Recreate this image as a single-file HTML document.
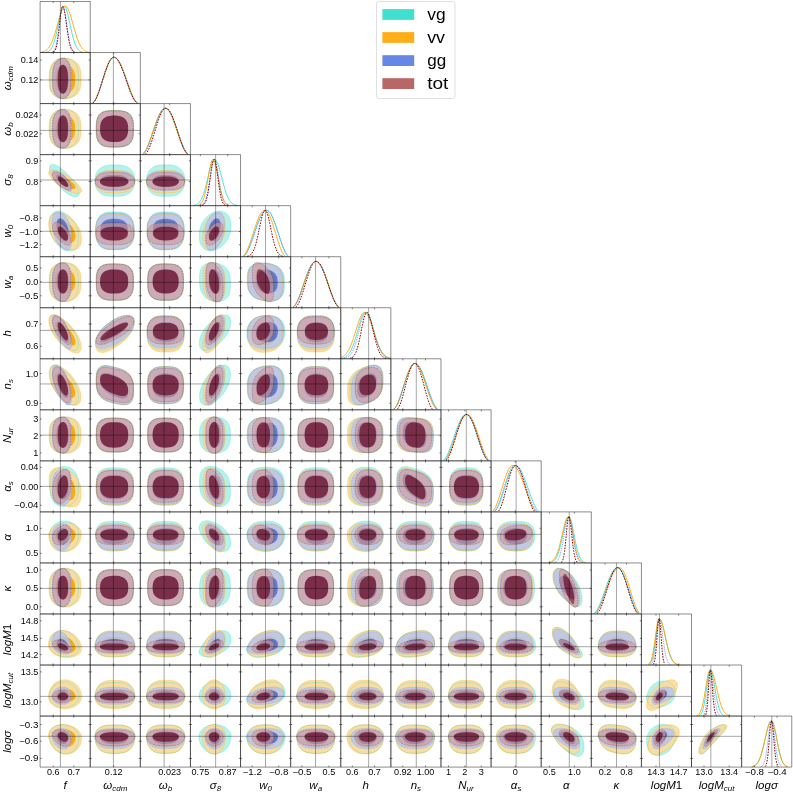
<!DOCTYPE html><html><head><meta charset="utf-8"><title>corner</title><style>html,body{margin:0;padding:0;background:#fff}svg{display:block}text{font-family:"Liberation Sans",sans-serif;fill:#000}</style></head><body>
<svg width="793" height="792" viewBox="0 0 793 792">
<rect width="793" height="792" fill="#fff"/>
<defs>
<path id="ovg" d="M785 792l0-32l-2-33l-5-33l-9-32l-15-27l-19-21l-21-15l-22-10l-22-7l-22-3l-22 0l-20 3l-21 7l-20 10l-19 15l-18 21l-14 27l-8 32l-5 33l-1 33l0 32l0 30l1 30l5 31l8 29l14 24l18 20l19 14l20 9l21 6l20 3l22 0l22-3l22-6l22-9l21-14l19-20l15-24l9-29l5-31l2-30zM785 1288l0-30l-2-31l-5-32l-10-29l-16-25l-20-19l-22-14l-22-9l-23-5l-23-3l-21 1l-21 4l-21 7l-21 11l-19 17l-17 22l-12 27l-7 31l-3 31l0 31l0 30l0 31l3 32l7 30l12 28l17 22l19 16l21 11l21 8l21 3l21 1l23-2l23-6l22-9l22-13l20-19l16-25l10-30l5-31l2-31zM1337 1288l0-26l-1-28l-4-28l-8-28l-15-27l-22-21l-28-14l-30-7l-31-4l-29-1l-28 0l-26 0l-26 1l-28 4l-28 7l-26 14l-20 21l-14 27l-7 28l-4 28l-1 28l0 26l0 27l1 27l4 28l7 29l14 26l20 21l26 14l28 8l28 3l26 1l26 0l28 0l29-1l31-3l30-8l28-14l22-21l15-26l8-29l4-28l1-27zM791 1934l-2-19l-7-23l-11-24l-14-27l-19-27l-21-28l-23-27l-25-25l-26-24l-25-21l-23-17l-23-14l-20-9l-18-5l-15 0l-12 5l-8 9l-4 13l0 18l4 20l8 24l12 25l15 27l18 28l20 27l23 27l23 25l25 22l26 19l25 16l23 11l21 7l19 2l14-2l11-7l7-11zM1351 1807l-2-23l-4-23l-8-23l-12-23l-16-21l-23-18l-27-13l-31-9l-32-3l-32-1l-30 0l-28 0l-29 2l-30 6l-27 11l-23 16l-18 20l-13 21l-9 23l-5 23l-3 23l0 23l3 23l5 23l9 23l13 21l18 20l23 16l27 11l30 6l29 2l28 0l30 0l32-1l32-3l31-9l27-13l23-18l16-21l12-23l8-23l4-23zM1850 1807l-2-24l-4-23l-7-24l-12-23l-16-21l-22-18l-27-13l-29-8l-31-3l-29 0l-29 0l-29 0l-31 3l-29 8l-27 13l-22 18l-16 21l-12 23l-7 24l-4 23l-2 24l2 23l4 23l7 24l12 23l16 21l22 18l27 13l29 8l31 3l29 0l29 0l29 0l31-3l29-8l27-13l22-18l16-21l12-23l7-24l4-23zM788 2378l-1-29l-4-30l-7-30l-12-31l-15-29l-18-27l-21-24l-22-20l-23-17l-23-13l-22-10l-21-6l-20-2l-20 3l-18 7l-16 13l-12 18l-9 22l-5 26l-2 27l0 29l2 29l5 30l9 31l12 31l16 28l18 25l20 22l20 19l21 15l22 11l23 8l23 4l22 0l21-5l18-11l15-15l12-20l7-24l4-27zM1344 2309l-1-27l-2-27l-6-28l-10-28l-16-26l-21-22l-27-16l-30-9l-31-5l-30-1l-29 0l-26 0l-28 1l-28 5l-28 9l-24 16l-20 22l-14 26l-10 28l-5 28l-3 27l0 27l0 27l3 28l5 28l10 27l14 26l20 22l24 16l28 10l28 4l28 1l26 1l29-1l30-1l31-4l30-10l27-16l21-22l16-26l10-27l6-28l2-28zM1843 2309l0-27l-3-27l-5-28l-9-28l-15-26l-19-22l-25-16l-28-9l-28-5l-28-1l-26 0l-27 0l-28 1l-28 5l-28 9l-25 16l-19 22l-15 26l-9 28l-5 28l-3 27l0 27l0 27l3 28l5 28l9 27l15 26l19 22l25 16l28 10l28 4l28 1l27 1l26-1l28-1l28-4l28-10l25-16l19-22l15-26l9-27l5-28l3-28zM2307 2260l-1-28l-3-27l-7-25l-11-22l-15-18l-17-14l-20-9l-21-5l-22-1l-23 3l-23 6l-23 10l-22 13l-22 17l-21 20l-18 23l-16 26l-13 28l-9 30l-5 29l-2 28l0 28l2 28l5 26l9 24l13 20l16 16l18 11l21 7l22 3l22-1l23-4l23-8l23-12l22-15l21-18l20-21l17-25l15-28l11-28l7-30l3-29zM785 2815l0-29l-2-30l-5-30l-10-28l-16-24l-20-19l-22-13l-22-9l-23-5l-23-2l-21 1l-21 3l-21 7l-21 11l-19 16l-17 21l-12 26l-7 30l-3 30l0 30l0 30l0 31l3 32l7 32l12 28l17 22l19 17l21 12l21 7l21 4l21 0l23-2l23-5l22-10l22-14l20-19l16-26l10-30l5-32l2-32zM1337 2815l0-25l-1-26l-4-28l-8-27l-15-25l-22-20l-28-14l-30-7l-31-3l-29-1l-28-1l-26 1l-26 1l-28 3l-28 7l-26 14l-20 20l-14 25l-7 27l-4 28l-1 26l0 25l0 27l1 28l4 29l7 29l14 27l20 22l26 14l28 8l28 3l26 1l26 0l28 0l29-1l31-3l30-8l28-14l22-22l15-27l8-29l4-29l1-28zM1837 2815l0-26l-1-27l-4-28l-8-27l-15-26l-22-20l-27-13l-28-6l-28-3l-28 0l-26-1l-27 1l-28 1l-28 5l-28 9l-25 16l-19 23l-11 27l-6 28l-2 28l0 26l0 27l0 28l2 29l6 30l11 29l19 24l25 18l28 10l28 5l28 1l27 0l26 0l28 0l28-3l28-7l27-14l22-21l15-27l8-30l4-30l1-28zM2304 2835l-1-29l-1-30l-5-30l-10-28l-15-26l-20-21l-22-16l-23-12l-23-9l-23-5l-23-3l-23 0l-23 3l-23 6l-21 11l-20 16l-15 22l-10 26l-5 29l-2 29l0 28l0 29l2 31l5 32l10 31l15 27l20 23l21 17l23 13l23 9l23 6l23 3l23 0l23-3l23-7l22-11l20-18l15-23l10-28l5-31l1-31zM2844 2835l0-28l-1-27l-4-28l-10-27l-16-26l-21-22l-25-16l-27-12l-28-8l-27-5l-27-3l-26-2l-27 0l-28 2l-27 7l-25 11l-22 17l-15 23l-10 26l-4 27l-1 27l0 26l0 26l1 29l4 30l10 30l15 27l22 23l25 17l27 13l28 8l27 6l26 3l27 2l27 1l28-3l27-7l25-12l21-19l16-24l10-27l4-29l1-29zM788 3450l-2-22l-5-24l-9-27l-14-29l-17-30l-21-29l-22-27l-24-26l-25-23l-24-20l-23-17l-22-13l-21-9l-18-4l-17 1l-12 6l-9 12l-5 16l-1 20l1 22l5 24l9 27l12 29l17 30l18 29l21 27l22 26l23 23l24 20l25 17l24 13l22 9l21 4l17-1l14-6l9-12l5-16zM1344 3223l-1-19l-5-16l-9-14l-14-11l-18-7l-22-2l-25 2l-28 6l-29 10l-29 12l-29 15l-28 17l-27 19l-26 21l-24 23l-22 25l-19 25l-14 26l-11 24l-6 22l-3 21l0 19l3 18l6 16l11 12l14 9l19 4l22 1l24-4l26-8l27-12l28-14l29-15l29-18l29-20l28-23l25-24l22-25l18-25l14-25l9-23l5-22zM1843 3327l0-24l-3-25l-5-26l-10-25l-16-23l-21-19l-26-14l-28-8l-29-3l-28-1l-27 0l-28 0l-28 2l-29 6l-28 10l-24 17l-18 21l-12 25l-8 25l-4 25l-1 25l0 25l1 25l4 25l8 25l12 25l18 21l24 17l28 10l29 6l28 2l28 0l27 0l28-1l29-3l28-8l26-14l21-19l16-23l10-25l5-26l3-25zM2307 3222l-2-21l-4-18l-9-15l-13-11l-16-6l-20-1l-21 3l-23 8l-25 11l-24 15l-25 18l-24 21l-23 24l-22 25l-19 27l-16 28l-13 28l-9 27l-5 25l-1 23l1 21l5 18l9 15l13 11l16 6l19 1l22-3l23-8l24-11l25-15l24-18l25-21l23-24l21-25l20-27l16-28l13-28l9-27l4-25zM2848 3319l-1-25l-3-25l-7-25l-12-24l-17-21l-21-17l-25-13l-27-8l-28-5l-28-1l-27 1l-28 3l-28 5l-28 9l-26 13l-23 17l-19 21l-14 24l-10 25l-5 25l-2 26l0 25l2 25l5 25l10 24l14 22l19 20l23 15l26 10l28 7l28 2l28 0l27-1l28-4l28-7l27-11l25-15l21-19l17-23l12-24l7-25l3-26zM3344 3327l-1-25l-3-26l-6-26l-10-25l-15-23l-22-20l-26-13l-28-7l-28-2l-27-1l-28 0l-29 1l-31 2l-30 7l-27 13l-23 20l-17 23l-11 25l-6 26l-3 26l0 25l0 26l3 26l6 26l11 25l17 23l23 20l27 13l30 7l31 2l29 1l28 0l27-1l28-2l28-7l26-13l22-20l15-23l10-25l6-26l3-26zM785 3972l-1-25l-5-27l-8-28l-11-30l-15-31l-17-31l-20-29l-21-27l-22-24l-23-22l-21-17l-21-14l-20-10l-19-6l-17 0l-15 4l-12 10l-9 15l-6 19l-2 23l0 25l2 27l6 29l9 31l12 31l15 30l17 28l19 27l20 25l21 22l21 18l23 15l22 12l21 7l20 3l17-2l15-7l11-12l8-16l5-20zM1337 3901l0-25l-1-27l-4-29l-9-30l-15-29l-22-27l-28-21l-30-15l-30-11l-29-8l-28-7l-26-6l-26-6l-28-4l-27 1l-26 7l-20 16l-14 22l-8 26l-3 27l-2 27l0 26l0 27l2 27l3 28l8 28l14 29l20 25l26 20l27 15l28 10l26 8l26 6l28 7l29 5l30 4l30-1l28-7l22-15l15-22l9-24l4-26l1-26zM1837 3856l0-27l-1-28l-4-29l-8-29l-14-27l-20-22l-25-15l-28-8l-28-3l-27-1l-25-1l-26 1l-27 1l-28 3l-28 8l-25 15l-20 22l-14 27l-8 29l-4 29l-1 28l0 27l0 26l1 27l4 27l8 28l14 25l20 21l25 14l28 8l28 4l27 1l26 0l25 0l27-1l28-4l28-8l25-14l20-21l14-25l8-28l4-27l1-27zM2304 3744l-2-24l-4-22l-8-19l-11-14l-14-9l-18-5l-19 0l-22 5l-22 10l-23 13l-23 16l-22 20l-23 23l-21 26l-19 28l-18 30l-14 30l-12 30l-8 28l-4 27l-1 25l1 24l4 21l8 18l12 13l14 9l18 5l19-1l21-4l23-9l22-13l23-16l23-19l22-22l22-24l19-27l18-29l14-29l11-31l8-29l4-29zM2844 3836l0-28l-2-28l-4-29l-10-27l-16-24l-21-19l-25-12l-27-8l-27-3l-27 1l-27 2l-26 3l-27 6l-27 9l-27 12l-25 18l-21 23l-16 27l-10 30l-5 29l-1 29l0 28l0 26l1 28l5 27l10 26l16 23l21 18l25 12l27 7l27 3l27-1l26-2l27-3l27-5l27-9l27-12l25-17l21-22l16-26l10-28l4-29l2-27zM3337 3856l0-27l-1-28l-3-29l-8-29l-13-27l-20-22l-24-15l-27-8l-26-3l-26-1l-25-1l-27 1l-27 1l-28 3l-29 8l-26 15l-20 22l-15 27l-8 29l-3 29l-2 28l0 27l0 26l2 27l3 27l8 28l15 25l20 21l26 14l29 8l28 4l27 1l27 0l25 0l26-1l26-4l27-8l24-14l20-21l13-25l8-28l3-27l1-27zM3829 3797l-1-27l-1-28l-5-27l-9-24l-15-20l-20-12l-23-6l-24-1l-25 4l-25 7l-24 8l-24 10l-25 12l-25 16l-24 20l-21 24l-18 29l-12 31l-7 30l-2 29l-1 27l0 26l1 26l2 27l7 25l12 21l18 15l21 9l24 3l25-2l25-5l24-7l24-9l25-10l25-14l24-17l23-21l20-26l15-28l9-30l5-29l1-28zM785 4349l0-29l-2-30l-6-30l-12-28l-18-23l-21-17l-24-12l-24-7l-24-4l-23 0l-22 2l-22 5l-22 10l-21 14l-18 20l-14 25l-8 30l-4 30l0 30l0 29l0 30l4 31l8 30l14 26l18 20l21 15l22 9l22 6l22 2l23 0l24-4l24-8l24-12l21-17l18-23l12-28l6-31l2-31zM1337 4349l0-25l-1-25l-4-27l-9-26l-16-25l-24-19l-29-12l-31-6l-31-3l-29-1l-28 0l-27 1l-27 1l-29 4l-28 9l-25 16l-18 22l-12 26l-5 27l-2 26l-1 25l0 25l1 26l2 26l5 28l12 26l18 22l25 16l28 9l29 5l27 1l27 0l28 0l29 0l31-3l31-6l29-13l24-19l16-25l9-27l4-27l1-26zM1837 4349l0-25l-1-26l-4-28l-9-27l-16-24l-23-19l-28-11l-30-6l-28-2l-28-1l-27 0l-28 1l-28 2l-30 6l-28 11l-23 19l-16 24l-9 27l-4 28l-1 26l0 25l0 26l1 27l4 28l9 28l16 24l23 19l28 12l30 6l28 2l28 0l27 0l28 0l28-2l30-6l28-12l23-19l16-24l9-28l4-28l1-27zM2304 4349l-1-28l-1-30l-6-29l-12-28l-17-22l-21-18l-24-12l-24-8l-24-4l-24-1l-24 1l-25 4l-24 8l-23 12l-21 18l-18 22l-11 28l-6 29l-2 30l0 28l0 29l2 30l6 30l11 28l18 24l21 17l23 12l24 8l25 5l24 1l24-1l24-5l24-8l24-12l21-17l17-24l12-28l6-30l1-30zM2844 4349l0-25l-1-27l-5-27l-10-26l-17-23l-22-19l-27-13l-28-8l-28-4l-27-2l-27-1l-28 1l-28 3l-28 7l-27 10l-25 16l-20 21l-13 25l-7 27l-3 26l0 27l0 25l0 27l3 27l7 28l13 25l20 21l25 16l27 11l28 6l28 3l28 1l27 0l27-2l28-4l28-9l27-13l22-19l17-23l10-27l5-28l1-27zM3337 4349l0-25l-1-26l-3-28l-9-27l-15-24l-23-19l-27-11l-28-6l-27-2l-27-1l-27 0l-28 1l-29 2l-31 6l-28 11l-24 19l-17 24l-9 27l-4 28l-1 26l0 25l0 26l1 27l4 28l9 28l17 24l24 19l28 12l31 6l29 2l28 0l27 0l27 0l27-2l28-6l27-12l23-19l15-24l9-28l3-28l1-27zM3829 4349l-1-27l-1-27l-5-29l-10-27l-17-23l-23-18l-25-12l-26-7l-26-3l-26-2l-25 1l-26 2l-26 5l-26 9l-24 15l-20 21l-13 25l-8 28l-3 29l0 27l0 27l0 28l3 29l8 28l13 26l20 21l24 15l26 10l26 5l26 2l25 0l26-1l26-3l26-7l25-13l23-18l17-23l10-28l5-29l1-28zM4333 4358l-1-26l-1-26l-4-27l-9-28l-17-24l-24-20l-29-13l-30-7l-29-4l-28-2l-28-1l-27-1l-28 1l-28 5l-28 10l-23 18l-16 23l-9 26l-4 27l-1 26l0 26l0 26l1 26l4 28l9 28l16 25l23 20l28 13l28 8l28 4l27 1l28 2l28 0l29-1l30-4l29-11l24-17l17-24l9-27l4-28l1-26zM785 4864l0-30l-2-32l-6-31l-11-29l-15-25l-20-20l-21-14l-22-10l-23-6l-23-2l-21 1l-21 4l-21 7l-20 12l-19 17l-17 22l-12 28l-7 30l-3 32l-1 31l0 31l1 31l3 31l7 31l12 27l17 23l19 16l20 12l21 8l21 4l21 1l23-3l23-6l22-9l21-14l20-20l15-25l11-29l6-32l2-31zM1337 4864l0-26l-1-28l-4-28l-9-29l-15-26l-22-22l-28-14l-30-8l-30-4l-29-1l-28 0l-26 0l-26 1l-28 4l-27 8l-26 14l-20 22l-14 26l-8 29l-3 28l-2 28l0 26l0 27l2 28l3 28l8 28l14 27l20 21l26 15l27 8l28 3l26 1l26 1l28-1l29-1l30-3l30-8l28-15l22-21l15-27l9-28l4-28l1-28zM1837 4864l0-26l-1-28l-4-28l-8-29l-14-26l-20-22l-25-14l-28-8l-28-4l-27-1l-25 0l-26 0l-27 1l-28 4l-28 8l-25 14l-20 22l-14 26l-8 29l-4 28l-1 28l0 26l0 27l1 28l4 28l8 28l14 27l20 21l25 15l28 8l28 3l27 1l26 1l25-1l27-1l28-3l28-8l25-15l20-21l14-27l8-28l4-28l1-28zM2304 4904l-1-29l-1-29l-5-31l-10-30l-15-28l-18-25l-21-20l-21-16l-23-12l-22-10l-23-6l-22-4l-23-1l-22 3l-21 7l-20 12l-17 18l-12 23l-7 27l-3 28l-1 29l0 29l1 29l3 30l7 31l12 29l17 27l20 22l21 18l22 14l23 11l22 8l23 5l22 2l23 0l21-5l21-10l18-14l15-21l10-25l5-28l1-29zM2844 4864l0-27l-2-29l-4-29l-10-28l-16-25l-21-20l-25-15l-27-10l-27-6l-27-3l-27-1l-26 1l-27 3l-27 6l-27 10l-25 15l-21 20l-16 25l-10 28l-5 29l-1 29l0 27l0 28l1 28l5 29l10 28l16 25l21 21l25 15l27 10l27 6l27 3l26 0l27 0l27-3l27-6l27-10l25-15l21-21l16-25l10-28l4-29l2-28zM3337 4864l0-26l-1-28l-3-28l-8-29l-13-26l-20-22l-24-14l-27-8l-26-4l-26-1l-25 0l-27 0l-27 1l-28 4l-29 8l-26 14l-20 22l-15 26l-8 29l-3 28l-2 28l0 26l0 27l2 28l3 28l8 28l15 27l20 21l26 15l29 8l28 3l27 1l27 1l25-1l26-1l26-3l27-8l24-15l20-21l13-27l8-28l3-28l1-28zM3829 4864l-1-28l-1-29l-5-30l-9-28l-15-25l-20-21l-23-14l-24-10l-25-5l-25-2l-24 0l-24 1l-25 3l-25 7l-24 12l-21 18l-18 23l-12 27l-7 29l-2 30l-1 28l0 28l1 29l2 29l7 30l12 27l18 23l21 17l24 12l25 7l25 4l24 1l24 0l25-2l25-6l24-9l23-15l20-20l15-25l9-29l5-29l1-29zM4333 4920l-1-25l-1-27l-4-28l-8-30l-15-29l-21-26l-26-22l-28-16l-28-13l-28-9l-26-8l-26-8l-26-7l-27-5l-27 0l-25 6l-20 14l-14 20l-8 24l-4 26l-1 26l0 25l0 26l1 27l4 28l8 29l14 29l20 27l25 21l27 17l27 12l26 10l26 8l26 8l28 7l28 4l28 1l26-6l21-14l15-20l8-25l4-26l1-25zM4830 4864l0-28l-1-29l-4-29l-9-30l-14-27l-21-20l-26-13l-27-7l-26-2l-25-1l-25 0l-26 1l-27 2l-27 7l-26 13l-21 20l-15 27l-9 30l-4 29l-1 29l-1 28l1 28l1 29l4 30l9 30l15 26l21 21l26 13l27 7l27 2l26 1l25 0l25-1l26-2l27-7l26-13l21-21l14-26l9-30l4-30l1-29zM788 5339l-2-24l-6-24l-11-22l-17-20l-20-16l-23-12l-26-8l-26-4l-27 0l-25 4l-24 9l-22 12l-20 16l-17 20l-13 22l-8 24l-4 25l0 28l4 30l8 28l13 26l17 22l20 17l22 12l24 7l25 2l27-2l26-8l26-12l23-18l20-22l17-25l11-28l6-30zM1344 5346l-1-20l-4-21l-8-20l-12-20l-19-19l-25-15l-30-10l-32-5l-32-2l-32 0l-29 0l-29 1l-31 3l-29 8l-25 12l-20 17l-14 20l-10 20l-5 21l-2 20l0 22l2 25l5 25l10 25l14 24l20 20l25 16l29 9l31 4l29 1l29 0l32 0l32-3l32-6l30-12l25-18l19-23l12-24l8-25l4-25zM1843 5346l-1-21l-3-21l-8-21l-12-20l-18-19l-25-14l-29-10l-30-4l-31-2l-29 0l-30 0l-31 2l-30 4l-29 10l-25 14l-18 19l-12 20l-8 21l-3 21l-1 21l1 25l3 26l8 26l12 25l18 22l25 18l29 11l30 6l31 2l30 0l29 0l31-2l30-6l29-11l25-18l18-22l12-25l8-26l3-26zM2307 5430l-2-26l-6-27l-10-28l-15-25l-19-23l-22-21l-24-19l-26-17l-27-14l-26-11l-26-7l-25-4l-24 0l-20 4l-17 8l-13 13l-8 16l-4 18l0 21l4 21l8 23l13 26l17 29l20 27l24 25l25 22l26 18l26 15l27 12l26 7l24 2l22-2l19-8l15-13l10-17l6-22zM2848 5346l-1-21l-5-20l-9-20l-13-20l-19-17l-22-14l-27-11l-28-7l-29-4l-29-1l-29 1l-30 2l-29 5l-27 9l-25 13l-20 16l-16 18l-11 20l-7 20l-3 21l0 23l3 25l7 25l11 24l16 22l20 19l25 16l27 10l29 7l30 3l29 0l29-1l29-5l28-8l27-14l22-17l19-21l13-23l9-25l5-25zM3344 5346l-1-21l-4-21l-7-21l-12-20l-18-19l-23-14l-28-10l-29-4l-30-2l-28 0l-30 0l-31 2l-32 4l-30 10l-25 14l-18 19l-13 20l-7 21l-4 21l-1 21l1 25l4 26l7 26l13 25l18 22l25 18l30 11l32 6l31 2l30 0l28 0l30-2l29-6l28-11l23-18l18-22l12-25l7-26l4-26zM3832 5346l-2-22l-4-22l-10-22l-14-20l-19-18l-24-14l-26-9l-28-6l-28-2l-28 0l-28 2l-28 6l-26 9l-23 14l-20 18l-14 20l-9 22l-5 22l-2 22l2 27l5 27l9 27l14 24l20 21l23 17l26 12l28 6l28 3l28 0l28-3l28-6l26-12l24-17l19-21l14-24l10-27l4-27zM4339 5346l-1-21l-4-21l-8-21l-13-20l-19-18l-25-14l-29-10l-32-5l-31-2l-30 0l-29 0l-30 2l-30 5l-28 10l-24 14l-18 18l-13 20l-7 21l-4 21l-1 21l1 25l4 26l7 25l13 25l18 22l24 18l28 11l30 6l30 3l29 0l30 0l31-3l32-6l29-11l25-18l19-22l13-25l8-25l4-26zM4836 5346l-1-22l-4-22l-8-22l-13-21l-19-19l-25-14l-29-8l-29-3l-29-1l-29 0l-30 1l-30 3l-29 8l-26 14l-19 19l-13 21l-8 22l-4 22l-1 22l1 27l4 27l8 27l13 26l19 22l26 17l29 10l30 4l30 1l29 0l29-1l29-4l29-10l25-17l19-22l13-26l8-27l4-27zM5350 5346l-1-21l-4-21l-8-21l-13-20l-18-18l-25-14l-29-10l-30-5l-31-2l-30 0l-30 0l-31 2l-30 5l-29 10l-25 14l-18 18l-13 20l-8 21l-4 21l-1 21l1 25l4 26l8 25l13 25l18 22l25 18l29 11l30 6l31 3l30 0l30 0l31-3l30-6l29-11l25-18l18-22l13-25l8-25l4-26zM785 5876l0-30l-2-30l-6-30l-11-29l-15-24l-20-19l-21-14l-22-9l-23-5l-23-3l-21 1l-21 4l-21 7l-20 12l-19 16l-17 22l-12 26l-7 30l-3 30l-1 30l0 30l1 30l3 31l7 29l12 27l17 22l19 16l20 11l21 8l21 4l21 0l23-2l23-5l22-10l21-14l20-19l15-24l11-28l6-31l2-30zM1337 5876l0-26l-1-26l-4-28l-9-27l-15-26l-22-21l-28-14l-30-8l-30-3l-29-1l-28 0l-26 0l-26 1l-28 3l-27 8l-26 14l-20 21l-14 26l-8 27l-3 28l-2 26l0 26l0 26l2 27l3 27l8 28l14 26l20 20l26 14l27 8l28 4l26 1l26 0l28 0l29-1l30-4l30-8l28-14l22-20l15-26l9-28l4-27l1-27zM1837 5876l0-26l-1-28l-4-28l-9-28l-15-26l-21-20l-27-13l-28-8l-28-2l-28-1l-26 0l-27 0l-27 2l-29 4l-28 10l-24 17l-19 24l-11 27l-6 28l-3 28l0 27l0 26l0 27l3 28l6 29l11 27l19 23l24 17l28 10l29 5l27 2l27 0l26 0l28-1l28-3l28-7l27-13l21-21l15-26l9-28l4-28l1-27zM2304 5867l-1-29l-2-30l-5-29l-10-28l-16-23l-19-18l-21-12l-23-9l-23-5l-23-1l-23 1l-23 5l-23 7l-22 12l-22 15l-19 20l-15 26l-10 28l-6 30l-2 30l0 29l0 29l2 29l6 30l10 27l15 23l19 18l22 13l22 8l23 5l23 2l23-2l23-4l23-8l23-11l21-16l19-20l16-25l10-29l5-30l2-29zM2844 5876l0-27l-2-27l-4-28l-10-27l-16-25l-21-19l-25-15l-27-10l-27-5l-27-3l-27-1l-26 1l-27 3l-27 5l-27 10l-25 15l-21 19l-16 25l-10 27l-5 28l-1 27l0 27l0 27l1 28l5 27l10 28l16 24l21 20l25 15l27 9l27 6l27 3l26 0l27 0l27-3l27-6l27-9l25-15l21-20l16-24l10-28l4-27l2-28zM3337 5876l0-26l-1-28l-4-28l-8-28l-14-26l-21-20l-25-13l-28-8l-27-2l-26-1l-26 0l-27 0l-28 2l-30 4l-28 10l-25 17l-19 24l-12 27l-6 28l-2 28l-1 27l0 26l1 27l2 28l6 29l12 27l19 23l25 17l28 10l30 5l28 2l27 0l26 0l26-1l27-3l28-7l25-13l21-21l14-26l8-28l4-28l1-27zM3829 5876l-1-28l-1-29l-5-29l-10-28l-16-25l-21-19l-24-14l-25-8l-25-5l-25-1l-25 0l-25 1l-26 5l-25 8l-24 14l-20 19l-16 25l-10 28l-5 29l-2 29l0 28l0 28l2 29l5 29l10 29l16 24l20 20l24 13l25 9l26 4l25 2l25 0l25-2l25-4l25-9l24-13l21-20l16-24l10-29l5-29l1-29zM4333 5876l-1-26l-1-28l-4-28l-9-27l-16-26l-22-20l-27-13l-29-8l-29-3l-28-1l-27 0l-26 0l-27 2l-28 5l-27 11l-24 16l-18 23l-12 27l-6 28l-3 28l0 27l0 26l0 27l3 28l6 28l12 27l18 23l24 17l27 10l28 6l27 1l26 1l27 0l28-1l29-4l29-7l27-14l22-20l16-25l9-28l4-28l1-27zM4830 5876l0-27l-1-28l-4-29l-9-29l-14-25l-21-20l-26-13l-27-6l-26-3l-25 0l-25 0l-26 0l-27 3l-27 6l-26 13l-21 20l-15 25l-9 29l-4 29l-1 28l-1 27l1 27l1 28l4 29l9 29l15 26l21 20l26 13l27 6l27 2l26 1l25 0l25-1l26-2l27-6l26-13l21-20l14-26l9-29l4-29l1-28zM5344 5876l0-26l-2-28l-4-28l-9-27l-15-26l-22-20l-27-13l-28-8l-29-3l-27-1l-27 0l-27 0l-28 2l-28 5l-28 11l-25 16l-18 23l-12 27l-7 28l-2 28l-1 27l0 26l1 27l2 28l7 28l12 27l18 23l25 17l28 10l28 6l28 1l27 1l27 0l27-1l29-4l28-7l27-14l22-20l15-25l9-28l4-28l2-27zM5820 5988l-1-24l-4-27l-7-28l-10-30l-13-30l-16-29l-19-28l-19-25l-20-21l-21-19l-25-17l-24-13l-24-9l-22-4l-20 1l-16 7l-13 13l-8 16l-5 21l-1 22l1 24l5 27l8 28l13 30l16 30l20 30l22 27l24 25l24 22l25 19l21 16l20 14l19 9l19 4l16-2l13-7l10-12l7-17l4-20zM791 6484l-3-21l-8-31l-14-29l-18-27l-22-23l-25-20l-28-14l-29-9l-28-3l-26 3l-25 8l-22 14l-18 19l-15 23l-10 27l-5 29l0 30l5 22l10 18l15 17l18 16l22 13l25 10l26 7l28 4l29 0l28-4l25-6l22-10l18-13l14-15l8-17zM1351 6469l-2-24l-5-25l-9-24l-14-24l-20-22l-27-17l-31-12l-34-6l-35-1l-33-1l-30 1l-31 1l-32 6l-29 12l-25 17l-18 22l-13 24l-8 24l-5 25l-1 24l1 15l5 15l8 14l13 15l18 13l25 11l29 7l32 3l31 1l30 0l33 0l35-1l34-3l31-7l27-11l20-13l14-15l9-14l5-15zM1850 6469l-2-25l-5-25l-9-25l-13-24l-20-22l-26-17l-31-11l-32-5l-32-2l-31 0l-32 1l-32 3l-32 7l-29 15l-23 19l-16 24l-11 24l-7 25l-3 25l0 21l3 15l7 15l11 15l16 14l23 12l29 9l32 4l32 2l32 0l31 0l32 0l32-3l31-7l26-10l20-14l13-14l9-16l5-15zM2310 6388l-3-24l-7-20l-13-16l-17-12l-20-7l-24-2l-27 4l-28 8l-28 14l-29 17l-27 22l-25 25l-23 27l-19 28l-14 24l-10 18l-6 16l0 16l6 13l10 11l14 9l19 5l23 3l25 0l27-4l29-7l28-9l28-12l27-14l24-16l20-17l17-18l13-28l7-28zM2852 6421l-2-23l-7-23l-11-20l-15-18l-20-15l-25-10l-28-4l-31 0l-31 4l-31 7l-32 10l-31 13l-29 16l-27 21l-22 23l-18 25l-14 26l-8 22l-4 15l0 15l4 14l8 13l14 12l18 10l22 7l27 5l29 1l31-1l32-4l31-5l31-7l31-8l28-12l25-13l20-15l15-16l11-15l7-25zM3350 6469l-2-25l-5-25l-8-25l-13-24l-19-22l-25-17l-30-11l-31-5l-30-2l-31 0l-32 1l-33 3l-33 7l-29 15l-24 19l-17 24l-11 24l-7 25l-3 25l0 21l3 15l7 15l11 15l17 14l24 12l29 9l33 4l33 2l32 0l31 0l30 0l31-3l30-7l25-10l19-14l13-14l8-16l5-15zM3835 6421l-2-25l-7-24l-11-22l-16-19l-22-13l-25-9l-29-2l-30 3l-30 8l-30 9l-30 13l-28 18l-26 23l-21 25l-17 28l-11 28l-7 20l-2 16l2 16l7 14l11 13l17 11l21 9l26 5l28 1l30-2l30-4l30-6l30-8l29-11l25-13l22-16l16-17l11-17l7-25zM4346 6438l-2-24l-5-24l-10-23l-15-21l-20-18l-26-12l-31-6l-33-1l-33 4l-32 5l-31 5l-32 9l-31 13l-27 19l-23 22l-16 25l-12 26l-7 26l-3 17l0 15l3 15l7 14l12 13l16 12l23 10l27 5l31 2l32-1l31-3l32-3l33-4l33-6l31-10l26-13l20-14l15-16l10-15l5-18zM4842 6469l-2-26l-5-27l-9-26l-14-25l-21-22l-27-17l-30-9l-32-3l-30-1l-31 0l-31 2l-32 6l-30 13l-24 19l-18 24l-11 26l-8 26l-3 27l0 21l3 16l8 16l11 16l18 14l24 12l30 8l32 3l31 1l31 0l30 0l32-2l30-5l27-10l21-14l14-15l9-16l5-16zM5357 6469l-2-25l-5-25l-10-25l-14-24l-20-21l-26-17l-31-11l-32-6l-32-2l-32 0l-32 1l-32 3l-32 9l-29 14l-23 19l-17 23l-12 24l-7 25l-3 25l0 21l3 15l7 15l12 15l17 14l23 11l29 9l32 5l32 2l32 0l32 0l32-1l32-3l31-7l26-10l20-13l14-15l10-15l5-15zM5825 6550l-2-14l-5-16l-10-18l-13-19l-17-21l-19-34l-22-32l-23-29l-24-26l-29-24l-28-20l-26-14l-24-8l-20-2l-16 5l-12 10l-7 16l-2 20l2 24l7 27l12 30l16 33l20 31l24 20l26 18l28 17l29 16l24 13l23 12l22 8l19 5l17 1l13-3l10-6l5-9zM6361 6469l-1-26l-6-25l-9-26l-15-24l-21-22l-26-16l-31-11l-32-4l-32-2l-32 0l-32 2l-32 4l-31 11l-27 16l-20 22l-15 24l-10 26l-5 25l-2 26l2 16l5 15l10 16l15 14l20 13l27 10l31 7l32 3l32 0l32 0l32 0l32-3l31-7l26-10l21-13l15-14l9-16l6-15zM791 6967l-3-28l-8-27l-14-25l-18-22l-22-19l-25-14l-28-9l-29-4l-28 2l-26 6l-25 12l-22 16l-18 20l-15 24l-10 26l-5 28l0 24l5 20l10 19l15 17l18 15l22 12l25 8l26 5l28 1l29-3l28-6l25-11l22-13l18-16l14-18l8-20zM1351 6967l-2-23l-5-22l-9-22l-14-22l-20-19l-27-16l-31-11l-34-5l-35-2l-33 0l-30 0l-31 2l-32 5l-29 11l-25 16l-18 19l-13 22l-8 22l-5 22l-1 23l1 16l5 16l8 16l13 16l18 15l25 11l29 8l32 4l31 1l30 0l33 0l35-1l34-4l31-8l27-11l20-15l14-16l9-16l5-16zM1850 6967l-2-23l-5-23l-9-23l-13-22l-20-20l-26-15l-31-10l-32-5l-32-1l-31 0l-32 0l-32 3l-32 7l-29 13l-23 18l-16 21l-11 22l-7 23l-3 23l0 20l3 17l7 16l11 17l16 15l23 14l29 9l32 5l32 2l32 0l31 0l32-1l32-3l31-7l26-12l20-14l13-16l9-17l5-17zM2310 6967l-3-27l-8-27l-13-24l-18-22l-22-18l-25-14l-27-10l-29-5l-30 0l-29 5l-27 10l-26 14l-21 18l-18 22l-13 24l-8 27l-3 27l3 19l8 20l13 17l18 16l21 14l26 10l27 7l29 4l30 0l29-4l27-7l25-10l22-14l18-16l13-17l8-20zM2852 6923l-2-21l-7-21l-11-19l-15-16l-20-13l-25-9l-28-5l-31 1l-31 4l-31 6l-32 9l-31 11l-29 16l-27 19l-22 21l-18 23l-14 23l-8 21l-4 17l0 16l4 16l8 14l14 13l18 11l22 8l27 5l29 1l31-1l32-4l31-6l31-7l31-10l28-12l25-15l20-16l15-17l11-17l7-23zM3350 6967l-2-24l-5-23l-9-24l-14-22l-20-20l-26-15l-31-10l-32-3l-32-1l-31 0l-34 1l-34 3l-33 10l-28 15l-21 20l-15 22l-10 24l-5 23l-2 24l2 17l5 17l10 17l15 16l21 15l28 11l33 7l34 3l34 0l31 0l32 0l32-3l31-7l26-11l20-15l14-16l9-17l5-17zM3835 6967l-2-26l-7-24l-11-24l-16-22l-22-19l-25-15l-29-9l-30-5l-30-1l-30 1l-30 5l-28 9l-26 15l-21 19l-17 22l-11 24l-7 24l-2 26l2 18l7 18l11 17l17 16l21 14l26 11l28 7l30 4l30 0l30 0l30-4l29-7l25-11l22-14l16-16l11-17l7-18zM4346 6967l-2-23l-5-23l-10-23l-15-21l-20-20l-26-15l-31-11l-33-5l-33-1l-32 0l-31 0l-32 3l-31 8l-27 13l-23 18l-16 20l-12 23l-7 22l-3 23l0 20l3 17l7 16l12 16l16 16l23 13l27 9l31 6l32 2l31 0l32 0l33-1l33-4l31-7l26-11l20-15l15-16l10-16l5-17zM4842 6967l-2-24l-5-25l-9-24l-14-22l-21-21l-27-14l-30-9l-32-3l-30 0l-31 0l-31 1l-32 6l-30 11l-24 18l-18 22l-11 23l-8 24l-3 25l0 20l3 18l8 18l11 17l18 16l24 13l30 8l32 4l31 1l31 0l30 0l32-2l30-6l27-11l21-15l14-17l9-17l5-18zM5357 6967l-2-23l-5-23l-10-23l-14-21l-20-20l-26-15l-31-11l-32-5l-32-1l-32 0l-32 0l-32 3l-32 8l-29 13l-23 18l-17 20l-12 23l-7 22l-3 23l0 20l3 17l7 16l12 16l17 16l23 13l29 9l32 6l32 2l32 0l32 0l32-1l32-4l31-7l26-11l20-15l14-16l10-16l5-17zM5841 7037l-2-20l-7-22l-11-23l-15-26l-19-26l-23-25l-25-22l-26-18l-28-16l-28-12l-28-8l-25-3l-23 3l-19 7l-14 13l-9 16l-5 19l0 23l5 24l9 26l14 26l19 23l23 22l25 20l28 17l28 15l28 12l26 9l25 5l23 0l19-5l15-8l11-13l7-15zM6361 6982l-1-17l-6-24l-9-24l-15-24l-21-21l-26-18l-31-13l-32-8l-32-5l-32-3l-32-3l-32 1l-31 6l-27 12l-20 17l-15 20l-10 22l-5 22l-2 23l2 23l5 18l10 17l15 17l20 16l27 13l31 10l32 5l32 4l32 2l32 2l32 0l31-5l26-8l21-13l15-15l9-16l6-16zM6755 6927l-3-27l-8-25l-13-22l-18-18l-22-14l-25-9l-28-3l-29 1l-26 7l-26 12l-24 17l-21 20l-18 24l-14 26l-10 28l-5 25l0 22l5 20l10 19l14 16l18 13l21 9l24 5l26 1l26-4l29-7l28-12l25-14l22-18l18-20l13-22l8-22zM791 7382l-3-27l-7-21l-12-20l-16-18l-20-17l-23-13l-26-11l-27-6l-27-3l-25 0l-24 5l-23 8l-20 12l-17 14l-13 17l-9 20l-4 20l0 22l4 30l9 31l13 28l17 26l20 22l23 17l24 13l25 7l27 2l27-4l26-9l23-15l20-19l16-24l12-27l7-29zM1351 7365l-2-17l-4-18l-8-17l-13-17l-18-15l-23-13l-29-10l-32-5l-33-3l-32 0l-30 0l-29 0l-30 3l-30 5l-27 10l-21 13l-17 15l-11 17l-8 17l-4 18l-1 17l1 25l4 25l8 25l11 25l17 23l21 19l27 14l30 8l30 3l29 1l30 0l32-1l33-3l32-8l29-14l23-19l18-23l13-25l8-25l4-25zM1850 7365l-2-18l-4-18l-9-18l-13-18l-18-16l-25-13l-29-8l-32-5l-31-1l-30 0l-31 0l-31 1l-32 5l-29 8l-25 13l-18 16l-13 18l-9 18l-4 18l-2 18l2 26l4 27l9 26l13 26l18 23l25 19l29 13l32 6l31 2l31 0l30 0l31-2l32-6l29-13l25-19l18-23l13-26l9-26l4-27zM2310 7365l-2-20l-7-20l-11-18l-16-17l-18-15l-22-12l-25-9l-25-6l-27-3l-27 1l-27 5l-25 7l-23 11l-21 13l-17 16l-13 18l-9 19l-5 20l0 25l5 29l9 28l13 26l17 23l21 20l23 15l25 11l27 7l27 1l27-4l25-9l25-13l22-18l18-21l16-25l11-27l7-29zM2852 7365l-2-18l-6-18l-10-17l-14-16l-18-15l-22-12l-26-10l-29-7l-29-3l-30-1l-30 0l-30 2l-29 5l-27 8l-24 11l-21 14l-16 16l-12 16l-8 18l-3 18l0 22l3 26l8 26l12 24l16 23l21 20l24 17l27 12l29 7l30 3l30 1l30-2l29-5l29-10l26-14l22-18l18-22l14-24l10-25l6-26zM3350 7365l-2-18l-4-18l-8-18l-13-18l-18-16l-23-13l-28-8l-30-5l-31-1l-29 0l-31 0l-32 1l-33 5l-30 8l-25 13l-19 16l-13 18l-8 18l-5 18l-2 18l2 26l5 27l8 26l13 26l19 23l25 19l30 13l33 6l32 2l31 0l29 0l31-2l30-6l28-13l23-19l18-23l13-26l8-26l4-27zM3835 7365l-2-20l-6-19l-10-18l-15-17l-19-15l-23-12l-26-9l-28-5l-29-2l-28 0l-29 2l-28 5l-26 9l-23 12l-19 15l-15 17l-10 18l-6 19l-2 20l2 28l6 28l10 27l15 25l19 22l23 18l26 13l28 7l29 3l28 0l29-3l28-7l26-13l23-18l19-22l15-25l10-27l6-28zM4346 7365l-2-18l-5-17l-8-18l-13-17l-18-15l-24-13l-28-9l-31-6l-32-2l-31 0l-29 0l-30 1l-30 4l-29 7l-25 11l-20 14l-15 17l-10 17l-6 17l-3 18l0 22l3 25l6 26l10 25l15 24l20 21l25 17l29 10l30 5l30 2l29 0l31 0l32-3l31-8l28-14l24-19l18-22l13-25l8-26l5-25zM4842 7365l-2-19l-4-18l-8-19l-13-18l-18-16l-24-12l-28-8l-30-4l-29-1l-29 0l-29 0l-31 2l-30 6l-26 10l-22 15l-15 17l-11 18l-6 19l-3 19l0 22l3 27l6 28l11 26l15 26l22 21l26 15l30 9l31 3l29 0l29 0l29-1l30-6l28-11l24-19l18-24l13-26l8-27l4-27zM5357 7365l-2-18l-5-17l-8-18l-13-17l-18-15l-23-13l-28-9l-30-6l-31-2l-31 0l-30 0l-30 1l-31 4l-30 7l-25 11l-21 14l-15 17l-11 17l-6 17l-3 18l0 22l3 25l6 26l11 25l15 24l21 21l25 17l30 10l31 5l30 2l30 0l31 0l31-3l30-8l28-14l23-19l18-22l13-25l8-26l5-25zM5841 7473l-2-29l-5-30l-10-32l-13-27l-16-20l-20-20l-22-18l-24-15l-24-14l-27-11l-30-9l-28-6l-27-2l-23 2l-20 5l-16 9l-11 11l-7 14l-2 16l2 18l7 19l11 20l16 26l20 33l23 31l27 29l28 25l30 21l27 18l24 14l24 10l22 3l20-3l16-8l13-14l10-18l5-23zM6361 7398l-1-26l-5-20l-9-19l-13-18l-18-18l-24-15l-28-12l-31-9l-30-5l-30-4l-30-3l-31-2l-30 1l-29 5l-23 9l-19 14l-13 15l-8 16l-5 17l-2 18l2 18l5 24l8 27l13 27l19 26l23 23l29 17l30 12l31 8l30 6l30 5l30 3l31-1l28-8l24-14l18-19l13-23l9-24l5-25zM6755 7364l-2-24l-7-23l-12-21l-15-18l-19-15l-21-11l-25-7l-25-3l-27 2l-24 6l-23 10l-22 14l-19 17l-17 20l-14 22l-10 24l-7 25l-2 29l2 29l7 27l10 25l14 22l17 18l19 13l22 8l23 4l24-2l27-7l25-12l25-17l21-20l19-25l15-26l12-29l7-30zM7251 7263l-3-10l-8-6l-12-2l-17 3l-21 7l-24 10l-26 15l-27 17l-22 20l-20 22l-18 22l-17 32l-13 32l-11 30l-8 27l-4 22l0 18l4 12l8 5l11 0l13-7l17-13l18-18l20-24l22-27l27-31l26-32l24-30l21-22l17-22l12-19l8-17z"/>
<path id="ovv" d="M809 792l0-31l-1-31l-5-32l-10-31l-15-26l-20-21l-22-16l-24-11l-24-7l-24-3l-23-1l-23 2l-23 5l-22 9l-22 13l-21 18l-17 24l-12 29l-6 32l-3 31l-1 32l0 29l1 29l3 30l6 29l12 26l17 23l21 16l22 12l22 8l23 5l23 2l23 0l24-4l24-6l24-10l22-14l20-20l15-24l10-29l5-29l1-29zM809 1288l0-29l-1-30l-6-30l-10-29l-16-24l-21-20l-23-14l-24-9l-25-6l-24-3l-24 0l-23 3l-24 6l-23 9l-22 14l-19 20l-16 24l-10 29l-5 30l-2 30l0 29l0 30l2 30l5 30l10 29l16 25l19 19l22 14l23 9l24 6l23 3l24 0l24-3l25-6l24-9l23-14l21-19l16-25l10-29l6-30l1-30zM1334 1288l0-26l-1-27l-4-28l-8-28l-14-26l-22-20l-28-14l-30-8l-29-3l-29-1l-28 0l-25 0l-27 1l-27 3l-28 8l-25 14l-20 20l-14 26l-7 28l-4 28l-1 27l0 26l0 26l1 27l4 29l7 28l14 26l20 21l25 14l28 7l27 4l27 1l25 0l28 0l29-1l29-4l30-7l28-14l22-21l14-26l8-28l4-29l1-27zM816 1908l-3-15l-9-18l-13-19l-19-21l-23-22l-27-21l-29-21l-31-19l-30-16l-30-15l-27-10l-26-7l-22-4l-18 1l-13 4l-8 9l-3 12l3 15l8 17l13 20l18 21l22 21l26 22l27 20l30 19l30 17l31 14l29 11l27 7l23 3l19 0l13-5l9-8zM1348 1817l-2-19l-6-18l-10-19l-15-18l-23-16l-29-12l-34-7l-36-3l-35-1l-32 0l-33 1l-32 3l-32 7l-27 12l-21 16l-14 18l-9 19l-6 18l-1 19l1 18l6 19l9 18l14 18l21 16l27 12l32 7l32 3l33 1l32 0l35-1l36-3l34-7l29-12l23-16l15-18l10-18l6-19zM1847 1817l-2-19l-5-19l-10-19l-15-19l-22-15l-29-12l-33-7l-34-2l-32-1l-33 1l-34 1l-33 4l-32 9l-25 14l-19 17l-13 19l-7 19l-4 19l0 19l4 19l7 19l13 19l19 17l25 14l32 10l33 4l34 1l33 0l32 0l34-3l33-6l29-12l22-16l15-18l10-19l5-19zM813 2388l-1-26l-4-27l-8-29l-13-28l-17-28l-20-25l-23-23l-24-20l-25-17l-25-14l-25-10l-24-7l-23-3l-22 1l-21 5l-18 11l-14 15l-10 19l-6 23l-2 25l0 25l2 27l6 28l10 29l14 28l18 27l21 24l22 21l23 19l24 15l25 12l25 9l25 5l24 1l23-3l20-8l17-13l13-17l8-22l4-24zM1341 2315l-1-25l-2-25l-6-26l-10-25l-15-24l-22-21l-26-14l-29-9l-31-4l-29-2l-29 0l-26 0l-27 2l-28 4l-27 9l-25 14l-19 21l-15 24l-9 25l-5 26l-2 25l-1 25l1 25l2 26l5 26l9 25l15 24l19 20l25 15l27 9l28 4l27 1l26 0l29 0l29-1l31-4l29-9l26-15l22-20l15-24l10-25l6-26l2-26zM1841 2315l-1-25l-2-26l-6-27l-10-26l-15-24l-20-20l-26-14l-28-8l-29-4l-27-1l-27 0l-28 1l-28 2l-29 5l-27 11l-23 17l-18 23l-13 25l-7 26l-4 27l-2 26l0 25l2 26l4 26l7 27l13 25l18 22l23 18l27 11l29 5l28 2l28 0l27 0l27-1l29-3l28-8l26-14l20-20l15-24l10-26l6-27l2-26zM2252 2261l-1-30l-3-29l-8-25l-11-20l-15-14l-17-9l-18-2l-20 2l-19 8l-20 11l-19 16l-18 21l-17 25l-15 28l-12 32l-7 32l-4 32l-1 31l1 30l4 28l7 26l12 20l15 14l17 8l18 3l19-3l20-7l19-12l20-16l18-20l17-25l15-29l11-31l8-32l3-32zM809 2815l0-28l-1-28l-5-29l-10-27l-15-24l-20-19l-22-14l-24-10l-24-6l-24-3l-23-1l-23 2l-23 5l-22 8l-22 11l-21 17l-17 21l-12 26l-6 28l-3 29l-1 28l0 29l1 30l3 30l6 31l12 27l17 23l21 18l22 12l22 8l23 5l23 2l23 0l24-4l24-6l24-11l22-14l20-21l15-25l10-29l5-31l1-30zM1334 2815l0-25l-1-26l-4-28l-8-27l-14-25l-22-20l-28-14l-30-7l-29-3l-29-1l-28-1l-25 1l-27 1l-27 3l-28 7l-25 14l-20 20l-14 25l-7 27l-4 28l-1 26l0 25l0 27l1 28l4 29l7 29l14 27l20 22l25 14l28 8l27 3l27 1l25 0l28 0l29-1l29-3l30-8l28-14l22-22l14-27l8-29l4-29l1-28zM1835 2815l0-26l-2-27l-3-28l-8-27l-15-26l-21-20l-27-13l-28-6l-28-3l-27 0l-26-1l-27 1l-27 1l-28 5l-28 9l-25 16l-18 23l-12 27l-5 28l-2 28l-1 26l0 27l1 28l2 29l5 30l12 29l18 24l25 18l28 10l28 5l27 1l27 0l26 0l27 0l28-3l28-7l27-14l21-21l15-27l8-30l3-30l2-28zM2250 2835l0-32l-2-33l-4-33l-10-31l-14-26l-17-20l-18-14l-18-11l-18-6l-18-3l-19 0l-18 4l-18 8l-16 15l-14 21l-10 28l-5 31l-1 32l0 31l0 32l1 35l5 35l10 33l14 28l16 21l18 16l18 11l19 6l18 4l18 0l18-5l18-9l17-15l14-22l10-30l4-33l2-34zM2824 2835l0-28l-1-28l-4-29l-10-28l-15-26l-21-21l-25-16l-25-11l-26-8l-26-5l-25-2l-25-2l-26 0l-26 4l-25 8l-23 14l-18 20l-13 25l-6 27l-3 27l0 27l0 27l0 29l3 30l6 30l13 30l18 25l23 20l25 14l26 10l26 6l25 4l25 3l26 1l26-2l25-7l25-11l21-18l15-24l10-28l4-30l1-29zM813 3470l-2-21l-4-24l-9-26l-12-27l-16-29l-18-28l-22-28l-22-27l-24-24l-25-23l-24-19l-24-17l-23-14l-21-10l-21-5l-18-2l-15 4l-11 8l-8 12l-5 17l-1 19l1 21l5 24l8 26l11 27l15 29l18 28l21 28l21 27l23 24l24 23l24 19l25 17l24 14l22 10l22 5l18 2l16-4l12-8l9-13l4-16zM1341 3225l-1-19l-5-18l-9-15l-12-11l-17-8l-21-3l-24 1l-26 6l-28 10l-28 12l-29 16l-26 17l-26 19l-26 22l-24 23l-22 26l-19 26l-16 27l-12 26l-8 25l-4 22l-1 21l1 20l4 18l8 15l12 11l16 8l19 3l22-1l24-6l26-10l26-13l26-15l29-17l28-19l28-22l26-23l24-26l21-27l17-26l12-26l9-25l5-22zM1841 3338l-1-26l-2-26l-5-27l-10-27l-14-24l-19-21l-25-16l-27-9l-28-4l-27-1l-26 0l-27 0l-27 1l-29 4l-27 9l-24 16l-20 21l-14 24l-10 27l-5 27l-2 26l-1 26l1 26l2 26l5 27l10 27l14 24l20 21l24 16l27 9l29 4l27 1l27 0l26 0l27-1l28-4l27-9l25-16l19-21l14-24l10-27l5-27l2-26zM2252 3225l-1-25l-4-21l-7-16l-11-11l-14-5l-16 1l-17 7l-18 11l-19 16l-19 21l-19 23l-18 27l-17 30l-15 32l-12 32l-9 33l-6 30l-2 28l0 26l2 23l6 19l9 13l12 8l15 2l17-4l18-9l19-14l19-18l19-22l18-26l17-28l16-31l14-32l11-33l7-31l4-29zM2828 3329l-1-27l-3-27l-7-27l-11-25l-15-23l-20-19l-23-13l-25-10l-25-4l-26-2l-26 1l-26 3l-26 6l-25 9l-24 14l-21 19l-18 22l-13 26l-9 27l-5 27l-2 28l0 27l2 27l5 27l9 26l13 24l18 21l21 16l24 12l25 6l26 3l26 0l26-2l26-4l25-7l25-12l23-16l20-21l15-24l11-26l7-28l3-27zM3344 3338l-1-26l-2-26l-6-27l-8-27l-14-24l-19-21l-24-16l-27-9l-27-4l-26-1l-26 0l-27 0l-29 1l-29 4l-28 9l-25 16l-21 21l-14 24l-10 27l-5 27l-3 26l0 26l0 26l3 26l5 27l10 27l14 24l21 21l25 16l28 9l29 4l29 1l27 0l26 0l26-1l27-4l27-9l24-16l19-21l14-24l8-27l6-27l2-26zM809 3972l-1-23l-4-26l-8-27l-11-29l-15-29l-18-30l-20-28l-21-27l-23-24l-24-21l-23-19l-23-15l-22-12l-21-8l-20-3l-18 0l-16 6l-12 10l-9 15l-6 19l-3 22l0 23l3 26l6 27l9 30l12 30l16 28l18 28l20 26l21 24l22 22l23 20l23 16l24 13l23 9l21 6l20 1l18-3l15-8l11-12l8-16l4-19zM1334 3901l0-25l-1-27l-4-29l-9-30l-15-29l-21-27l-27-21l-30-15l-29-11l-29-8l-28-7l-25-6l-27-6l-27-4l-27 1l-25 7l-20 16l-14 22l-8 26l-3 27l-2 27l0 26l0 27l2 27l3 28l8 28l14 29l20 25l25 20l27 15l27 10l27 8l25 6l28 7l29 5l29 4l30-1l27-7l21-15l15-22l9-24l4-26l1-26zM1835 3856l-1-28l-1-29l-4-29l-8-30l-15-27l-21-21l-26-14l-28-8l-28-3l-27-1l-26 0l-27 1l-27 1l-28 5l-28 11l-24 18l-18 24l-12 29l-6 30l-2 29l-1 28l0 27l1 27l2 28l6 28l12 28l18 23l24 17l28 10l28 5l27 2l27 0l26 0l27-1l28-3l28-7l26-13l21-21l15-26l8-28l4-28l1-28zM2250 3744l-1-27l-4-23l-7-20l-10-13l-12-8l-15-2l-17 4l-17 9l-18 14l-18 18l-18 23l-18 26l-16 29l-15 32l-13 33l-10 34l-7 32l-3 30l-1 27l1 26l3 23l7 18l10 14l13 7l15 2l16-4l18-9l18-13l18-18l18-21l17-25l17-28l15-31l12-32l10-33l7-33l4-32zM2824 3836l0-28l-1-28l-5-29l-9-27l-15-24l-19-19l-23-12l-25-8l-25-3l-25 1l-25 2l-24 3l-25 6l-25 9l-25 12l-23 18l-20 23l-14 27l-9 30l-5 29l-1 29l0 28l0 26l1 28l5 27l9 26l14 23l20 18l23 12l25 7l25 3l25-1l24-2l25-3l25-5l25-9l25-12l23-17l19-22l15-26l9-28l5-29l1-27zM3337 3856l0-27l-1-28l-3-29l-8-29l-13-27l-20-22l-24-15l-27-8l-26-3l-26-1l-25-1l-27 1l-27 1l-28 3l-29 8l-26 15l-20 22l-15 27l-8 29l-3 29l-2 28l0 27l0 26l2 27l3 27l8 28l15 25l20 21l26 14l29 8l28 4l27 1l27 0l25 0l26-1l26-4l27-8l24-14l20-21l13-25l8-28l3-27l1-27zM3831 3797l0-27l-2-27l-4-26l-10-24l-15-20l-20-13l-24-7l-26-1l-26 3l-26 6l-25 8l-26 9l-26 11l-26 14l-25 18l-24 23l-20 26l-15 30l-10 30l-4 29l-2 27l0 26l0 26l2 25l4 26l10 23l15 18l20 13l24 6l25 2l26-3l26-6l26-7l25-9l26-11l26-13l26-18l24-21l20-26l15-28l10-29l4-28l2-28zM809 4349l0-28l-2-28l-5-29l-11-27l-18-23l-21-18l-24-12l-25-8l-25-5l-25-2l-24 0l-24 4l-24 6l-23 11l-22 15l-19 20l-14 25l-8 28l-3 29l-1 28l0 28l1 29l3 30l8 28l14 26l19 21l22 15l23 10l24 7l24 4l24 0l25-2l25-5l25-8l24-13l21-18l18-23l11-28l5-29l2-29zM1334 4349l0-25l-1-25l-4-27l-9-26l-16-25l-23-19l-29-12l-30-6l-30-3l-29-1l-28 0l-26 1l-28 1l-28 4l-28 9l-24 16l-19 22l-11 26l-5 27l-2 26l-1 25l0 25l1 26l2 26l5 28l11 26l19 22l24 16l28 9l28 5l28 1l26 0l28 0l29 0l30-3l30-6l29-13l23-19l16-25l9-27l4-27l1-26zM1835 4349l0-25l-2-26l-3-28l-9-27l-16-24l-23-19l-28-11l-29-6l-28-2l-27-1l-27 0l-27 1l-29 2l-29 6l-28 11l-23 19l-16 24l-9 27l-3 28l-2 26l0 25l0 26l2 27l3 28l9 28l16 24l23 19l28 12l29 6l29 2l27 0l27 0l27 0l28-2l29-6l28-12l23-19l16-24l9-28l3-28l2-27zM2250 4349l0-31l-2-33l-6-33l-11-28l-15-23l-19-15l-19-10l-19-6l-19-1l-19 1l-20 6l-19 10l-18 15l-16 23l-11 28l-5 33l-2 33l0 31l0 33l2 33l5 33l11 29l16 23l18 16l19 10l20 6l19 1l19-1l19-6l19-10l19-16l15-23l11-29l6-33l2-33zM2824 4349l0-26l-1-27l-5-28l-10-27l-17-23l-22-18l-25-12l-26-8l-27-4l-26-1l-25 0l-26 1l-27 4l-26 8l-26 12l-22 18l-16 23l-10 27l-5 28l-1 27l0 26l0 27l1 28l5 28l10 27l16 24l22 18l26 13l26 8l27 4l26 1l25 0l26-1l27-4l26-8l25-13l22-18l17-24l10-27l5-28l1-28zM3337 4349l0-25l-1-26l-3-28l-9-27l-15-24l-23-19l-27-11l-28-6l-27-2l-27-1l-27 0l-28 1l-29 2l-31 6l-28 11l-24 19l-17 24l-9 27l-4 28l-1 26l0 25l0 26l1 27l4 28l9 28l17 24l24 19l28 12l31 6l29 2l28 0l27 0l27 0l27-2l28-6l27-12l23-19l15-24l9-28l3-28l1-27zM3831 4349l0-26l-2-27l-4-28l-11-27l-17-23l-23-18l-26-12l-27-8l-28-4l-27-1l-26 0l-27 1l-28 4l-27 8l-26 12l-23 18l-17 23l-11 27l-5 28l-1 27l0 26l0 27l1 28l5 28l11 27l17 24l23 18l26 13l27 8l28 4l27 1l26 0l27-1l28-4l27-8l26-13l23-18l17-24l11-27l4-28l2-28zM4333 4358l-1-26l-1-26l-4-27l-9-28l-17-24l-24-20l-29-13l-30-7l-29-4l-28-2l-28-1l-27-1l-28 1l-28 5l-28 10l-23 18l-16 23l-9 26l-4 27l-1 26l0 26l0 26l1 26l4 28l9 28l16 25l23 20l28 13l28 8l28 4l27 1l28 2l28 0l29-1l30-4l29-11l24-17l17-24l9-27l4-28l1-26zM809 4931l0-27l-2-29l-6-30l-11-30l-16-29l-20-25l-23-21l-24-18l-24-14l-24-12l-24-8l-23-6l-23-3l-23 1l-22 5l-19 11l-16 17l-10 23l-6 26l-2 27l0 28l0 27l2 29l6 30l10 30l16 29l19 25l22 21l23 18l23 14l23 12l24 8l24 6l24 3l24-1l23-5l20-11l16-17l11-23l6-26l2-27zM1334 4874l0-26l-2-27l-4-28l-9-28l-16-25l-23-21l-28-13l-30-7l-30-3l-29-1l-28 0l-26 1l-28 1l-28 5l-27 10l-24 17l-19 23l-11 27l-6 28l-2 27l-1 27l0 26l1 27l2 27l6 28l11 27l19 23l24 17l27 10l28 5l28 1l26 1l28 0l29-1l30-3l30-7l28-13l23-20l16-26l9-28l4-28l2-27zM1835 4874l-1-26l-1-27l-4-28l-8-28l-15-25l-21-21l-26-13l-28-7l-28-3l-27-1l-26 0l-27 1l-27 1l-28 5l-28 10l-24 17l-18 23l-12 27l-6 28l-2 27l-1 27l0 26l1 27l2 27l6 28l12 27l18 23l24 17l28 10l28 5l27 1l27 1l26 0l27-1l28-3l28-7l26-13l21-20l15-26l8-28l4-28l1-27zM2250 4912l0-32l-2-33l-6-35l-10-32l-15-29l-17-22l-18-18l-19-13l-19-10l-18-5l-19-2l-18 3l-18 7l-16 15l-13 22l-8 28l-3 32l-1 32l0 32l1 32l3 35l8 33l13 31l16 26l18 20l18 15l19 11l18 8l19 4l19-1l18-5l17-11l15-18l10-25l6-31l2-32zM2824 4874l0-27l-2-28l-4-28l-10-28l-16-24l-20-19l-24-14l-25-9l-26-5l-26-3l-25 0l-25 1l-26 4l-25 7l-25 11l-23 17l-18 22l-13 26l-7 28l-3 28l0 27l0 28l0 27l3 28l7 28l13 26l18 22l23 17l25 11l25 7l26 4l25 1l25 0l26-3l26-5l25-9l24-14l20-19l16-24l10-28l4-28l2-28zM3337 4874l0-26l-1-27l-4-28l-8-28l-14-25l-21-21l-25-13l-28-7l-27-3l-26-1l-26 0l-27 1l-28 1l-30 5l-28 10l-25 17l-19 23l-12 27l-6 28l-2 27l-1 27l0 26l1 27l2 27l6 28l12 27l19 23l25 17l28 10l30 5l28 1l27 1l26 0l26-1l27-3l28-7l25-13l21-20l14-26l8-28l4-28l1-27zM3831 4874l0-27l-2-28l-5-28l-10-28l-16-24l-21-19l-25-14l-26-9l-27-5l-27-3l-26 0l-26 1l-26 4l-27 7l-26 11l-23 17l-19 22l-13 26l-7 28l-3 28l-1 27l0 28l1 27l3 28l7 28l13 26l19 22l23 17l26 11l27 7l26 4l26 1l26 0l27-3l27-5l26-9l25-14l21-19l16-24l10-28l5-28l2-28zM4333 4928l-1-26l-1-26l-4-27l-9-29l-16-29l-22-25l-27-21l-29-15l-29-11l-28-9l-27-8l-26-8l-27-6l-28-4l-27 2l-24 9l-18 16l-12 22l-6 24l-3 26l0 25l0 25l0 25l3 27l6 29l12 29l18 27l24 23l27 18l28 13l27 10l26 8l27 8l28 7l29 5l29 2l27-5l22-13l16-19l9-24l4-25l1-25zM4830 4874l0-28l-1-28l-5-29l-9-29l-16-26l-22-19l-26-12l-28-5l-27-2l-25-1l-26 0l-27 1l-28 4l-27 8l-26 15l-19 23l-13 28l-6 29l-3 29l0 28l0 28l0 28l3 29l6 29l13 28l19 23l26 15l27 8l28 4l27 1l26 0l25-1l27-2l28-5l26-12l22-19l16-26l9-29l5-29l1-28zM813 5340l-2-19l-6-20l-11-18l-16-16l-20-14l-23-10l-26-8l-27-4l-28-2l-28 2l-26 5l-25 8l-24 11l-21 13l-17 17l-13 18l-8 19l-4 20l0 27l4 29l8 28l13 25l17 22l21 18l24 13l25 9l26 4l28 0l28-5l27-9l26-14l23-18l20-22l16-26l11-27l6-29zM1341 5346l-1-18l-4-17l-8-18l-13-18l-20-15l-26-13l-31-8l-33-4l-32-1l-32 0l-29 0l-30 1l-30 4l-29 8l-24 13l-18 15l-12 18l-7 18l-4 17l-1 18l1 26l4 26l7 27l12 25l18 23l24 19l29 11l30 6l30 2l29 0l32 0l32-2l33-6l31-11l26-19l20-23l13-25l8-27l4-26zM1841 5346l-1-18l-4-18l-8-19l-13-17l-19-16l-25-12l-30-8l-32-3l-30-1l-30 0l-30 0l-31 2l-32 5l-28 10l-22 14l-16 17l-10 18l-6 19l-3 18l0 22l3 27l6 27l10 27l16 25l22 21l28 14l32 8l31 3l30 0l30 0l30-1l32-5l30-11l25-18l19-23l13-26l8-27l4-27zM2252 5432l-1-31l-6-34l-11-31l-15-23l-19-22l-21-20l-22-16l-23-13l-22-9l-22-4l-20 0l-17 5l-13 10l-9 15l-3 19l0 20l3 22l9 24l13 34l17 34l20 30l22 27l22 21l23 16l22 10l21 3l19-4l15-11l11-19l6-24zM2828 5346l-2-19l-5-19l-10-18l-14-17l-20-15l-25-12l-27-8l-29-5l-29-1l-29 0l-29 1l-29 5l-27 8l-25 12l-20 15l-15 17l-9 18l-5 19l-2 19l2 28l5 28l9 27l15 25l20 22l25 17l27 12l29 7l29 2l29 0l29-2l29-7l27-12l25-17l20-22l14-25l10-27l5-28zM3344 5346l-2-18l-3-18l-8-19l-13-17l-18-16l-25-12l-29-8l-30-3l-30-1l-30 0l-31 0l-32 2l-32 5l-29 10l-23 14l-17 17l-11 18l-6 19l-2 18l0 22l2 27l6 27l11 27l17 25l23 21l29 14l32 8l32 3l31 0l30 0l30-1l30-5l29-11l25-18l18-23l13-26l8-27l3-27zM3835 5346l-2-18l-5-19l-9-18l-15-17l-19-14l-24-12l-28-9l-29-5l-29-2l-29 0l-30 1l-29 3l-28 7l-26 10l-22 14l-17 16l-12 17l-7 18l-4 19l0 23l4 27l7 27l12 25l17 24l22 19l26 15l28 10l29 6l30 1l29 0l29-3l29-8l28-12l24-18l19-22l15-24l9-27l5-27zM4339 5346l-1-18l-4-18l-9-18l-14-18l-20-15l-26-13l-31-7l-32-4l-32-1l-31 0l-30 0l-30 2l-31 6l-27 10l-23 14l-16 17l-11 18l-6 18l-2 18l0 22l2 27l6 27l11 26l16 25l23 20l27 15l31 8l30 3l30 1l31 0l32-2l32-5l31-11l26-18l20-23l14-26l9-26l4-27zM4836 5346l-1-19l-4-19l-9-20l-13-18l-21-16l-26-11l-30-7l-31-2l-29 0l-30 0l-31 1l-31 4l-29 9l-24 14l-17 17l-11 19l-7 19l-2 20l0 23l2 28l7 29l11 28l17 25l24 21l29 13l31 5l31 2l30 0l29-1l31-3l30-9l26-17l21-23l13-27l9-28l4-29zM5333 5346l-1-18l-4-18l-8-18l-14-18l-19-15l-24-13l-29-7l-31-4l-30-1l-29 0l-29 0l-31 2l-30 6l-27 10l-22 14l-16 17l-10 18l-6 18l-3 18l0 22l3 27l6 27l10 26l16 25l22 20l27 15l30 8l31 3l29 1l29 0l30-2l31-5l29-11l24-18l19-23l14-26l8-26l4-27zM809 5876l0-29l-2-30l-6-29l-11-28l-16-24l-20-19l-23-15l-24-9l-24-7l-24-3l-24 0l-23 3l-23 7l-23 9l-22 15l-19 19l-16 24l-10 28l-6 29l-2 30l0 29l0 29l2 30l6 30l10 28l16 24l19 19l22 14l23 10l23 6l23 3l24 0l24-3l24-6l24-10l23-14l20-19l16-24l11-28l6-30l2-30zM1334 5876l0-26l-1-26l-4-28l-9-27l-15-26l-21-21l-27-14l-30-8l-29-3l-29-1l-28 0l-25 0l-27 1l-27 3l-27 8l-25 14l-20 21l-14 26l-8 27l-3 28l-2 26l0 26l0 26l2 27l3 27l8 28l14 26l20 20l25 14l27 8l27 4l27 1l25 0l28 0l29-1l29-4l30-8l27-14l21-20l15-26l9-28l4-27l1-27zM1835 5876l-1-26l-1-28l-4-28l-8-28l-15-26l-21-20l-26-13l-28-8l-28-2l-27-1l-26 0l-27 0l-27 2l-28 4l-28 10l-24 17l-18 24l-12 27l-6 28l-2 28l-1 27l0 26l1 27l2 28l6 29l12 27l18 23l24 17l28 10l28 5l27 2l27 0l26 0l27-1l28-3l28-7l26-13l21-21l15-26l8-28l4-28l1-27zM2250 5867l0-33l-2-32l-5-32l-10-29l-14-23l-16-16l-18-11l-18-6l-18-2l-18 2l-19 5l-18 9l-17 14l-17 19l-13 25l-10 31l-5 33l-2 33l0 32l0 32l2 33l5 32l10 28l13 23l17 17l17 11l18 6l19 2l18-2l18-5l18-9l18-14l16-20l14-25l10-30l5-33l2-33zM2824 5876l0-27l-2-28l-4-29l-10-28l-16-24l-20-20l-24-14l-25-9l-26-5l-26-2l-25-1l-25 2l-26 3l-25 7l-25 11l-23 17l-18 23l-13 26l-7 28l-3 29l0 28l0 27l0 28l3 28l7 28l13 27l18 22l23 17l25 12l25 7l26 3l25 1l25 0l26-2l26-5l25-9l24-15l20-19l16-25l10-28l4-28l2-28zM3337 5876l0-26l-1-28l-4-28l-8-28l-14-26l-21-20l-25-13l-28-8l-27-2l-26-1l-26 0l-27 0l-28 2l-30 4l-28 10l-25 17l-19 24l-12 27l-6 28l-2 28l-1 27l0 26l1 27l2 28l6 29l12 27l19 23l25 17l28 10l30 5l28 2l27 0l26 0l26-1l27-3l28-7l25-13l21-21l14-26l8-28l4-28l1-27zM3831 5876l0-27l-2-27l-4-28l-10-27l-15-25l-20-19l-24-15l-26-10l-26-5l-26-3l-25-1l-26 1l-26 3l-26 5l-25 10l-24 15l-20 19l-15 25l-10 27l-4 28l-2 27l0 27l0 27l2 28l4 27l10 28l15 24l20 20l24 15l25 9l26 6l26 3l26 0l25 0l26-3l26-6l26-9l24-15l20-20l15-24l10-28l4-27l2-28zM4333 5876l-1-26l-1-28l-4-28l-9-27l-16-26l-22-20l-27-13l-29-8l-29-3l-28-1l-27 0l-26 0l-27 2l-28 5l-27 11l-24 16l-18 23l-12 27l-6 28l-3 28l0 27l0 26l0 27l3 28l6 28l12 27l18 23l24 17l27 10l28 6l27 1l26 1l27 0l28-1l29-4l29-7l27-14l22-20l16-25l9-28l4-28l1-27zM4830 5876l0-27l-1-28l-4-29l-9-29l-14-25l-21-20l-26-13l-27-6l-26-3l-25 0l-25 0l-26 0l-27 3l-27 6l-26 13l-21 20l-15 25l-9 29l-4 29l-1 28l-1 27l1 27l1 28l4 29l9 29l15 26l21 20l26 13l27 6l27 2l26 1l25 0l25-1l26-2l27-6l26-13l21-20l14-26l9-29l4-29l1-28zM5327 5876l0-26l-2-28l-4-28l-8-27l-15-26l-21-20l-26-13l-27-8l-27-3l-26-1l-26 0l-26 0l-27 2l-27 5l-27 11l-23 16l-18 23l-12 27l-6 28l-2 28l-1 27l0 26l1 27l2 28l6 28l12 27l18 23l23 17l27 10l27 6l27 1l26 1l26 0l26-1l27-4l27-7l26-14l21-20l15-25l8-28l4-28l2-27zM5800 5988l-1-25l-3-27l-6-29l-9-31l-12-31l-14-30l-17-28l-17-24l-18-22l-19-19l-26-16l-26-12l-25-8l-22-2l-20 3l-15 10l-12 14l-6 19l-3 22l0 24l3 26l6 29l12 30l15 31l20 30l22 30l25 26l26 23l26 20l19 18l18 14l17 10l17 5l14 0l12-7l9-12l6-17l3-20zM816 6485l-3-20l-7-29l-13-28l-17-26l-21-23l-24-20l-27-16l-28-12l-29-7l-29-2l-27 4l-25 8l-23 13l-20 17l-16 21l-12 24l-8 27l-2 28l2 28l8 18l12 18l16 16l20 15l23 13l25 10l27 7l29 4l29 2l28-2l27-6l24-8l21-11l17-13l13-15l7-17zM1348 6469l-2-25l-5-25l-9-25l-14-25l-20-22l-26-18l-31-12l-34-6l-33-2l-33 0l-30 0l-31 2l-31 6l-29 12l-24 18l-18 22l-13 25l-8 25l-5 25l-1 25l1 16l5 16l8 16l13 15l18 14l24 12l29 7l31 4l31 1l30 1l33-1l33-1l34-4l31-7l26-12l20-14l14-15l9-16l5-16zM1847 6469l-1-26l-5-26l-9-25l-14-25l-19-23l-26-17l-30-12l-32-5l-31-1l-31 0l-32 0l-32 3l-31 8l-29 15l-22 20l-17 24l-11 25l-7 26l-3 26l0 21l3 17l7 16l11 16l17 15l22 13l29 9l31 5l32 2l32 1l31 0l31-1l32-4l30-7l26-11l19-14l14-16l9-16l5-17zM2254 6402l-2-30l-7-26l-12-21l-16-14l-20-8l-22 0l-23 7l-24 14l-24 20l-22 26l-19 30l-16 33l-12 35l-7 22l-3 21l3 19l7 17l12 13l16 9l19 5l22 0l24-4l24-9l23-13l22-16l20-19l16-21l12-22l7-34zM2831 6420l-2-25l-6-24l-11-21l-15-19l-20-15l-24-9l-27-5l-29 2l-30 5l-29 8l-30 11l-29 15l-27 19l-25 23l-19 25l-15 27l-11 28l-6 18l-2 17l2 16l6 15l11 14l15 11l19 10l25 6l27 3l29-1l30-4l29-5l30-7l29-9l27-12l24-15l20-16l15-17l11-17l6-26zM3350 6469l-2-26l-5-26l-8-25l-13-25l-19-23l-25-17l-30-12l-31-5l-30-1l-31 0l-32 0l-33 3l-33 8l-29 15l-24 20l-17 24l-11 25l-7 26l-3 26l0 21l3 17l7 16l11 16l17 15l24 13l29 9l33 5l33 2l32 1l31 0l30-1l31-4l30-7l25-11l19-14l13-16l8-16l5-17zM3838 6420l-2-25l-6-23l-10-21l-15-18l-20-15l-23-10l-28-5l-29 0l-30 5l-30 7l-30 10l-29 13l-29 17l-25 21l-22 24l-17 26l-13 27l-8 23l-4 16l0 16l4 15l8 14l13 13l17 10l22 8l25 5l29 2l29-2l30-4l30-5l30-7l29-10l28-12l23-15l20-16l15-16l10-17l6-25zM4346 6437l-2-24l-5-24l-9-23l-14-21l-19-19l-25-13l-30-7l-32-2l-32 3l-31 5l-30 5l-31 8l-31 11l-28 17l-24 22l-18 24l-13 26l-9 26l-5 23l-2 15l2 16l5 15l9 14l13 14l18 11l24 9l28 5l31 0l31-1l30-3l31-4l32-5l32-7l30-11l25-13l19-16l14-16l9-16l5-19zM4842 6469l-2-27l-5-27l-9-28l-14-25l-21-23l-27-17l-30-9l-32-4l-30 0l-31 0l-31 2l-32 6l-30 13l-24 20l-18 24l-11 27l-8 27l-3 27l0 23l3 17l8 17l11 17l18 16l24 12l30 9l32 3l31 2l31 0l30-1l32-2l30-6l27-11l21-14l14-16l9-17l5-18zM5339 6469l-2-26l-5-26l-9-25l-13-25l-20-22l-25-17l-29-12l-31-5l-31-2l-30 0l-31 0l-31 4l-30 8l-28 15l-22 20l-16 24l-12 25l-7 25l-3 26l0 21l3 17l7 16l12 16l16 15l22 12l28 10l30 5l31 2l31 1l30-1l31-1l31-3l29-8l25-11l20-14l13-15l9-16l5-17zM5805 6550l-2-15l-5-16l-8-18l-12-20l-15-24l-18-34l-19-33l-20-29l-23-27l-31-23l-29-19l-27-12l-24-6l-20 0l-15 8l-10 13l-5 18l0 22l5 27l10 30l15 32l20 35l24 23l27 20l29 18l31 16l23 14l20 13l19 9l18 5l15 2l12-3l8-5l5-10zM6361 6469l-1-26l-5-26l-9-25l-14-25l-20-22l-25-17l-29-12l-32-5l-31-2l-31 0l-31 0l-31 4l-31 8l-28 15l-22 20l-17 24l-11 25l-7 25l-3 26l0 21l3 17l7 16l11 16l17 15l22 12l28 10l31 5l31 2l31 1l31-1l31-1l32-3l29-8l25-11l20-14l14-15l9-16l5-17zM816 6967l-3-29l-7-28l-12-26l-16-23l-20-21l-23-17l-25-13l-28-8l-28-4l-28 1l-27 6l-25 11l-24 15l-20 19l-17 22l-14 25l-9 27l-4 28l0 25l4 20l9 20l14 18l17 16l20 14l24 11l25 7l27 5l28 1l28-3l28-6l25-9l23-13l20-15l16-17l12-19l7-20zM1348 6967l-2-25l-5-25l-8-25l-13-24l-19-22l-24-19l-30-13l-33-7l-33-2l-32-1l-30 0l-30 2l-30 4l-29 10l-26 16l-20 20l-14 24l-10 24l-6 25l-3 25l0 22l3 18l6 18l10 17l14 17l20 15l26 12l29 7l30 3l30 1l30 0l32 0l33-2l33-5l30-9l24-14l19-16l13-17l8-18l5-18zM1847 6967l-1-26l-5-25l-8-26l-13-24l-18-23l-24-18l-29-13l-31-6l-31-1l-30-1l-31 1l-31 1l-31 6l-29 13l-25 18l-18 23l-13 24l-8 26l-5 25l-1 26l1 18l5 19l8 18l13 18l18 16l25 13l29 9l31 4l31 2l31 0l30 0l31-2l31-4l29-9l24-13l18-16l13-18l8-18l5-19zM2254 6967l-2-34l-7-33l-11-30l-15-26l-19-21l-20-15l-23-8l-23-2l-23 5l-22 12l-19 18l-17 24l-13 28l-10 31l-4 34l0 29l4 24l10 23l13 20l17 17l19 13l22 9l23 4l23-2l23-6l20-11l19-15l15-19l11-21l7-24zM2831 6917l-2-25l-6-23l-10-22l-14-18l-19-15l-23-11l-26-5l-28 1l-29 4l-29 8l-29 9l-28 14l-28 17l-24 22l-21 24l-17 26l-12 27l-8 24l-4 19l0 19l4 17l8 16l12 15l17 12l21 10l24 5l28 2l28-2l29-5l29-6l29-8l28-11l26-14l23-17l19-18l14-20l10-19l6-26zM3350 6967l-2-26l-4-25l-8-26l-13-24l-18-23l-23-18l-28-13l-30-6l-31-1l-29-1l-31 1l-32 1l-33 6l-30 13l-25 18l-19 23l-13 24l-8 26l-5 25l-2 26l2 18l5 19l8 18l13 18l19 16l25 13l30 9l33 4l32 2l31 0l29 0l31-2l30-4l28-9l23-13l18-16l13-18l8-18l4-19zM3838 6967l-2-27l-6-26l-10-26l-15-23l-20-22l-23-17l-28-13l-29-8l-30-3l-30-1l-30 2l-29 5l-29 11l-25 15l-22 20l-17 22l-13 25l-8 26l-4 26l0 23l4 19l8 19l13 18l17 16l22 14l25 12l29 7l29 4l30 1l30 0l30-3l29-5l28-10l23-12l20-16l15-17l10-18l6-19zM4346 6967l-2-26l-5-25l-9-25l-14-25l-19-22l-25-18l-30-12l-32-7l-32-2l-31-1l-30 1l-31 2l-31 7l-28 12l-24 18l-18 22l-13 25l-9 25l-5 25l-2 26l2 18l5 18l9 19l13 17l18 16l24 13l28 9l31 5l31 2l30 0l31 0l32-2l32-5l30-9l25-13l19-16l14-17l9-19l5-18zM4842 6967l-2-27l-4-27l-9-27l-14-25l-19-23l-25-18l-29-10l-31-5l-30-1l-30 0l-30 1l-31 5l-30 10l-26 18l-19 23l-14 25l-9 27l-5 27l-1 27l1 19l5 20l9 19l14 18l19 17l26 13l30 7l31 3l30 1l30 0l30-1l31-3l29-7l25-13l19-17l14-18l9-19l4-20zM5339 6967l-2-26l-5-27l-9-25l-13-25l-20-22l-25-18l-29-12l-31-6l-31-2l-30 0l-31 1l-31 3l-30 9l-28 15l-22 20l-16 24l-12 25l-7 26l-3 27l0 22l3 19l7 19l12 18l16 17l22 15l28 11l30 6l31 3l31 0l30 0l31-1l31-5l29-8l25-13l20-16l13-18l9-19l5-18zM5805 7018l-2-22l-5-23l-8-28l-12-31l-15-29l-18-26l-19-22l-20-18l-23-13l-31-9l-29-5l-27 2l-24 8l-20 14l-15 19l-10 23l-5 26l0 28l5 30l10 29l15 23l20 23l24 20l27 18l29 15l31 11l23 9l20 5l19 1l18-4l15-8l12-12l8-16l5-18zM6361 6984l-1-18l-5-26l-9-26l-13-26l-18-24l-24-21l-28-16l-31-10l-30-7l-30-4l-30-3l-31-2l-30 3l-29 8l-23 15l-19 20l-13 22l-8 24l-5 24l-2 25l2 25l5 19l8 19l13 18l19 18l23 15l29 12l30 7l31 5l30 3l30 2l30 1l31-1l28-7l24-10l18-15l13-16l9-17l5-18zM6775 6853l-2-19l-8-15l-11-11l-16-7l-20-3l-23 2l-25 6l-28 11l-28 15l-25 18l-24 21l-22 24l-21 25l-18 26l-15 26l-12 25l-8 23l-4 22l0 19l4 17l8 12l12 9l15 5l18 0l21-4l22-8l24-12l25-16l28-18l28-22l25-23l23-25l20-25l16-27l11-25l8-24zM816 7382l-3-26l-7-20l-12-19l-16-18l-20-16l-23-13l-25-11l-28-8l-28-4l-28-2l-27 3l-25 5l-24 9l-20 12l-17 14l-14 17l-9 18l-4 20l0 20l4 29l9 29l14 27l17 25l20 22l24 18l25 14l27 9l28 4l28-1l28-5l25-11l23-15l20-20l16-23l12-25l7-28zM1348 7365l-2-18l-5-17l-8-18l-13-17l-19-16l-24-13l-30-9l-33-5l-33-2l-32 0l-30 0l-30 1l-30 3l-29 7l-26 11l-20 15l-14 16l-10 18l-6 17l-3 18l0 22l3 26l6 26l10 25l14 25l20 21l26 17l29 10l30 4l30 2l30 0l32-1l33-2l33-7l30-14l24-19l19-23l13-26l8-25l5-26zM1847 7365l-1-18l-5-18l-8-18l-13-18l-18-16l-24-13l-29-8l-31-5l-31-1l-30 0l-31 0l-31 1l-31 5l-29 8l-25 13l-18 16l-13 18l-8 18l-5 18l-1 18l1 26l5 27l8 26l13 26l18 24l25 19l29 12l31 6l31 2l31 1l30-1l31-2l31-6l29-12l24-19l18-24l13-26l8-26l5-27zM2254 7365l-2-24l-7-23l-11-21l-15-19l-19-15l-20-10l-23-6l-23-2l-23 4l-22 9l-19 12l-17 17l-13 20l-10 22l-4 24l0 30l4 34l10 33l13 29l17 25l19 19l22 12l23 5l23-2l23-8l20-16l19-22l15-27l11-31l7-34zM2831 7365l-2-19l-6-19l-10-18l-14-16l-19-15l-23-13l-26-9l-28-6l-29-2l-29 0l-29 1l-28 4l-28 7l-24 11l-21 14l-17 16l-12 17l-8 19l-4 18l0 24l4 27l8 27l12 26l17 23l21 21l24 16l28 10l28 6l29 2l29 0l29-4l28-8l26-14l23-18l19-22l14-25l10-26l6-28zM3350 7365l-2-18l-4-18l-8-18l-13-18l-18-16l-23-13l-28-8l-30-5l-31-1l-29 0l-31 0l-32 1l-33 5l-30 8l-25 13l-19 16l-13 18l-8 18l-5 18l-2 18l2 26l5 27l8 26l13 26l19 24l25 19l30 12l33 6l32 2l31 1l29-1l31-2l30-6l28-12l23-19l18-24l13-26l8-26l4-27zM3838 7365l-2-19l-6-18l-9-17l-15-17l-18-15l-23-12l-26-10l-28-6l-29-3l-29 0l-29 0l-29 3l-29 6l-26 10l-22 12l-19 15l-14 17l-10 17l-5 18l-2 19l2 27l5 26l10 26l14 25l19 21l22 19l26 14l29 9l29 4l29 1l29-1l29-4l28-9l26-14l23-19l18-21l15-25l9-26l6-26zM4346 7365l-2-18l-5-17l-8-18l-13-17l-18-15l-24-13l-28-9l-31-6l-32-2l-31 0l-29 0l-30 1l-30 4l-29 7l-25 11l-20 14l-15 17l-10 17l-6 17l-3 18l0 22l3 26l6 25l10 26l15 24l20 21l25 16l29 11l30 5l30 2l29 0l31-1l32-3l31-8l28-13l24-19l18-23l13-25l8-26l5-25zM4842 7365l-2-19l-4-18l-8-19l-13-18l-18-16l-24-12l-28-8l-30-4l-29-1l-29 0l-29 0l-31 2l-30 6l-26 10l-22 15l-15 17l-11 18l-6 19l-3 19l0 22l3 28l6 27l11 27l15 25l22 21l26 16l30 8l31 3l29 1l29 0l29-2l30-5l28-12l24-19l18-23l13-27l8-27l4-27zM5339 7365l-1-18l-5-18l-9-18l-13-17l-18-16l-23-13l-28-9l-31-4l-30-2l-30 0l-29 0l-31 2l-30 4l-28 9l-23 13l-18 16l-13 17l-9 18l-5 18l-1 18l1 26l5 27l9 26l13 25l18 23l23 19l28 13l30 7l31 2l29 1l30-1l30-2l31-7l28-13l23-19l18-23l13-25l9-26l5-27zM5796 7451l-2-29l-5-31l-8-30l-12-22l-14-21l-17-19l-19-17l-19-13l-26-11l-32-8l-31-4l-29 0l-24 5l-19 9l-14 13l-8 15l-3 18l3 20l8 21l14 23l19 32l24 31l29 28l31 25l32 20l26 16l19 12l19 6l17-1l14-7l12-14l8-18l5-23zM6361 7399l-1-27l-5-20l-9-19l-13-18l-18-18l-24-15l-28-12l-31-9l-30-5l-30-4l-30-3l-31-2l-30 1l-29 5l-23 9l-19 14l-13 15l-8 16l-5 17l-2 18l2 18l5 24l8 27l13 27l19 26l23 23l29 18l30 12l31 8l30 5l30 5l30 3l31-1l28-8l24-14l18-19l13-22l9-25l5-25zM6793 7323l-3-20l-8-17l-13-15l-17-11l-22-8l-25-4l-29 0l-30 4l-31 8l-24 11l-22 15l-20 17l-18 20l-17 22l-14 23l-10 24l-8 27l-3 26l0 25l3 22l8 19l10 15l14 12l17 7l18 2l20-2l22-7l24-12l31-15l30-19l29-22l25-24l22-27l17-27l13-24l8-23zM7271 7263l-2-9l-8-6l-13-3l-17 2l-22 5l-25 9l-27 13l-29 15l-28 17l-21 20l-20 21l-19 23l-17 31l-14 30l-11 28l-8 25l-4 21l0 17l4 11l8 6l11 1l14-5l17-11l19-15l20-21l21-24l28-28l29-29l27-32l25-24l22-21l17-20l13-18l8-16z"/>
<path id="ogg" d="M717 792l0-35l-2-36l-4-36l-7-32l-12-27l-14-19l-14-13l-15-8l-15-3l-16 0l-18 3l-17 8l-17 13l-16 19l-13 27l-9 32l-5 36l-2 36l0 35l0 32l2 34l5 33l9 30l13 25l16 17l17 12l17 7l18 4l16 0l15-4l15-7l14-12l14-17l12-25l7-30l4-33l2-34zM717 1288l0-33l-2-34l-4-34l-9-31l-12-24l-14-17l-15-12l-15-6l-16-3l-17 1l-18 5l-18 8l-17 15l-15 20l-13 28l-7 33l-3 34l-1 34l0 33l1 34l3 34l7 33l13 28l15 21l17 14l18 9l18 4l17 1l16-2l15-7l15-11l14-18l12-24l9-31l4-34l2-34zM1334 1288l0-26l-1-27l-4-28l-8-28l-14-26l-22-20l-28-14l-30-8l-29-3l-29-1l-28 0l-25 0l-27 1l-27 3l-28 8l-25 14l-20 20l-14 26l-7 28l-4 28l-1 27l0 26l0 26l1 27l4 29l7 28l14 26l20 21l25 14l28 7l27 4l27 1l25 0l28 0l29-1l29-4l30-7l28-14l22-21l14-26l8-28l4-29l1-27zM720 1890l-3-19l-9-24l-15-26l-20-27l-22-26l-25-22l-28-19l-26-13l-23-6l-17 0l-11 8l-4 14l4 19l11 24l17 26l23 26l26 26l28 23l25 19l22 13l20 6l15-1l9-7zM1348 1810l-2-17l-6-17l-11-16l-17-16l-23-14l-31-11l-36-5l-36-3l-36 0l-33 0l-33 1l-34 4l-31 8l-26 12l-18 15l-13 17l-7 17l-4 16l0 17l4 17l7 17l13 16l18 15l26 13l31 8l34 3l33 2l33 0l36-1l36-2l36-6l31-10l23-14l17-16l11-17l6-16zM1847 1810l-2-17l-5-18l-11-17l-16-16l-24-14l-30-10l-34-5l-35-2l-33 0l-34 0l-35 2l-34 5l-31 10l-23 14l-17 16l-11 17l-5 18l-2 17l2 17l5 17l11 17l17 17l23 14l31 10l34 5l35 1l34 1l33-1l35-1l34-5l30-10l24-14l16-17l11-17l5-17zM718 2380l0-34l-3-36l-6-33l-10-31l-12-29l-14-26l-15-22l-15-19l-17-14l-18-10l-19-6l-17-1l-16 5l-14 11l-11 16l-7 22l-4 26l-1 28l1 29l4 30l7 35l11 36l14 35l16 30l17 26l19 21l18 17l17 12l15 7l15 1l14-5l12-13l10-20l6-26l3-30zM1341 2297l-1-24l-2-25l-6-25l-10-24l-15-23l-22-20l-26-14l-29-9l-31-4l-29-1l-29 0l-26 0l-27 1l-28 4l-27 9l-25 14l-19 20l-15 23l-9 24l-5 25l-2 25l-1 24l1 29l2 29l5 29l9 29l15 27l19 23l25 16l27 10l28 5l27 1l26 1l29-1l29-1l31-5l29-10l26-16l22-23l15-27l10-29l6-29l2-29zM1841 2297l-1-24l-2-25l-5-25l-10-24l-14-23l-19-20l-25-14l-27-9l-28-4l-27-1l-26 0l-27 0l-27 1l-29 4l-27 9l-24 14l-20 20l-14 23l-10 24l-5 25l-2 25l-1 24l1 29l2 29l5 29l10 29l14 27l20 23l24 16l27 10l29 5l27 1l27 1l26-1l27-1l28-5l27-10l25-16l19-23l14-27l10-29l5-29l2-29zM2245 2244l0-29l-4-27l-6-24l-10-20l-13-14l-15-8l-16-2l-17 2l-17 7l-18 12l-17 15l-16 20l-15 24l-13 28l-10 30l-6 31l-4 35l0 35l0 34l4 32l6 29l10 23l13 16l15 9l16 3l17-3l18-8l17-13l17-19l16-23l15-28l13-32l10-36l6-36l4-33zM717 2815l0-32l-2-34l-4-33l-9-29l-12-24l-14-17l-15-11l-15-6l-16-3l-17 1l-18 4l-18 9l-17 14l-15 20l-13 27l-7 32l-3 33l-1 33l0 33l1 35l3 36l7 34l13 29l15 21l17 15l18 9l18 5l17 0l16-2l15-7l15-12l14-18l12-25l9-32l4-35l2-35zM1334 2815l0-25l-1-26l-4-28l-8-27l-14-25l-22-20l-28-14l-30-7l-29-3l-29-1l-28-1l-25 1l-27 1l-27 3l-28 7l-25 14l-20 20l-14 25l-7 27l-4 28l-1 26l0 25l0 27l1 28l4 29l7 29l14 27l20 22l25 14l28 8l27 3l27 1l25 0l28 0l29-1l29-3l30-8l28-14l22-22l14-27l8-29l4-29l1-28zM1835 2815l0-26l-2-27l-3-28l-8-27l-15-26l-21-20l-27-13l-28-6l-28-3l-27 0l-26-1l-27 1l-27 1l-28 5l-28 9l-25 16l-18 23l-12 27l-5 28l-2 28l-1 26l0 27l1 28l2 29l5 30l12 29l18 24l25 18l28 10l28 5l27 1l27 0l26 0l27 0l28-3l28-7l27-14l21-21l15-27l8-30l3-30l2-28zM2244 2835l-1-33l-1-34l-5-34l-9-31l-13-26l-15-20l-16-14l-17-9l-16-6l-17-2l-16 1l-17 5l-16 11l-14 17l-11 24l-7 31l-3 33l0 32l0 32l0 35l3 36l7 35l11 31l14 24l16 18l17 13l16 8l17 4l16 1l17-3l16-9l15-14l13-23l9-29l5-35l1-35zM2836 2835l0-28l-1-27l-4-28l-8-27l-14-26l-19-22l-23-16l-24-12l-25-8l-24-5l-24-3l-28-2l-28 0l-29 2l-28 7l-27 11l-22 17l-17 23l-9 26l-5 27l-1 27l0 26l0 26l1 29l5 30l9 30l17 27l22 23l27 17l28 13l29 8l28 6l28 3l24 2l24 1l25-3l24-7l23-12l19-19l14-24l8-27l4-29l1-29zM718 3437l-1-24l-4-28l-8-30l-11-32l-13-32l-16-31l-17-28l-17-25l-20-21l-20-16l-19-12l-17-6l-14 1l-11 7l-7 14l-4 19l0 23l4 26l7 29l11 31l14 32l17 32l19 29l20 27l20 23l17 19l17 14l16 9l13 3l11-4l8-11l4-17zM1341 3221l-2-18l-5-16l-9-13l-14-10l-19-7l-22-1l-26 2l-29 7l-29 10l-30 13l-28 15l-28 16l-27 20l-26 21l-24 23l-21 25l-17 24l-13 24l-9 23l-5 21l-1 20l1 18l5 16l9 14l13 10l17 6l21 2l24-3l26-7l27-10l28-13l28-14l30-17l29-19l29-22l26-23l22-24l19-25l14-24l9-23l5-21zM1841 3321l-1-25l-3-25l-6-25l-11-25l-17-23l-23-17l-28-12l-30-6l-30-2l-28 0l-29 0l-29 1l-30 3l-30 9l-26 15l-20 20l-14 24l-9 25l-4 26l-2 24l0 25l2 25l4 25l9 25l14 24l20 20l26 15l30 9l30 4l29 1l29 0l28-1l30-2l30-6l28-11l23-18l17-23l11-24l6-26l3-25zM2245 3221l-1-24l-4-20l-9-15l-12-8l-14-2l-17 5l-18 10l-19 16l-19 20l-18 24l-17 28l-16 30l-14 32l-10 32l-6 30l-3 28l0 26l3 22l6 18l10 11l14 5l16-2l17-7l18-13l19-18l19-22l18-26l17-29l14-31l12-33l9-31l4-30zM2840 3312l-1-24l-3-24l-7-24l-11-23l-16-20l-20-16l-23-12l-25-8l-26-3l-25-1l-28 1l-30 3l-29 6l-30 10l-27 14l-23 19l-18 21l-14 24l-8 24l-3 25l-1 25l1 24l3 25l8 24l14 22l18 20l23 17l27 12l30 7l29 4l30 0l28-1l25-3l26-6l25-10l23-14l20-18l16-22l11-24l7-24l3-25zM3344 3321l-1-25l-3-25l-6-25l-11-25l-17-23l-22-17l-27-12l-29-6l-29-2l-28 0l-29 0l-30 1l-31 3l-31 9l-26 15l-21 20l-15 24l-9 25l-5 26l-1 24l0 25l1 25l5 25l9 25l15 24l21 20l26 15l31 9l31 4l30 1l29 0l28-1l29-2l29-6l27-11l22-18l17-23l11-24l6-26l3-25zM717 3972l-1-27l-4-31l-6-32l-8-34l-11-34l-13-33l-14-31l-14-27l-16-24l-17-20l-17-15l-17-9l-16-5l-14 3l-11 8l-9 15l-5 20l-3 25l0 27l3 30l5 33l9 35l11 33l14 33l16 31l17 27l17 25l17 21l16 16l14 12l14 7l13 1l11-5l8-11l6-17l4-22zM1334 3901l0-25l-1-27l-4-29l-9-30l-15-29l-21-27l-27-21l-30-15l-29-11l-29-8l-28-7l-25-6l-27-6l-27-4l-27 1l-25 7l-20 16l-14 22l-8 26l-3 27l-2 27l0 26l0 27l2 27l3 28l8 28l14 29l20 25l25 20l27 15l27 10l27 8l25 6l28 7l29 5l29 4l30-1l27-7l21-15l15-22l9-24l4-26l1-26zM1835 3856l-1-28l-1-29l-4-29l-8-30l-15-27l-21-21l-26-14l-28-8l-28-3l-27-1l-26 0l-27 1l-27 1l-28 5l-28 11l-24 18l-18 24l-12 29l-6 30l-2 29l-1 28l0 27l1 27l2 28l6 28l12 28l18 23l24 17l28 10l28 5l27 2l27 0l26 0l27-1l28-3l28-7l26-13l21-21l15-26l8-28l4-28l1-28zM2244 3744l-1-27l-4-24l-6-20l-10-14l-11-7l-14-1l-15 5l-16 10l-16 16l-17 20l-16 24l-15 28l-15 31l-13 34l-10 34l-8 34l-5 32l-2 29l0 28l2 25l5 21l8 16l10 10l13 4l15-2l15-7l16-13l17-17l16-21l16-25l15-28l14-31l11-33l10-34l6-34l4-33zM2836 3836l0-28l-1-28l-5-29l-8-27l-14-24l-19-19l-23-12l-24-8l-24-3l-24 1l-24 2l-28 3l-28 6l-28 9l-28 12l-27 18l-22 23l-16 27l-10 30l-5 29l-2 29l0 28l0 26l2 28l5 27l10 26l16 23l22 18l27 12l28 7l28 3l28-1l28-2l24-3l24-5l24-9l24-12l23-17l19-22l14-26l8-28l5-29l1-27zM3337 3856l0-27l-1-28l-3-29l-8-29l-13-27l-20-22l-24-15l-27-8l-26-3l-26-1l-25-1l-27 1l-27 1l-28 3l-29 8l-26 15l-20 22l-15 27l-8 29l-3 29l-2 28l0 27l0 26l2 27l3 27l8 28l15 25l20 21l26 14l29 8l28 4l27 1l27 0l25 0l26-1l26-4l27-8l24-14l20-21l13-25l8-28l3-27l1-27zM3827 3797l0-28l-2-28l-5-28l-9-24l-15-19l-20-12l-23-6l-23 1l-25 4l-23 8l-24 8l-24 11l-24 13l-24 18l-22 22l-20 27l-15 30l-10 32l-4 31l-2 28l0 27l0 27l2 27l4 26l10 24l15 18l20 11l22 5l24 0l24-4l24-7l24-9l23-10l25-13l23-16l23-22l20-25l15-29l9-31l5-29l2-30zM717 4349l0-32l-2-34l-5-33l-10-29l-14-22l-15-15l-16-10l-16-4l-17-1l-19 2l-19 7l-19 12l-17 19l-14 25l-8 32l-4 34l-1 33l0 33l1 34l4 34l8 32l14 26l17 19l19 12l19 7l19 3l17-1l16-5l16-9l15-15l14-23l10-29l5-34l2-34zM1334 4349l0-25l-1-25l-4-27l-9-26l-16-25l-23-19l-29-12l-30-6l-30-3l-29-1l-28 0l-26 1l-28 1l-28 4l-28 9l-24 16l-19 22l-11 26l-5 27l-2 26l-1 25l0 25l1 26l2 26l5 28l11 26l19 22l24 16l28 9l28 5l28 1l26 0l28 0l29 0l30-3l30-6l29-13l23-19l16-25l9-27l4-27l1-26zM1835 4349l0-25l-2-26l-3-28l-9-27l-16-24l-23-19l-28-11l-29-6l-28-2l-27-1l-27 0l-27 1l-29 2l-29 6l-28 11l-23 19l-16 24l-9 27l-3 28l-2 26l0 25l0 26l2 27l3 28l9 28l16 24l23 19l28 12l29 6l29 2l27 0l27 0l27 0l28-2l29-6l28-12l23-19l16-24l9-28l3-28l2-27zM2244 4349l-1-32l-1-34l-6-33l-10-29l-15-22l-17-15l-17-10l-17-4l-18-1l-17 2l-18 7l-17 12l-16 19l-12 25l-8 32l-4 34l0 33l0 33l0 34l4 34l8 32l12 26l16 19l17 12l18 7l17 3l18-1l17-5l17-9l17-15l15-23l10-29l6-34l1-34zM2836 4349l0-25l-1-27l-4-27l-9-26l-15-23l-20-19l-24-13l-25-8l-25-4l-25-2l-25-1l-29 1l-29 3l-29 7l-29 10l-26 16l-20 21l-14 25l-8 27l-3 26l0 27l0 25l0 27l3 27l8 28l14 25l20 21l26 16l29 11l29 6l29 3l29 1l25 0l25-2l25-4l25-9l24-13l20-19l15-23l9-27l4-28l1-27zM3337 4349l0-25l-1-26l-3-28l-9-27l-15-24l-23-19l-27-11l-28-6l-27-2l-27-1l-27 0l-28 1l-29 2l-31 6l-28 11l-24 19l-17 24l-9 27l-4 28l-1 26l0 25l0 26l1 27l4 28l9 28l17 24l24 19l28 12l31 6l29 2l28 0l27 0l27 0l27-2l28-6l27-12l23-19l15-24l9-28l3-28l1-27zM3827 4349l0-27l-2-29l-5-29l-10-28l-18-23l-22-17l-25-12l-25-6l-25-3l-25-1l-25 1l-25 3l-26 6l-24 12l-23 17l-17 23l-10 28l-5 29l-2 29l0 27l0 28l2 30l5 29l10 28l17 24l23 18l24 11l26 7l25 3l25 0l25 0l25-3l25-7l25-11l22-18l18-24l10-28l5-29l2-30zM4333 4384l-1-26l-1-26l-4-27l-9-28l-17-27l-24-22l-29-17l-30-11l-29-8l-28-6l-28-5l-27-4l-28-3l-28 0l-28 6l-23 14l-16 21l-9 24l-4 26l-1 26l0 25l0 24l1 27l4 28l9 28l16 27l23 23l28 17l28 12l28 7l27 6l28 5l28 5l29 3l30 0l29-7l24-14l17-20l9-26l4-26l1-26zM717 4871l-1-33l-2-34l-5-33l-10-28l-13-23l-15-15l-16-10l-16-5l-17-1l-19 3l-19 7l-18 13l-17 18l-14 26l-9 32l-4 33l-1 34l0 33l1 33l4 34l9 32l14 25l17 19l18 13l19 7l19 3l17-1l16-5l16-10l15-15l13-23l10-29l5-33l2-33zM1334 4871l0-25l-2-26l-4-26l-9-27l-16-24l-23-20l-28-12l-30-7l-30-3l-29 0l-28-1l-26 1l-28 1l-28 5l-27 9l-24 16l-19 22l-11 26l-6 27l-2 26l-1 26l0 25l1 25l2 27l6 27l11 25l19 23l24 16l27 9l28 5l28 1l26 0l28 0l29 0l30-3l30-7l28-12l23-20l16-24l9-27l4-27l2-25zM1835 4871l-1-25l-1-27l-4-27l-9-27l-16-25l-23-19l-27-12l-29-6l-28-2l-27-1l-27 0l-27 1l-29 2l-29 6l-27 12l-23 19l-16 25l-9 27l-4 27l-1 27l-1 25l1 26l1 27l4 27l9 27l16 25l23 19l27 12l29 6l29 2l27 0l27 0l27 0l28-2l29-6l27-12l23-19l16-25l9-27l4-27l1-27zM2244 4908l-1-32l-2-34l-6-35l-10-32l-14-28l-17-21l-17-16l-17-12l-18-7l-17-4l-17 1l-17 6l-16 12l-12 21l-9 28l-3 31l-1 33l0 32l1 33l3 35l9 34l12 30l16 24l17 19l17 13l17 10l18 6l17 1l17-3l17-9l14-17l10-24l6-30l2-33zM2836 4871l0-26l-1-26l-5-27l-10-26l-14-24l-20-18l-23-14l-25-8l-25-5l-25-2l-25 0l-29 1l-29 3l-29 6l-28 11l-25 16l-21 21l-14 25l-8 27l-4 27l0 27l0 25l0 27l4 27l8 26l14 25l21 22l25 16l28 11l29 6l29 3l29 1l25 0l25-2l25-5l25-8l23-14l20-18l14-24l10-26l5-27l1-27zM3337 4871l0-25l-1-27l-4-27l-9-27l-15-25l-22-19l-27-12l-28-6l-27-2l-27-1l-27 0l-28 1l-29 2l-30 6l-29 12l-23 19l-16 25l-10 27l-4 27l-2 27l0 25l0 26l2 27l4 27l10 27l16 25l23 19l29 12l30 6l29 2l28 0l27 0l27 0l27-2l28-6l27-12l22-19l15-25l9-27l4-27l1-27zM3827 4871l0-28l-2-28l-6-29l-11-28l-17-23l-21-18l-25-12l-25-7l-25-3l-25-1l-25 1l-25 3l-25 7l-25 12l-21 18l-17 23l-11 28l-6 29l-2 28l0 28l0 28l2 29l6 29l11 28l17 23l21 18l25 12l25 7l25 3l25 0l25 0l25-3l25-7l25-12l21-18l17-23l11-28l6-29l2-29zM4333 4923l-1-25l-1-26l-5-27l-10-28l-16-28l-24-24l-28-19l-30-15l-29-10l-28-9l-28-7l-27-8l-28-5l-28-2l-27 4l-23 11l-16 18l-9 23l-4 25l-2 25l0 24l0 25l2 25l4 28l9 28l16 28l23 24l27 19l28 15l28 10l27 9l28 7l28 8l29 5l30 2l28-4l24-11l16-18l10-23l5-25l1-25zM4830 4871l0-27l-2-28l-4-28l-10-29l-17-24l-24-18l-27-10l-28-5l-27-1l-27-1l-26 1l-28 1l-29 5l-28 10l-24 18l-17 24l-10 29l-5 28l-1 28l-1 27l1 28l1 27l5 29l10 28l17 25l24 18l28 10l29 5l28 1l26 0l27 0l27-1l28-5l27-10l24-18l17-25l10-28l4-29l2-27zM718 5341l-1-25l-6-23l-11-20l-15-16l-18-12l-20-6l-21-2l-23 4l-23 9l-21 13l-18 19l-13 21l-7 24l-2 27l2 36l7 34l13 30l18 24l21 17l23 9l23 2l21-5l20-13l18-20l15-27l11-32l6-35zM1341 5346l-1-17l-5-17l-8-17l-14-16l-21-15l-27-12l-33-7l-33-3l-33 0l-32-1l-30 1l-31 2l-31 4l-28 10l-22 13l-16 16l-11 17l-5 17l-3 17l0 21l3 25l5 25l11 25l16 23l22 20l28 13l31 7l31 3l30 0l32 0l33-1l33-5l33-10l27-17l21-21l14-25l8-25l5-25zM1841 5346l-1-17l-4-18l-9-17l-14-17l-20-15l-27-11l-31-6l-32-3l-31 0l-31 0l-31 0l-32 3l-32 6l-27 11l-20 15l-14 17l-9 17l-4 18l-1 17l1 26l4 26l9 25l14 25l20 22l27 16l32 10l32 3l31 1l31 0l31-1l32-3l31-10l27-16l20-22l14-25l9-25l4-26zM2245 5426l-1-32l-7-36l-12-28l-16-24l-19-22l-21-18l-22-14l-22-10l-22-5l-19 0l-16 6l-12 12l-6 17l-2 20l2 22l6 24l12 32l16 36l19 31l22 27l22 21l22 15l21 7l19 0l16-9l12-17l7-25zM2840 5346l-2-18l-5-17l-9-17l-14-16l-20-14l-23-11l-27-8l-28-4l-28-1l-30 0l-33 1l-33 4l-31 8l-27 11l-23 14l-17 16l-11 17l-6 17l-1 18l1 26l6 26l11 25l17 24l23 20l27 16l31 11l33 7l33 2l30 0l28-2l28-7l27-11l23-16l20-20l14-24l9-25l5-26zM3344 5346l-2-17l-4-18l-8-17l-13-17l-20-15l-26-11l-31-6l-31-3l-30 0l-31 0l-32 0l-33 3l-33 6l-28 11l-21 15l-14 17l-9 17l-4 18l-1 17l1 26l4 26l9 25l14 25l21 22l28 16l33 10l33 3l32 1l31 0l30-1l31-3l31-10l26-16l20-22l13-25l8-25l4-26zM3830 5346l-1-19l-6-19l-11-18l-16-17l-22-14l-25-10l-29-6l-28-3l-29-1l-29 2l-29 4l-27 8l-24 12l-19 16l-13 18l-9 18l-3 20l0 23l3 28l9 28l13 26l19 23l24 18l27 12l29 6l29 2l29 0l28-4l29-9l25-15l22-21l16-24l11-28l6-28zM4339 5346l-1-17l-4-17l-9-17l-14-16l-20-15l-26-11l-31-7l-32-3l-32-1l-31-1l-30 1l-30 2l-31 5l-27 9l-23 13l-16 16l-11 17l-6 17l-2 17l0 21l2 25l6 25l11 24l16 23l23 19l27 14l31 8l30 3l30 0l31 0l32-1l32-5l31-11l26-17l20-21l14-24l9-25l4-25zM4836 5346l-1-18l-5-19l-8-18l-15-18l-22-14l-28-11l-31-5l-31-1l-31-1l-30 1l-32 1l-32 5l-28 11l-23 14l-15 18l-9 18l-4 19l-1 18l1 27l4 27l9 28l15 25l23 22l28 15l32 8l32 2l30 0l31 0l31-2l31-8l28-15l22-22l15-25l8-28l5-27zM5328 5346l-2-18l-4-18l-9-17l-14-17l-21-15l-26-11l-30-6l-31-2l-30-1l-29 1l-31 1l-30 4l-29 8l-23 13l-18 16l-11 17l-7 18l-3 18l0 22l3 27l7 26l11 26l18 23l23 19l29 12l30 6l31 2l29 0l30 0l31-4l30-9l26-16l21-21l14-25l9-26l4-27zM717 5876l-1-34l-1-34l-5-35l-9-30l-13-24l-15-17l-15-11l-16-6l-16-2l-18 2l-18 6l-18 11l-17 17l-15 24l-10 30l-6 35l-2 34l-1 34l1 34l2 35l6 34l10 30l15 24l17 17l18 11l18 7l18 2l16-2l16-7l15-11l15-17l13-24l9-30l5-34l1-35zM1334 5876l0-26l-1-26l-4-28l-9-27l-15-26l-21-21l-27-14l-30-8l-29-3l-29-1l-28 0l-25 0l-27 1l-27 3l-27 8l-25 14l-20 21l-14 26l-8 27l-3 28l-2 26l0 26l0 26l2 27l3 27l8 28l14 26l20 20l25 14l27 8l27 4l27 1l25 0l28 0l29-1l29-4l30-8l27-14l21-20l15-26l9-28l4-27l1-27zM1835 5876l-1-26l-1-28l-4-28l-8-28l-15-26l-21-20l-26-13l-28-8l-28-2l-27-1l-26 0l-27 0l-27 2l-28 4l-28 10l-24 17l-18 24l-12 27l-6 28l-2 28l-1 27l0 26l1 27l2 28l6 29l12 27l18 23l24 17l28 10l28 5l27 2l27 0l26 0l27-1l28-3l28-7l26-13l21-21l15-26l8-28l4-28l1-27zM2244 5867l-1-34l-2-35l-5-33l-10-30l-13-22l-16-15l-17-10l-16-4l-17-1l-17 4l-17 8l-17 13l-15 18l-14 25l-10 31l-5 35l-2 35l0 34l0 34l2 34l5 34l10 29l14 23l15 15l17 9l17 5l17 0l17-3l16-8l17-13l16-19l13-25l10-31l5-35l2-35zM2836 5876l0-27l-1-27l-5-28l-8-27l-14-25l-19-19l-23-15l-24-10l-24-5l-24-3l-24-1l-28 1l-28 3l-28 5l-28 10l-27 15l-22 19l-16 25l-10 27l-5 28l-2 27l0 27l0 27l2 28l5 27l10 28l16 24l22 20l27 15l28 9l28 6l28 3l28 0l24 0l24-3l24-6l24-9l23-15l19-20l14-24l8-28l5-27l1-28zM3337 5876l0-26l-1-28l-4-28l-8-28l-14-26l-21-20l-25-13l-28-8l-27-2l-26-1l-26 0l-27 0l-28 2l-30 4l-28 10l-25 17l-19 24l-12 27l-6 28l-2 28l-1 27l0 26l1 27l2 28l6 29l12 27l19 23l25 17l28 10l30 5l28 2l27 0l26 0l26-1l27-3l28-7l25-13l21-21l14-26l8-28l4-28l1-27zM3827 5876l0-29l-2-29l-5-30l-10-29l-16-24l-21-19l-24-14l-24-7l-25-4l-24-2l-24 1l-25 2l-24 6l-25 10l-22 16l-19 22l-13 27l-7 30l-3 30l-1 29l0 29l1 29l3 30l7 29l13 27l19 22l22 16l25 11l24 5l25 3l24 0l24-1l25-4l24-8l24-13l21-19l16-25l10-28l5-30l2-30zM4333 5876l-1-26l-1-28l-4-28l-9-27l-16-26l-22-20l-27-13l-29-8l-29-3l-28-1l-27 0l-26 0l-27 2l-28 5l-27 11l-24 16l-18 23l-12 27l-6 28l-3 28l0 27l0 26l0 27l3 28l6 28l12 27l18 23l24 17l27 10l28 6l27 1l26 1l27 0l28-1l29-4l29-7l27-14l22-20l16-25l9-28l4-28l1-27zM4830 5876l0-27l-1-28l-4-29l-9-29l-14-25l-21-20l-26-13l-27-6l-26-3l-25 0l-25 0l-26 0l-27 3l-27 6l-26 13l-21 20l-15 25l-9 29l-4 29l-1 28l-1 27l1 27l1 28l4 29l9 29l15 26l21 20l26 13l27 6l27 2l26 1l25 0l25-1l26-2l27-6l26-13l21-20l14-26l9-29l4-29l1-28zM5322 5876l0-27l-2-28l-4-29l-9-28l-15-25l-21-20l-26-13l-26-7l-27-3l-25 0l-26 0l-25 0l-27 3l-26 7l-26 13l-21 20l-15 25l-9 28l-4 29l-2 28l0 27l0 27l2 28l4 29l9 29l15 25l21 20l26 13l26 6l27 3l25 1l26 0l25-1l27-3l26-6l26-13l21-20l15-25l9-29l4-29l2-28zM5793 5988l-1-25l-3-28l-6-31l-9-31l-12-32l-14-30l-16-28l-16-25l-17-22l-21-18l-25-16l-25-11l-23-6l-21-1l-17 7l-13 11l-9 17l-5 21l-1 24l1 26l5 28l9 30l13 32l17 31l21 31l23 28l25 25l25 21l21 19l17 15l16 12l16 6l14 0l12-6l9-12l6-17l3-21zM720 6491l-2-17l-8-32l-13-35l-17-32l-20-26l-22-19l-25-11l-25-2l-24 6l-19 15l-15 23l-10 29l-3 33l3 36l10 23l15 17l19 16l24 12l25 10l25 5l22 1l20-3l17-7l13-11l8-14zM1348 6469l-2-24l-6-24l-10-25l-15-23l-23-20l-29-16l-34-10l-36-4l-35 0l-32 0l-33 0l-32 4l-32 10l-27 16l-21 20l-14 23l-9 25l-6 24l-1 24l1 12l6 12l9 11l14 12l21 10l27 8l32 4l32 2l33 0l32 0l35 0l36-2l34-4l29-8l23-10l15-12l10-11l6-12zM1847 6469l-2-25l-5-25l-10-25l-15-23l-22-21l-29-15l-33-9l-34-3l-32 0l-33 0l-34 1l-33 6l-32 12l-25 18l-19 22l-13 25l-7 25l-4 25l0 18l4 12l7 12l13 12l19 11l25 9l32 6l33 3l34 0l33 0l32 0l34-1l33-5l29-7l22-10l15-12l10-12l5-12zM2247 6393l-3-31l-9-23l-15-16l-19-6l-23 3l-25 13l-25 21l-24 28l-22 34l-17 37l-12 27l-6 18l0 16l6 13l12 10l17 5l22 1l24-4l25-8l25-12l23-16l19-17l15-20l9-38zM2843 6424l-2-23l-6-23l-11-20l-16-17l-20-13l-24-8l-28-3l-29 2l-29 6l-34 8l-34 11l-33 15l-31 19l-26 23l-21 24l-16 26l-10 22l-5 12l0 12l5 11l10 10l16 9l21 8l26 5l31 3l33 0l34-2l34-3l29-5l29-6l28-9l24-10l20-12l16-12l11-12l6-23zM3350 6469l-2-25l-5-25l-10-25l-15-23l-21-21l-28-15l-32-9l-33-3l-32 0l-33 0l-35 1l-35 6l-32 12l-27 18l-19 22l-13 25l-8 25l-3 25l0 18l3 12l8 12l13 12l19 11l27 9l32 6l35 3l35 0l33 0l32 0l33-1l32-5l28-7l21-10l15-12l10-12l5-12zM3833 6424l-2-26l-8-25l-13-21l-18-18l-24-12l-28-5l-31 1l-31 6l-31 10l-32 13l-29 18l-27 23l-21 27l-16 28l-10 27l-5 14l0 13l5 13l10 11l16 10l21 7l27 4l29 1l32-2l31-4l31-5l31-7l28-11l24-12l18-13l13-14l8-23zM4346 6440l-2-24l-6-23l-10-21l-15-21l-22-16l-28-12l-32-4l-34 0l-34 4l-32 5l-32 6l-33 9l-31 15l-26 19l-21 23l-15 25l-9 25l-6 22l-2 11l2 12l6 11l9 11l15 9l21 8l26 6l31 2l33 0l32-2l32-2l34-3l34-5l32-7l28-9l22-11l15-12l10-13l6-14zM4842 6469l-2-26l-6-27l-10-26l-16-24l-24-21l-30-14l-33-7l-33-1l-32 0l-33 0l-34 4l-32 10l-27 18l-21 23l-13 25l-8 27l-4 26l0 19l4 13l8 13l13 13l21 11l27 8l32 5l34 2l33 0l32 0l33 0l33-4l30-7l24-10l16-12l10-12l6-13zM5334 6469l-2-26l-6-27l-11-25l-17-24l-24-21l-30-14l-33-7l-33-2l-32 0l-33 0l-33 5l-32 10l-27 18l-20 22l-14 26l-8 26l-4 26l0 19l4 13l8 13l14 12l20 11l27 9l32 5l33 2l33 0l32 0l33-1l33-3l30-7l24-10l17-12l11-12l6-13zM5797 6528l-2-12l-6-14l-10-16l-14-16l-17-33l-20-34l-22-31l-24-27l-32-23l-30-18l-28-11l-23-3l-18 5l-12 12l-6 18l0 24l6 27l12 32l18 34l23 30l28 16l30 16l32 13l24 12l22 10l20 7l17 3l14 0l10-4l6-8zM6361 6469l-1-25l-6-25l-10-24l-16-23l-22-21l-28-15l-32-9l-33-4l-33 0l-32 0l-33 2l-33 6l-31 12l-25 18l-19 22l-13 24l-8 25l-3 25l0 18l3 12l8 12l13 12l19 11l25 9l31 5l33 3l33 1l32 0l33 0l33-2l32-4l28-8l22-9l16-12l10-12l6-12zM720 6967l-3-27l-10-24l-16-21l-21-16l-24-8l-27-2l-29 5l-27 12l-21 19l-16 23l-8 25l0 24l8 21l16 19l21 15l27 10l29 4l27-1l24-8l21-12l16-17l10-20zM1348 6967l-2-17l-7-16l-11-17l-18-15l-25-14l-33-9l-37-5l-37-2l-37 0l-33 0l-35 2l-34 5l-30 9l-24 14l-16 15l-11 17l-5 16l-2 17l2 13l5 13l11 14l16 12l24 11l30 8l34 4l35 1l33 0l37 0l37-1l37-4l33-8l25-11l18-12l11-14l7-13zM1847 6967l-2-17l-6-17l-11-17l-18-16l-25-13l-32-9l-35-5l-36-1l-34 0l-35 1l-36 2l-34 7l-29 11l-22 15l-14 16l-9 17l-4 17l0 16l4 13l9 14l14 13l22 12l29 10l34 5l36 2l35 0l34 0l36-1l35-3l32-8l25-10l18-13l11-14l6-14zM2247 6967l-4-28l-12-25l-18-22l-25-15l-27-8l-29 0l-27 8l-24 15l-19 22l-12 25l-4 28l4 22l12 21l19 17l24 12l27 6l29 0l27-6l25-12l18-17l12-21zM2843 6938l-2-16l-7-15l-13-14l-17-11l-23-8l-27-5l-29 0l-31 2l-33 5l-36 7l-36 9l-34 12l-29 15l-24 16l-17 18l-11 16l-6 14l0 14l6 12l11 12l17 10l24 8l29 5l34 2l36-1l36-3l33-4l31-7l29-8l27-11l23-13l17-14l13-14l7-16zM3350 6967l-2-17l-6-17l-11-17l-17-16l-25-13l-31-9l-34-5l-35-1l-34 0l-36 1l-37 2l-36 7l-30 11l-22 15l-14 16l-9 17l-4 17l0 16l4 13l9 14l14 13l22 12l30 10l36 5l37 2l36 0l34 0l35-1l34-3l31-8l25-10l17-13l11-14l6-14zM3833 6967l-3-20l-8-19l-15-18l-21-15l-27-13l-31-8l-33-3l-33-1l-34 2l-32 6l-29 10l-25 14l-17 17l-12 19l-6 19l0 18l6 15l12 15l17 14l25 11l29 9l32 4l34 2l33-1l33-3l31-6l27-10l21-13l15-14l8-16zM4346 6967l-2-17l-7-16l-11-16l-18-16l-24-13l-31-9l-36-6l-35-2l-35 0l-34 0l-34 2l-34 6l-29 9l-24 13l-17 16l-11 16l-6 16l-2 17l2 13l6 13l11 13l17 13l24 10l29 8l34 4l34 2l34 0l35 0l35-2l36-4l31-8l24-10l18-13l11-13l7-13zM4842 6967l-2-18l-7-18l-12-18l-18-16l-27-13l-34-8l-35-3l-34-1l-35 0l-35 2l-36 5l-31 10l-23 15l-15 18l-10 18l-4 18l0 16l4 15l10 14l15 14l23 12l31 9l36 4l35 1l35 0l34 0l35-3l34-6l27-11l18-13l12-14l7-15zM5334 6967l-3-18l-7-18l-12-18l-20-16l-27-13l-33-8l-35-3l-35-1l-34 0l-35 2l-35 6l-30 10l-23 15l-16 17l-10 18l-4 18l0 16l4 15l10 14l16 14l23 12l30 8l35 5l35 1l34 0l35 0l35-3l33-7l27-10l20-13l12-14l7-15zM5797 6998l-3-17l-8-20l-13-22l-18-21l-22-18l-24-14l-28-10l-36-6l-35-1l-30 5l-23 11l-16 15l-7 18l0 21l7 22l16 19l23 18l30 16l35 13l36 9l28 7l24 3l22-2l18-6l13-11l8-13zM6361 6978l-2-14l-6-17l-12-18l-17-16l-25-15l-32-11l-35-8l-34-4l-35-2l-34-2l-35 0l-34 4l-28 9l-22 13l-14 15l-9 16l-4 16l0 17l4 15l9 14l14 14l22 13l28 10l34 8l35 4l34 3l35 2l34 1l35-2l32-5l25-9l17-12l12-12l6-13zM6742 6918l-5-21l-15-15l-24-10l-31-4l-36 4l-39 10l-19 15l-17 21l-16 23l-11 26l-7 20l-3 19l3 17l7 13l11 8l16 2l17-2l19-8l39-13l36-17l31-19l24-20l15-26zM720 7377l-3-25l-9-21l-15-18l-20-15l-22-10l-25-5l-28 1l-26 6l-23 11l-17 16l-11 19l-4 21l4 28l11 31l17 28l23 23l26 15l28 8l25-1l22-10l20-17l15-24l9-29zM1348 7365l-2-14l-6-13l-11-13l-17-13l-23-11l-31-9l-36-4l-36-2l-36 0l-33 0l-33 1l-34 3l-31 6l-26 10l-18 12l-13 13l-7 14l-4 13l0 17l4 21l7 20l13 20l18 19l26 15l31 10l34 4l33 2l33 0l36-1l36-2l36-7l31-13l23-17l17-20l11-20l6-21zM1847 7365l-2-14l-5-14l-11-14l-16-13l-24-11l-30-8l-34-4l-35-1l-33 0l-34 0l-35 1l-34 4l-31 8l-23 11l-17 13l-11 14l-5 14l-2 14l2 21l5 21l11 21l17 20l23 17l31 12l34 6l35 2l34 1l33-1l35-2l34-6l30-12l24-17l16-20l11-21l5-21zM2247 7365l-3-22l-10-19l-16-17l-21-13l-24-9l-26-3l-27 3l-24 9l-21 13l-16 17l-10 19l-3 22l3 32l10 31l16 26l21 20l24 12l27 5l26-5l24-12l21-20l16-26l10-31zM2843 7365l-2-14l-7-14l-11-13l-17-13l-21-10l-26-8l-28-6l-31-2l-30-1l-35 1l-35 2l-34 6l-30 8l-25 10l-19 13l-14 13l-8 14l-2 14l2 21l8 21l14 21l19 18l25 16l30 13l34 8l35 4l35 1l30-1l31-4l28-8l26-13l21-16l17-18l11-21l7-21zM3350 7365l-2-14l-6-14l-10-14l-16-13l-23-11l-29-8l-34-4l-33-1l-33 0l-35 0l-36 1l-35 4l-32 8l-24 11l-17 13l-11 14l-6 14l-2 14l2 21l6 21l11 21l17 20l24 17l32 12l35 6l36 2l35 1l33-1l33-2l34-6l29-12l23-17l16-20l10-21l6-21zM3833 7365l-2-16l-8-15l-14-15l-20-13l-25-11l-30-7l-32-3l-32-1l-32 1l-32 3l-30 7l-25 11l-20 13l-14 15l-8 15l-2 16l2 24l8 24l14 22l20 20l25 16l30 10l32 6l32 1l32-1l32-6l30-10l25-16l20-20l14-22l8-24zM4346 7365l-2-14l-6-13l-11-13l-17-13l-23-11l-29-8l-34-5l-35-2l-34 0l-33 0l-33 1l-33 3l-31 7l-25 9l-19 12l-12 13l-8 14l-4 13l0 17l4 21l8 20l12 20l19 18l25 15l31 10l33 5l33 2l33 0l34-1l35-3l34-7l29-13l23-17l17-19l11-20l6-21zM4842 7365l-2-14l-6-15l-10-14l-16-13l-24-11l-30-8l-33-3l-33-1l-32 0l-33 0l-34 2l-32 6l-27 9l-21 12l-13 14l-8 14l-4 15l0 18l4 21l8 22l13 21l21 19l27 15l32 8l34 3l33 1l32 0l33-2l33-5l30-12l24-17l16-20l10-22l6-22zM5334 7365l-2-14l-6-15l-11-13l-17-14l-24-11l-30-7l-33-4l-33-1l-32 0l-33 0l-33 2l-32 6l-27 10l-20 12l-14 13l-8 14l-4 15l0 18l4 21l8 22l14 21l20 18l27 15l32 8l33 4l33 1l32 0l33-2l33-6l30-12l24-17l17-20l11-21l6-22zM5797 7426l-3-25l-7-27l-12-21l-17-18l-21-16l-23-14l-24-10l-35-8l-34-4l-31 1l-25 5l-18 9l-11 12l-3 14l3 17l11 18l18 24l25 28l31 24l34 21l35 16l24 11l23 7l21-1l17-8l12-13l7-19zM6361 7389l-1-21l-7-15l-10-14l-17-14l-24-13l-29-10l-34-7l-34-5l-33-3l-33-2l-35-2l-33 2l-30 5l-23 9l-17 11l-11 13l-6 13l-2 13l2 14l6 20l11 22l17 21l23 19l30 16l33 11l35 7l33 4l33 4l34 2l34-2l29-8l24-14l17-17l10-19l7-20zM6742 7332l-5-17l-12-14l-21-11l-27-6l-32-1l-35 3l-27 8l-17 12l-15 15l-14 18l-10 20l-6 27l-2 29l2 26l6 22l10 16l14 9l15 2l17-5l27-12l35-18l32-24l27-27l21-30l12-23zM7202 7295l-3-9l-11-4l-16 3l-22 9l-25 14l-25 18l-20 21l-19 25l-16 34l-11 30l-6 26l0 18l6 9l11 1l16-9l19-18l20-25l25-30l25-34l22-25l16-21l11-19z"/>
<path id="otot" d="M707 792l0-36l-1-36l-4-37l-7-33l-11-26l-12-19l-13-12l-13-7l-14-3l-16 1l-17 5l-17 10l-17 15l-15 22l-12 30l-7 35l-3 37l-1 36l0 34l1 34l3 34l7 32l12 28l15 20l17 14l17 9l17 5l16 0l14-2l13-7l13-11l12-17l11-24l7-30l4-34l1-34zM707 1288l0-34l-1-35l-4-34l-8-31l-11-23l-13-17l-14-11l-13-5l-14-2l-18 2l-18 5l-17 11l-17 17l-14 23l-11 31l-5 34l-2 35l0 34l0 34l2 35l5 35l11 30l14 24l17 17l17 11l18 5l18 2l14-2l13-5l14-11l13-17l11-24l8-30l4-35l1-35zM1333 1288l0-26l-1-26l-4-28l-8-28l-14-26l-22-20l-28-14l-29-7l-30-4l-28-1l-28 0l-25 0l-26 1l-27 4l-28 7l-25 14l-20 20l-14 26l-7 28l-3 28l-1 26l0 26l0 26l1 27l3 28l7 28l14 25l20 21l25 14l28 7l27 4l26 1l25 0l28 0l28-1l30-4l29-7l28-14l22-21l14-25l8-28l4-28l1-27zM710 1878l-3-19l-10-23l-15-24l-19-27l-22-24l-27-20l-29-13l-25-6l-20 1l-13 9l-4 16l4 21l13 26l20 26l25 24l29 21l27 18l22 12l19 5l15-1l10-8zM1346 1817l-2-16l-6-16l-11-16l-18-15l-25-13l-33-10l-36-4l-38-2l-36 0l-33 0l-34 2l-34 4l-30 10l-23 13l-17 15l-10 16l-6 16l-2 16l2 14l6 14l10 14l17 14l23 11l30 9l34 4l34 1l33 0l36 0l38-1l36-4l33-9l25-11l18-14l11-14l6-14zM1846 1817l-2-17l-6-16l-12-17l-17-15l-25-13l-32-9l-35-4l-35-1l-34 0l-35 0l-35 3l-34 6l-29 11l-21 14l-14 16l-9 17l-4 16l0 16l4 15l9 14l14 15l21 12l29 10l34 6l35 2l35 0l34 0l35-1l35-3l32-8l25-12l17-13l12-15l6-15zM709 2405l-2-26l-8-29l-13-30l-17-28l-19-25l-21-20l-27-14l-25-8l-23-1l-16 8l-10 16l-3 21l3 25l10 28l16 30l23 29l25 26l27 21l21 15l19 9l17 0l13-8l8-17zM1340 2335l-1-18l-4-18l-9-19l-16-18l-24-15l-31-10l-36-6l-35-2l-34 0l-32 0l-32 1l-33 4l-31 7l-26 13l-18 17l-11 18l-6 19l-2 18l0 19l2 19l6 20l11 19l18 17l26 14l31 8l33 4l32 1l32 0l34 0l35-2l36-6l31-11l24-16l16-19l9-19l4-20zM1839 2335l-1-18l-4-19l-8-19l-16-18l-24-15l-30-10l-34-5l-33-2l-32 0l-33 0l-33 2l-34 5l-30 10l-24 15l-16 18l-9 19l-4 19l-1 18l1 20l4 20l9 20l16 19l24 16l30 10l34 5l33 2l33 0l32 0l33-2l34-5l30-10l24-16l16-19l8-20l4-20zM2232 2280l-3-23l-8-19l-15-11l-20-3l-22 4l-24 12l-21 17l-20 23l-18 26l-13 29l-8 31l-2 27l2 25l8 20l13 11l18 4l20-5l21-12l24-18l22-24l20-28l15-31l8-28zM707 2815l0-33l-1-33l-4-34l-8-29l-11-23l-13-17l-14-10l-13-5l-14-2l-18 2l-18 5l-17 10l-17 17l-14 23l-11 29l-5 34l-2 33l0 33l0 35l2 36l5 36l11 31l14 25l17 17l17 11l18 6l18 2l14-2l13-6l14-11l13-17l11-25l8-31l4-36l1-36zM1333 2815l0-26l-1-26l-4-27l-9-28l-15-25l-24-20l-28-12l-31-7l-30-2l-29-1l-27 0l-26 0l-27 2l-28 4l-28 9l-24 16l-18 23l-11 27l-6 27l-2 27l0 26l0 27l0 27l2 29l6 30l11 28l18 24l24 18l28 9l28 5l27 2l26 0l27 0l29-1l30-3l31-7l28-13l24-21l15-27l9-29l4-29l1-29zM1833 2815l0-26l-1-26l-3-27l-8-28l-15-25l-21-20l-27-12l-28-7l-28-2l-26-1l-26 0l-26 0l-27 2l-28 4l-28 9l-24 16l-19 23l-11 27l-5 27l-2 27l-1 26l0 27l1 27l2 29l5 30l11 28l19 24l24 18l28 9l28 5l27 2l26 0l26 0l26-1l28-3l28-7l27-13l21-21l15-27l8-29l3-29l1-29zM2230 2875l0-35l-2-36l-5-35l-10-35l-13-30l-16-24l-16-19l-16-15l-16-11l-14-7l-15-4l-14 2l-13 9l-10 18l-7 27l-3 31l0 32l0 32l0 33l3 37l7 38l10 35l13 29l14 23l15 18l14 14l16 10l16 5l16 1l16-5l13-14l10-24l5-32l2-34zM2737 2892l0-31l-2-33l-4-35l-10-34l-15-32l-18-26l-18-21l-19-17l-18-13l-19-12l-20-9l-20-5l-18 2l-16 11l-10 21l-5 27l-2 29l0 29l0 29l2 31l5 35l10 37l16 34l18 28l20 22l20 18l19 14l18 13l19 10l18 5l18-2l15-12l10-22l4-29l2-31zM709 3405l-2-22l-5-27l-10-29l-13-32l-15-33l-17-31l-18-26l-23-21l-22-16l-21-8l-17 0l-12 8l-7 17l-2 22l2 26l7 31l12 34l17 32l21 29l22 26l23 22l18 19l17 13l15 7l13 0l10-7l5-14zM1340 3204l-2-15l-5-12l-11-8l-15-5l-21-1l-25 4l-28 7l-29 12l-31 14l-32 17l-28 18l-29 20l-28 21l-25 23l-23 23l-19 20l-14 19l-10 18l-5 15l-1 14l1 13l5 10l10 8l14 4l19 1l23-4l25-6l28-10l29-13l28-14l32-15l31-18l29-18l28-20l25-22l21-23l15-22l11-21l5-18zM1839 3314l0-24l-4-24l-7-24l-12-24l-20-21l-26-15l-30-10l-31-4l-30-1l-30 0l-30 1l-31 2l-31 6l-28 13l-23 18l-16 23l-10 24l-5 24l-2 24l0 22l2 20l5 21l10 21l16 19l23 16l28 11l31 6l31 1l30 1l30 0l30-1l31-4l30-8l26-13l20-18l12-20l7-21l4-21zM2232 3222l-2-25l-6-20l-11-13l-15-5l-18 4l-20 11l-20 18l-18 23l-18 28l-16 32l-13 34l-10 30l-5 28l-2 25l2 22l5 18l10 11l13 4l16-4l18-9l18-15l20-20l20-24l18-28l15-29l11-34l6-33zM2739 3269l-1-30l-5-28l-9-24l-16-17l-20-9l-22 0l-22 6l-23 9l-24 13l-23 19l-20 25l-17 31l-10 32l-5 30l-1 26l1 26l5 24l10 21l17 15l20 7l23 0l24-5l23-8l22-11l22-16l20-22l16-26l9-28l5-30zM3341 3314l-1-25l-3-24l-8-25l-13-24l-20-21l-26-15l-31-9l-30-3l-30-1l-31 0l-31 1l-33 3l-33 9l-28 15l-21 21l-14 24l-8 25l-4 24l-1 25l1 21l4 21l8 21l14 21l21 18l28 13l33 7l33 3l31 1l31 0l30-1l30-3l31-7l26-13l20-18l13-21l8-21l3-21zM707 3957l-1-28l-3-30l-6-33l-9-33l-11-33l-13-31l-14-28l-14-24l-16-20l-19-15l-18-9l-16-4l-14 2l-12 10l-8 15l-4 21l-2 26l2 27l4 31l8 33l12 33l14 33l16 31l18 27l19 24l16 20l14 15l14 10l13 4l11-3l9-9l6-16l3-21zM1333 3892l0-25l-2-25l-4-27l-10-28l-17-27l-24-23l-30-18l-31-12l-30-9l-29-7l-28-6l-27-6l-28-4l-28-2l-27 5l-23 13l-15 19l-9 24l-5 25l-1 25l0 24l0 25l1 25l5 27l9 28l15 26l23 24l27 17l28 13l28 8l27 7l28 6l29 6l30 5l31 1l30-5l24-13l17-19l10-24l4-25l2-24zM1833 3850l0-26l-2-26l-4-28l-10-27l-17-24l-23-18l-29-11l-29-5l-28-2l-28 0l-27 0l-28 1l-29 3l-29 8l-27 14l-20 21l-13 26l-7 28l-3 27l-1 26l0 26l1 26l3 27l7 27l13 26l20 21l27 15l29 7l29 4l28 0l27 1l28-1l28-2l29-5l29-10l23-18l17-25l10-27l4-27l2-26zM2230 3752l-1-28l-4-23l-8-17l-11-11l-13-4l-15 3l-17 9l-17 15l-16 20l-15 24l-14 29l-12 32l-11 34l-9 34l-5 33l-2 32l0 28l2 25l5 21l9 14l11 7l12 1l14-7l15-12l16-17l17-22l17-27l15-30l13-33l11-34l8-34l4-33zM2737 3781l0-30l-2-29l-6-26l-12-19l-16-9l-19 0l-20 6l-20 11l-19 13l-21 15l-21 20l-20 25l-17 31l-12 34l-6 34l-3 32l0 30l0 29l3 29l6 26l12 19l17 9l20 0l21-6l21-11l19-13l20-15l20-19l19-26l16-30l12-35l6-34l2-32zM3335 3850l0-26l-2-26l-4-28l-10-27l-16-24l-23-18l-27-11l-28-5l-28-2l-26 0l-28 0l-29 1l-30 3l-30 8l-27 14l-21 21l-14 26l-7 28l-3 27l0 26l0 26l0 26l3 27l7 27l14 26l21 21l27 15l30 7l30 4l29 0l28 1l26-1l28-2l28-5l27-10l23-18l16-25l10-27l4-27l2-26zM3821 3824l-1-29l-2-30l-6-29l-13-26l-19-19l-23-11l-25-5l-25 0l-24 3l-22 5l-21 7l-22 11l-21 17l-18 23l-14 28l-8 31l-3 31l-1 30l0 29l1 30l3 29l8 28l14 22l18 16l21 8l22 2l21-2l22-4l24-6l25-9l25-14l23-19l19-26l13-30l6-31l2-31zM707 4349l0-33l-2-34l-4-34l-10-29l-12-21l-14-14l-14-9l-15-4l-16 0l-19 4l-19 9l-18 14l-16 21l-12 29l-6 34l-2 34l-1 33l1 34l2 35l6 34l12 30l16 22l18 14l19 9l19 4l16 0l15-4l14-9l14-14l12-22l10-30l4-34l2-35zM1333 4349l0-25l-1-26l-4-27l-10-27l-17-24l-25-18l-29-11l-32-6l-30-2l-29-1l-28 0l-27 1l-28 2l-29 6l-27 11l-23 18l-16 24l-8 27l-4 27l-1 26l0 25l0 26l1 26l4 28l8 27l16 25l23 19l27 11l29 6l28 2l27 0l28 0l29 0l30-2l32-6l29-11l25-19l17-25l10-27l4-28l1-26zM1833 4349l0-25l-1-27l-4-28l-10-27l-17-24l-24-18l-28-11l-30-5l-28-1l-28-1l-27 0l-28 1l-29 3l-30 8l-26 14l-21 21l-13 26l-7 28l-2 27l-1 27l0 25l1 27l2 28l7 28l13 27l21 22l26 14l30 7l29 3l28 1l27 0l28 0l28-2l30-5l28-10l24-18l17-25l10-28l4-28l1-27zM2230 4349l0-33l-2-34l-6-34l-10-29l-14-21l-17-14l-16-9l-17-4l-16 0l-14 4l-15 9l-15 14l-12 21l-10 29l-5 34l-1 34l0 33l0 34l1 35l5 34l10 30l12 22l15 14l15 9l14 4l16 0l17-4l16-9l17-14l14-22l10-30l6-34l2-35zM2737 4349l0-32l-2-33l-6-34l-11-29l-17-22l-19-13l-20-7l-20-2l-19 0l-21 2l-21 7l-20 13l-18 22l-12 29l-6 34l-2 33l0 32l0 33l2 34l6 34l12 30l18 22l20 14l21 7l21 2l19 0l20-2l20-7l19-14l17-22l11-30l6-34l2-34zM3335 4349l0-25l-1-27l-4-28l-9-27l-17-24l-23-18l-28-11l-28-5l-28-1l-26-1l-28 0l-29 1l-30 3l-30 8l-28 14l-21 21l-14 26l-6 28l-3 27l0 27l0 25l0 27l3 28l6 28l14 27l21 22l28 14l30 7l30 3l29 1l28 0l26 0l28-2l28-5l28-10l23-18l17-25l9-28l4-28l1-27zM3821 4349l-1-29l-2-31l-6-31l-12-28l-19-23l-23-15l-25-10l-26-4l-24-1l-22 0l-22 3l-21 6l-21 12l-19 19l-14 26l-7 31l-3 31l-1 30l0 29l1 31l3 31l7 31l14 27l19 19l21 12l21 7l22 3l22 0l24-1l26-5l25-9l23-16l19-23l12-29l6-31l2-32zM4317 4358l-1-27l-1-27l-4-29l-10-28l-17-24l-24-19l-27-11l-28-6l-27-3l-26-1l-25-1l-27 0l-28 3l-27 9l-23 15l-17 23l-10 27l-5 28l-1 28l0 26l0 27l1 28l5 29l10 28l17 25l23 19l27 11l28 7l27 3l25 1l26 1l27 0l28-3l27-9l24-16l17-23l10-28l4-29l1-27zM707 4826l0-33l-2-34l-7-29l-10-22l-13-12l-15-4l-16 1l-15 7l-20 11l-20 15l-19 21l-18 28l-13 33l-8 36l-3 35l-1 32l1 31l3 31l8 27l13 20l18 11l19 4l20-2l20-6l15-10l16-14l15-19l13-26l10-30l7-34l2-34zM1333 4870l0-25l-2-26l-5-27l-10-27l-19-24l-25-18l-31-10l-32-5l-31-2l-29 0l-28 0l-28 0l-29 4l-29 7l-26 14l-21 21l-13 26l-7 27l-3 27l0 26l0 24l0 24l3 24l7 25l13 24l21 19l26 13l29 7l29 3l28 1l28 0l29 0l31-2l32-5l31-9l25-17l19-22l10-24l5-25l2-24zM1833 4870l0-26l-2-27l-5-27l-10-28l-18-23l-25-18l-30-10l-30-4l-29-1l-27 0l-29 0l-29 1l-30 4l-29 10l-25 18l-18 23l-11 28l-5 27l-1 27l-1 26l1 24l1 25l5 26l11 25l18 22l25 15l29 10l30 4l29 1l29 0l27 0l29-1l30-4l30-10l25-15l18-22l10-25l5-26l2-25zM2230 4935l0-30l-3-32l-7-36l-12-35l-16-31l-17-26l-17-20l-18-16l-16-12l-16-7l-15-1l-14 6l-10 17l-7 25l-2 31l0 32l0 32l2 35l7 34l10 33l14 28l15 24l16 18l16 15l18 11l17 7l17 1l16-6l12-16l7-23l3-29zM2737 4870l0-33l-3-33l-6-34l-13-28l-17-21l-20-13l-20-6l-20-2l-21 0l-21 4l-21 9l-20 17l-16 25l-10 32l-5 34l-1 33l0 31l1 31l5 31l10 29l16 23l20 16l21 8l21 4l21 0l20-1l20-6l20-12l17-19l13-27l6-30l3-32zM3335 4870l0-26l-2-27l-5-27l-10-28l-17-23l-25-18l-28-10l-29-4l-28-1l-27 0l-29 0l-30 1l-31 4l-30 10l-26 18l-18 23l-11 28l-5 27l-2 27l0 26l0 24l2 25l5 26l11 25l18 22l26 15l30 10l31 4l30 1l29 0l27 0l28-1l29-4l28-10l25-15l17-22l10-25l5-26l2-25zM3821 4870l-1-30l-2-31l-7-30l-14-29l-20-22l-24-15l-25-8l-26-4l-25-1l-22 1l-22 4l-22 8l-21 15l-17 22l-12 29l-6 30l-2 31l0 30l0 28l2 28l6 29l12 26l17 20l21 14l22 8l22 4l22 0l25 0l26-4l25-8l24-14l20-20l14-26l7-29l2-28zM4317 4916l-1-24l-2-26l-5-30l-12-30l-20-28l-26-23l-28-17l-29-12l-28-9l-27-8l-28-7l-28-6l-29 0l-26 7l-19 16l-12 23l-6 26l-2 27l0 26l0 26l2 27l6 27l12 28l19 26l26 21l29 16l28 11l28 8l27 8l28 7l29 5l28 0l26-7l20-15l12-21l5-24l2-24zM4828 4870l0-27l-2-27l-5-29l-10-27l-18-24l-25-17l-28-9l-28-3l-28-1l-26 0l-28 0l-28 2l-29 6l-27 13l-23 20l-14 26l-8 29l-3 28l0 27l0 25l0 25l3 26l8 27l14 24l23 19l27 11l29 6l28 2l28 0l26 0l28-1l28-3l28-9l25-15l18-22l10-25l5-27l2-25zM709 5318l-3-24l-8-21l-14-14l-18-7l-21-1l-23 7l-28 12l-26 18l-21 22l-14 26l-7 27l0 27l7 25l14 19l21 12l26 4l28-3l23-10l21-17l18-22l14-27l8-28zM1340 5346l-2-16l-5-16l-10-16l-17-15l-25-13l-33-9l-36-5l-36-1l-35 0l-32 0l-33 1l-33 5l-30 9l-23 13l-16 15l-9 16l-5 16l-1 16l1 18l5 17l9 18l16 16l23 14l30 10l33 5l33 1l32 1l35-1l36-1l36-5l33-10l25-14l17-16l10-18l5-17zM1839 5346l-1-16l-5-17l-10-17l-17-15l-25-13l-31-8l-35-4l-34-1l-33 0l-33 0l-35 2l-33 6l-29 11l-21 14l-13 17l-8 16l-3 17l0 17l3 18l8 18l13 18l21 16l29 11l33 7l35 2l33 1l33 0l34-2l35-4l31-9l25-14l17-17l10-18l5-18zM2232 5398l-3-27l-10-29l-18-27l-23-24l-25-20l-25-13l-22-7l-21 0l-15 9l-9 17l-3 22l3 25l9 27l15 29l21 27l22 21l25 14l25 8l23-1l18-9l10-18zM2739 5366l-2-26l-9-24l-16-24l-24-18l-27-13l-28-6l-30-3l-28 2l-25 11l-17 17l-10 22l-2 23l2 25l10 27l17 26l25 20l28 13l30 8l28 3l27-3l24-11l16-19l9-24zM3341 5346l-1-16l-5-17l-10-17l-16-15l-24-13l-31-8l-33-4l-33-1l-32 0l-35 0l-35 2l-35 6l-29 11l-22 14l-14 17l-7 16l-3 17l0 17l3 18l7 18l14 18l22 16l29 11l35 7l35 2l35 1l32 0l33-2l33-4l31-9l24-14l16-17l10-18l5-18zM3823 5346l-2-21l-9-20l-16-19l-24-16l-30-11l-32-5l-33-1l-29 1l-28 5l-26 11l-20 16l-14 19l-8 20l-2 21l2 23l8 22l14 21l20 17l26 12l28 5l29 2l33-2l32-5l30-12l24-17l16-21l9-22zM4322 5346l-1-17l-6-18l-11-17l-19-16l-26-12l-32-8l-34-3l-32 0l-33 0l-33 1l-33 5l-30 10l-22 15l-15 16l-8 18l-4 17l0 19l4 19l8 19l15 18l22 16l30 10l33 6l33 2l33 0l32-1l34-3l32-8l26-14l19-17l11-19l6-19zM4834 5346l-1-17l-6-18l-11-17l-18-17l-26-12l-33-7l-34-3l-33 0l-32 0l-35 1l-34 5l-30 10l-23 14l-15 17l-8 18l-3 17l0 19l3 19l8 19l15 18l23 16l30 11l34 5l35 2l32 0l33-1l34-3l33-8l26-13l18-18l11-19l6-19zM5322 5328l-1-18l-7-18l-13-16l-21-14l-30-8l-34-2l-35 2l-34 4l-31 4l-33 7l-30 13l-24 16l-15 19l-9 20l-4 19l0 20l4 19l9 19l15 17l24 12l30 5l33 0l31-3l34-5l35-6l34-10l30-16l21-20l13-21l7-21zM707 5876l0-34l-2-35l-4-35l-9-30l-11-23l-14-16l-13-11l-14-5l-16-1l-18 3l-18 8l-18 13l-16 20l-13 26l-9 33l-4 35l-1 35l0 34l1 35l4 35l9 33l13 27l16 20l18 13l18 8l18 3l16-1l14-6l13-10l14-16l11-24l9-30l4-34l2-35zM1333 5876l0-26l-2-27l-4-28l-9-27l-16-26l-22-20l-29-13l-30-7l-30-3l-29-1l-27 0l-26 1l-27 1l-28 5l-27 10l-24 16l-18 23l-11 27l-6 28l-3 28l0 26l0 26l0 27l3 27l6 28l11 27l18 23l24 17l27 10l28 4l27 2l26 0l27 0l29 0l30-3l30-7l29-14l22-20l16-25l9-28l4-28l2-27zM1833 5876l0-27l-1-27l-5-29l-9-28l-15-25l-23-20l-27-13l-28-6l-28-2l-27-1l-27 0l-27 1l-28 2l-29 6l-27 13l-22 20l-16 25l-9 28l-4 29l-1 27l-1 27l1 27l1 28l4 28l9 28l16 26l22 20l27 12l29 6l28 3l27 0l27 0l27 0l28-3l28-6l27-12l23-20l15-26l9-28l5-28l1-28zM2230 5829l0-34l-2-33l-6-30l-9-24l-14-16l-15-7l-16-2l-16 4l-16 7l-14 12l-14 16l-14 21l-13 26l-11 32l-6 36l-4 36l0 34l0 33l0 34l4 32l6 28l11 19l13 12l14 4l14-1l14-5l16-10l16-14l16-18l15-24l14-29l9-35l6-36l2-35zM2737 5876l0-32l-2-34l-5-33l-10-30l-14-24l-18-16l-18-10l-19-4l-18-1l-19 1l-20 4l-19 10l-19 16l-15 24l-10 30l-6 33l-2 34l0 32l0 33l2 33l6 33l10 31l15 24l19 16l19 9l20 5l19 1l18-1l19-5l18-9l18-16l14-24l10-31l5-33l2-33zM3335 5876l0-27l-2-27l-4-29l-8-28l-15-25l-22-20l-26-13l-28-6l-27-2l-26-1l-27 0l-27 1l-29 2l-30 6l-28 13l-23 20l-16 25l-9 28l-5 29l-1 27l0 27l0 27l1 28l5 28l9 28l16 26l23 20l28 12l30 6l29 3l27 0l27 0l26 0l27-3l28-6l26-12l22-20l15-26l8-28l4-28l2-28zM3821 5839l-1-30l-2-30l-6-30l-11-25l-18-20l-22-11l-24-5l-24 1l-24 4l-23 6l-20 8l-21 12l-21 17l-19 23l-15 28l-10 32l-5 32l-2 32l0 30l0 30l2 30l5 30l10 26l15 19l19 12l21 4l21 0l20-4l23-6l24-9l24-11l24-17l22-23l18-28l11-32l6-33l2-32zM4317 5876l-1-27l-1-29l-5-29l-9-28l-16-25l-22-19l-26-12l-26-6l-27-2l-25-1l-25 0l-26 2l-27 3l-26 9l-24 15l-20 23l-12 27l-7 29l-2 29l-1 28l0 27l1 28l2 28l7 30l12 27l20 22l24 16l26 8l27 4l26 1l25 0l25 0l27-2l26-6l26-12l22-19l16-25l9-29l5-29l1-28zM4828 5876l0-27l-1-29l-5-29l-9-29l-15-25l-22-19l-26-12l-28-6l-26-1l-25-1l-26 0l-26 1l-28 4l-27 8l-25 15l-19 23l-13 28l-6 29l-3 29l0 28l0 27l0 28l3 29l6 29l13 28l19 22l25 16l27 8l28 3l26 1l26 0l25 0l26-2l28-5l26-12l22-19l15-26l9-29l5-29l1-28zM5317 5876l0-28l-2-29l-5-30l-10-29l-17-25l-22-18l-27-11l-27-6l-26-1l-26-1l-23 1l-25 1l-25 6l-24 11l-21 18l-16 25l-9 29l-4 30l-2 29l0 28l0 28l2 29l4 30l9 29l16 26l21 18l24 11l25 5l25 2l23 0l26 0l26-2l27-5l27-11l22-18l17-26l10-29l5-30l2-29zM5780 6006l-1-26l-4-28l-6-31l-9-33l-12-36l-14-34l-16-31l-16-27l-16-23l-18-20l-17-16l-16-9l-15-2l-11 6l-9 12l-5 19l-2 24l0 26l2 30l5 32l9 35l11 34l15 32l16 30l17 27l18 23l16 20l16 17l16 11l14 6l12-2l9-9l6-14l4-20zM710 6498l-4-18l-13-20l-20-21l-24-18l-29-13l-33-6l-30 1l-21 9l-11 14l0 19l11 22l21 19l30 17l33 13l29 8l24 2l20-4l13-10zM1346 6469l-2-12l-6-11l-12-12l-19-11l-27-9l-35-6l-38-3l-38-1l-36 0l-35 0l-35 2l-34 5l-29 7l-21 11l-14 11l-8 12l-4 11l0 11l4 10l8 10l14 9l21 9l29 7l34 3l35 2l35 0l36 0l38-1l38-2l35-5l27-8l19-9l12-10l6-10zM1846 6469l-3-12l-7-13l-12-12l-20-11l-29-9l-35-5l-38-2l-36-1l-37 0l-37 1l-37 4l-33 7l-24 10l-16 12l-10 12l-4 13l0 11l4 11l10 10l16 10l24 9l33 6l37 3l37 1l37 0l36 0l38-2l35-4l29-8l20-10l12-10l7-10zM2234 6432l-6-17l-16-11l-25-2l-31 5l-31 13l-27 19l-22 22l-15 21l-5 19l5 14l15 9l22 2l27-4l31-11l31-16l25-19l16-23zM2741 6449l-4-18l-12-15l-22-11l-30-3l-32 3l-34 6l-33 12l-27 17l-18 19l-9 19l0 16l9 14l18 11l27 7l33 0l34-5l32-7l30-13l22-15l12-17zM3347 6469l-2-12l-7-13l-12-12l-20-11l-27-9l-35-5l-36-2l-35-1l-37 0l-38 1l-39 4l-33 7l-25 10l-17 12l-10 12l-5 13l0 11l5 11l10 10l17 10l25 9l33 6l39 3l38 1l37 0l35 0l36-2l35-4l27-8l20-10l12-10l7-10zM3826 6456l-4-16l-12-15l-21-12l-30-8l-35-3l-38 1l-34 4l-32 8l-28 11l-22 15l-14 16l-7 16l0 14l7 13l14 12l22 8l28 5l32 1l34-3l38-4l35-8l30-12l21-13l12-14zM4328 6456l-2-13l-8-12l-14-11l-22-10l-30-6l-36-2l-37 2l-35 2l-36 3l-37 6l-33 9l-26 12l-18 13l-11 13l-5 13l0 10l5 11l11 10l18 9l26 7l33 3l37 0l36-1l35-3l37-3l36-6l30-9l22-11l14-12l8-11zM4840 6469l-3-13l-7-13l-13-13l-22-12l-31-8l-36-5l-37-1l-36 0l-37 1l-37 2l-35 7l-27 10l-17 12l-11 13l-5 13l0 13l5 11l11 11l17 10l27 9l35 6l37 2l37 0l36 0l37-1l36-4l31-7l22-10l13-11l7-11zM5328 6469l-2-14l-9-13l-15-13l-23-12l-32-8l-37-4l-37-1l-35 0l-34 1l-34 4l-29 8l-22 12l-13 13l-8 13l-2 14l2 12l8 11l13 11l22 10l29 7l34 3l34 1l35 0l37-1l37-3l32-7l23-10l15-11l9-11zM5783 6512l-4-14l-12-18l-21-20l-27-22l-29-19l-32-15l-29-8l-22-2l-14 7l-5 12l5 17l14 21l22 21l29 19l32 16l29 13l27 7l21 1l12-5zM6359 6469l-3-12l-7-13l-13-12l-20-11l-28-9l-34-5l-37-2l-36-1l-36 0l-37 1l-36 4l-31 8l-25 10l-16 11l-10 13l-5 12l0 11l5 11l10 10l16 10l25 9l31 6l36 3l37 1l36 0l36 0l37-2l34-5l28-7l20-10l13-10l7-10zM710 6967l-4-23l-13-20l-20-16l-24-9l-29-2l-33 6l-30 12l-21 19l-11 21l0 22l11 19l21 16l30 12l33 5l29-2l24-8l20-14l13-18zM1346 6967l-2-12l-6-12l-12-12l-19-11l-27-10l-35-6l-38-3l-38-1l-36 0l-35 0l-35 2l-34 4l-29 8l-21 11l-14 12l-8 12l-4 12l0 11l4 11l8 10l14 11l21 9l29 7l34 5l35 1l35 0l36 0l38 0l38-3l35-6l27-8l19-10l12-11l6-11zM1846 6967l-3-13l-6-12l-12-12l-19-12l-26-9l-34-6l-36-3l-36 0l-35 0l-36 0l-36 3l-34 6l-27 9l-19 12l-12 12l-6 12l-2 13l2 11l6 11l12 11l19 10l27 8l34 6l36 2l36 0l35 0l36 0l36-2l34-6l26-8l19-10l12-11l6-11zM2234 6967l-6-24l-16-21l-25-16l-31-8l-31 0l-27 8l-22 16l-15 21l-5 24l5 21l15 19l22 13l27 8l31 0l31-8l25-13l16-19zM2741 6946l-4-18l-12-16l-22-11l-30-4l-32 3l-34 7l-33 12l-27 18l-18 20l-9 19l0 17l9 16l18 12l27 7l33 0l34-5l32-8l30-13l22-17l12-19zM3347 6967l-2-13l-6-12l-12-12l-18-12l-26-9l-32-6l-35-3l-35 0l-35 0l-37 0l-38 3l-34 6l-28 9l-19 12l-12 12l-7 12l-2 13l2 11l7 11l12 11l19 10l28 8l34 6l38 2l37 0l35 0l35 0l35-2l32-6l26-8l18-10l12-11l6-11zM3826 6967l-3-17l-12-16l-19-14l-28-11l-33-8l-36-2l-34 0l-31 2l-29 8l-23 11l-17 14l-10 16l-3 17l3 14l10 14l17 13l23 10l29 7l31 2l34 0l36-2l33-7l28-10l19-13l12-14zM4328 6967l-2-14l-8-13l-14-13l-22-12l-30-9l-36-5l-37-1l-35 0l-36 0l-37 3l-33 7l-26 10l-18 13l-11 13l-5 14l0 13l5 12l11 12l18 11l26 9l33 6l37 3l36 0l35 0l37-1l36-4l30-8l22-11l14-11l8-12zM4840 6967l-2-13l-7-14l-13-13l-20-11l-29-9l-34-5l-36-2l-35 0l-35 0l-37 2l-35 5l-29 9l-20 11l-13 13l-7 14l-2 13l2 11l7 12l13 12l20 10l29 8l35 5l37 1l35 0l35 0l36-1l34-5l29-8l20-10l13-12l7-12zM5328 6967l-2-14l-9-14l-15-14l-23-12l-32-8l-37-4l-37-1l-35 0l-34 1l-34 4l-29 8l-22 12l-13 14l-8 14l-2 14l2 12l8 13l13 12l22 10l29 8l34 3l34 1l35 0l37-1l37-3l32-8l23-10l15-12l9-13zM5783 6991l-4-19l-14-22l-23-21l-29-17l-31-10l-33-4l-29 3l-20 11l-10 17l0 21l10 22l20 20l29 17l33 11l31 7l29 1l23-7l14-13zM6359 6976l-3-12l-7-13l-13-13l-20-12l-28-11l-34-7l-37-5l-36-2l-36-2l-37-1l-36 2l-31 6l-25 9l-16 11l-10 12l-5 12l0 13l5 12l10 11l16 12l25 10l31 8l36 5l37 3l36 2l36 1l37 0l34-3l28-7l20-9l13-10l7-11zM6658 6932l-5-22l-17-11l-23 0l-27 11l-22 22l-17 27l-10 27l0 22l10 15l17 6l22-6l27-15l23-22l17-27zM710 7394l-3-29l-11-20l-16-19l-21-15l-24-10l-30-4l-29 1l-25 7l-17 13l-10 17l0 19l10 25l17 28l25 24l29 18l30 11l24 2l21-6l16-15l11-21zM1346 7365l-2-12l-6-11l-11-12l-18-10l-25-10l-33-6l-36-4l-38-1l-36 0l-33 0l-34 1l-34 4l-30 6l-23 10l-17 10l-10 12l-6 11l-2 12l2 16l6 17l10 16l17 15l23 14l30 9l34 5l34 1l33 1l36-1l38-1l36-5l33-9l25-14l18-15l11-16l6-17zM1846 7365l-2-12l-6-12l-12-12l-17-11l-25-9l-32-6l-35-3l-35-1l-34 0l-35 0l-35 2l-34 4l-29 8l-21 11l-14 11l-9 12l-4 12l0 14l4 17l9 17l14 16l21 15l29 11l34 7l35 2l35 1l34 0l35-2l35-4l32-9l25-13l17-16l12-16l6-17zM2234 7365l-5-21l-13-19l-21-16l-26-9l-29-4l-26 4l-23 9l-19 16l-11 19l-5 21l5 30l11 27l19 22l23 14l26 4l29-4l26-14l21-22l13-27zM2741 7365l-3-18l-11-18l-18-15l-25-11l-29-5l-30 0l-31 2l-29 8l-23 13l-15 17l-7 18l0 22l7 25l15 24l23 19l29 11l31 3l30-1l29-7l25-15l18-21l11-25zM3347 7365l-2-12l-6-12l-11-12l-16-11l-25-9l-30-6l-34-3l-34-1l-34 0l-35 0l-37 2l-35 4l-30 8l-21 11l-15 11l-9 12l-4 12l0 14l4 17l9 17l15 16l21 15l30 11l35 7l37 2l35 1l34 0l34-2l34-4l30-9l25-13l16-16l11-16l6-17zM3826 7365l-3-16l-11-15l-18-14l-25-11l-32-7l-34-4l-34 0l-30 1l-29 6l-24 9l-19 13l-12 15l-6 15l0 19l6 22l12 21l19 18l24 13l29 8l30 2l34 0l34-5l32-11l25-16l18-20l11-21zM4328 7365l-2-13l-7-13l-14-13l-20-11l-28-9l-34-5l-36-2l-35 0l-34 0l-36 2l-34 5l-28 9l-20 11l-13 13l-7 13l-3 13l3 18l7 19l13 17l20 17l28 12l34 8l36 2l34 1l35-1l36-2l34-8l28-12l20-17l14-17l7-19zM4840 7365l-2-13l-7-12l-11-13l-19-11l-27-9l-33-6l-34-2l-34 0l-34 0l-35 1l-35 4l-31 7l-23 10l-15 12l-9 13l-5 12l0 16l5 18l9 17l15 18l23 15l31 10l35 5l35 2l34 0l34-1l34-3l33-8l27-13l19-16l11-17l7-18zM5328 7365l-2-14l-8-13l-14-13l-21-11l-30-9l-35-5l-36-1l-35 0l-33 0l-33 3l-30 7l-24 10l-17 13l-9 13l-5 13l0 16l5 19l9 19l17 18l24 14l30 10l33 4l33 1l35 0l36-3l35-6l30-12l21-17l14-18l8-19zM5783 7413l-3-27l-12-26l-19-20l-24-18l-28-13l-30-9l-29-3l-24 3l-16 9l-8 14l0 17l8 20l16 26l24 27l29 22l30 16l28 10l24 0l19-9l12-17zM6359 7384l-2-18l-7-13l-12-12l-19-12l-26-11l-33-8l-36-5l-35-4l-34-2l-36-2l-35 1l-33 3l-26 7l-19 10l-12 10l-7 12l-2 12l2 12l7 17l12 18l19 17l26 15l33 12l35 7l36 5l34 3l35 3l36 0l33-5l26-11l19-13l12-15l7-17zM6658 7337l-4-20l-13-15l-19-6l-24 4l-21 12l-19 19l-14 24l-7 32l0 33l7 25l14 15l19 2l21-12l24-23l19-31l13-34zM7174 7307l-5-10l-13 0l-20 10l-24 16l-23 23l-20 28l-15 34l-8 29l0 19l8 6l15-6l20-19l23-29l24-34l20-28l13-22z"/>
</defs>
<g transform="scale(.1)" opacity="1">
<use href="#ovg" fill="#b3f3ec"/>
<path fill="#40e0d0" d="M727 792l-1-32l-5-31l-9-29l-15-24l-17-16l-19-10l-20-4l-19 1l-19 7l-19 13l-16 20l-12 26l-7 31l-3 32l0 32l3 32l7 31l12 26l16 20l19 13l19 7l19 1l20-4l19-10l17-16l15-23l9-29l5-32zM727 1288l-1-31l-6-32l-11-28l-17-21l-19-14l-21-7l-21-2l-21 4l-20 11l-18 18l-14 25l-9 30l-3 31l0 32l3 32l9 30l14 25l18 17l20 11l21 4l21-1l21-8l19-14l17-21l11-28l6-31zM1282 1288l-1-25l-4-26l-9-25l-16-23l-23-17l-26-10l-28-5l-27-1l-27 0l-27 3l-27 7l-25 14l-20 20l-13 24l-6 26l-2 26l0 25l2 26l6 25l13 25l20 20l25 13l27 8l27 3l27 0l27-1l28-5l26-11l23-17l16-22l9-25l4-26zM730 1885l-3-20l-10-24l-16-27l-21-27l-24-26l-26-23l-25-17l-23-12l-18-4l-14 4l-6 11l0 17l6 22l14 26l18 28l23 27l25 24l26 20l24 15l21 8l16 0l10-8zM1285 1807l-3-21l-8-21l-14-19l-21-17l-28-12l-30-6l-32-2l-31 1l-31 3l-30 9l-24 15l-18 18l-11 20l-5 21l0 21l5 21l11 20l18 18l24 15l30 9l31 3l31 1l32-2l30-6l28-12l21-17l14-19l8-21zM1789 1807l-2-22l-8-22l-15-19l-21-17l-27-11l-30-6l-29-1l-30 1l-30 6l-27 11l-21 17l-15 19l-8 22l-2 22l2 21l8 22l15 19l21 17l27 11l30 6l30 1l29-1l30-6l27-11l21-17l15-19l8-22zM729 2352l-2-28l-7-31l-12-29l-18-26l-21-21l-21-16l-23-11l-21-4l-21 2l-18 10l-12 18l-7 24l-1 27l1 28l7 30l12 30l18 26l21 21l21 16l23 10l21 5l21-3l18-9l12-18l7-24zM1280 2309l-1-24l-5-24l-12-23l-18-20l-25-14l-28-9l-28-3l-29 0l-28 1l-29 6l-26 11l-22 17l-15 22l-8 24l-3 24l0 24l3 24l8 24l15 22l22 17l26 12l29 5l28 2l29-1l28-3l28-8l25-15l18-20l12-23l5-24zM1785 2309l-1-25l-6-26l-13-24l-20-21l-25-13l-28-6l-29-2l-27 0l-29 4l-27 10l-23 17l-16 22l-9 26l-4 26l0 25l4 26l9 25l16 23l23 17l27 9l29 4l27 1l29-2l28-7l25-13l20-20l13-24l6-26zM2247 2279l-2-28l-7-26l-13-20l-19-13l-21-5l-23 1l-24 7l-23 14l-22 18l-18 25l-14 29l-7 30l-1 29l1 28l7 26l14 20l18 13l22 5l23-2l24-7l23-13l21-19l19-24l13-29l7-30zM727 2815l-2-31l-6-30l-14-27l-19-18l-21-12l-23-4l-22 1l-23 8l-20 15l-17 23l-10 29l-3 31l0 30l3 31l10 29l17 23l20 15l23 8l22 1l23-4l21-12l19-18l14-27l6-30zM1282 2815l-1-24l-4-25l-12-25l-19-20l-25-15l-29-8l-29-3l-29 0l-29 1l-29 6l-28 11l-22 17l-15 23l-8 25l-2 25l0 24l2 25l8 25l15 23l22 17l28 12l29 5l29 1l29 0l29-3l29-8l25-15l19-20l12-24l4-25zM1787 2815l-1-25l-5-26l-11-25l-19-21l-25-13l-28-8l-28-2l-27 0l-28 2l-28 8l-25 13l-19 21l-11 25l-5 26l-1 25l1 25l5 26l11 25l19 21l25 14l28 7l28 2l27 0l28-2l28-7l25-14l19-21l11-25l5-26zM2245 2827l-1-29l-6-31l-13-27l-19-21l-22-15l-23-9l-23-2l-22 2l-22 9l-19 17l-13 24l-6 28l-2 30l2 30l6 30l13 27l19 21l22 15l22 9l23 3l23-3l22-9l19-17l13-24l6-28zM2774 2827l-1-27l-6-27l-12-27l-20-21l-24-15l-27-9l-26-4l-26-1l-26 3l-24 10l-20 18l-12 23l-6 27l-1 26l1 27l6 27l12 27l20 21l24 15l26 9l26 4l26 1l27-3l24-10l20-18l12-23l6-27zM729 3404l-3-23l-9-26l-14-29l-20-28l-23-26l-23-22l-24-17l-23-12l-20-4l-14 4l-9 12l-2 18l2 23l9 26l14 29l20 28l23 26l24 22l23 17l23 12l20 4l14-4l9-12zM1280 3239l-2-11l-8-6l-15-2l-21 5l-26 10l-29 15l-30 18l-30 19l-30 22l-28 23l-24 23l-18 21l-11 19l-5 15l0 12l5 9l11 4l18-2l24-7l28-13l30-17l30-18l30-21l29-22l26-24l21-22l15-20l8-17zM1785 3327l-2-23l-6-24l-13-22l-22-18l-27-11l-29-5l-29-1l-30 1l-29 5l-27 11l-22 18l-13 22l-6 24l-2 23l2 24l6 24l13 22l22 18l27 11l29 5l30 1l29-1l29-5l27-11l22-18l13-22l6-24zM2247 3262l-2-21l-10-15l-15-8l-21 1l-24 7l-25 15l-25 19l-24 24l-21 28l-16 29l-9 27l-2 25l2 21l9 15l16 8l21-1l24-7l25-15l25-19l24-24l21-28l15-29l10-27zM2776 3322l-1-25l-7-24l-14-22l-21-17l-26-10l-28-3l-27 0l-28 4l-27 9l-24 15l-18 22l-10 24l-4 25l0 25l4 25l10 24l18 19l24 14l27 6l28 1l27-2l28-6l26-12l21-18l14-24l7-25zM3280 3327l-1-25l-7-25l-15-24l-23-17l-27-10l-29-3l-28 0l-29 3l-27 10l-23 17l-15 24l-7 25l-1 25l1 26l7 25l15 24l23 17l27 10l29 3l28 0l29-3l27-10l23-17l15-24l7-25zM727 3929l-2-25l-7-28l-13-30l-17-30l-19-26l-22-23l-21-18l-22-12l-19-6l-17 2l-13 10l-7 17l-2 22l2 25l7 29l13 30l17 29l19 27l22 23l21 17l22 12l19 6l17-2l13-10l7-16zM1282 3916l-1-22l-4-23l-12-26l-19-26l-25-24l-29-19l-29-15l-29-13l-29-11l-29-8l-28-2l-22 6l-15 13l-8 18l-2 21l0 21l2 23l8 25l15 26l22 25l28 22l29 17l29 13l29 12l29 10l29 5l25-1l19-10l12-16l4-20zM1787 3856l-1-26l-5-26l-11-24l-19-21l-25-14l-28-7l-28-3l-27 0l-28 3l-28 7l-25 14l-19 21l-11 24l-5 26l-1 26l1 25l5 26l11 25l19 21l25 14l28 7l28 2l27 0l28-2l28-7l25-14l19-21l11-25l5-26zM2245 3788l-2-23l-7-18l-14-12l-17-4l-21 4l-23 11l-23 16l-22 21l-21 26l-18 29l-13 30l-7 29l-3 26l3 24l7 18l13 11l18 4l21-4l22-10l23-16l23-22l21-26l17-28l14-31l7-29zM2774 3844l-1-27l-6-26l-12-24l-20-18l-24-10l-27-3l-26 1l-26 4l-26 9l-24 15l-20 22l-12 26l-6 28l-1 27l1 26l6 27l12 24l20 17l24 10l26 3l26-1l26-4l27-8l24-15l20-22l12-27l6-27zM3282 3856l-1-28l-5-27l-12-26l-21-21l-25-13l-27-5l-27-1l-27 1l-27 5l-25 13l-20 21l-13 26l-5 27l-1 28l1 27l5 28l13 26l20 21l25 12l27 5l27 1l27-1l27-5l25-12l21-21l12-26l5-28zM3766 3820l-1-27l-6-26l-14-20l-20-12l-24-2l-25 5l-25 9l-25 12l-25 19l-20 26l-13 30l-6 29l-1 28l1 28l6 25l13 21l20 11l25 2l25-5l25-8l25-13l24-19l20-25l14-30l6-30zM727 4349l-1-30l-6-30l-11-27l-17-21l-19-13l-21-7l-21-1l-21 4l-20 10l-18 17l-14 24l-9 29l-3 30l0 30l3 31l9 29l14 24l18 17l20 10l21 4l21-1l21-7l19-14l17-20l11-27l6-30zM1282 4349l-1-25l-4-26l-10-25l-18-21l-24-16l-27-10l-29-4l-28 0l-27 0l-29 4l-27 10l-24 16l-18 21l-10 25l-5 26l0 25l0 26l5 25l10 25l18 22l24 16l27 9l29 4l27 1l28-1l29-4l27-9l24-16l18-22l10-25l4-25zM1787 4349l-1-26l-4-26l-11-26l-17-22l-24-15l-27-9l-27-3l-26 0l-27 1l-27 6l-25 12l-21 18l-14 25l-7 26l-3 26l0 26l3 27l7 26l14 24l21 19l25 12l27 5l27 2l26-1l27-3l27-8l24-16l17-21l11-26l4-27zM2245 4349l-1-30l-6-30l-12-27l-17-21l-21-13l-22-7l-22-1l-22 4l-21 10l-19 17l-15 24l-9 29l-3 30l0 30l3 31l9 29l15 24l19 17l21 10l22 4l22-1l22-7l21-14l17-20l12-27l6-30zM2774 4349l-1-27l-5-28l-12-26l-18-21l-23-14l-25-7l-25-2l-25 0l-26 5l-24 10l-21 18l-15 24l-8 27l-3 28l0 27l3 28l8 27l15 24l21 18l24 10l26 4l25 1l25-2l25-7l23-14l18-21l12-26l5-28zM3282 4349l-1-28l-5-28l-11-27l-18-22l-25-14l-26-7l-26-1l-25 0l-26 4l-26 10l-22 18l-15 25l-7 28l-3 28l0 28l3 28l7 28l15 25l22 19l26 10l26 3l25 1l26-2l26-6l25-15l18-22l11-26l5-29zM3766 4349l-1-29l-6-30l-12-27l-19-21l-23-12l-24-6l-24 0l-24 2l-24 9l-21 16l-16 25l-8 29l-3 30l0 29l3 30l8 29l16 24l21 17l24 8l24 3l24-1l24-5l23-12l19-21l12-27l6-30zM4265 4356l-1-28l-5-29l-11-27l-18-23l-25-16l-26-8l-26-3l-26-1l-26 3l-26 8l-21 17l-15 25l-8 27l-3 28l0 28l3 28l8 28l15 26l21 20l26 11l26 5l26 2l26 0l26-5l25-13l18-21l11-26l5-29zM727 4864l-1-31l-6-32l-11-28l-17-21l-19-14l-21-8l-21-1l-21 4l-20 11l-18 17l-14 25l-9 31l-3 31l0 32l3 32l9 30l14 25l18 18l20 10l21 5l21-2l21-7l19-14l17-21l11-28l6-32zM1282 4864l-1-25l-4-26l-9-26l-16-22l-23-17l-26-11l-28-4l-27-2l-27 1l-27 2l-27 8l-25 14l-20 20l-13 24l-6 26l-2 26l0 25l2 26l6 26l13 24l20 20l25 14l27 7l27 3l27 0l27-1l28-5l26-10l23-17l16-23l9-25l4-26zM1787 4864l-1-27l-4-28l-11-26l-17-23l-24-16l-27-9l-27-3l-26-1l-27 2l-27 6l-25 12l-21 20l-14 25l-7 27l-3 28l0 27l3 27l7 28l14 25l21 20l25 12l27 6l27 1l26 0l27-3l27-9l24-16l17-23l11-27l4-28zM2245 4891l-1-30l-5-31l-11-30l-16-26l-20-20l-21-14l-21-8l-22-4l-20 2l-20 9l-16 16l-11 24l-6 28l-1 30l1 30l6 32l11 30l16 26l20 19l20 14l22 9l21 4l21-3l20-8l16-17l11-24l5-28zM2774 4864l-1-28l-5-29l-12-27l-18-22l-23-15l-25-8l-25-2l-25 1l-26 4l-24 11l-21 19l-15 25l-8 28l-3 29l0 29l3 28l8 29l15 25l21 18l24 11l26 5l25 0l25-2l25-7l23-15l18-22l12-27l5-29zM3282 4864l-1-28l-4-28l-10-28l-18-23l-22-15l-25-8l-26-3l-24 0l-25 3l-26 8l-22 15l-17 23l-11 28l-4 28l-1 28l1 28l4 29l11 27l17 23l22 16l26 8l25 2l24 0l26-2l25-8l22-16l18-23l10-27l4-29zM3766 4864l-1-29l-5-30l-11-28l-18-22l-21-14l-24-6l-23-2l-23 2l-23 6l-22 14l-18 22l-11 28l-4 30l-1 29l1 30l4 30l11 28l18 22l22 14l23 6l23 1l23-1l24-6l21-14l18-22l11-28l5-30zM4265 4944l-1-23l-4-26l-10-29l-18-29l-22-28l-26-24l-25-19l-25-16l-25-15l-25-11l-23-3l-17 7l-11 15l-4 20l-1 22l1 23l4 25l11 29l17 30l23 28l25 23l25 19l25 17l25 15l26 11l22 3l18-7l10-15l4-20zM4790 4864l-1-27l-4-28l-10-26l-17-23l-23-16l-26-9l-26-3l-25-1l-26 2l-26 6l-24 12l-20 20l-14 25l-7 27l-2 28l0 27l2 27l7 28l14 25l20 20l24 12l26 6l26 1l25 0l26-3l26-9l23-16l17-23l10-27l4-28zM729 5342l-3-24l-11-22l-17-18l-23-12l-25-5l-27 1l-25 8l-23 14l-17 19l-11 23l-2 25l2 30l11 26l17 22l23 14l25 6l27-1l25-9l23-17l17-23l11-28zM1280 5346l-2-18l-8-19l-14-17l-23-14l-29-9l-31-4l-32-1l-31 1l-31 4l-29 9l-23 14l-15 17l-7 19l-2 18l2 23l7 22l15 21l23 17l29 11l31 5l31 1l32-1l31-5l29-11l23-17l14-21l8-22zM1785 5346l-2-20l-9-19l-16-18l-24-14l-30-8l-32-3l-31 0l-32 3l-30 8l-24 14l-16 18l-9 19l-2 20l2 24l9 24l16 22l24 17l30 9l32 4l31 0l32-4l30-9l24-17l16-22l9-24zM2247 5398l-3-26l-10-28l-17-23l-22-21l-25-18l-27-12l-26-8l-24-2l-20 5l-14 12l-6 17l0 20l6 22l14 27l20 27l24 24l26 18l27 13l25 6l22-2l17-10l10-18zM2776 5346l-2-21l-9-20l-17-19l-24-13l-28-8l-30-2l-30 0l-29 5l-27 11l-20 16l-13 20l-6 21l0 23l6 25l13 24l20 20l27 13l29 6l30 1l30-3l28-9l24-17l17-22l9-25zM3280 5346l-2-21l-8-20l-16-18l-24-14l-29-7l-30-2l-29 1l-29 4l-27 10l-21 17l-12 19l-5 21l0 23l5 25l12 24l21 19l27 13l29 5l29 1l30-3l29-8l24-17l16-22l8-25zM3768 5346l-3-23l-9-22l-18-19l-25-13l-28-6l-29 0l-29 3l-27 9l-21 16l-14 21l-6 23l0 25l6 28l14 25l21 20l27 11l29 4l29-1l28-7l25-16l18-23l9-27zM4263 5346l-2-21l-8-20l-16-18l-24-14l-29-7l-30-2l-29 1l-30 4l-27 10l-20 17l-13 19l-5 21l0 23l5 25l13 24l20 19l27 13l30 5l29 1l30-3l29-8l24-17l16-22l8-25zM4788 5346l-2-20l-8-19l-16-18l-24-14l-28-8l-31-3l-30 0l-30 3l-29 8l-23 14l-16 18l-8 19l-2 20l2 24l8 24l16 22l23 17l29 9l30 4l30 0l31-4l28-9l24-17l16-22l8-24zM5290 5346l-3-20l-8-19l-16-18l-25-14l-30-8l-31-3l-32 0l-31 3l-30 8l-25 14l-16 18l-9 19l-2 20l2 24l9 24l16 22l25 17l30 9l31 4l32 0l31-4l30-9l25-17l16-22l8-24zM727 5876l-2-30l-6-30l-14-26l-19-19l-21-11l-23-4l-22 1l-23 8l-20 15l-17 22l-10 28l-3 31l0 30l3 31l10 28l17 23l20 14l23 8l22 1l23-4l21-11l19-19l14-25l6-30zM1282 5876l-1-24l-4-25l-12-23l-19-21l-25-14l-29-8l-29-3l-29 0l-29 1l-29 5l-28 11l-22 18l-15 22l-8 25l-2 24l0 24l2 25l8 24l15 22l22 18l28 11l29 5l29 1l29 0l29-3l29-8l25-14l19-20l12-24l4-25zM1787 5876l-1-25l-5-25l-11-25l-19-20l-25-14l-28-7l-28-2l-27 0l-28 2l-28 7l-25 14l-19 20l-11 25l-5 25l-1 25l1 25l5 26l11 24l19 20l25 14l28 7l28 2l27 0l28-2l28-7l25-14l19-20l11-24l5-26zM2245 5870l-1-29l-6-29l-13-24l-19-18l-22-10l-23-4l-23 1l-22 7l-22 13l-19 20l-13 27l-6 29l-2 29l2 29l6 29l13 24l19 18l22 10l22 4l23-1l23-7l22-13l19-20l13-26l6-30zM2774 5876l-1-26l-6-27l-12-25l-20-19l-24-12l-27-6l-26-1l-26 1l-26 6l-24 12l-20 19l-12 25l-6 27l-1 26l1 27l6 26l12 25l20 19l24 13l26 5l26 2l26-2l27-5l24-13l20-19l12-25l6-26zM3282 5876l-1-27l-5-27l-12-25l-21-21l-25-12l-27-5l-27-1l-27 1l-27 5l-25 12l-20 21l-13 25l-5 27l-1 27l1 27l5 27l13 26l20 20l25 12l27 5l27 1l27-1l27-5l25-12l21-20l12-26l5-27zM3766 5876l-1-28l-6-29l-14-26l-20-19l-24-10l-25-4l-25 0l-25 4l-25 10l-20 19l-13 26l-6 29l-1 28l1 29l6 28l13 26l20 19l25 11l25 3l25 0l25-3l24-11l20-19l14-26l6-28zM4265 5876l-1-27l-5-27l-12-25l-21-21l-25-12l-27-5l-27-1l-27 1l-27 5l-26 12l-20 21l-12 25l-6 27l-1 27l1 27l6 27l12 26l20 20l26 12l27 5l27 1l27-1l27-5l25-12l21-20l12-26l5-27zM4790 5876l-1-26l-5-26l-12-25l-20-20l-26-13l-27-6l-28-2l-27 0l-28 4l-27 9l-23 17l-16 23l-8 26l-3 26l0 26l3 26l8 26l16 23l23 17l27 9l28 4l27 0l28-1l27-6l26-13l20-21l12-25l5-26zM5292 5876l-1-25l-5-25l-11-25l-19-20l-26-14l-27-7l-28-2l-28 0l-28 2l-27 7l-26 14l-19 20l-11 25l-5 25l-1 25l1 25l5 26l11 24l19 20l26 14l27 7l28 2l28 0l28-2l27-7l26-14l19-20l11-24l5-26zM5771 5946l-2-25l-7-28l-11-30l-17-29l-19-26l-20-21l-23-16l-24-11l-22-4l-17 6l-11 13l-5 20l0 23l5 27l11 29l17 30l22 28l24 23l23 19l20 14l19 7l17 0l11-10l7-17zM730 6478l-4-24l-12-28l-19-25l-24-19l-27-11l-28-2l-26 7l-22 14l-16 22l-8 27l0 30l8 18l16 16l22 14l26 9l28 4l27-2l24-6l19-12l12-15zM1285 6469l-3-22l-10-22l-16-20l-25-17l-31-11l-33-4l-34 0l-34 1l-32 8l-29 14l-20 18l-13 22l-6 22l0 18l6 13l13 13l20 12l29 8l32 4l34 2l34-1l33-2l31-7l25-10l16-12l10-13zM1789 6469l-3-23l-9-23l-17-21l-25-16l-30-10l-32-3l-33 0l-32 3l-30 10l-25 16l-17 21l-9 23l-3 23l3 14l9 14l17 12l25 10l30 6l32 2l33 0l32-2l30-6l25-10l17-12l9-14zM2249 6419l-4-24l-13-16l-20-9l-26 0l-29 9l-29 16l-28 24l-23 28l-17 27l-8 17l0 16l8 12l17 8l23 3l28-3l29-8l29-12l26-16l20-17l13-27zM2778 6439l-3-23l-11-21l-18-16l-26-9l-30-1l-32 6l-31 10l-30 15l-26 22l-18 25l-11 25l-3 15l3 14l11 13l18 10l26 5l30 1l31-4l32-6l30-9l26-14l18-15l11-17zM3284 6469l-3-25l-10-25l-18-21l-26-16l-31-8l-32-2l-32 2l-31 8l-26 16l-18 21l-10 25l-3 25l3 15l10 15l18 13l26 10l31 5l32 1l32-1l31-5l26-10l18-13l10-15zM3770 6439l-4-25l-11-22l-20-16l-26-7l-31 2l-30 9l-30 14l-27 22l-19 27l-12 27l-3 17l3 15l12 14l19 10l27 4l30-2l30-5l31-8l26-14l20-16l11-18zM4267 6450l-3-24l-10-23l-18-18l-26-11l-31-3l-32 3l-32 7l-31 13l-26 19l-19 25l-10 25l-3 18l3 14l10 14l19 11l26 7l31 2l32-3l32-4l31-7l26-12l18-15l10-15zM4792 6469l-3-24l-10-24l-18-21l-25-16l-31-9l-33-2l-32 0l-32 5l-29 13l-21 19l-14 23l-6 24l0 19l6 15l14 14l21 11l29 8l32 3l32 1l33-2l31-5l25-10l18-13l10-14zM5294 6469l-3-23l-9-23l-17-21l-25-16l-30-10l-33-3l-32 0l-33 3l-30 10l-25 16l-17 21l-9 23l-3 23l3 14l9 14l17 12l25 10l30 6l33 2l32 0l33-2l30-6l25-10l17-12l9-14zM5774 6509l-4-15l-13-17l-20-22l-26-26l-29-22l-33-16l-29-7l-20 2l-10 11l0 18l10 23l20 27l29 19l33 16l29 13l26 8l20 2l13-4zM6290 6469l-3-25l-10-25l-18-21l-25-16l-31-8l-31-2l-31 2l-31 8l-25 16l-18 21l-10 25l-3 25l3 15l10 15l18 13l25 10l31 5l31 1l31-1l31-5l25-10l18-13l10-15zM730 6967l-5-24l-14-22l-23-17l-28-9l-31-2l-30 6l-26 13l-19 19l-10 23l0 21l10 17l19 14l26 9l30 5l31-2l28-7l23-12l14-15zM1285 6967l-3-18l-11-16l-18-16l-26-12l-33-7l-35-3l-35 0l-35 3l-33 7l-26 12l-19 16l-10 16l-3 18l3 12l10 12l19 11l26 9l33 5l35 2l35 0l35-2l33-5l26-9l18-11l11-12zM1789 6967l-3-19l-12-18l-19-16l-29-12l-34-6l-35-1l-35 1l-35 6l-28 12l-20 16l-12 18l-3 19l3 13l12 13l20 11l28 9l35 4l35 1l35-1l34-4l29-9l19-11l12-13zM2249 6967l-5-23l-14-21l-22-16l-28-11l-30-4l-31 4l-27 11l-22 16l-15 21l-4 23l4 16l15 15l22 12l27 7l31 3l30-3l28-7l22-12l14-15zM2778 6945l-3-18l-12-16l-20-12l-28-6l-32 0l-33 6l-32 8l-31 14l-24 18l-16 20l-7 16l0 14l7 12l16 10l24 7l31 2l32-3l33-4l32-8l28-12l20-14l12-15zM3284 6967l-3-20l-11-19l-20-16l-28-11l-33-5l-33-1l-33 2l-31 9l-25 14l-15 18l-7 19l0 17l7 13l15 13l25 10l31 6l33 2l33-1l33-3l28-8l20-12l11-13zM3770 6967l-4-22l-13-20l-21-17l-29-11l-32-3l-32 1l-31 7l-25 14l-17 19l-8 21l0 18l8 16l17 13l25 10l31 5l32 1l32-3l29-7l21-12l13-15zM4267 6967l-3-20l-11-19l-20-16l-29-11l-32-5l-34-1l-33 2l-31 9l-24 14l-16 18l-7 19l0 17l7 13l16 13l24 10l31 6l33 2l34-1l32-3l29-8l20-12l11-13zM4792 6967l-3-19l-11-18l-19-16l-28-12l-33-6l-34-1l-33 1l-33 6l-28 12l-19 16l-11 18l-3 19l3 13l11 13l19 11l28 9l33 4l33 1l34-1l33-4l28-9l19-11l11-13zM5294 6967l-3-18l-11-18l-18-15l-27-12l-32-7l-34-2l-33 1l-34 4l-30 9l-22 14l-15 17l-6 18l0 15l6 13l15 12l22 10l30 7l34 2l33 1l34-2l32-4l27-9l18-11l11-13zM5763 6995l-6-20l-17-27l-25-26l-30-19l-28-9l-22 5l-11 17l0 25l11 28l22 21l28 16l30 10l25 2l17-8zM6290 6974l-4-17l-12-20l-21-19l-30-13l-34-7l-34-3l-34 0l-30 8l-22 15l-12 18l-3 20l3 18l12 14l22 13l30 10l34 5l34 2l34 0l30-6l21-11l12-13zM6665 6944l-6-25l-18-17l-25-7l-28 6l-25 16l-17 24l-7 28l7 25l17 17l25 7l28-6l25-16l18-25zM730 7376l-3-25l-12-20l-17-17l-23-13l-25-8l-27-2l-25 4l-23 9l-17 15l-11 18l-4 20l4 28l11 29l17 25l23 20l25 11l27 3l25-5l23-14l17-22l12-26zM1285 7365l-3-16l-9-16l-15-14l-23-13l-29-8l-32-4l-33 0l-32 0l-32 4l-29 8l-23 13l-16 14l-8 16l-3 16l3 23l8 23l16 21l23 18l29 12l32 6l32 1l33-1l32-6l29-12l23-18l15-21l9-23zM1789 7365l-3-17l-8-16l-16-15l-23-12l-28-8l-31-3l-31 0l-31 1l-31 5l-26 11l-19 13l-12 16l-6 16l0 21l6 24l12 23l19 20l26 15l31 8l31 2l31 0l31-5l28-12l23-17l16-22l8-24zM2249 7365l-4-20l-10-19l-17-15l-23-12l-25-7l-27-1l-26 4l-24 9l-20 14l-14 17l-7 20l0 25l7 28l14 25l20 20l24 14l26 6l27-2l25-10l23-17l17-23l10-27zM2778 7365l-3-18l-10-18l-17-15l-23-13l-29-7l-30-2l-30 1l-30 4l-26 10l-21 14l-13 17l-7 18l0 22l7 26l13 25l21 21l26 14l30 6l30 1l30-3l29-10l23-18l17-23l10-26zM3284 7365l-3-18l-9-17l-17-16l-24-12l-29-7l-30-1l-31 0l-30 4l-27 9l-20 14l-13 17l-6 18l0 22l6 26l13 24l20 21l27 14l30 5l31 1l30-2l29-10l24-18l17-23l9-25zM3770 7365l-4-20l-10-19l-18-16l-24-12l-29-5l-29-1l-29 3l-27 8l-22 15l-14 17l-7 20l0 24l7 29l14 26l22 21l27 12l29 4l29-1l29-8l24-17l18-24l10-27zM4267 7365l-3-18l-9-17l-17-16l-24-12l-29-7l-31-1l-30 0l-31 4l-27 9l-20 14l-13 17l-6 18l0 22l6 26l13 24l20 21l27 14l31 5l30 1l31-2l29-10l24-18l17-23l9-25zM4792 7365l-3-17l-9-17l-16-15l-24-13l-29-7l-31-2l-31 0l-31 2l-29 7l-24 13l-16 15l-9 17l-3 17l3 25l9 24l16 23l24 18l29 10l31 4l31 0l31-4l29-10l24-18l16-23l9-24zM5294 7365l-3-17l-9-16l-15-15l-23-12l-29-8l-31-3l-31 0l-31 1l-30 5l-27 11l-19 13l-12 16l-5 16l0 21l5 24l12 23l19 20l27 15l30 8l31 2l31 0l31-5l29-12l23-17l15-22l9-24zM5763 7407l-5-26l-13-27l-21-23l-25-18l-29-12l-27-4l-19 7l-10 15l0 20l10 24l19 28l27 24l29 17l25 10l21-2l13-13zM6290 7386l-3-25l-9-18l-16-17l-24-15l-29-10l-30-5l-29-3l-30 0l-27 6l-20 11l-13 15l-6 17l0 17l6 24l13 27l20 23l27 19l30 10l29 6l30 3l29-4l24-13l16-20l9-23zM6665 7373l-4-28l-13-23l-18-15l-22-3l-23 7l-21 17l-15 25l-8 29l0 30l8 26l15 19l21 9l23-2l22-12l18-21l13-28zM7179 7302l-5-10l-12-1l-20 9l-24 15l-21 22l-17 25l-14 37l-9 33l-3 25l3 14l9 1l14-12l17-23l21-32l24-37l20-26l12-23z"/>
</g>
<g transform="scale(.1)" opacity="0.9">
<use href="#ovv" fill="#ffdb99"/>
<path fill="#ffa500" d="M752 792l-1-31l-5-30l-10-29l-16-23l-19-17l-22-10l-21-5l-22 0l-22 5l-21 10l-20 17l-16 23l-10 29l-5 30l-1 31l1 31l5 31l10 28l16 23l20 17l21 11l22 5l22 0l21-5l22-11l19-17l16-23l10-28l5-31zM752 1288l-1-29l-5-30l-12-26l-17-22l-20-15l-22-9l-23-4l-23 1l-22 7l-21 12l-19 18l-15 24l-8 29l-3 30l0 29l3 29l8 29l15 24l19 19l21 12l22 6l23 1l23-4l22-9l20-15l17-21l12-27l5-29zM1282 1288l-1-25l-4-26l-9-25l-16-23l-23-17l-26-10l-28-5l-27-1l-27 0l-27 3l-27 7l-25 14l-20 20l-13 24l-6 26l-2 26l0 25l2 26l6 25l13 25l20 20l25 13l27 8l27 3l27 0l27-1l28-5l26-11l23-17l16-22l9-25l4-26zM756 1873l-4-15l-13-18l-21-21l-26-20l-30-19l-31-16l-30-12l-26-7l-21 0l-12 5l-5 10l5 15l12 19l21 20l26 20l30 20l31 16l30 11l26 7l21 1l13-5zM1285 1817l-3-16l-10-16l-16-15l-25-12l-31-7l-33-4l-34 0l-34 2l-32 5l-29 10l-20 13l-13 16l-6 16l0 16l6 16l13 15l20 14l29 10l32 5l34 1l34 0l33-3l31-8l25-12l16-14l10-16zM1789 1817l-3-18l-10-17l-19-15l-26-12l-32-6l-34-2l-34 1l-33 3l-30 10l-23 13l-14 17l-6 17l0 17l6 18l14 16l23 14l30 9l33 4l34 0l34-1l32-7l26-12l19-15l10-17zM754 2361l-2-26l-8-28l-15-28l-20-25l-24-20l-26-16l-25-11l-26-6l-24 1l-20 8l-15 15l-8 21l-2 24l2 26l8 28l15 27l20 25l24 21l26 16l25 11l26 5l24 0l20-8l15-15l8-21zM1280 2315l-1-22l-6-24l-12-21l-20-19l-26-13l-30-7l-29-2l-29 0l-30 2l-29 7l-26 13l-20 19l-12 21l-6 24l-1 22l1 23l6 23l12 22l20 19l26 13l29 7l30 2l29 0l29-2l30-7l26-13l20-19l12-22l6-23zM1785 2315l-2-24l-6-25l-13-23l-22-18l-27-12l-29-5l-29-1l-30 1l-29 5l-27 12l-22 18l-13 23l-6 25l-2 24l2 25l6 24l13 24l22 18l27 12l29 5l30 1l29-1l29-5l27-12l22-18l13-24l6-24zM2210 2282l-2-30l-8-26l-13-17l-18-7l-19 2l-20 9l-20 17l-17 24l-14 31l-7 33l-2 31l2 30l7 26l14 17l17 7l20-2l20-10l19-17l18-24l13-30l8-33zM752 2815l-1-29l-7-28l-13-25l-19-20l-23-12l-24-7l-25-1l-24 4l-23 9l-22 16l-16 23l-10 27l-3 29l0 28l3 29l10 27l16 23l22 16l23 9l24 4l25-1l24-7l23-12l19-20l13-25l7-28zM1282 2815l-1-24l-4-25l-12-25l-19-20l-25-15l-29-8l-29-3l-29 0l-29 1l-29 6l-28 11l-22 17l-15 23l-8 25l-2 25l0 24l2 25l8 25l15 23l22 17l28 12l29 5l29 1l29 0l29-3l29-8l25-15l19-20l12-24l4-25zM1787 2815l-1-25l-5-26l-11-25l-19-21l-25-13l-28-8l-28-2l-27 0l-28 2l-28 8l-25 13l-19 21l-11 25l-5 26l-1 25l1 25l5 26l11 25l19 21l25 14l28 7l28 2l27 0l28-2l28-7l25-14l19-21l11-25l5-26zM2208 2827l-1-33l-6-34l-13-29l-16-21l-18-12l-19-5l-18 2l-18 10l-15 20l-9 28l-3 33l0 34l3 34l9 32l15 25l18 16l18 9l19 1l18-6l16-14l13-25l6-31zM2759 2827l-1-28l-6-28l-12-27l-20-22l-24-14l-25-8l-25-3l-25-1l-25 6l-22 13l-16 21l-9 26l-3 27l0 28l3 28l9 28l16 25l22 18l25 11l25 5l25 2l25-2l24-9l20-17l12-24l6-28zM754 3420l-2-21l-8-25l-14-27l-19-27l-22-27l-24-23l-25-20l-24-16l-24-10l-20-5l-17 3l-10 9l-5 16l0 19l5 23l10 26l17 28l20 27l24 25l24 22l25 18l24 13l22 7l19 1l14-6l8-12zM1280 3242l-2-11l-7-7l-14-2l-20 5l-24 9l-28 15l-29 18l-29 20l-29 22l-28 23l-24 25l-20 23l-14 20l-7 18l-2 14l2 11l7 7l14 1l20-4l24-9l28-15l29-18l29-20l29-22l28-23l24-25l20-23l14-21l7-17zM1785 3338l-1-25l-6-24l-13-24l-20-19l-25-13l-28-6l-29-2l-27 1l-29 3l-27 10l-23 16l-16 22l-9 24l-4 25l0 24l4 25l9 24l16 22l23 16l27 9l29 4l27 0l29-1l28-6l25-13l20-20l13-23l6-25zM2210 3268l-2-24l-8-16l-12-8l-16 2l-18 10l-19 17l-19 24l-17 29l-14 31l-10 32l-4 30l0 26l4 20l10 12l14 3l17-6l19-14l19-21l18-26l16-30l12-33l8-31zM2761 3332l-1-27l-7-26l-12-24l-20-18l-24-10l-26-4l-25 1l-25 4l-25 9l-23 17l-16 23l-9 26l-4 27l0 27l4 27l9 25l16 21l23 15l25 7l25 1l25-2l26-7l24-13l20-20l12-25l7-27zM3280 3338l-1-26l-6-27l-14-24l-21-19l-26-12l-28-4l-27-1l-27 2l-27 8l-24 15l-18 22l-9 26l-4 27l0 26l4 27l9 25l18 23l24 15l27 7l27 2l27 0l28-4l26-12l21-19l14-24l6-27zM752 3929l-2-24l-8-27l-13-29l-19-29l-22-26l-23-22l-25-19l-24-13l-23-7l-20-1l-16 6l-10 14l-5 19l0 23l5 26l10 28l16 29l20 28l23 24l24 21l25 16l23 10l22 4l19-3l13-10l8-16zM1282 3916l-1-22l-4-23l-12-26l-19-26l-25-24l-29-19l-29-15l-29-13l-29-11l-29-8l-28-2l-22 6l-15 13l-8 18l-2 21l0 21l2 23l8 25l15 26l22 25l28 22l29 17l29 13l29 12l29 10l29 5l25-1l19-10l12-16l4-20zM1787 3856l-1-26l-5-26l-11-24l-19-21l-25-14l-28-7l-28-3l-27 0l-28 3l-28 7l-25 14l-19 21l-11 24l-5 26l-1 26l1 25l5 26l11 25l19 21l25 14l28 7l28 2l27 0l28-2l28-7l25-14l19-21l11-25l5-26zM2208 3788l-2-25l-6-19l-11-11l-15-1l-16 7l-18 14l-18 21l-17 26l-14 31l-11 32l-7 32l-2 28l2 25l7 19l11 11l14 2l17-7l18-15l18-20l16-27l15-30l11-33l6-31zM2759 3844l-1-28l-6-27l-12-24l-20-18l-24-9l-25-2l-25 2l-25 5l-25 11l-22 18l-16 25l-9 28l-3 29l0 27l3 28l9 26l16 22l22 13l25 5l25 0l25-4l25-7l24-15l20-22l12-27l6-28zM3282 3856l-1-28l-5-27l-12-26l-21-21l-25-13l-27-5l-27-1l-27 1l-27 5l-25 13l-20 21l-13 26l-5 27l-1 28l1 27l5 28l13 26l20 21l25 12l27 5l27 1l27-1l27-5l25-12l21-21l12-26l5-28zM3763 3820l-1-26l-5-25l-14-21l-20-12l-25-3l-26 4l-26 7l-25 11l-26 16l-23 23l-17 27l-9 29l-3 28l0 27l3 25l9 24l17 16l23 8l26-1l25-6l26-9l26-13l25-19l20-25l14-29l5-29zM752 4349l-1-29l-6-29l-12-27l-18-20l-22-14l-23-8l-23-3l-24 3l-23 8l-22 14l-18 20l-12 27l-6 29l-1 29l1 30l6 29l12 26l18 21l22 14l23 8l24 2l23-2l23-8l22-14l18-21l12-26l6-29zM1282 4349l-1-25l-4-26l-10-25l-18-21l-24-16l-27-10l-29-4l-28 0l-27 0l-29 4l-27 10l-24 16l-18 21l-10 25l-5 26l0 25l0 26l5 25l10 25l18 22l24 16l27 9l29 4l27 1l28-1l29-4l27-9l24-16l18-22l10-25l4-25zM1787 4349l-1-26l-4-26l-11-26l-17-22l-24-15l-27-9l-27-3l-26 0l-27 1l-27 6l-25 12l-21 18l-14 25l-7 26l-3 26l0 26l3 27l7 26l14 24l21 19l25 12l27 5l27 2l26-1l27-3l27-8l24-16l17-21l11-26l4-27zM2208 4349l-1-33l-5-32l-10-28l-14-20l-17-12l-17-4l-17 1l-17 8l-15 16l-13 24l-8 31l-2 33l0 33l2 33l8 30l13 24l15 16l17 9l17 1l17-5l17-12l14-20l10-27l5-33zM2759 4349l-1-28l-5-29l-11-27l-19-21l-22-13l-25-6l-24-1l-24 1l-24 6l-22 13l-19 21l-11 27l-5 29l-1 28l1 29l5 28l11 27l19 21l22 13l24 7l24 1l24-1l25-7l22-13l19-21l11-27l5-28zM3282 4349l-1-28l-5-28l-11-27l-18-22l-25-14l-26-7l-26-1l-25 0l-26 4l-26 10l-22 18l-15 25l-7 28l-3 28l0 28l3 28l7 28l15 25l22 19l26 10l26 3l25 1l26-2l26-6l25-15l18-22l11-26l5-29zM3763 4349l-1-28l-5-29l-12-27l-19-21l-23-13l-25-6l-25-1l-25 1l-25 6l-24 13l-18 21l-12 27l-6 29l-1 28l1 29l6 28l12 27l18 21l24 13l25 7l25 1l25-1l25-7l23-13l19-21l12-27l5-28zM4265 4356l-1-28l-5-29l-11-27l-18-23l-25-16l-26-8l-26-3l-26-1l-26 3l-26 8l-21 17l-15 25l-8 27l-3 28l0 28l3 28l8 28l15 26l21 20l26 11l26 5l26 2l26 0l26-5l25-13l18-21l11-26l5-29zM752 4913l-1-28l-6-30l-12-30l-18-26l-22-22l-23-16l-23-11l-24-6l-23-1l-22 5l-18 13l-12 21l-6 25l-1 28l1 28l6 30l12 30l18 26l22 22l23 16l24 11l23 6l23 1l22-5l18-13l12-21l6-25zM1282 4874l-1-25l-4-26l-10-25l-18-22l-24-16l-27-9l-29-4l-28-1l-27 1l-29 4l-27 9l-24 16l-18 22l-10 25l-5 26l0 25l0 25l5 26l10 25l18 22l24 16l27 9l29 4l27 1l28-1l29-4l27-9l24-16l18-22l10-25l4-26zM1787 4874l-1-26l-4-27l-11-25l-17-22l-24-16l-27-8l-27-3l-26-1l-27 2l-27 5l-25 12l-21 19l-14 24l-7 27l-3 26l0 26l3 26l7 27l14 24l21 19l25 12l27 5l27 2l26-1l27-3l27-8l24-16l17-22l11-25l4-27zM2208 4900l-1-33l-5-33l-10-31l-14-25l-17-18l-17-12l-17-4l-17 1l-15 10l-13 19l-8 27l-2 31l0 32l2 33l8 33l13 29l15 21l17 15l17 8l17 2l17-6l14-14l10-23l5-30zM2759 4874l-1-28l-5-29l-11-27l-19-21l-22-13l-25-6l-24-2l-24 2l-24 6l-22 13l-19 21l-11 27l-5 29l-1 28l1 28l5 29l11 27l19 21l22 13l24 6l24 2l24-2l25-6l22-13l19-21l11-27l5-29zM3282 4874l-1-28l-5-28l-11-27l-18-22l-25-14l-26-7l-26-2l-25 1l-26 4l-26 10l-22 18l-15 25l-7 28l-3 28l0 28l3 28l7 28l15 25l22 18l26 10l26 4l25 1l26-2l26-7l25-14l18-22l11-27l5-28zM3763 4874l-1-28l-5-29l-12-27l-19-21l-23-13l-25-6l-25-2l-25 2l-25 6l-24 13l-18 21l-12 27l-6 29l-1 28l1 28l6 29l12 27l18 21l24 13l25 6l25 2l25-2l25-6l23-13l19-21l12-27l5-29zM4265 4951l-1-23l-5-26l-11-29l-18-30l-25-26l-26-23l-26-18l-26-16l-26-14l-26-9l-21 1l-15 10l-8 18l-3 20l0 23l3 24l8 27l15 30l21 29l26 24l26 20l26 17l26 16l26 11l25 5l18-6l11-14l5-20zM4790 4874l-1-27l-5-27l-11-27l-18-22l-24-14l-27-8l-26-2l-27 0l-27 2l-26 8l-24 14l-19 22l-10 27l-5 27l-1 27l1 27l5 27l10 27l19 22l24 14l26 8l27 2l27 0l26-2l27-8l24-14l18-22l11-27l5-27zM754 5343l-3-20l-11-18l-19-15l-25-10l-28-6l-29 0l-29 5l-26 9l-22 15l-15 17l-7 20l0 26l7 28l15 24l22 19l26 11l29 4l29-3l28-10l25-18l19-23l11-28zM1280 5346l-2-16l-8-16l-17-15l-24-12l-31-7l-32-3l-33 0l-32 1l-33 5l-27 9l-21 14l-12 16l-5 16l0 20l5 24l12 23l21 20l27 14l33 7l32 2l33 0l32-4l31-11l24-18l17-21l8-24zM1785 5346l-2-17l-9-16l-16-16l-24-11l-30-7l-32-2l-31 0l-32 2l-30 7l-24 11l-16 16l-9 16l-2 17l2 25l9 24l16 23l24 17l30 10l32 3l31 0l32-3l30-10l24-17l16-23l9-24zM2210 5399l-4-32l-10-31l-18-23l-21-19l-23-13l-22-7l-20 0l-14 9l-7 17l0 21l7 23l14 34l20 32l22 24l23 15l21 5l18-8l10-19zM2761 5346l-3-19l-9-19l-19-16l-26-11l-29-5l-30-1l-30 3l-28 8l-23 13l-14 18l-6 19l0 24l6 29l14 26l23 20l28 12l30 3l30-1l29-7l26-16l19-24l9-27zM3280 5346l-2-18l-9-18l-18-16l-26-11l-30-5l-31-1l-31 1l-30 5l-26 11l-18 16l-9 18l-2 18l2 27l9 26l18 24l26 16l30 8l31 1l31-1l30-8l26-16l18-24l9-26zM3766 5346l-3-18l-9-19l-18-15l-25-12l-28-6l-30-1l-30 1l-29 6l-24 12l-18 15l-9 19l-3 18l3 27l9 27l18 23l24 17l29 8l30 2l30-2l28-8l25-17l18-23l9-27zM4263 5346l-2-18l-9-18l-18-16l-26-11l-30-5l-31-1l-31 1l-31 5l-26 11l-17 16l-10 18l-2 18l2 27l10 26l17 24l26 16l31 8l31 1l31-1l30-8l26-16l18-24l9-26zM4788 5346l-3-17l-8-18l-17-15l-26-12l-30-6l-32-1l-31 0l-31 3l-29 9l-21 14l-13 17l-6 17l0 22l6 26l13 24l21 21l29 13l31 5l31 0l32-2l30-9l26-17l17-23l8-25zM5275 5346l-2-17l-9-18l-17-15l-26-12l-30-6l-32-1l-31 0l-31 3l-29 9l-21 14l-13 17l-6 17l0 22l6 26l13 24l21 21l29 13l31 5l31 0l32-2l30-9l26-17l17-23l9-25zM752 5876l-1-28l-7-28l-13-25l-19-19l-23-12l-24-7l-25-1l-24 4l-23 9l-22 16l-16 22l-10 27l-3 28l0 28l3 29l10 26l16 23l22 15l23 10l24 3l25-1l24-6l23-13l19-19l13-25l7-28zM1282 5876l-1-24l-4-25l-12-23l-19-21l-25-14l-29-8l-29-3l-29 0l-29 1l-29 5l-28 11l-22 18l-15 22l-8 25l-2 24l0 24l2 25l8 24l15 22l22 18l28 11l29 5l29 1l29 0l29-3l29-8l25-14l19-20l12-24l4-25zM1787 5876l-1-25l-5-25l-11-25l-19-20l-25-14l-28-7l-28-2l-27 0l-28 2l-28 7l-25 14l-19 20l-11 25l-5 25l-1 25l1 25l5 26l11 24l19 20l25 14l28 7l28 2l27 0l28-2l28-7l25-14l19-20l11-24l5-26zM2208 5870l-1-33l-6-31l-13-26l-16-16l-18-7l-19 0l-18 6l-18 15l-15 24l-9 30l-3 34l0 33l3 32l9 30l15 20l18 12l18 4l19-4l18-10l16-19l13-28l6-33zM2759 5876l-1-28l-6-29l-14-26l-21-19l-26-10l-26-4l-25 0l-27 4l-25 10l-21 19l-14 26l-6 29l-1 28l1 29l6 28l14 26l21 19l25 11l27 3l25 0l26-3l26-11l21-19l14-26l6-28zM3282 5876l-1-27l-5-27l-12-25l-21-21l-25-12l-27-5l-27-1l-27 1l-27 5l-25 12l-20 21l-13 25l-5 27l-1 27l1 27l5 27l13 26l20 20l25 12l27 5l27 1l27-1l27-5l25-12l21-20l12-26l5-27zM3763 5876l-1-27l-5-28l-14-25l-20-19l-25-12l-26-5l-26 0l-25 2l-26 8l-23 15l-17 23l-9 27l-3 28l0 27l3 27l9 27l17 23l23 15l26 8l25 3l26-1l26-5l25-11l20-20l14-25l5-27zM4265 5876l-1-27l-5-27l-12-25l-21-21l-25-12l-27-5l-27-1l-27 1l-27 5l-26 12l-20 21l-12 25l-6 27l-1 27l1 27l6 27l12 26l20 20l26 12l27 5l27 1l27-1l27-5l25-12l21-20l12-26l5-27zM4790 5876l-1-26l-5-26l-12-25l-20-20l-26-13l-27-6l-28-2l-27 0l-28 4l-27 9l-23 17l-16 23l-8 26l-3 26l0 26l3 26l8 26l16 23l23 17l27 9l28 4l27 0l28-1l27-6l26-13l20-21l12-25l5-26zM5277 5876l-1-26l-5-26l-12-25l-20-20l-26-13l-27-6l-28-2l-27 0l-28 4l-27 9l-23 17l-16 23l-8 26l-3 26l0 26l3 26l8 26l16 23l23 17l27 9l28 4l27 0l28-1l27-6l26-13l20-21l12-25l5-26zM5758 5946l-1-26l-6-30l-11-31l-15-30l-17-25l-18-21l-26-16l-25-9l-22-1l-16 9l-9 18l-2 22l2 26l9 30l16 31l22 30l25 26l26 20l18 16l17 10l15 0l11-9l6-17zM756 6479l-4-23l-12-27l-19-24l-24-20l-28-13l-30-6l-29 2l-27 9l-21 16l-16 21l-8 26l0 28l8 18l16 16l21 14l27 11l29 6l30 1l28-3l24-8l19-12l12-15zM1285 6469l-3-22l-9-22l-15-20l-23-17l-29-12l-32-5l-33-1l-32 1l-32 5l-29 12l-23 17l-16 20l-8 22l-3 22l3 14l8 14l16 13l23 11l29 7l32 3l32 1l33-1l32-3l29-7l23-11l15-13l9-14zM1789 6469l-3-24l-9-23l-17-22l-25-17l-30-10l-32-3l-33 0l-32 3l-30 10l-25 17l-17 22l-9 23l-3 24l3 15l9 15l17 13l25 11l30 7l32 2l33 0l32-2l30-7l25-11l17-13l9-15zM2211 6428l-4-30l-13-22l-19-10l-23 3l-25 14l-23 25l-19 32l-12 33l-4 22l4 19l12 14l19 6l23-1l25-9l23-16l19-20l13-25zM2763 6439l-3-26l-11-22l-18-16l-26-9l-30 1l-30 7l-30 12l-29 20l-22 25l-14 27l-8 22l0 16l8 16l14 12l22 8l29 2l30-2l30-6l30-10l26-14l18-17l11-19zM3284 6469l-3-26l-10-25l-18-22l-26-17l-31-8l-32-1l-32 1l-31 8l-26 17l-18 22l-10 25l-3 26l3 16l10 16l18 15l26 10l31 5l32 1l32-1l31-5l26-10l18-15l10-16zM3768 6439l-4-25l-10-21l-17-17l-25-9l-29-1l-30 6l-30 10l-29 16l-25 23l-17 26l-11 25l-3 16l3 16l11 13l17 11l25 6l29 0l30-4l30-6l29-10l25-14l17-17l10-18zM4267 6449l-3-25l-10-23l-18-19l-26-11l-31-3l-32 4l-32 6l-31 13l-26 21l-19 25l-10 26l-3 19l3 15l10 15l19 12l26 7l31 2l32-2l32-5l31-8l26-13l18-16l10-16zM4792 6469l-3-25l-10-24l-18-22l-25-17l-31-9l-33-2l-32 0l-32 6l-29 13l-21 20l-14 23l-6 25l0 20l6 16l14 14l21 13l29 8l32 4l32 0l33-2l31-5l25-11l18-14l10-15zM5279 6469l-3-25l-10-24l-18-22l-25-17l-31-9l-33-2l-32 0l-32 6l-29 13l-21 20l-14 23l-6 25l0 20l6 16l14 14l21 13l29 8l32 4l32 0l33-2l31-5l25-11l18-14l10-15zM5761 6509l-3-15l-11-17l-17-22l-22-26l-27-22l-33-16l-30-7l-21 2l-10 11l0 18l10 23l21 27l30 19l33 16l27 13l22 8l17 2l11-4zM6290 6469l-3-26l-10-25l-18-22l-25-17l-31-8l-31-1l-31 1l-31 8l-25 17l-18 22l-10 25l-3 26l3 16l10 16l18 15l25 10l31 5l31 1l31-1l31-5l25-10l18-15l10-16zM756 6967l-4-24l-13-21l-21-18l-26-12l-30-7l-31 0l-30 7l-26 12l-21 18l-12 21l-5 24l5 16l12 15l21 13l26 9l30 4l31 0l30-4l26-9l21-13l13-15zM1285 6967l-3-19l-10-18l-16-16l-25-14l-31-8l-33-4l-34 0l-34 1l-32 6l-29 11l-20 16l-13 17l-6 18l0 16l6 13l13 12l20 11l29 8l32 5l34 1l34-1l33-2l31-6l25-10l16-12l10-12zM1789 6967l-3-20l-10-19l-19-18l-26-13l-32-7l-34-2l-34 0l-33 4l-30 11l-23 16l-14 18l-6 20l0 17l6 14l14 13l23 11l30 7l33 3l34 1l34-2l32-5l26-9l19-13l10-13zM2211 6967l-5-30l-14-26l-20-18l-26-8l-26 3l-23 13l-18 22l-9 29l0 25l9 20l18 16l23 10l26 2l26-6l20-13l14-18zM2763 6942l-4-21l-11-18l-21-13l-27-6l-32 3l-31 6l-32 12l-27 18l-21 22l-12 23l-3 16l3 15l12 13l21 9l27 4l32-2l31-4l32-9l27-12l21-16l11-17zM3284 6967l-3-22l-11-21l-20-18l-28-12l-33-6l-33 0l-33 2l-31 9l-25 16l-15 20l-7 21l0 18l7 15l15 14l25 12l31 6l33 2l33-1l33-4l28-8l20-13l11-15zM3768 6967l-4-23l-12-22l-21-18l-29-13l-33-5l-33 0l-32 5l-29 13l-21 18l-12 22l-4 23l4 16l12 15l21 13l29 9l32 4l33 0l33-4l29-9l21-13l12-15zM4267 6967l-3-22l-11-21l-20-18l-29-12l-32-6l-34 0l-33 2l-31 9l-24 16l-16 20l-7 21l0 18l7 15l16 14l24 12l31 6l33 2l34-1l32-4l29-8l20-13l11-15zM4792 6967l-3-21l-11-20l-19-18l-28-13l-33-6l-34-1l-33 1l-33 6l-28 13l-19 18l-11 20l-3 21l3 14l11 14l19 13l28 9l33 5l33 1l34-1l33-5l28-9l19-13l11-14zM5279 6967l-3-21l-11-20l-19-18l-28-13l-33-6l-34-1l-33 1l-33 6l-28 13l-19 18l-11 20l-3 21l3 14l11 14l19 13l28 9l33 5l33 1l34-1l33-5l28-9l19-13l11-14zM5761 6989l-4-19l-12-26l-19-25l-23-19l-31-11l-35-2l-28 8l-17 17l-6 23l6 27l17 21l28 18l35 13l31 7l23 2l19-5l12-12zM6290 6975l-3-18l-11-22l-20-20l-28-15l-32-8l-32-4l-33-1l-30 6l-24 13l-15 18l-7 20l0 22l7 15l15 15l24 13l30 8l33 5l32 1l32-1l28-7l20-11l11-14zM6675 6911l-5-16l-15-7l-22 3l-26 13l-26 21l-22 25l-14 26l-6 23l6 16l14 8l22-4l26-12l26-21l22-26l15-26zM756 7376l-4-23l-11-19l-17-16l-23-13l-26-9l-28-5l-29 1l-26 5l-23 10l-17 15l-11 17l-4 18l4 25l11 28l17 24l23 19l26 14l29 6l28-1l26-8l23-15l17-21l11-25zM1285 7365l-3-16l-9-16l-15-14l-23-13l-29-8l-32-4l-33 0l-32 0l-32 4l-29 8l-23 13l-16 14l-8 16l-3 16l3 23l8 23l16 22l23 18l29 12l32 5l32 2l33-2l32-5l29-12l23-18l15-22l9-23zM1789 7365l-3-17l-8-16l-16-15l-23-12l-28-8l-31-3l-31 0l-31 1l-31 5l-26 11l-19 13l-12 16l-6 16l0 21l6 24l12 23l19 20l26 15l31 8l31 2l31 0l31-5l28-11l23-18l16-22l8-24zM2211 7365l-4-24l-11-22l-17-16l-22-10l-23-2l-23 6l-19 13l-15 20l-7 23l0 30l7 34l15 28l19 20l23 8l23-3l22-14l17-24l11-32zM2763 7365l-3-19l-10-18l-17-16l-23-12l-28-6l-30-2l-29 2l-28 6l-23 12l-17 16l-10 18l-3 19l3 28l10 26l17 24l23 17l28 9l29 3l30-3l28-9l23-17l17-24l10-26zM3284 7365l-3-18l-9-17l-17-16l-24-12l-29-7l-30-1l-31 0l-30 4l-27 9l-20 14l-13 17l-6 18l0 22l6 26l13 24l20 21l27 14l30 6l31 0l30-2l29-10l24-17l17-24l9-25zM3768 7365l-4-19l-10-18l-17-16l-25-12l-29-6l-30-2l-30 2l-29 6l-25 12l-17 16l-11 18l-3 19l3 28l11 26l17 24l25 17l29 9l30 3l30-3l29-9l25-17l17-24l10-26zM4267 7365l-3-18l-9-17l-17-16l-24-12l-29-7l-31-1l-30 0l-31 4l-27 9l-20 14l-13 17l-6 18l0 22l6 26l13 24l20 21l27 14l31 6l30 0l31-2l29-10l24-17l17-24l9-25zM4792 7365l-3-17l-9-17l-16-15l-24-13l-29-7l-31-2l-31 0l-31 2l-29 7l-24 13l-16 15l-9 17l-3 17l3 25l9 25l16 22l24 18l29 11l31 3l31 0l31-3l29-11l24-18l16-22l9-25zM5279 7365l-3-17l-9-17l-16-15l-24-13l-29-7l-31-2l-31 0l-31 2l-29 7l-24 13l-16 15l-9 17l-3 17l3 25l9 25l16 22l24 18l29 11l31 3l31 0l31-3l29-11l24-18l16-22l9-25zM5753 7403l-4-26l-12-27l-19-22l-22-17l-27-11l-27-2l-19 8l-9 16l0 21l9 24l19 28l27 24l27 15l22 8l19-3l12-14zM6290 7386l-3-25l-9-18l-16-17l-24-15l-29-10l-30-5l-29-3l-30 0l-27 6l-20 11l-13 15l-6 17l0 17l6 24l13 27l20 24l27 18l30 11l29 6l30 2l29-4l24-13l16-20l9-23zM6675 7348l-4-22l-12-16l-18-6l-22 3l-24 13l-22 20l-18 26l-11 29l-5 27l5 23l11 15l18 7l22-4l24-12l22-21l18-26l12-28zM7186 7302l-4-9l-13-2l-19 7l-24 13l-25 20l-18 23l-16 31l-12 34l-6 28l0 19l6 8l12-4l16-15l18-25l25-32l24-35l19-24l13-21z"/>
</g>
<g transform="scale(.1)" opacity="0.8">
<use href="#ogg" fill="#b3c3f3"/>
<path fill="#4169e1" d="M687 792l-1-35l-4-36l-8-30l-12-23l-14-14l-14-7l-15 0l-14 7l-14 14l-12 23l-8 30l-4 36l-1 35l1 36l4 35l8 30l12 23l14 15l14 6l15 0l14-6l14-15l12-23l8-30l4-35zM687 1288l-1-34l-5-34l-9-29l-12-20l-15-13l-15-5l-15 2l-15 8l-13 17l-11 25l-7 32l-2 34l0 34l2 35l7 31l11 25l13 17l15 8l15 2l15-5l15-12l12-21l9-29l5-34zM1282 1288l-1-25l-4-26l-9-25l-16-23l-23-17l-26-10l-28-5l-27-1l-27 0l-27 3l-27 7l-25 14l-20 20l-13 24l-6 26l-2 26l0 25l2 26l6 25l13 25l20 20l25 13l27 8l27 3l27 0l27-1l28-5l26-11l23-17l16-22l9-25l4-26zM689 1859l-5-20l-16-26l-22-26l-26-22l-25-15l-19-4l-11 7l0 17l11 23l19 26l25 25l26 19l22 10l16-2zM1285 1810l-3-15l-11-14l-18-13l-26-11l-33-6l-35-2l-35 0l-35 2l-33 6l-26 11l-19 13l-10 14l-3 15l3 15l10 14l19 13l26 11l33 6l35 2l35 0l35-2l33-6l26-11l18-13l11-14zM1789 1810l-3-16l-12-16l-19-13l-29-10l-34-5l-35-1l-35 1l-35 5l-28 10l-20 13l-12 16l-3 16l3 16l12 15l20 14l28 10l35 5l35 1l35-1l34-5l29-10l19-14l12-15zM688 2343l-2-31l-6-33l-12-32l-16-26l-17-20l-17-13l-17-6l-16 4l-12 14l-6 23l-2 29l2 31l6 33l12 31l16 27l17 20l17 13l17 5l16-3l12-14l6-24zM1280 2297l-1-23l-6-23l-12-22l-20-19l-26-13l-30-6l-29-3l-29 0l-30 3l-29 6l-26 13l-20 19l-12 22l-6 23l-1 23l1 23l6 23l12 22l20 19l26 13l29 7l30 2l29 0l29-2l30-7l26-13l20-19l12-22l6-23zM1785 2297l-2-24l-6-25l-13-23l-22-19l-27-12l-29-5l-29-1l-30 1l-29 5l-27 12l-22 19l-13 23l-6 25l-2 24l2 25l6 25l13 23l22 18l27 12l29 5l30 1l29-1l29-5l27-12l22-18l13-23l6-25zM2208 2263l-2-30l-6-26l-12-17l-16-7l-17 2l-17 10l-17 17l-16 24l-12 30l-6 33l-2 32l2 30l6 26l12 17l16 7l17-2l17-9l17-17l16-25l12-30l6-33zM687 2815l-1-34l-6-32l-11-27l-14-18l-16-9l-17-2l-16 5l-15 14l-13 22l-9 31l-2 33l0 34l2 33l9 31l13 22l15 14l16 5l17-2l16-9l14-18l11-27l6-32zM1282 2815l-1-24l-4-25l-12-25l-19-20l-25-15l-29-8l-29-3l-29 0l-29 1l-29 6l-28 11l-22 17l-15 23l-8 25l-2 25l0 24l2 25l8 25l15 23l22 17l28 12l29 5l29 1l29 0l29-3l29-8l25-15l19-20l12-24l4-25zM1787 2815l-1-25l-5-26l-11-25l-19-21l-25-13l-28-8l-28-2l-27 0l-28 2l-28 8l-25 13l-19 21l-11 25l-5 26l-1 25l1 25l5 26l11 25l19 21l25 14l28 7l28 2l27 0l28-2l28-7l25-14l19-21l11-25l5-26zM2207 2827l-1-33l-6-34l-11-29l-14-21l-16-12l-17-5l-16 2l-15 10l-13 20l-8 28l-3 33l0 34l3 34l8 32l13 25l15 16l16 9l17 1l16-6l14-14l11-25l6-31zM2777 2827l-1-28l-5-28l-13-27l-20-22l-24-14l-25-8l-25-3l-25-1l-25 6l-22 13l-17 21l-9 26l-3 27l0 28l3 28l9 28l17 25l22 18l25 11l25 5l25 2l25-2l24-9l20-17l13-24l5-28zM688 3393l-3-26l-8-31l-14-33l-17-30l-20-26l-19-19l-17-11l-14 0l-8 11l-3 20l3 26l8 31l14 33l17 31l19 25l20 19l17 11l14 0l8-11zM1280 3236l-2-10l-8-6l-15-1l-21 4l-26 10l-29 14l-30 17l-30 18l-30 21l-28 22l-24 22l-18 20l-11 18l-5 14l0 11l5 9l11 3l18-1l24-7l28-12l30-16l30-18l30-19l29-22l26-22l21-21l15-19l8-16zM1785 3321l-2-24l-7-23l-14-22l-24-16l-29-10l-30-4l-30-1l-30 2l-30 7l-27 13l-19 20l-11 23l-4 23l0 23l4 24l11 22l19 20l27 13l30 7l30 2l30-1l30-3l29-10l24-17l14-22l7-23zM2208 3259l-3-24l-8-15l-14-4l-17 7l-19 15l-19 23l-18 29l-14 32l-8 32l-3 29l3 23l8 15l14 4l18-6l19-16l19-23l17-29l14-32l8-32zM2779 3316l-1-26l-8-25l-16-22l-22-15l-27-7l-28-2l-27 2l-28 7l-25 14l-20 20l-11 25l-5 26l0 25l5 26l11 24l20 18l25 12l28 4l27-1l28-4l27-10l22-17l16-23l8-26zM3280 3321l-1-25l-7-24l-15-22l-23-16l-27-9l-29-3l-28 0l-29 3l-27 9l-23 16l-15 22l-7 24l-1 25l1 24l7 24l15 22l23 17l27 9l29 3l28 0l29-3l27-9l23-17l15-22l7-24zM687 3929l-2-28l-6-33l-11-34l-14-32l-15-28l-17-21l-16-15l-15-7l-12 3l-8 14l-4 21l0 27l4 31l8 34l12 33l15 30l16 25l17 18l15 11l14 2l11-8l6-18zM1282 3916l-1-22l-4-23l-12-26l-19-26l-25-24l-29-19l-29-15l-29-13l-29-11l-29-8l-28-2l-22 6l-15 13l-8 18l-2 21l0 21l2 23l8 25l15 26l22 25l28 22l29 17l29 13l29 12l29 10l29 5l25-1l19-10l12-16l4-20zM1787 3856l-1-26l-5-26l-11-24l-19-21l-25-14l-28-7l-28-3l-27 0l-28 3l-28 7l-25 14l-19 21l-11 24l-5 26l-1 26l1 25l5 26l11 25l19 21l25 14l28 7l28 2l27 0l28-2l28-7l25-14l19-21l11-25l5-26zM2207 3788l-2-26l-6-19l-11-10l-14-1l-15 9l-17 17l-16 23l-15 29l-12 33l-8 34l-4 32l0 28l4 23l8 15l12 5l15-4l16-13l17-20l15-27l14-31l11-34l6-33zM2777 3844l-1-28l-5-27l-13-24l-20-18l-24-9l-25-2l-25 2l-25 5l-25 11l-22 18l-17 25l-9 28l-3 29l0 27l3 28l9 26l17 22l22 13l25 5l25 0l25-4l25-7l24-15l20-22l13-27l5-28zM3282 3856l-1-28l-5-27l-12-26l-21-21l-25-13l-27-5l-27-1l-27 1l-27 5l-25 13l-20 21l-13 26l-5 27l-1 28l1 27l5 28l13 26l20 21l25 12l27 5l27 1l27-1l27-5l25-12l21-21l12-26l5-28zM3767 3820l-1-27l-5-26l-13-20l-19-12l-23-2l-24 5l-24 9l-24 12l-23 19l-19 26l-13 30l-5 29l-1 28l1 28l5 25l13 21l19 11l23 2l24-5l24-8l24-13l23-19l19-25l13-30l5-30zM687 4349l-1-34l-5-33l-10-29l-14-19l-15-11l-16-4l-15 4l-15 11l-14 19l-10 29l-5 33l-1 34l1 35l5 33l10 28l14 20l15 11l15 3l16-3l15-11l14-20l10-28l5-33zM1282 4349l-1-25l-4-26l-10-25l-18-21l-24-16l-27-10l-29-4l-28 0l-27 0l-29 4l-27 10l-24 16l-18 21l-10 25l-5 26l0 25l0 26l5 25l10 25l18 22l24 16l27 9l29 4l27 1l28-1l29-4l27-9l24-16l18-22l10-25l4-25zM1787 4349l-1-26l-4-26l-11-26l-17-22l-24-15l-27-9l-27-3l-26 0l-27 1l-27 6l-25 12l-21 18l-14 25l-7 26l-3 26l0 26l3 27l7 26l14 24l21 19l25 12l27 5l27 2l26-1l27-3l27-8l24-16l17-21l11-26l4-27zM2207 4349l-1-34l-5-33l-10-29l-14-19l-15-11l-15-4l-16 4l-15 11l-14 19l-10 29l-5 33l-1 34l1 35l5 33l10 28l14 20l15 11l16 3l15-3l15-11l14-20l10-28l5-33zM2777 4349l-1-28l-5-29l-11-27l-19-21l-22-13l-25-6l-24-1l-24 1l-24 6l-23 13l-18 21l-12 27l-5 29l-1 28l1 29l5 28l12 27l18 21l23 13l24 7l24 1l24-1l25-7l22-13l19-21l11-27l5-28zM3282 4349l-1-28l-5-28l-11-27l-18-22l-25-14l-26-7l-26-1l-25 0l-26 4l-26 10l-22 18l-15 25l-7 28l-3 28l0 28l3 28l7 28l15 25l22 19l26 10l26 3l25 1l26-2l26-6l25-15l18-22l11-26l5-29zM3767 4349l-1-29l-5-30l-11-27l-18-21l-22-12l-23-6l-23 0l-23 2l-22 9l-21 16l-15 25l-8 29l-2 30l0 29l2 30l8 29l15 24l21 17l22 8l23 3l23-1l23-5l22-12l18-21l11-27l5-30zM4265 4375l-1-28l-5-28l-11-29l-18-26l-25-19l-26-12l-26-7l-26-5l-26-2l-26 4l-21 13l-15 21l-8 26l-3 27l0 27l3 29l8 29l15 27l21 23l26 15l26 10l26 6l26 4l26-1l25-9l18-17l11-24l5-27zM687 4871l-1-34l-6-33l-11-27l-14-19l-16-9l-17-2l-16 6l-15 13l-13 23l-9 31l-2 34l0 35l2 34l9 31l13 23l15 13l16 6l17-2l16-10l14-18l11-27l6-33zM1282 4871l-1-24l-4-26l-12-24l-19-21l-25-15l-29-8l-29-3l-29-1l-29 2l-29 5l-28 11l-22 18l-15 24l-8 25l-2 25l0 25l2 25l8 25l15 23l22 19l28 11l29 5l29 2l29-1l29-3l29-8l25-15l19-21l12-24l4-26zM1787 4871l-1-25l-5-27l-11-25l-19-21l-25-14l-28-7l-28-2l-27 0l-28 2l-28 7l-25 14l-19 21l-11 25l-5 27l-1 25l1 26l5 26l11 26l19 21l25 14l28 7l28 2l27 0l28-2l28-7l25-14l19-21l11-26l5-26zM2207 4896l-1-34l-6-34l-11-32l-14-24l-16-15l-17-9l-16-1l-15 7l-13 17l-8 27l-3 32l0 33l3 35l8 34l13 28l15 19l16 12l17 5l16-2l14-12l11-22l6-31zM2777 4871l-1-28l-5-28l-13-26l-20-20l-24-12l-25-5l-25-1l-25 3l-25 8l-22 16l-17 23l-9 28l-3 28l0 28l3 29l9 28l17 23l22 16l25 8l25 3l25-1l25-5l24-12l20-20l13-26l5-28zM3282 4871l-1-27l-5-28l-12-27l-21-21l-25-12l-27-6l-27-1l-27 1l-27 6l-25 12l-20 21l-13 27l-5 28l-1 27l1 28l5 28l13 27l20 20l25 13l27 6l27 1l27-1l27-6l25-13l21-20l12-27l5-28zM3767 4871l-1-29l-5-29l-13-27l-19-20l-23-11l-24-4l-24 0l-24 4l-23 11l-19 20l-13 27l-5 29l-1 29l1 30l5 29l13 27l19 20l23 11l24 4l24 0l24-4l23-11l19-20l13-27l5-29zM4265 4945l-1-22l-5-25l-11-27l-18-29l-25-26l-26-21l-26-17l-26-16l-26-13l-26-8l-21 0l-15 10l-8 17l-3 20l0 21l3 23l8 26l15 29l21 27l26 24l26 19l26 16l26 15l26 11l25 4l18-5l11-14l5-18zM4790 4871l-1-26l-5-27l-12-26l-20-21l-26-14l-27-6l-28-2l-27 1l-28 3l-27 10l-23 18l-16 23l-8 27l-3 27l0 27l3 27l8 27l16 23l23 18l27 10l28 3l27 1l28-2l27-6l26-14l20-21l12-26l5-27zM688 5343l-4-25l-11-21l-19-13l-22-5l-22 3l-21 12l-16 19l-7 24l0 32l7 35l16 25l21 14l22 2l22-12l19-23l11-32zM1280 5346l-2-15l-8-15l-17-14l-24-11l-31-7l-32-2l-33-1l-32 1l-33 5l-27 9l-21 13l-12 14l-5 16l0 18l5 23l12 21l21 19l27 13l33 7l32 2l33-1l32-4l31-10l24-16l17-21l8-22zM1785 5346l-3-16l-9-16l-18-15l-26-11l-32-5l-32-2l-33 1l-32 3l-30 8l-23 13l-13 16l-5 16l0 20l5 24l13 23l23 19l30 12l32 5l33 1l32-3l32-8l26-16l18-21l9-24zM2208 5396l-4-34l-11-31l-19-22l-22-18l-22-11l-21-2l-15 8l-8 16l0 22l8 25l15 36l21 31l22 20l22 10l19-4l11-18zM2779 5346l-2-18l-10-17l-19-15l-26-11l-29-4l-30-1l-30 2l-28 8l-23 13l-14 16l-6 18l0 22l6 27l14 24l23 19l28 11l30 4l30-1l29-7l26-15l19-22l10-26zM3280 5346l-2-17l-9-17l-18-14l-26-11l-30-5l-31-1l-31 1l-30 5l-26 11l-18 14l-9 17l-2 17l2 25l9 25l18 22l26 15l30 7l31 2l31-2l30-7l26-15l18-22l9-25zM3769 5346l-3-20l-11-19l-20-15l-28-9l-30-3l-29 1l-30 6l-24 12l-16 18l-7 19l0 25l7 29l16 25l24 19l30 8l29 2l30-5l28-13l20-23l11-28zM4263 5346l-2-17l-9-17l-18-14l-26-11l-30-5l-31-1l-31 1l-31 5l-26 11l-17 14l-10 17l-2 17l2 25l10 25l17 22l26 15l31 7l31 2l31-2l30-7l26-15l18-22l9-25zM4788 5346l-3-16l-8-16l-17-15l-26-11l-30-5l-32-2l-31 1l-31 3l-29 8l-21 13l-13 16l-6 16l0 20l6 24l13 23l21 19l29 12l31 5l31 1l32-3l30-8l26-16l17-21l8-24zM5272 5346l-2-17l-10-17l-18-14l-26-11l-31-5l-31-1l-31 1l-31 5l-27 11l-18 14l-9 17l-2 17l2 25l9 25l18 22l27 15l31 7l31 2l31-2l31-7l26-15l18-22l10-25zM687 5876l-1-33l-6-32l-11-27l-14-17l-16-9l-17-2l-16 5l-15 13l-13 23l-9 30l-2 33l0 33l2 33l9 30l13 22l15 13l16 5l17-1l16-9l14-18l11-26l6-33zM1282 5876l-1-24l-4-25l-12-23l-19-21l-25-14l-29-8l-29-3l-29 0l-29 1l-29 5l-28 11l-22 18l-15 22l-8 25l-2 24l0 24l2 25l8 24l15 22l22 18l28 11l29 5l29 1l29 0l29-3l29-8l25-14l19-20l12-24l4-25zM1787 5876l-1-25l-5-25l-11-25l-19-20l-25-14l-28-7l-28-2l-27 0l-28 2l-28 7l-25 14l-19 20l-11 25l-5 25l-1 25l1 25l5 26l11 24l19 20l25 14l28 7l28 2l27 0l28-2l28-7l25-14l19-20l11-24l5-26zM2207 5870l-1-34l-7-33l-11-26l-16-15l-17-6l-17 2l-17 9l-15 19l-12 28l-6 33l-2 35l2 35l6 32l12 26l15 15l17 6l17-1l17-10l16-18l11-28l7-34zM2777 5876l-1-27l-5-28l-13-25l-20-19l-24-12l-25-5l-25 0l-25 2l-25 8l-22 15l-17 23l-9 27l-3 28l0 27l3 27l9 27l17 23l22 15l25 8l25 3l25-1l25-5l24-11l20-20l13-25l5-27zM3282 5876l-1-27l-5-27l-12-25l-21-21l-25-12l-27-5l-27-1l-27 1l-27 5l-25 12l-20 21l-13 25l-5 27l-1 27l1 27l5 27l13 26l20 20l25 12l27 5l27 1l27-1l27-5l25-12l21-20l12-26l5-27zM3767 5876l-1-29l-6-30l-14-26l-21-19l-24-9l-25-3l-25 1l-24 5l-23 14l-18 23l-10 29l-3 29l0 30l3 30l10 28l18 23l23 14l24 6l25 1l25-3l24-10l21-18l14-27l6-29zM4265 5876l-1-27l-5-27l-12-25l-21-21l-25-12l-27-5l-27-1l-27 1l-27 5l-26 12l-20 21l-12 25l-6 27l-1 27l1 27l6 27l12 26l20 20l26 12l27 5l27 1l27-1l27-5l25-12l21-20l12-26l5-27zM4790 5876l-1-26l-5-26l-12-25l-20-20l-26-13l-27-6l-28-2l-27 0l-28 4l-27 9l-23 17l-16 23l-8 26l-3 26l0 26l3 26l8 26l16 23l23 17l27 9l28 4l27 0l28-1l27-6l26-13l20-21l12-25l5-26zM5274 5876l-1-27l-5-27l-13-25l-20-21l-26-12l-28-5l-27-1l-27 1l-28 5l-26 12l-20 21l-13 25l-5 27l-1 27l1 27l5 27l13 26l20 20l26 12l28 5l27 1l27-1l28-5l26-12l20-20l13-26l5-27zM5754 5946l-2-26l-5-30l-10-31l-14-30l-16-25l-17-21l-24-16l-24-9l-20-1l-15 9l-8 18l-3 22l3 26l8 30l15 31l20 30l24 26l24 20l17 16l16 10l14 0l10-9l5-17zM689 6483l-5-23l-16-32l-22-25l-26-14l-25 1l-19 14l-11 25l0 32l11 23l19 16l25 11l26 4l22-4l16-11zM1285 6469l-3-19l-11-18l-18-17l-26-13l-33-8l-35-3l-35 0l-35 3l-33 8l-26 13l-19 17l-10 18l-3 19l3 11l10 10l19 10l26 7l33 5l35 1l35 0l35-1l33-5l26-7l18-10l11-10zM1789 6469l-3-20l-12-20l-19-18l-29-13l-34-6l-35-1l-35 1l-35 6l-28 13l-20 18l-12 20l-3 20l3 12l12 11l20 10l28 7l35 4l35 0l35 0l34-4l29-7l19-10l12-11zM2209 6428l-5-25l-16-13l-22 0l-26 13l-25 25l-19 33l-11 22l0 17l11 11l19 4l25-4l26-11l22-17l16-22zM2781 6445l-4-22l-13-18l-22-13l-30-4l-33 3l-34 8l-32 15l-27 20l-17 23l-9 19l0 13l9 11l17 10l27 5l32 0l34-4l33-6l30-10l22-13l13-13zM3284 6469l-3-21l-11-21l-20-18l-28-12l-33-5l-33-1l-33 2l-31 9l-25 16l-15 19l-7 21l0 17l7 12l15 11l25 9l31 5l33 1l33 0l33-3l28-7l20-10l11-12zM3771 6445l-4-23l-13-19l-23-12l-29-3l-32 5l-32 10l-30 17l-22 23l-13 25l-4 15l4 12l13 11l22 7l30 2l32-3l32-5l29-10l23-13l13-15zM4267 6453l-3-20l-11-19l-20-15l-29-8l-32-1l-34 4l-33 6l-31 13l-24 18l-16 22l-7 19l0 12l7 11l16 10l24 7l31 2l33-1l34-3l32-5l29-9l20-12l11-12zM4792 6469l-3-20l-11-20l-19-18l-28-13l-33-6l-34-1l-33 1l-33 6l-28 13l-19 18l-11 20l-3 20l3 12l11 11l19 10l28 7l33 4l33 0l34 0l33-4l28-7l19-10l11-11zM5276 6469l-3-21l-12-21l-20-18l-29-12l-33-5l-33-1l-34 2l-32 9l-24 16l-16 19l-7 21l0 17l7 12l16 11l24 9l32 5l34 1l33 0l33-3l29-7l20-10l12-12zM5756 6501l-4-13l-12-16l-20-24l-24-24l-33-18l-33-11l-24 0l-12 10l0 17l12 24l24 24l33 16l33 14l24 10l20 3l12-3zM6290 6469l-4-22l-12-21l-21-19l-30-12l-34-4l-34 0l-34 4l-30 12l-22 19l-12 21l-3 22l3 13l12 12l22 10l30 7l34 2l34 0l34-2l30-7l21-10l12-12zM689 6967l-6-27l-18-21l-25-12l-27 0l-25 12l-18 21l-6 27l6 21l18 17l25 10l27 0l25-10l18-17zM1285 6967l-3-14l-11-14l-18-13l-26-10l-33-6l-35-2l-35 0l-35 2l-33 6l-26 10l-19 13l-10 14l-3 14l3 11l10 11l19 10l26 9l33 4l35 2l35 0l35-2l33-4l26-9l18-10l11-11zM1789 6967l-3-16l-12-14l-19-14l-29-9l-34-5l-35-1l-35 1l-35 5l-28 9l-20 14l-12 14l-3 16l3 12l12 12l20 11l28 8l35 3l35 1l35-1l34-3l29-8l19-11l12-12zM2209 6967l-6-27l-17-21l-26-12l-27 0l-25 12l-18 21l-6 27l6 21l18 17l25 10l27 0l26-10l17-17zM2781 6949l-4-16l-13-14l-22-10l-30-3l-33 2l-34 7l-32 10l-27 15l-17 18l-9 16l0 14l9 12l17 10l27 5l32 0l34-3l33-7l30-10l22-14l13-15zM3284 6967l-4-17l-12-16l-22-14l-30-9l-35-3l-34 0l-35 3l-30 9l-22 14l-12 16l-4 17l4 13l12 13l22 11l30 7l35 3l34 0l35-3l30-7l22-11l12-13zM3771 6967l-4-20l-15-18l-25-14l-32-7l-33-1l-34 4l-29 10l-20 17l-9 19l0 18l9 15l20 13l29 9l34 3l33-1l32-6l25-11l15-14zM4267 6967l-3-17l-13-16l-22-14l-30-9l-35-3l-35 0l-34 3l-31 9l-22 14l-12 16l-4 17l4 13l12 13l22 11l31 7l34 3l35 0l35-3l30-7l22-11l13-13zM4792 6967l-4-16l-12-16l-21-13l-30-9l-34-4l-35-1l-36 2l-33 7l-25 11l-17 15l-7 16l0 14l7 13l17 12l25 9l33 6l36 1l35 0l34-4l30-7l21-11l12-12zM5276 6967l-4-17l-12-16l-22-14l-31-9l-36-3l-35 0l-35 3l-31 9l-22 14l-12 16l-4 17l4 13l12 13l22 11l31 7l35 3l35 0l36-3l31-7l22-11l12-13zM5756 6986l-4-18l-14-24l-22-19l-26-13l-38-6l-32 4l-21 13l-6 20l6 23l21 19l32 16l38 10l26 5l22-4l14-10zM6290 6974l-4-15l-12-17l-21-15l-30-11l-34-6l-34-2l-34 0l-30 7l-22 12l-12 15l-3 16l3 15l12 14l22 12l30 9l34 4l34 2l34 0l30-5l21-10l12-12zM6672 6936l-8-20l-22-10l-32 2l-28 14l-18 22l-13 26l-4 21l4 16l13 8l18-1l28-11l32-18l22-23zM689 7373l-5-24l-16-19l-22-12l-26-4l-25 4l-19 13l-11 18l0 24l11 31l19 24l25 13l26 0l22-13l16-25zM1285 7365l-3-12l-11-12l-18-10l-26-8l-33-5l-35-2l-35 0l-35 2l-33 5l-26 8l-19 10l-10 12l-3 12l3 18l10 17l19 17l26 12l33 8l35 3l35 0l35-3l33-8l26-12l18-17l11-17zM1789 7365l-3-13l-10-11l-19-11l-26-9l-32-4l-34-1l-34 0l-33 3l-30 6l-23 10l-14 11l-6 13l0 15l6 19l14 17l23 15l30 10l33 4l34 1l34-2l32-7l26-13l19-16l10-18zM2209 7365l-5-21l-16-17l-22-11l-26-2l-25 7l-19 14l-11 19l0 27l11 30l19 21l25 10l26-3l22-16l16-27zM2781 7365l-4-15l-13-14l-22-12l-30-7l-33-2l-34 0l-32 5l-27 10l-17 13l-9 14l0 19l9 22l17 20l27 15l32 7l34 1l33-3l30-11l22-18l13-22zM3284 7365l-3-14l-11-12l-20-12l-28-8l-33-3l-33 0l-33 1l-31 6l-25 10l-15 12l-7 13l0 17l7 20l15 19l25 15l31 8l33 3l33-1l33-5l28-12l20-17l11-20zM3771 7365l-4-16l-13-14l-23-12l-29-7l-32-1l-32 1l-30 7l-22 12l-13 14l-4 16l4 24l13 22l22 18l30 10l32 2l32-2l29-10l23-18l13-22zM4267 7365l-3-14l-11-12l-20-12l-29-8l-32-3l-34 0l-33 1l-31 6l-24 10l-16 12l-7 13l0 17l7 20l16 19l24 15l31 8l33 3l34-1l32-5l29-12l20-17l11-20zM4792 7365l-3-13l-11-12l-19-11l-28-9l-33-4l-34 0l-33 0l-33 4l-28 9l-19 11l-11 12l-3 13l3 19l11 19l19 17l28 13l33 6l33 1l34-1l33-6l28-13l19-17l11-19zM5276 7365l-3-14l-12-12l-20-12l-29-8l-33-3l-33 0l-34 1l-32 6l-24 10l-16 12l-7 13l0 17l7 20l16 19l24 15l32 8l34 3l33-1l33-5l29-12l20-17l12-20zM5756 7403l-4-26l-12-23l-20-17l-24-13l-33-8l-33-2l-24 6l-12 12l0 16l12 19l24 28l33 23l33 16l24 8l20-3l12-14zM6290 7380l-4-19l-12-15l-21-13l-30-9l-34-6l-34-3l-34 0l-30 5l-22 9l-12 13l-3 13l3 16l12 22l22 20l30 15l34 8l34 4l34 0l30-7l21-14l12-19zM6672 7344l-7-17l-20-11l-28-2l-30 6l-18 14l-14 20l-7 26l0 30l7 22l14 10l18-3l30-16l28-26l20-32zM7165 7321l-5-7l-17 3l-24 12l-24 19l-20 26l-13 33l-5 24l5 11l13-4l20-18l24-30l24-31l17-22z"/>
</g>
<g transform="scale(.1)" opacity="0.6">
<use href="#otot" fill="#d19999"/>
<path fill="#8b0000" d="M680 792l-1-35l-3-36l-7-30l-10-23l-12-14l-12-7l-12 0l-12 7l-12 14l-10 23l-7 30l-3 36l-1 35l1 36l3 35l7 30l10 23l12 15l12 6l12 0l12-6l12-15l10-23l7-30l3-35zM680 1288l-1-35l-4-35l-8-30l-12-20l-13-11l-13-4l-13 4l-13 11l-12 20l-8 30l-4 35l-1 35l1 36l4 35l8 29l12 20l13 12l13 3l13-3l13-12l12-20l8-29l4-35zM1282 1288l-1-25l-4-26l-9-25l-16-23l-23-17l-26-10l-28-5l-27-1l-27 0l-27 3l-27 7l-25 14l-20 20l-13 24l-6 26l-2 26l0 25l2 26l6 25l13 25l20 20l25 13l27 8l27 3l27 0l27-1l28-5l26-11l23-17l16-22l9-25l4-26zM682 1855l-5-20l-15-23l-21-23l-24-17l-21-8l-15 2l-5 12l5 20l15 24l21 22l24 17l21 8l15-2zM1285 1817l-3-13l-11-12l-18-11l-26-8l-33-5l-35-2l-35 0l-35 2l-33 5l-26 8l-19 11l-10 12l-3 13l3 12l10 12l19 11l26 9l33 5l35 2l35 0l35-2l33-5l26-9l18-11l11-12zM1789 1817l-3-14l-12-12l-19-12l-29-8l-34-5l-35 0l-35 0l-35 5l-28 8l-20 12l-12 12l-3 14l3 13l12 13l20 11l28 9l35 4l35 1l35-1l34-4l29-9l19-11l12-13zM681 2378l-4-27l-13-30l-19-27l-21-20l-21-10l-17 2l-8 16l0 23l8 29l17 30l21 23l21 16l19 4l13-9zM1280 2335l-2-16l-8-17l-18-15l-27-11l-33-7l-34-2l-33 0l-35 2l-33 7l-27 11l-17 15l-9 17l-1 16l1 17l9 17l17 15l27 11l33 7l35 2l33 0l34-2l33-7l27-11l18-15l8-17zM1785 2335l-2-18l-9-18l-20-15l-30-11l-34-5l-33-1l-34 1l-34 5l-30 11l-19 15l-10 18l-2 18l2 18l10 18l19 16l30 11l34 5l34 1l33-1l34-5l30-11l20-16l9-18zM2191 2300l-4-24l-15-12l-21 3l-23 16l-21 26l-14 32l-4 30l4 24l14 12l21-4l23-15l21-26l15-32zM680 2815l-1-35l-5-34l-10-27l-13-17l-15-8l-14 0l-15 8l-13 17l-10 27l-5 34l-1 35l1 35l5 34l10 27l13 17l15 8l14 0l15-8l13-17l10-27l5-34zM1282 2815l-1-24l-4-25l-12-25l-19-20l-25-15l-29-8l-29-3l-29 0l-29 1l-29 6l-28 11l-22 17l-15 23l-8 25l-2 25l0 24l2 25l8 25l15 23l22 17l28 12l29 5l29 1l29 0l29-3l29-8l25-15l19-20l12-24l4-25zM1787 2815l-1-25l-5-26l-11-25l-19-21l-25-13l-28-8l-28-2l-27 0l-28 2l-28 8l-25 13l-19 21l-11 25l-5 26l-1 25l1 25l5 26l11 25l19 21l25 14l28 7l28 2l27 0l28-2l28-7l25-14l19-21l11-25l5-26zM2190 2852l-1-35l-5-36l-10-33l-13-26l-14-17l-14-11l-14-3l-13 7l-10 19l-5 28l-1 33l1 35l5 36l10 33l13 26l14 18l14 10l14 3l13-7l10-19l5-28zM2700 2874l-1-29l-6-33l-11-34l-17-30l-18-22l-19-17l-18-14l-18-5l-15 7l-8 19l-3 26l0 28l3 31l8 34l15 33l18 26l18 19l19 16l18 10l17 0l11-14l6-23zM681 3376l-3-27l-10-32l-16-33l-18-28l-19-20l-18-11l-13 1l-6 15l0 23l6 30l13 33l18 31l19 25l18 16l16 5l10-9zM1280 3241l-2-9l-10-5l-17 0l-24 5l-30 10l-31 15l-33 16l-32 18l-31 20l-27 20l-21 20l-13 16l-6 14l0 10l6 7l13 3l21-2l27-8l31-13l32-15l33-17l31-20l30-20l24-20l17-18l10-15zM1785 3314l-2-21l-7-21l-17-19l-25-14l-30-8l-32-2l-31 0l-32 2l-30 8l-25 14l-17 19l-7 21l-2 21l2 20l7 21l17 19l25 14l30 8l32 3l31 0l32-3l30-8l25-14l17-19l7-21zM2191 3261l-3-23l-10-13l-15 1l-18 12l-19 22l-17 29l-13 33l-7 31l0 26l7 19l13 6l17-7l19-18l18-25l15-32l10-33zM2701 3288l-2-29l-11-23l-19-11l-24 2l-24 9l-24 16l-20 26l-10 32l-3 30l3 28l10 23l20 11l24-1l24-9l24-17l19-26l11-31zM3280 3314l-2-23l-8-22l-18-20l-27-13l-30-6l-31-2l-31 2l-30 6l-27 13l-18 20l-8 22l-2 23l2 22l8 23l18 19l27 14l30 6l31 1l31-1l30-6l27-14l18-19l8-23zM680 3913l-2-29l-7-32l-12-34l-14-29l-16-24l-16-16l-14-6l-12 4l-7 16l-2 23l2 29l7 33l12 33l14 30l16 23l16 16l14 7l12-4l7-16zM1282 3902l-1-20l-6-22l-13-24l-22-24l-29-20l-31-17l-31-12l-31-11l-31-9l-30-4l-26 3l-18 11l-9 17l-3 18l0 20l3 21l9 23l18 24l26 22l30 19l31 14l31 11l31 11l31 7l29 0l22-7l13-14l6-18zM1787 3850l-1-24l-6-23l-14-23l-22-18l-28-10l-30-5l-29-1l-30 1l-30 5l-28 10l-22 18l-14 23l-6 23l-1 24l1 23l6 24l14 23l22 17l28 11l30 5l30 1l29-1l30-5l28-11l22-17l14-23l6-24zM2190 3792l-2-27l-8-17l-12-5l-16 7l-16 17l-16 25l-15 32l-10 35l-5 34l0 29l5 22l10 12l15-1l16-12l16-22l16-29l12-34l8-35zM2700 3809l-2-29l-7-24l-16-12l-21 2l-21 10l-21 15l-21 24l-16 31l-8 34l-1 31l1 29l8 24l16 12l21-2l21-10l21-16l21-23l16-32l7-33zM3282 3850l-1-25l-7-26l-14-24l-24-17l-29-9l-29-3l-28 0l-29 3l-29 9l-23 17l-15 24l-7 26l-1 25l1 25l7 26l15 23l23 17l29 10l29 2l28 0l29-2l29-10l24-17l14-23l7-26zM3760 3835l-1-29l-8-28l-16-21l-22-9l-24-1l-24 4l-24 10l-23 18l-16 27l-8 30l-1 29l1 29l8 28l16 20l23 10l24 1l24-5l24-9l22-18l16-27l8-30zM680 4349l-1-35l-4-35l-10-29l-12-19l-14-10l-13-1l-14 5l-13 15l-12 23l-6 33l-3 36l0 35l3 36l6 32l12 24l13 14l14 6l13-2l14-10l12-19l10-28l4-35zM1282 4349l-1-25l-4-26l-10-25l-18-21l-24-16l-27-10l-29-4l-28 0l-27 0l-29 4l-27 10l-24 16l-18 21l-10 25l-5 26l0 25l0 26l5 25l10 25l18 22l24 16l27 9l29 4l27 1l28-1l29-4l27-9l24-16l18-22l10-25l4-25zM1787 4349l-1-26l-4-26l-11-26l-17-22l-24-15l-27-9l-27-3l-26 0l-27 1l-27 6l-25 12l-21 18l-14 25l-7 26l-3 26l0 26l3 27l7 26l14 24l21 19l25 12l27 5l27 2l26-1l27-3l27-8l24-16l17-21l11-26l4-27zM2190 4349l-1-35l-4-35l-10-29l-12-19l-13-10l-14-1l-13 5l-13 15l-11 23l-7 33l-2 36l0 35l2 36l7 32l11 24l13 14l13 6l14-2l13-10l12-19l10-28l4-35zM2700 4349l-1-33l-5-33l-10-29l-16-19l-18-9l-17-2l-18 2l-17 9l-16 19l-11 29l-4 33l-1 33l1 34l4 33l11 29l16 19l17 9l18 2l17-2l18-9l16-19l10-29l5-33zM3282 4349l-1-28l-5-28l-11-27l-18-22l-25-14l-26-7l-26-1l-25 0l-26 4l-26 10l-22 18l-15 25l-7 28l-3 28l0 28l3 28l7 28l15 25l22 19l26 10l26 3l25 1l26-2l26-6l25-15l18-22l11-26l5-29zM3760 4349l-1-32l-5-32l-12-28l-18-20l-21-10l-21-3l-21 0l-21 7l-20 15l-16 24l-8 31l-3 32l0 32l3 32l8 31l16 25l20 15l21 6l21 1l21-3l21-10l18-20l12-29l5-32zM4254 4356l-1-30l-5-31l-11-29l-19-23l-23-13l-25-6l-23-2l-25 0l-24 7l-21 15l-16 25l-8 29l-2 30l0 30l2 30l8 31l16 26l21 18l24 10l25 3l23 1l25-3l23-11l19-20l11-27l5-30zM680 4842l-1-33l-6-28l-11-18l-14-7l-15 3l-15 10l-15 18l-13 27l-9 33l-3 35l0 33l3 31l9 24l13 12l15 2l15-6l15-15l14-22l11-31l6-34zM1282 4870l-1-23l-5-24l-12-23l-21-19l-27-13l-30-7l-30-2l-29 0l-30 2l-30 7l-28 13l-20 19l-12 23l-5 24l-1 23l1 24l5 24l12 22l20 20l28 13l30 6l30 2l29 0l30-2l30-6l27-13l21-20l12-22l5-24zM1787 4870l-1-24l-5-25l-13-23l-20-19l-27-13l-29-6l-28-1l-29 0l-29 4l-28 8l-24 16l-16 22l-9 25l-3 24l0 24l3 25l9 24l16 22l24 16l28 9l29 3l29 0l28-1l29-6l27-12l20-19l13-24l5-25zM2190 4916l-1-33l-6-35l-11-33l-14-26l-14-19l-15-12l-15-3l-13 7l-8 19l-3 28l0 32l3 34l8 34l13 30l15 23l15 15l14 8l14-1l11-13l6-25zM2700 4870l-1-33l-7-33l-15-25l-19-14l-20-4l-20 1l-20 8l-18 20l-11 30l-3 34l0 33l3 33l11 30l18 20l20 9l20 1l20-4l19-14l15-26l7-33zM3282 4870l-1-26l-6-26l-13-25l-22-19l-27-11l-28-4l-28 0l-28 2l-28 7l-25 15l-17 22l-10 26l-3 26l0 26l3 27l10 26l17 22l25 15l28 7l28 1l28 0l28-4l27-11l22-19l13-24l6-27zM3760 4870l-1-30l-7-30l-14-26l-21-16l-23-6l-23-1l-23 3l-23 11l-18 21l-10 29l-4 30l0 30l4 31l10 28l18 21l23 11l23 4l23-1l23-7l21-16l14-25l7-31zM4254 4937l-1-23l-6-27l-14-30l-22-29l-26-24l-26-19l-26-16l-26-13l-25-6l-18 6l-10 16l-3 20l0 23l3 25l10 28l18 30l25 27l26 21l26 17l26 16l26 10l22 0l14-11l6-19zM4790 4870l-1-25l-6-26l-13-24l-21-19l-27-11l-29-5l-29-1l-28 1l-29 5l-27 11l-21 19l-13 24l-6 26l-1 25l1 25l6 26l13 24l21 19l27 12l29 4l28 1l29-1l29-4l27-12l21-19l13-24l6-26zM681 5329l-4-22l-15-15l-21-3l-24 8l-21 17l-15 24l-4 26l4 25l15 15l21 3l24-8l21-18l15-26zM1280 5346l-2-14l-10-13l-20-12l-28-9l-35-5l-35-1l-35 0l-35 3l-32 7l-24 10l-15 14l-6 13l0 15l6 14l15 14l24 12l32 7l35 3l35 1l35-2l35-5l28-9l20-14l10-14zM1785 5346l-3-15l-11-14l-22-13l-31-9l-35-3l-35 0l-36 1l-34 6l-26 11l-17 14l-6 15l0 15l6 16l17 15l26 12l34 6l36 2l35-1l35-3l31-9l22-14l11-16zM2191 5377l-4-26l-15-26l-21-21l-23-12l-21-3l-14 10l-4 19l4 24l14 27l21 22l23 14l21 2l15-10zM2701 5358l-4-24l-16-23l-27-14l-28-7l-29 1l-22 12l-10 21l0 23l10 25l22 21l29 10l28 4l27-7l16-18zM3280 5346l-3-16l-11-15l-21-13l-31-8l-33-2l-34 0l-33 2l-31 8l-21 13l-11 15l-3 16l3 17l11 16l21 14l31 9l33 3l34 0l33-3l31-9l21-14l11-16zM3762 5346l-4-20l-15-19l-27-12l-31-4l-32 1l-30 8l-21 16l-10 20l0 21l10 22l21 17l30 9l32 1l31-4l27-14l15-20zM4253 5346l-4-18l-13-17l-26-13l-32-6l-34 0l-33 2l-31 10l-19 15l-8 18l0 19l8 19l19 17l31 10l33 3l34-1l32-6l26-14l13-18zM4788 5346l-3-15l-11-14l-20-13l-30-9l-34-3l-34 0l-34 1l-33 6l-26 11l-15 14l-6 15l0 15l6 16l15 15l26 12l33 6l34 2l34-1l34-3l30-9l20-14l11-16zM5263 5335l-4-16l-12-15l-25-10l-33-4l-34 3l-34 4l-33 10l-24 15l-13 18l-3 18l3 18l13 16l24 11l33 3l34-2l34-5l33-11l25-16l12-19zM680 5876l-1-34l-5-34l-10-27l-13-16l-15-8l-14 0l-15 8l-13 16l-10 27l-5 34l-1 34l1 35l5 33l10 27l13 17l15 8l14 0l15-8l13-17l10-27l5-33zM1282 5876l-1-24l-4-25l-12-23l-19-21l-25-14l-29-8l-29-3l-29 0l-29 1l-29 5l-28 11l-22 18l-15 22l-8 25l-2 24l0 24l2 25l8 24l15 22l22 18l28 11l29 5l29 1l29 0l29-3l29-8l25-14l19-20l12-24l4-25zM1787 5876l-1-25l-5-25l-11-25l-19-20l-25-14l-28-7l-28-2l-27 0l-28 2l-28 7l-25 14l-19 20l-11 25l-5 25l-1 25l1 25l5 26l11 24l19 20l25 14l28 7l28 2l27 0l28-2l28-7l25-14l19-20l11-24l5-26zM2190 5846l-1-33l-5-29l-10-20l-13-9l-14 1l-14 9l-14 16l-13 24l-10 32l-5 35l-1 34l1 33l5 30l10 19l13 9l14-1l14-8l14-16l13-25l10-31l5-36zM2700 5876l-1-33l-6-34l-13-27l-18-16l-20-6l-19 0l-19 6l-18 16l-13 27l-6 34l-1 33l1 34l6 33l13 27l18 16l19 6l19 0l20-6l18-16l13-27l6-33zM3282 5876l-1-27l-5-27l-12-25l-21-21l-25-12l-27-5l-27-1l-27 1l-27 5l-25 12l-20 21l-13 25l-5 27l-1 27l1 27l5 27l13 26l20 20l25 12l27 5l27 1l27-1l27-5l25-12l21-20l12-26l5-27zM3760 5853l-1-30l-6-28l-13-23l-19-12l-22-2l-22 4l-22 8l-22 14l-20 23l-13 30l-6 32l-1 30l1 30l6 29l13 22l20 12l22 3l22-5l22-8l22-14l19-23l13-30l6-32zM4254 5876l-1-29l-5-29l-13-27l-20-19l-25-11l-25-3l-25 0l-25 3l-25 11l-20 19l-13 27l-5 29l-1 29l1 29l5 29l13 27l20 20l25 10l25 3l25 0l25-3l25-10l20-20l13-27l5-29zM4790 5876l-1-26l-5-26l-12-25l-20-20l-26-13l-27-6l-28-2l-27 0l-28 4l-27 9l-23 17l-16 23l-8 26l-3 26l0 26l3 26l8 26l16 23l23 17l27 9l28 4l27 0l28-1l27-6l26-13l20-21l12-25l5-26zM5264 5876l-1-28l-5-28l-12-26l-21-20l-25-11l-26-4l-25-1l-26 2l-26 7l-23 16l-16 24l-9 27l-3 28l0 28l3 28l9 28l16 23l23 16l26 7l26 2l25 0l26-4l25-12l21-20l12-26l5-28zM5744 6001l-1-25l-4-30l-7-33l-9-36l-11-34l-13-31l-12-27l-14-22l-12-17l-12-8l-8 1l-6 11l-2 18l0 23l2 27l6 32l8 35l12 35l12 32l14 29l12 25l13 20l11 13l9 3l7-6l4-15zM682 6486l-5-14l-15-16l-21-13l-24-8l-21-2l-15 6l-5 12l5 15l15 16l21 12l24 8l21 1l15-5zM1285 6469l-4-9l-11-8l-20-8l-28-6l-35-3l-37-1l-36 1l-36 1l-32 5l-25 7l-15 8l-7 9l0 8l7 8l15 8l25 7l32 4l36 2l36 0l37-1l35-3l28-5l20-8l11-8zM1789 6469l-4-9l-12-10l-22-8l-31-5l-36-2l-37-1l-36 1l-35 4l-26 7l-17 9l-8 9l0 10l8 8l17 9l26 6l35 4l36 1l37 0l36-2l31-6l22-7l12-9zM2192 6449l-5-11l-15-5l-21 2l-23 9l-21 14l-14 16l-5 14l5 11l14 4l21-2l23-8l21-13l15-16zM2702 6458l-6-14l-18-9l-30-2l-31 5l-29 11l-19 15l-6 15l6 13l19 10l29 1l31-4l30-10l18-15zM3284 6469l-4-10l-13-10l-25-8l-33-5l-36-2l-36 1l-36 3l-29 6l-18 10l-9 10l0 10l9 10l18 9l29 6l36 3l36 0l36-1l33-5l25-8l13-9zM3764 6462l-6-13l-18-10l-29-6l-34 1l-34 5l-30 10l-18 13l-5 14l5 12l18 10l30 5l34-1l34-4l29-10l18-12zM4256 6462l-5-11l-16-10l-28-6l-36-1l-37 2l-36 6l-28 10l-16 12l-5 12l5 11l16 9l28 6l36 1l37-3l36-5l28-10l16-11zM4792 6469l-4-10l-13-9l-23-8l-33-6l-36-2l-37 0l-37 2l-32 6l-23 8l-13 9l-4 10l4 9l13 9l23 8l32 5l37 2l37 0l36-2l33-5l23-8l13-9zM5266 6469l-4-11l-16-11l-27-8l-36-4l-37-1l-37 2l-33 6l-21 10l-10 11l0 11l10 11l21 10l33 5l37 2l37 0l36-4l27-8l16-10zM5746 6493l-5-13l-16-15l-22-16l-26-12l-25-6l-16 1l-6 8l6 12l16 16l25 16l26 12l22 6l16-1zM6290 6469l-4-10l-13-10l-24-8l-33-5l-35-2l-36 1l-35 3l-28 6l-19 10l-8 10l0 10l8 10l19 9l28 6l35 3l36 0l35-1l33-5l24-8l13-9zM682 6967l-5-18l-15-15l-21-8l-24 0l-21 8l-15 15l-5 18l5 16l15 12l21 7l24 0l21-7l15-12zM1285 6967l-4-10l-11-10l-20-9l-28-6l-35-4l-37-1l-36 0l-36 2l-32 6l-25 7l-15 10l-7 10l0 9l7 9l15 8l25 7l32 5l36 2l36 0l37-1l35-3l28-6l20-8l11-9zM1789 6967l-4-11l-12-11l-22-9l-31-6l-36-3l-37 0l-36 1l-35 5l-26 8l-17 10l-8 10l0 10l8 10l17 9l26 7l35 4l36 1l37 0l36-3l31-5l22-9l12-9zM2192 6967l-5-18l-15-15l-21-8l-23 0l-21 8l-14 15l-5 18l5 16l14 12l21 7l23 0l21-7l15-12zM2702 6954l-6-16l-18-10l-30-2l-31 5l-29 12l-19 18l-6 16l6 15l19 9l29 2l31-5l30-11l18-15zM3284 6967l-4-12l-13-12l-25-9l-33-6l-36-1l-36 0l-36 4l-29 7l-18 11l-9 12l0 11l9 10l18 10l29 6l36 3l36 1l36-2l33-5l25-8l13-10zM3764 6967l-6-16l-18-14l-29-9l-34-2l-34 2l-30 9l-18 14l-5 16l5 14l18 12l30 8l34 2l34-2l29-8l18-12zM4256 6967l-5-14l-16-13l-28-9l-36-4l-37 0l-36 4l-28 9l-16 13l-5 14l5 12l16 11l28 8l36 4l37 0l36-4l28-8l16-11zM4792 6967l-4-12l-13-11l-23-9l-33-6l-36-2l-37 0l-37 2l-32 6l-23 9l-13 11l-4 12l4 10l13 9l23 9l32 5l37 2l37 0l36-2l33-5l23-9l13-9zM5266 6967l-4-13l-14-12l-24-9l-34-5l-35-1l-35 1l-33 5l-25 9l-14 12l-4 13l4 11l14 10l25 8l33 5l35 1l35-1l34-5l24-8l14-10zM5746 6981l-5-16l-16-18l-22-13l-26-8l-25 1l-16 9l-6 14l6 18l16 16l25 12l26 6l22 0l16-8zM6290 6972l-4-11l-13-12l-24-11l-33-7l-35-3l-36-2l-35 2l-28 6l-19 10l-8 11l0 12l8 10l19 10l28 8l35 5l36 2l35 0l33-3l24-8l13-9zM6628 6946l-4-14l-10-6l-14 1l-15 9l-14 16l-9 17l-4 16l4 12l9 6l14-1l15-9l14-13l10-16zM682 7381l-5-23l-15-18l-21-13l-24-6l-21 3l-15 11l-5 17l5 21l15 23l21 16l24 8l21-4l15-13zM1285 7365l-4-11l-11-10l-20-9l-28-8l-35-4l-37-1l-36 1l-36 2l-32 6l-25 8l-15 10l-7 10l0 12l7 14l15 12l25 11l32 7l36 2l36 1l37-2l35-4l28-9l20-12l11-13zM1789 7365l-3-11l-12-11l-19-10l-29-7l-34-3l-35-1l-35 1l-35 3l-28 7l-20 10l-12 11l-3 11l3 14l12 13l20 12l28 9l35 4l35 1l35-1l34-4l29-9l19-12l12-13zM2192 7365l-5-19l-15-16l-21-8l-23 0l-21 8l-14 16l-5 19l5 24l14 19l21 11l23 0l21-11l15-19zM2702 7365l-6-19l-18-16l-30-8l-31 0l-29 8l-19 16l-6 19l6 24l19 19l29 10l31 0l30-10l18-19zM3284 7365l-4-12l-12-12l-22-10l-30-6l-35-2l-34 0l-35 2l-30 6l-22 10l-12 12l-4 12l4 15l12 14l22 13l30 8l35 3l34 0l35-3l30-8l22-13l12-14zM3764 7365l-5-16l-16-14l-26-10l-32-3l-32 1l-30 6l-22 13l-10 15l0 18l10 19l22 15l30 9l32 1l32-4l26-13l16-17zM4256 7365l-4-14l-15-13l-25-10l-34-5l-34-1l-35 3l-30 7l-20 12l-9 14l0 16l9 17l20 15l30 9l35 3l34-1l34-6l25-12l15-17zM4792 7365l-4-12l-12-11l-21-10l-30-6l-34-3l-35-1l-36 2l-33 5l-25 8l-17 11l-7 11l0 13l7 14l17 14l25 10l33 6l36 2l35-1l34-3l30-9l21-12l12-14zM5266 7365l-4-13l-14-13l-24-10l-34-6l-35-1l-35 1l-33 6l-25 10l-14 13l-4 13l4 16l14 16l25 13l33 6l35 2l35-2l34-6l24-13l14-16zM5746 7392l-5-23l-16-20l-22-16l-26-10l-25-2l-16 8l-6 14l6 19l16 23l25 20l26 12l22 2l16-9zM6290 7375l-4-14l-13-13l-24-12l-33-8l-35-4l-36-2l-35 1l-28 6l-19 10l-8 11l0 13l8 15l19 16l28 12l35 8l36 4l35 1l33-5l24-10l13-14zM6628 7347l-4-16l-10-9l-14-1l-15 8l-14 15l-9 19l-4 24l4 20l9 11l14 1l15-10l14-18l10-24zM7146 7327l-4-6l-11 2l-16 11l-17 16l-15 21l-10 23l-3 18l3 8l10-3l15-13l17-21l16-23l11-19z"/>
</g>
<use href="#ovg" transform="scale(.1)" fill="none" stroke="#40e0d0" stroke-opacity="0.55" stroke-width="6"/>
<use href="#ovv" transform="scale(.1)" fill="none" stroke="#ffa500" stroke-opacity="0.5" stroke-width="6"/>
<use href="#ogg" transform="scale(.1)" fill="none" stroke="#4169e1" stroke-opacity="0.44" stroke-width="6" stroke-dasharray="8 8"/>
<use href="#otot" transform="scale(.1)" fill="none" stroke="#8b0000" stroke-opacity="0.6" stroke-width="6" stroke-dasharray="8 8"/>
<path fill="none" stroke="#40e0d0" stroke-width="0.9" d="M45.9 52.2L46.8 52.0L47.6 51.8L48.5 51.4L49.3 50.9L50.1 50.1L51.0 49.1L51.8 47.8L52.6 46.1L53.5 44.1L54.3 41.6L55.1 38.6L56.0 35.3L56.8 31.6L57.6 27.6L58.5 23.5L59.3 19.4L60.1 15.6L61.0 12.2L61.8 9.4L62.6 7.4L63.5 6.3L64.3 6.2L65.2 7.0L66.0 8.6L66.8 11.0L67.7 14.0L68.5 17.4L69.3 21.2L70.2 25.1L71.0 29.0L71.8 32.7L72.7 36.1L73.5 39.2L74.3 42.0L75.2 44.3L76.0 46.2L76.8 47.8L77.7 49.1L78.5 50.0L79.4 50.8L80.2 51.3L81.0 51.7L81.9 52.0L82.7 52.2"/>
<path fill="none" stroke="#ffa500" stroke-width="0.9" d="M40.9 52.2L41.8 52.0L42.6 51.8L43.4 51.6L44.3 51.3L45.1 50.9L45.9 50.4L46.8 49.7L47.6 48.9L48.5 48.0L49.3 46.9L50.1 45.5L51.0 43.9L51.8 42.2L52.6 40.1L53.5 37.9L54.3 35.4L55.1 32.8L56.0 29.9L56.8 27.0L57.6 24.0L58.5 21.1L59.3 18.2L60.1 15.4L61.0 12.9L61.8 10.7L62.6 8.9L63.5 7.5L64.3 6.6L65.2 6.2L66.0 6.3L66.8 6.9L67.7 8.1L68.5 9.8L69.3 11.8L70.2 14.3L71.0 17.0L71.8 19.9L72.7 22.9L73.5 26.0L74.3 29.0L75.2 31.9L76.0 34.7L76.8 37.3L77.7 39.7L78.5 41.8L79.4 43.7L80.2 45.3L81.0 46.7L81.9 47.9L82.7 48.9L83.5 49.7L84.4 50.4L85.2 50.9L86.0 51.3L86.9 51.6L87.7 51.9L88.5 52.1L89.4 52.2"/>
<path fill="none" stroke="#4169e1" stroke-width="0.7" stroke-dasharray="1 1" d="M52.6 51.9L53.5 51.3L54.3 50.2L55.1 48.5L56.0 45.8L56.8 41.9L57.6 36.8L58.5 30.6L59.3 23.8L60.1 17.1L61.0 11.4L61.8 7.5L62.6 6.1L63.5 7.1L64.3 9.8L65.2 14.0L66.0 19.2L66.8 24.9L67.7 30.5L68.5 35.7L69.3 40.2L70.2 43.8L71.0 46.7L71.8 48.7L72.7 50.2L73.5 51.1L74.3 51.7L75.2 52.1"/>
<path fill="none" stroke="#8b0000" stroke-width="1.0" stroke-dasharray="1.6 1.2" d="M53.5 52.0L54.3 51.4L55.1 50.3L56.0 48.3L56.8 45.1L57.6 40.4L58.5 34.3L59.3 27.0L60.1 19.4L61.0 12.6L61.8 7.8L62.6 6.1L63.5 7.2L64.3 10.4L65.2 15.2L66.0 21.0L66.8 27.1L67.7 33.0L68.5 38.3L69.3 42.6L70.2 45.9L71.0 48.3L71.8 50.0L72.7 51.1L73.5 51.7L74.3 52.1"/>
<path fill="none" stroke="#40e0d0" stroke-width="0.9" d="M92.7 103.1L93.6 102.4L94.4 101.4L95.2 100.2L96.1 98.7L96.9 97.0L97.7 95.0L98.6 92.9L99.4 90.6L100.2 88.1L101.1 85.6L101.9 83.0L102.7 80.4L103.6 77.7L104.4 75.1L105.2 72.6L106.1 70.2L106.9 67.9L107.7 65.7L108.6 63.8L109.4 62.1L110.3 60.6L111.1 59.3L111.9 58.3L112.8 57.7L113.6 57.3L114.4 57.2L115.3 57.4L116.1 57.8L116.9 58.5L117.8 59.4L118.6 60.5L119.4 61.9L120.3 63.5L121.1 65.2L121.9 67.1L122.8 69.2L123.6 71.4L124.5 73.7L125.3 76.0L126.1 78.4L127.0 80.9L127.8 83.3L128.6 85.7L129.5 88.0L130.3 90.3L131.1 92.4L132.0 94.4L132.8 96.3L133.6 97.9L134.5 99.4L135.3 100.7L136.1 101.8L137.0 102.6L137.8 103.2"/>
<path fill="none" stroke="#ffa500" stroke-width="0.9" d="M92.7 103.1L93.6 102.4L94.4 101.4L95.2 100.1L96.1 98.6L96.9 96.8L97.7 94.8L98.6 92.7L99.4 90.3L100.2 87.9L101.1 85.3L101.9 82.6L102.7 80.0L103.6 77.3L104.4 74.7L105.2 72.2L106.1 69.7L106.9 67.4L107.7 65.3L108.6 63.4L109.4 61.7L110.3 60.2L111.1 59.0L111.9 58.1L112.8 57.5L113.6 57.2L114.4 57.2L115.3 57.5L116.1 58.0L116.9 58.7L117.8 59.7L118.6 60.9L119.4 62.3L120.3 63.8L121.1 65.6L121.9 67.6L122.8 69.6L123.6 71.8L124.5 74.1L125.3 76.4L126.1 78.8L127.0 81.2L127.8 83.6L128.6 86.0L129.5 88.3L130.3 90.5L131.1 92.6L132.0 94.6L132.8 96.4L133.6 98.0L134.5 99.5L135.3 100.8L136.1 101.8L137.0 102.6L137.8 103.2"/>
<path fill="none" stroke="#4169e1" stroke-width="0.7" stroke-dasharray="1 1" d="M92.7 103.1L93.6 102.4L94.4 101.3L95.2 100.1L96.1 98.5L96.9 96.7L97.7 94.7L98.6 92.4L99.4 90.1L100.2 87.5L101.1 84.9L101.9 82.3L102.7 79.6L103.6 76.9L104.4 74.2L105.2 71.7L106.1 69.3L106.9 67.0L107.7 64.9L108.6 63.0L109.4 61.3L110.3 59.9L111.1 58.8L111.9 57.9L112.8 57.4L113.6 57.2L114.4 57.3L115.3 57.6L116.1 58.2L116.9 59.0L117.8 60.0L118.6 61.3L119.4 62.8L120.3 64.5L121.1 66.4L121.9 68.4L122.8 70.5L123.6 72.8L124.5 75.1L125.3 77.5L126.1 79.9L127.0 82.3L127.8 84.7L128.6 87.1L129.5 89.4L130.3 91.6L131.1 93.6L132.0 95.5L132.8 97.3L133.6 98.9L134.5 100.2L135.3 101.4L136.1 102.3L137.0 103.0"/>
<path fill="none" stroke="#8b0000" stroke-width="1.0" stroke-dasharray="1.6 1.2" d="M92.7 103.1L93.6 102.4L94.4 101.3L95.2 100.1L96.1 98.5L96.9 96.7L97.7 94.7L98.6 92.4L99.4 90.1L100.2 87.5L101.1 84.9L101.9 82.3L102.7 79.6L103.6 76.9L104.4 74.2L105.2 71.7L106.1 69.3L106.9 67.0L107.7 64.9L108.6 63.0L109.4 61.3L110.3 59.9L111.1 58.8L111.9 57.9L112.8 57.4L113.6 57.2L114.4 57.3L115.3 57.6L116.1 58.2L116.9 59.0L117.8 60.0L118.6 61.3L119.4 62.8L120.3 64.5L121.1 66.4L121.9 68.4L122.8 70.5L123.6 72.8L124.5 75.1L125.3 77.5L126.1 79.9L127.0 82.3L127.8 84.7L128.6 87.1L129.5 89.4L130.3 91.6L131.1 93.6L132.0 95.5L132.8 97.3L133.6 98.9L134.5 100.2L135.3 101.4L136.1 102.3L137.0 103.0"/>
<path fill="none" stroke="#40e0d0" stroke-width="0.9" d="M142.8 153.9L143.7 153.1L144.5 152.1L145.3 150.9L146.2 149.4L147.0 147.7L147.8 145.9L148.7 143.9L149.5 141.7L150.3 139.4L151.2 137.1L152.0 134.6L152.8 132.2L153.7 129.7L154.5 127.2L155.4 124.8L156.2 122.5L157.0 120.3L157.9 118.1L158.7 116.2L159.5 114.4L160.4 112.8L161.2 111.5L162.0 110.3L162.9 109.4L163.7 108.7L164.5 108.4L165.4 108.2L166.2 108.4L167.0 108.7L167.9 109.4L168.7 110.3L169.6 111.5L170.4 112.8L171.2 114.4L172.1 116.2L172.9 118.1L173.7 120.3L174.6 122.5L175.4 124.8L176.2 127.2L177.1 129.7L177.9 132.2L178.7 134.6L179.6 137.1L180.4 139.4L181.2 141.7L182.1 143.9L182.9 145.9L183.7 147.7L184.6 149.4L185.4 150.9L186.3 152.1L187.1 153.1L187.9 153.9"/>
<path fill="none" stroke="#ffa500" stroke-width="0.9" d="M142.8 153.8L143.7 153.1L144.5 152.1L145.3 150.8L146.2 149.3L147.0 147.6L147.8 145.7L148.7 143.7L149.5 141.5L150.3 139.2L151.2 136.8L152.0 134.3L152.8 131.8L153.7 129.3L154.5 126.8L155.4 124.4L156.2 122.1L157.0 119.8L157.9 117.7L158.7 115.8L159.5 114.0L160.4 112.5L161.2 111.1L162.0 110.0L162.9 109.2L163.7 108.6L164.5 108.3L165.4 108.2L166.2 108.5L167.0 108.9L167.9 109.7L168.7 110.7L169.6 112.0L170.4 113.5L171.2 115.2L172.1 117.1L172.9 119.2L173.7 121.4L174.6 123.7L175.4 126.2L176.2 128.6L177.1 131.2L177.9 133.7L178.7 136.2L179.6 138.6L180.4 141.0L181.2 143.2L182.1 145.3L182.9 147.3L183.7 149.0L184.6 150.6L185.4 151.9L186.3 152.9L187.1 153.8L187.9 154.3"/>
<path fill="none" stroke="#4169e1" stroke-width="0.7" stroke-dasharray="1 1" d="M143.7 153.9L144.5 153.2L145.3 152.1L146.2 150.8L147.0 149.3L147.8 147.5L148.7 145.6L149.5 143.5L150.3 141.2L151.2 138.8L152.0 136.3L152.8 133.7L153.7 131.2L154.5 128.6L155.4 126.0L156.2 123.6L157.0 121.2L157.9 118.9L158.7 116.8L159.5 114.9L160.4 113.2L161.2 111.7L162.0 110.5L162.9 109.5L163.7 108.8L164.5 108.4L165.4 108.2L166.2 108.4L167.0 108.8L167.9 109.5L168.7 110.4L169.6 111.6L170.4 113.0L171.2 114.7L172.1 116.5L172.9 118.5L173.7 120.7L174.6 123.0L175.4 125.4L176.2 127.9L177.1 130.4L177.9 132.9L178.7 135.4L179.6 137.9L180.4 140.3L181.2 142.6L182.1 144.7L182.9 146.7L183.7 148.5L184.6 150.1L185.4 151.5L186.3 152.7L187.1 153.5L187.9 154.2"/>
<path fill="none" stroke="#8b0000" stroke-width="1.0" stroke-dasharray="1.6 1.2" d="M145.3 154.1L146.2 153.3L147.0 152.3L147.8 150.9L148.7 149.3L149.5 147.4L150.3 145.3L151.2 143.0L152.0 140.6L152.8 138.0L153.7 135.3L154.5 132.5L155.4 129.8L156.2 127.0L157.0 124.4L157.9 121.8L158.7 119.3L159.5 117.1L160.4 115.0L161.2 113.2L162.0 111.6L162.9 110.3L163.7 109.3L164.5 108.6L165.4 108.3L166.2 108.2L167.0 108.5L167.9 109.0L168.7 109.9L169.6 111.0L170.4 112.3L171.2 113.9L172.1 115.7L172.9 117.7L173.7 119.8L174.6 122.1L175.4 124.5L176.2 127.1L177.1 129.6L177.9 132.2L178.7 134.8L179.6 137.3L180.4 139.8L181.2 142.1L182.1 144.3L182.9 146.4L183.7 148.3L184.6 149.9L185.4 151.4L186.3 152.6L187.1 153.5L187.9 154.2"/>
<path fill="none" stroke="#40e0d0" stroke-width="0.9" d="M193.8 205.3L194.6 205.1L195.4 204.9L196.3 204.6L197.1 204.2L197.9 203.6L198.8 202.9L199.6 201.9L200.5 200.8L201.3 199.3L202.1 197.6L203.0 195.5L203.8 193.1L204.6 190.5L205.5 187.5L206.3 184.2L207.1 180.8L208.0 177.3L208.8 173.8L209.6 170.4L210.5 167.3L211.3 164.5L212.1 162.3L213.0 160.6L213.8 159.6L214.6 159.3L215.5 159.6L216.3 160.6L217.2 162.2L218.0 164.2L218.8 166.7L219.7 169.6L220.5 172.6L221.3 175.9L222.2 179.2L223.0 182.4L223.8 185.5L224.7 188.4L225.5 191.1L226.3 193.6L227.2 195.8L228.0 197.6L228.8 199.3L229.7 200.6L230.5 201.7L231.4 202.7L232.2 203.4L233.0 204.0L233.9 204.4L234.7 204.8L235.5 205.0L236.4 205.2L237.2 205.3"/>
<path fill="none" stroke="#ffa500" stroke-width="0.9" d="M197.9 205.3L198.8 205.1L199.6 204.7L200.5 204.1L201.3 203.2L202.1 202.0L203.0 200.4L203.8 198.2L204.6 195.4L205.5 192.0L206.3 188.0L207.1 183.5L208.0 178.7L208.8 173.8L209.6 169.2L210.5 165.1L211.3 162.0L212.1 160.0L213.0 159.3L213.8 159.9L214.6 161.6L215.5 164.3L216.3 167.9L217.2 172.0L218.0 176.4L218.8 180.9L219.7 185.3L220.5 189.3L221.3 192.8L222.2 195.8L223.0 198.4L223.8 200.4L224.7 201.9L225.5 203.1L226.3 203.9L227.2 204.5L228.0 204.9L228.8 205.2"/>
<path fill="none" stroke="#4169e1" stroke-width="0.7" stroke-dasharray="1 1" d="M201.3 205.1L202.1 204.7L203.0 204.1L203.8 203.2L204.6 201.8L205.5 199.9L206.3 197.4L207.1 194.1L208.0 190.1L208.8 185.4L209.6 180.3L210.5 175.0L211.3 169.8L212.1 165.3L213.0 161.9L213.8 159.8L214.6 159.3L215.5 160.5L216.3 163.4L217.2 167.6L218.0 172.6L218.8 178.1L219.7 183.5L220.5 188.5L221.3 192.9L222.2 196.5L223.0 199.4L223.8 201.5L224.7 203.0L225.5 204.0L226.3 204.7L227.2 205.1"/>
<path fill="none" stroke="#8b0000" stroke-width="1.0" stroke-dasharray="1.6 1.2" d="M202.1 205.3L203.0 205.0L203.8 204.4L204.6 203.5L205.5 202.0L206.3 199.9L207.1 196.9L208.0 193.0L208.8 188.1L209.6 182.5L210.5 176.4L211.3 170.5L212.1 165.3L213.0 161.5L213.8 159.5L214.6 159.6L215.5 162.1L216.3 166.5L217.2 172.3L218.0 178.7L218.8 184.9L219.7 190.5L220.5 195.2L221.3 198.8L222.2 201.4L223.0 203.1L223.8 204.2L224.7 204.9L225.5 205.3"/>
<path fill="none" stroke="#40e0d0" stroke-width="0.9" d="M243.0 256.3L243.9 255.7L244.7 254.9L245.6 253.8L246.4 252.6L247.2 251.1L248.1 249.4L248.9 247.5L249.7 245.5L250.6 243.4L251.4 241.1L252.2 238.8L253.1 236.4L253.9 234.0L254.7 231.6L255.6 229.2L256.4 226.8L257.2 224.5L258.1 222.3L258.9 220.3L259.7 218.3L260.6 216.6L261.4 215.0L262.3 213.7L263.1 212.5L263.9 211.6L264.8 210.9L265.6 210.5L266.4 210.3L267.3 210.4L268.1 210.8L268.9 211.4L269.8 212.3L270.6 213.5L271.4 215.0L272.3 216.6L273.1 218.5L273.9 220.6L274.8 222.8L275.6 225.2L276.5 227.6L277.3 230.2L278.1 232.7L279.0 235.3L279.8 237.9L280.6 240.4L281.5 242.8L282.3 245.1L283.1 247.3L284.0 249.3L284.8 251.0L285.6 252.6L286.5 254.0L287.3 255.1L288.1 255.9"/>
<path fill="none" stroke="#ffa500" stroke-width="0.9" d="M243.0 256.2L243.9 255.5L244.7 254.6L245.6 253.3L246.4 251.8L247.2 250.1L248.1 248.1L248.9 246.0L249.7 243.7L250.6 241.3L251.4 238.7L252.2 236.1L253.1 233.5L253.9 230.9L254.7 228.3L255.6 225.7L256.4 223.3L257.2 221.0L258.1 218.9L258.9 216.9L259.7 215.2L260.6 213.7L261.4 212.4L262.3 211.5L263.1 210.8L263.9 210.4L264.8 210.3L265.6 210.5L266.4 211.1L267.3 212.0L268.1 213.1L268.9 214.6L269.8 216.3L270.6 218.3L271.4 220.5L272.3 222.9L273.1 225.4L273.9 228.0L274.8 230.7L275.6 233.5L276.5 236.3L277.3 239.0L278.1 241.6L279.0 244.1L279.8 246.5L280.6 248.7L281.5 250.7L282.3 252.4L283.1 253.9L284.0 255.0L284.8 255.9"/>
<path fill="none" stroke="#4169e1" stroke-width="0.7" stroke-dasharray="1 1" d="M243.9 256.3L244.7 255.8L245.6 254.9L246.4 253.8L247.2 252.5L248.1 250.9L248.9 249.2L249.7 247.2L250.6 245.1L251.4 242.8L252.2 240.5L253.1 238.0L253.9 235.5L254.7 233.0L255.6 230.5L256.4 228.0L257.2 225.6L258.1 223.2L258.9 221.0L259.7 219.0L260.6 217.1L261.4 215.4L262.3 213.9L263.1 212.7L263.9 211.7L264.8 211.0L265.6 210.5L266.4 210.3L267.3 210.4L268.1 210.8L268.9 211.4L269.8 212.3L270.6 213.5L271.4 215.0L272.3 216.6L273.1 218.5L273.9 220.6L274.8 222.8L275.6 225.2L276.5 227.6L277.3 230.2L278.1 232.7L279.0 235.3L279.8 237.9L280.6 240.4L281.5 242.8L282.3 245.1L283.1 247.3L284.0 249.3L284.8 251.0L285.6 252.6L286.5 254.0L287.3 255.1L288.1 255.9"/>
<path fill="none" stroke="#8b0000" stroke-width="1.0" stroke-dasharray="1.6 1.2" d="M247.2 256.3L248.1 256.1L248.9 255.8L249.7 255.4L250.6 254.8L251.4 253.9L252.2 252.9L253.1 251.4L253.9 249.7L254.7 247.5L255.6 244.8L256.4 241.8L257.2 238.4L258.1 234.6L258.9 230.6L259.7 226.5L260.6 222.5L261.4 218.8L262.3 215.6L263.1 213.0L263.9 211.2L264.8 210.4L265.6 210.5L266.4 211.5L267.3 213.5L268.1 216.2L268.9 219.5L269.8 223.3L270.6 227.3L271.4 231.4L272.3 235.4L273.1 239.1L273.9 242.4L274.8 245.4L275.6 247.9L276.5 250.0L277.3 251.8L278.1 253.1L279.0 254.1L279.8 254.9L280.6 255.5L281.5 255.9L282.3 256.2L283.1 256.4"/>
<path fill="none" stroke="#40e0d0" stroke-width="0.9" d="M293.2 307.0L294.0 306.2L294.8 305.2L295.7 304.0L296.5 302.5L297.3 300.9L298.2 299.0L299.0 297.0L299.8 294.8L300.7 292.6L301.5 290.2L302.3 287.8L303.2 285.3L304.0 282.8L304.8 280.3L305.7 277.9L306.5 275.6L307.4 273.4L308.2 271.3L309.0 269.3L309.9 267.5L310.7 265.9L311.5 264.6L312.4 263.4L313.2 262.5L314.0 261.9L314.9 261.5L315.7 261.3L316.5 261.5L317.4 261.8L318.2 262.5L319.0 263.3L319.9 264.4L320.7 265.8L321.6 267.3L322.4 269.0L323.2 270.9L324.1 272.9L324.9 275.1L325.7 277.4L326.6 279.7L327.4 282.1L328.2 284.5L329.1 287.0L329.9 289.4L330.7 291.7L331.6 294.0L332.4 296.1L333.2 298.2L334.1 300.1L334.9 301.8L335.7 303.3L336.6 304.6L337.4 305.7L338.3 306.6L339.1 307.2"/>
<path fill="none" stroke="#ffa500" stroke-width="0.9" d="M293.2 307.2L294.0 306.5L294.8 305.5L295.7 304.4L296.5 303.0L297.3 301.4L298.2 299.6L299.0 297.6L299.8 295.5L300.7 293.2L301.5 290.9L302.3 288.5L303.2 286.0L304.0 283.5L304.8 281.1L305.7 278.7L306.5 276.3L307.4 274.0L308.2 271.9L309.0 269.9L309.9 268.0L310.7 266.4L311.5 265.0L312.4 263.7L313.2 262.8L314.0 262.0L314.9 261.6L315.7 261.4L316.5 261.4L317.4 261.7L318.2 262.3L319.0 263.1L319.9 264.1L320.7 265.4L321.6 266.8L322.4 268.5L323.2 270.3L324.1 272.3L324.9 274.4L325.7 276.7L326.6 279.0L327.4 281.4L328.2 283.8L329.1 286.2L329.9 288.6L330.7 291.0L331.6 293.3L332.4 295.5L333.2 297.6L334.1 299.5L334.9 301.3L335.7 302.9L336.6 304.3L337.4 305.4L338.3 306.4L339.1 307.1"/>
<path fill="none" stroke="#4169e1" stroke-width="0.7" stroke-dasharray="1 1" d="M293.2 307.3L294.0 306.7L294.8 305.8L295.7 304.6L296.5 303.2L297.3 301.6L298.2 299.8L299.0 297.8L299.8 295.7L300.7 293.4L301.5 291.0L302.3 288.6L303.2 286.1L304.0 283.5L304.8 281.0L305.7 278.5L306.5 276.1L307.4 273.8L308.2 271.7L309.0 269.6L309.9 267.8L310.7 266.1L311.5 264.7L312.4 263.5L313.2 262.6L314.0 261.9L314.9 261.5L315.7 261.3L316.5 261.5L317.4 261.8L318.2 262.5L319.0 263.3L319.9 264.4L320.7 265.8L321.6 267.3L322.4 269.0L323.2 270.9L324.1 272.9L324.9 275.1L325.7 277.4L326.6 279.7L327.4 282.1L328.2 284.5L329.1 287.0L329.9 289.4L330.7 291.7L331.6 294.0L332.4 296.1L333.2 298.2L334.1 300.1L334.9 301.8L335.7 303.3L336.6 304.6L337.4 305.7L338.3 306.6L339.1 307.2"/>
<path fill="none" stroke="#8b0000" stroke-width="1.0" stroke-dasharray="1.6 1.2" d="M295.7 307.2L296.5 306.5L297.3 305.4L298.2 304.1L299.0 302.4L299.8 300.5L300.7 298.4L301.5 296.1L302.3 293.7L303.2 291.1L304.0 288.4L304.8 285.6L305.7 282.9L306.5 280.1L307.4 277.5L308.2 274.9L309.0 272.5L309.9 270.2L310.7 268.1L311.5 266.3L312.4 264.7L313.2 263.4L314.0 262.4L314.9 261.8L315.7 261.4L316.5 261.4L317.4 261.6L318.2 262.1L319.0 262.9L319.9 264.0L320.7 265.2L321.6 266.8L322.4 268.5L323.2 270.4L324.1 272.5L324.9 274.7L325.7 277.1L326.6 279.5L327.4 282.0L328.2 284.5L329.1 287.1L329.9 289.6L330.7 292.0L331.6 294.3L332.4 296.6L333.2 298.7L334.1 300.6L334.9 302.3L335.7 303.8L336.6 305.1L337.4 306.2L338.3 306.9"/>
<path fill="none" stroke="#40e0d0" stroke-width="0.9" d="M340.8 358.5L341.6 358.3L342.4 358.2L343.3 357.9L344.1 357.7L344.9 357.3L345.8 356.8L346.6 356.2L347.4 355.5L348.3 354.6L349.1 353.6L349.9 352.3L350.8 350.8L351.6 349.1L352.5 347.2L353.3 345.0L354.1 342.7L355.0 340.1L355.8 337.3L356.6 334.4L357.5 331.5L358.3 328.5L359.1 325.6L360.0 322.7L360.8 320.1L361.6 317.8L362.5 315.8L363.3 314.2L364.1 313.1L365.0 312.5L365.8 312.4L366.7 312.8L367.5 313.6L368.3 314.9L369.2 316.6L370.0 318.6L370.8 320.9L371.7 323.4L372.5 326.1L373.3 328.9L374.2 331.8L375.0 334.6L375.8 337.3L376.7 340.0L377.5 342.4L378.3 344.7L379.2 346.8L380.0 348.7L380.8 350.4L381.7 351.8L382.5 353.1L383.4 354.2L384.2 355.1L385.0 355.9L385.9 356.5L386.7 357.0L387.5 357.4L388.4 357.7L389.2 358.0L390.0 358.2L390.9 358.4"/>
<path fill="none" stroke="#ffa500" stroke-width="0.9" d="M340.8 357.7L341.6 357.3L342.4 356.9L343.3 356.4L344.1 355.8L344.9 355.1L345.8 354.2L346.6 353.2L347.4 352.0L348.3 350.7L349.1 349.1L349.9 347.4L350.8 345.5L351.6 343.4L352.5 341.1L353.3 338.7L354.1 336.1L355.0 333.5L355.8 330.8L356.6 328.1L357.5 325.5L358.3 322.9L359.1 320.6L360.0 318.4L360.8 316.5L361.6 314.9L362.5 313.7L363.3 312.9L364.1 312.4L365.0 312.4L365.8 312.9L366.7 313.7L367.5 314.9L368.3 316.5L369.2 318.4L370.0 320.6L370.8 322.9L371.7 325.5L372.5 328.1L373.3 330.8L374.2 333.5L375.0 336.1L375.8 338.7L376.7 341.1L377.5 343.4L378.3 345.5L379.2 347.4L380.0 349.1L380.8 350.7L381.7 352.0L382.5 353.2L383.4 354.2L384.2 355.1L385.0 355.8L385.9 356.4L386.7 356.9L387.5 357.3L388.4 357.7L389.2 357.9L390.0 358.1L390.9 358.3"/>
<path fill="none" stroke="#4169e1" stroke-width="0.7" stroke-dasharray="1 1" d="M344.1 358.4L344.9 358.3L345.8 358.1L346.6 357.8L347.4 357.4L348.3 356.9L349.1 356.3L349.9 355.5L350.8 354.5L351.6 353.2L352.5 351.7L353.3 349.9L354.1 347.9L355.0 345.5L355.8 342.9L356.6 340.0L357.5 336.9L358.3 333.6L359.1 330.3L360.0 327.0L360.8 323.8L361.6 320.8L362.5 318.1L363.3 315.8L364.1 314.1L365.0 312.9L365.8 312.4L366.7 312.5L367.5 313.2L368.3 314.3L369.2 316.0L370.0 318.1L370.8 320.5L371.7 323.2L372.5 326.1L373.3 329.2L374.2 332.2L375.0 335.3L375.8 338.2L376.7 341.0L377.5 343.5L378.3 345.9L379.2 348.0L380.0 349.9L380.8 351.5L381.7 353.0L382.5 354.1L383.4 355.1L384.2 355.9L385.0 356.6L385.9 357.1L386.7 357.5L387.5 357.9L388.4 358.1L389.2 358.3L390.0 358.4"/>
<path fill="none" stroke="#8b0000" stroke-width="1.0" stroke-dasharray="1.6 1.2" d="M349.9 358.4L350.8 358.1L351.6 357.7L352.5 357.2L353.3 356.5L354.1 355.5L355.0 354.2L355.8 352.5L356.6 350.4L357.5 347.8L358.3 344.7L359.1 341.2L360.0 337.3L360.8 333.2L361.6 328.9L362.5 324.8L363.3 320.9L364.1 317.5L365.0 314.9L365.8 313.1L366.7 312.4L367.5 312.6L368.3 313.7L369.2 315.4L370.0 317.8L370.8 320.7L371.7 324.0L372.5 327.6L373.3 331.3L374.2 335.0L375.0 338.5L375.8 341.8L376.7 344.8L377.5 347.5L378.3 349.8L379.2 351.7L380.0 353.4L380.8 354.7L381.7 355.7L382.5 356.6L383.4 357.2L384.2 357.7L385.0 358.0L385.9 358.3L386.7 358.4"/>
<path fill="none" stroke="#40e0d0" stroke-width="0.9" d="M393.4 409.5L394.2 408.9L395.0 408.0L395.9 406.8L396.7 405.4L397.6 403.8L398.4 401.9L399.2 399.8L400.1 397.5L400.9 395.1L401.7 392.6L402.6 390.0L403.4 387.4L404.2 384.8L405.1 382.2L405.9 379.6L406.7 377.1L407.6 374.8L408.4 372.6L409.2 370.6L410.1 368.8L410.9 367.2L411.7 365.9L412.6 364.8L413.4 364.1L414.3 363.6L415.1 363.4L415.9 363.5L416.8 363.9L417.6 364.5L418.4 365.4L419.3 366.5L420.1 367.9L420.9 369.4L421.8 371.2L422.6 373.1L423.4 375.2L424.3 377.5L425.1 379.8L425.9 382.2L426.8 384.6L427.6 387.1L428.5 389.6L429.3 392.0L430.1 394.4L431.0 396.7L431.8 398.9L432.6 400.9L433.5 402.8L434.3 404.4L435.1 405.9L436.0 407.2L436.8 408.2L437.6 409.0"/>
<path fill="none" stroke="#ffa500" stroke-width="0.9" d="M393.4 409.5L394.2 408.8L395.0 407.9L395.9 406.7L396.7 405.2L397.6 403.5L398.4 401.5L399.2 399.4L400.1 397.0L400.9 394.6L401.7 392.0L402.6 389.3L403.4 386.6L404.2 383.9L405.1 381.3L405.9 378.7L406.7 376.2L407.6 373.9L408.4 371.7L409.2 369.7L410.1 368.0L410.9 366.5L411.7 365.3L412.6 364.4L413.4 363.8L414.3 363.5L415.1 363.5L415.9 363.7L416.8 364.3L417.6 365.2L418.4 366.3L419.3 367.6L420.1 369.2L420.9 371.1L421.8 373.1L422.6 375.2L423.4 377.6L424.3 380.0L425.1 382.5L425.9 385.1L426.8 387.7L427.6 390.2L428.5 392.7L429.3 395.2L430.1 397.5L431.0 399.7L431.8 401.8L432.6 403.7L433.5 405.3L434.3 406.7L435.1 407.9L436.0 408.8L436.8 409.4"/>
<path fill="none" stroke="#4169e1" stroke-width="0.7" stroke-dasharray="1 1" d="M394.2 409.1L395.0 408.2L395.9 407.1L396.7 405.7L397.6 404.0L398.4 402.1L399.2 400.0L400.1 397.7L400.9 395.3L401.7 392.8L402.6 390.1L403.4 387.4L404.2 384.7L405.1 382.1L405.9 379.5L406.7 376.9L407.6 374.6L408.4 372.3L409.2 370.3L410.1 368.5L410.9 366.9L411.7 365.7L412.6 364.6L413.4 363.9L414.3 363.5L415.1 363.4L415.9 363.6L416.8 364.1L417.6 364.8L418.4 365.8L419.3 367.1L420.1 368.5L420.9 370.2L421.8 372.1L422.6 374.2L423.4 376.4L424.3 378.7L425.1 381.1L425.9 383.6L426.8 386.1L427.6 388.6L428.5 391.1L429.3 393.6L430.1 396.0L431.0 398.2L431.8 400.3L432.6 402.3L433.5 404.1L434.3 405.6L435.1 407.0L436.0 408.1L436.8 408.9L437.6 409.5"/>
<path fill="none" stroke="#8b0000" stroke-width="1.0" stroke-dasharray="1.6 1.2" d="M397.6 408.9L398.4 407.8L399.2 406.3L400.1 404.4L400.9 402.1L401.7 399.6L402.6 396.8L403.4 393.8L404.2 390.6L405.1 387.4L405.9 384.2L406.7 381.0L407.6 377.9L408.4 375.0L409.2 372.3L410.1 369.9L410.9 367.9L411.7 366.1L412.6 364.8L413.4 363.9L414.3 363.5L415.1 363.5L415.9 363.9L416.8 364.7L417.6 366.0L418.4 367.6L419.3 369.6L420.1 371.9L420.9 374.5L421.8 377.3L422.6 380.2L423.4 383.3L424.3 386.5L425.1 389.6L425.9 392.7L426.8 395.7L427.6 398.5L428.5 401.1L429.3 403.4L430.1 405.4L431.0 407.1L431.8 408.4L432.6 409.3"/>
<path fill="none" stroke="#40e0d0" stroke-width="0.9" d="M443.5 460.1L444.3 459.3L445.2 458.3L446.0 457.1L446.8 455.6L447.7 454.0L448.5 452.1L449.3 450.1L450.2 447.9L451.0 445.7L451.8 443.3L452.7 440.9L453.5 438.4L454.3 435.9L455.2 433.5L456.0 431.1L456.8 428.7L457.7 426.5L458.5 424.4L459.4 422.4L460.2 420.7L461.0 419.1L461.9 417.7L462.7 416.5L463.5 415.6L464.4 415.0L465.2 414.6L466.0 414.5L466.9 414.6L467.7 415.0L468.5 415.7L469.4 416.7L470.2 418.0L471.0 419.5L471.9 421.2L472.7 423.1L473.6 425.2L474.4 427.4L475.2 429.8L476.1 432.3L476.9 434.8L477.7 437.4L478.6 440.0L479.4 442.5L480.2 445.0L481.1 447.4L481.9 449.7L482.7 451.8L483.6 453.8L484.4 455.5L485.2 457.1L486.1 458.4L486.9 459.4L487.7 460.2"/>
<path fill="none" stroke="#ffa500" stroke-width="0.9" d="M445.2 460.3L446.0 459.6L446.8 458.6L447.7 457.4L448.5 455.9L449.3 454.2L450.2 452.2L451.0 450.1L451.8 447.9L452.7 445.5L453.5 443.0L454.3 440.5L455.2 437.9L456.0 435.3L456.8 432.8L457.7 430.3L458.5 427.9L459.4 425.6L460.2 423.5L461.0 421.5L461.9 419.8L462.7 418.2L463.5 417.0L464.4 415.9L465.2 415.2L466.0 414.7L466.9 414.5L467.7 414.5L468.5 414.9L469.4 415.5L470.2 416.4L471.0 417.6L471.9 419.0L472.7 420.6L473.6 422.4L474.4 424.4L475.2 426.5L476.1 428.8L476.9 431.2L477.7 433.6L478.6 436.1L479.4 438.7L480.2 441.2L481.1 443.7L481.9 446.1L482.7 448.4L483.6 450.5L484.4 452.6L485.2 454.4L486.1 456.1L486.9 457.5L487.7 458.7L488.6 459.6L489.4 460.3"/>
<path fill="none" stroke="#4169e1" stroke-width="0.7" stroke-dasharray="1 1" d="M444.3 460.3L445.2 459.7L446.0 458.7L446.8 457.5L447.7 456.0L448.5 454.3L449.3 452.4L450.2 450.4L451.0 448.1L451.8 445.8L452.7 443.3L453.5 440.8L454.3 438.2L455.2 435.6L456.0 433.0L456.8 430.5L457.7 428.1L458.5 425.8L459.4 423.7L460.2 421.7L461.0 419.9L461.9 418.4L462.7 417.1L463.5 416.0L464.4 415.2L465.2 414.7L466.0 414.5L466.9 414.5L467.7 414.9L468.5 415.5L469.4 416.4L470.2 417.6L471.0 419.0L471.9 420.6L472.7 422.5L473.6 424.5L474.4 426.7L475.2 429.1L476.1 431.5L476.9 434.1L477.7 436.6L478.6 439.2L479.4 441.8L480.2 444.3L481.1 446.7L481.9 449.0L482.7 451.2L483.6 453.2L484.4 455.0L485.2 456.6L486.1 458.0L486.9 459.1L487.7 460.0L488.6 460.5"/>
<path fill="none" stroke="#8b0000" stroke-width="1.0" stroke-dasharray="1.6 1.2" d="M446.0 460.3L446.8 459.6L447.7 458.5L448.5 457.2L449.3 455.5L450.2 453.7L451.0 451.6L451.8 449.3L452.7 446.8L453.5 444.2L454.3 441.5L455.2 438.8L456.0 436.0L456.8 433.3L457.7 430.6L458.5 428.0L459.4 425.6L460.2 423.3L461.0 421.3L461.9 419.4L462.7 417.8L463.5 416.6L464.4 415.6L465.2 414.9L466.0 414.5L466.9 414.5L467.7 414.8L468.5 415.3L469.4 416.2L470.2 417.3L471.0 418.7L471.9 420.3L472.7 422.2L473.6 424.3L474.4 426.5L475.2 428.9L476.1 431.4L476.9 434.0L477.7 436.6L478.6 439.2L479.4 441.9L480.2 444.4L481.1 446.9L481.9 449.3L482.7 451.5L483.6 453.5L484.4 455.3L485.2 456.9L486.1 458.3L486.9 459.3L487.7 460.1"/>
<path fill="none" stroke="#40e0d0" stroke-width="0.9" d="M494.4 511.5L495.3 510.8L496.1 509.9L496.9 508.7L497.8 507.1L498.6 505.4L499.4 503.4L500.3 501.2L501.1 498.9L501.9 496.4L502.8 493.8L503.6 491.1L504.5 488.4L505.3 485.7L506.1 483.1L507.0 480.5L507.8 478.0L508.6 475.7L509.5 473.6L510.3 471.6L511.1 469.9L512.0 468.5L512.8 467.3L513.6 466.4L514.5 465.8L515.3 465.5L516.1 465.5L517.0 465.8L517.8 466.4L518.7 467.1L519.5 468.1L520.3 469.4L521.2 470.8L522.0 472.5L522.8 474.3L523.7 476.3L524.5 478.4L525.3 480.6L526.2 482.9L527.0 485.3L527.8 487.7L528.7 490.2L529.5 492.6L530.3 494.9L531.2 497.2L532.0 499.4L532.8 501.5L533.7 503.5L534.5 505.3L535.4 506.9L536.2 508.3L537.0 509.5L537.9 510.4L538.7 511.2"/>
<path fill="none" stroke="#ffa500" stroke-width="0.9" d="M492.8 511.2L493.6 510.4L494.4 509.2L495.3 507.7L496.1 506.0L496.9 504.0L497.8 501.7L498.6 499.3L499.4 496.7L500.3 494.0L501.1 491.2L501.9 488.4L502.8 485.6L503.6 482.8L504.5 480.1L505.3 477.6L506.1 475.2L507.0 473.0L507.8 471.0L508.6 469.4L509.5 467.9L510.3 466.8L511.1 466.1L512.0 465.6L512.8 465.5L513.6 465.7L514.5 466.1L515.3 466.7L516.1 467.6L517.0 468.7L517.8 470.0L518.7 471.6L519.5 473.2L520.3 475.1L521.2 477.1L522.0 479.2L522.8 481.4L523.7 483.7L524.5 486.1L525.3 488.5L526.2 490.8L527.0 493.2L527.8 495.5L528.7 497.7L529.5 499.9L530.3 501.9L531.2 503.8L532.0 505.5L532.8 507.1L533.7 508.4L534.5 509.6L535.4 510.5L536.2 511.2"/>
<path fill="none" stroke="#4169e1" stroke-width="0.7" stroke-dasharray="1 1" d="M494.4 511.1L495.3 510.2L496.1 509.1L496.9 507.6L497.8 505.9L498.6 503.9L499.4 501.7L500.3 499.3L501.1 496.8L501.9 494.2L502.8 491.5L503.6 488.7L504.5 485.9L505.3 483.2L506.1 480.6L507.0 478.1L507.8 475.7L508.6 473.5L509.5 471.5L510.3 469.8L511.1 468.3L512.0 467.2L512.8 466.3L513.6 465.7L514.5 465.5L515.3 465.6L516.1 465.9L517.0 466.6L517.8 467.5L518.7 468.6L519.5 470.0L520.3 471.6L521.2 473.4L522.0 475.4L522.8 477.5L523.7 479.8L524.5 482.2L525.3 484.7L526.2 487.2L527.0 489.7L527.8 492.2L528.7 494.7L529.5 497.1L530.3 499.4L531.2 501.6L532.0 503.6L532.8 505.5L533.7 507.1L534.5 508.5L535.4 509.7L536.2 510.7L537.0 511.4"/>
<path fill="none" stroke="#8b0000" stroke-width="1.0" stroke-dasharray="1.6 1.2" d="M498.6 510.9L499.4 509.8L500.3 508.2L501.1 506.3L501.9 504.0L502.8 501.4L503.6 498.6L504.5 495.6L505.3 492.4L506.1 489.2L507.0 486.0L507.8 482.8L508.6 479.7L509.5 476.8L510.3 474.2L511.1 471.8L512.0 469.7L512.8 468.1L513.6 466.8L514.5 465.9L515.3 465.5L516.1 465.6L517.0 466.0L517.8 466.8L518.7 467.9L519.5 469.4L520.3 471.2L521.2 473.3L522.0 475.6L522.8 478.1L523.7 480.9L524.5 483.7L525.3 486.6L526.2 489.6L527.0 492.5L527.8 495.4L528.7 498.2L529.5 500.8L530.3 503.2L531.2 505.4L532.0 507.3L532.8 508.9L533.7 510.2L534.5 511.1"/>
<path fill="none" stroke="#40e0d0" stroke-width="0.9" d="M550.4 562.6L551.2 562.4L552.1 562.1L552.9 561.7L553.7 561.1L554.6 560.3L555.4 559.3L556.2 558.0L557.1 556.4L557.9 554.3L558.7 551.9L559.6 549.1L560.4 545.8L561.2 542.3L562.1 538.4L562.9 534.5L563.7 530.5L564.6 526.8L565.4 523.4L566.3 520.5L567.1 518.4L567.9 517.0L568.8 516.5L569.6 517.1L570.4 518.7L571.3 521.3L572.1 524.7L572.9 528.7L573.8 533.0L574.6 537.3L575.4 541.6L576.3 545.6L577.1 549.1L577.9 552.2L578.8 554.9L579.6 557.0L580.5 558.6L581.3 559.9L582.1 560.9L583.0 561.5L583.8 562.0L584.6 562.4L585.5 562.6"/>
<path fill="none" stroke="#ffa500" stroke-width="0.9" d="M548.7 562.6L549.6 562.4L550.4 562.1L551.2 561.8L552.1 561.3L552.9 560.7L553.7 559.8L554.6 558.7L555.4 557.4L556.2 555.7L557.1 553.7L557.9 551.4L558.7 548.7L559.6 545.6L560.4 542.3L561.2 538.8L562.1 535.1L562.9 531.4L563.7 527.9L564.6 524.6L565.4 521.7L566.3 519.4L567.1 517.7L567.9 516.7L568.8 516.6L569.6 517.8L570.4 520.3L571.3 524.0L572.1 528.5L572.9 533.4L573.8 538.4L574.6 543.2L575.4 547.6L576.3 551.4L577.1 554.5L577.9 557.0L578.8 558.9L579.6 560.2L580.5 561.2L581.3 561.9L582.1 562.3L583.0 562.6"/>
<path fill="none" stroke="#4169e1" stroke-width="0.7" stroke-dasharray="1 1" d="M554.6 562.5L555.4 562.2L556.2 561.7L557.1 560.9L557.9 559.9L558.7 558.3L559.6 556.3L560.4 553.6L561.2 550.3L562.1 546.3L562.9 541.8L563.7 536.9L564.6 531.9L565.4 527.1L566.3 522.8L567.1 519.4L567.9 517.3L568.8 516.5L569.6 517.5L570.4 520.1L571.3 524.2L572.1 529.3L572.9 534.9L573.8 540.5L574.6 545.7L575.4 550.2L576.3 553.9L577.1 556.8L577.9 558.9L578.8 560.4L579.6 561.4L580.5 562.0L581.3 562.4"/>
<path fill="none" stroke="#8b0000" stroke-width="1.0" stroke-dasharray="1.6 1.2" d="M561.2 562.4L562.1 561.6L562.9 559.9L563.7 556.7L564.6 551.4L565.4 543.9L566.3 534.8L567.1 525.8L567.9 519.0L568.8 516.5L569.6 518.3L570.4 523.2L571.3 530.2L572.1 537.9L572.9 545.3L573.8 551.4L574.6 555.9L575.4 559.0L576.3 560.9L577.1 562.0L577.9 562.5"/>
<path fill="none" stroke="#40e0d0" stroke-width="0.9" d="M593.8 613.6L594.7 613.0L595.5 612.2L596.3 611.1L597.2 609.8L598.0 608.3L598.8 606.7L599.7 604.8L600.5 602.8L601.3 600.7L602.2 598.4L603.0 596.1L603.8 593.7L604.7 591.3L605.5 588.8L606.3 586.4L607.2 584.1L608.0 581.8L608.8 579.6L609.7 577.5L610.5 575.6L611.4 573.9L612.2 572.3L613.0 570.9L613.9 569.8L614.7 568.9L615.5 568.2L616.4 567.8L617.2 567.6L618.0 567.7L618.9 568.1L619.7 568.7L620.5 569.7L621.4 571.0L622.2 572.5L623.0 574.2L623.9 576.1L624.7 578.3L625.6 580.6L626.4 583.0L627.2 585.5L628.1 588.1L628.9 590.8L629.7 593.4L630.6 596.0L631.4 598.5L632.2 601.0L633.1 603.3L633.9 605.4L634.7 607.4L635.6 609.1L636.4 610.6L637.2 611.8L638.1 612.8L638.9 613.5"/>
<path fill="none" stroke="#ffa500" stroke-width="0.9" d="M594.7 613.4L595.5 612.8L596.3 612.0L597.2 611.0L598.0 609.8L598.8 608.4L599.7 606.8L600.5 605.0L601.3 603.2L602.2 601.2L603.0 599.1L603.8 596.9L604.7 594.7L605.5 592.4L606.3 590.1L607.2 587.8L608.0 585.6L608.8 583.3L609.7 581.2L610.5 579.2L611.4 577.3L612.2 575.5L613.0 573.8L613.9 572.3L614.7 571.0L615.5 569.9L616.4 569.0L617.2 568.3L618.0 567.9L618.9 567.6L619.7 567.6L620.5 567.9L621.4 568.5L622.2 569.5L623.0 570.7L623.9 572.2L624.7 574.0L625.6 576.0L626.4 578.2L627.2 580.6L628.1 583.2L628.9 585.8L629.7 588.6L630.6 591.3L631.4 594.1L632.2 596.8L633.1 599.4L633.9 601.9L634.7 604.2L635.6 606.4L636.4 608.3L637.2 610.0L638.1 611.4L638.9 612.5L639.7 613.3"/>
<path fill="none" stroke="#4169e1" stroke-width="0.7" stroke-dasharray="1 1" d="M595.5 613.3L596.3 612.5L597.2 611.5L598.0 610.2L598.8 608.7L599.7 607.0L600.5 605.1L601.3 603.0L602.2 600.8L603.0 598.5L603.8 596.0L604.7 593.6L605.5 591.0L606.3 588.5L607.2 586.0L608.0 583.6L608.8 581.2L609.7 579.0L610.5 576.9L611.4 574.9L612.2 573.2L613.0 571.6L613.9 570.3L614.7 569.3L615.5 568.4L616.4 567.9L617.2 567.6L618.0 567.6L618.9 567.9L619.7 568.6L620.5 569.5L621.4 570.7L622.2 572.2L623.0 573.9L623.9 575.9L624.7 578.0L625.6 580.4L626.4 582.8L627.2 585.4L628.1 588.1L628.9 590.8L629.7 593.5L630.6 596.1L631.4 598.7L632.2 601.2L633.1 603.5L633.9 605.7L634.7 607.7L635.6 609.4L636.4 610.9L637.2 612.1L638.1 613.0L638.9 613.6"/>
<path fill="none" stroke="#8b0000" stroke-width="1.0" stroke-dasharray="1.6 1.2" d="M597.2 613.4L598.0 612.6L598.8 611.5L599.7 610.1L600.5 608.5L601.3 606.6L602.2 604.5L603.0 602.1L603.8 599.7L604.7 597.1L605.5 594.4L606.3 591.6L607.2 588.8L608.0 586.1L608.8 583.5L609.7 580.9L610.5 578.5L611.4 576.2L612.2 574.2L613.0 572.4L613.9 570.8L614.7 569.6L615.5 568.6L616.4 567.9L617.2 567.6L618.0 567.6L618.9 568.0L619.7 568.6L620.5 569.7L621.4 571.0L622.2 572.6L623.0 574.5L623.9 576.6L624.7 578.9L625.6 581.4L626.4 584.1L627.2 586.8L628.1 589.7L628.9 592.5L629.7 595.3L630.6 598.0L631.4 600.6L632.2 603.1L633.1 605.4L633.9 607.5L634.7 609.3L635.6 610.9L636.4 612.1L637.2 613.1"/>
<path fill="none" stroke="#40e0d0" stroke-width="0.9" d="M648.9 664.5L649.8 663.9L650.6 663.0L651.4 661.4L652.3 659.0L653.1 655.5L653.9 650.9L654.8 645.2L655.6 638.8L656.5 632.1L657.3 626.0L658.1 621.4L659.0 618.9L659.8 618.7L660.6 619.6L661.5 621.4L662.3 623.8L663.1 626.9L664.0 630.4L664.8 634.2L665.6 638.1L666.5 642.0L667.3 645.7L668.1 649.1L669.0 652.1L669.8 654.8L670.7 657.1L671.5 658.9L672.3 660.5L673.2 661.7L674.0 662.6L674.8 663.3L675.7 663.8L676.5 664.2L677.3 664.5L678.2 664.7"/>
<path fill="none" stroke="#ffa500" stroke-width="0.9" d="M648.1 664.4L648.9 663.9L649.8 663.0L650.6 661.6L651.4 659.4L652.3 656.3L653.1 652.2L653.9 647.1L654.8 641.2L655.6 634.9L656.5 628.8L657.3 623.6L658.1 620.1L659.0 618.6L659.8 618.9L660.6 620.0L661.5 621.9L662.3 624.3L663.1 627.3L664.0 630.7L664.8 634.4L665.6 638.1L666.5 641.7L667.3 645.3L668.1 648.5L669.0 651.5L669.8 654.2L670.7 656.4L671.5 658.3L672.3 659.9L673.2 661.2L674.0 662.2L674.8 663.0L675.7 663.6L676.5 664.0L677.3 664.3L678.2 664.5L679.0 664.7"/>
<path fill="none" stroke="#4169e1" stroke-width="0.7" stroke-dasharray="1 1" d="M650.6 664.6L651.4 664.0L652.3 662.8L653.1 660.5L653.9 656.7L654.8 651.1L655.6 643.7L656.5 635.3L657.3 627.3L658.1 621.2L659.0 618.7L659.8 619.5L660.6 622.5L661.5 627.2L662.3 633.0L663.1 639.2L664.0 645.3L664.8 650.6L665.6 655.0L666.5 658.4L667.3 660.9L668.1 662.5L669.0 663.6L669.8 664.2L670.7 664.6"/>
<path fill="none" stroke="#8b0000" stroke-width="1.0" stroke-dasharray="1.6 1.2" d="M653.1 664.5L653.9 663.2L654.8 660.3L655.6 654.4L656.5 645.1L657.3 633.6L658.1 623.4L659.0 618.7L659.8 621.5L660.6 630.4L661.5 641.6L662.3 651.6L663.1 658.5L664.0 662.4L664.8 664.1"/>
<path fill="none" stroke="#40e0d0" stroke-width="0.9" d="M699.0 715.6L699.9 715.2L700.7 714.5L701.6 713.3L702.4 711.4L703.2 708.6L704.1 704.8L704.9 700.0L705.7 694.2L706.6 687.9L707.4 681.6L708.2 676.0L709.1 671.9L709.9 669.8L710.7 669.9L711.6 671.6L712.4 674.5L713.2 678.5L714.1 683.1L714.9 688.1L715.7 693.1L716.6 697.8L717.4 702.0L718.3 705.6L719.1 708.5L719.9 710.8L720.8 712.5L721.6 713.7L722.4 714.6L723.3 715.1L724.1 715.5L724.9 715.7"/>
<path fill="none" stroke="#ffa500" stroke-width="0.9" d="M696.5 715.6L697.4 715.3L698.2 714.7L699.0 713.9L699.9 712.7L700.7 711.0L701.6 708.7L702.4 705.8L703.2 702.1L704.1 697.8L704.9 693.0L705.7 687.8L706.6 682.7L707.4 677.9L708.2 674.0L709.1 671.2L709.9 669.8L710.7 669.8L711.6 670.7L712.4 672.3L713.2 674.6L714.1 677.5L714.9 680.7L715.7 684.2L716.6 687.9L717.4 691.6L718.3 695.1L719.1 698.5L719.9 701.6L720.8 704.3L721.6 706.7L722.4 708.7L723.3 710.4L724.1 711.8L724.9 712.9L725.8 713.7L726.6 714.4L727.4 714.9L728.3 715.2L729.1 715.5L729.9 715.7"/>
<path fill="none" stroke="#4169e1" stroke-width="0.7" stroke-dasharray="1 1" d="M703.2 715.5L704.1 714.5L704.9 712.5L705.7 708.5L706.6 702.2L707.4 693.4L708.2 683.6L709.1 674.9L709.9 670.1L710.7 670.2L711.6 673.4L712.4 678.8L713.2 685.5L714.1 692.6L714.9 699.1L715.7 704.6L716.6 708.8L717.4 711.7L718.3 713.6L719.1 714.8L719.9 715.4"/>
<path fill="none" stroke="#8b0000" stroke-width="1.0" stroke-dasharray="1.6 1.2" d="M705.7 714.9L706.6 712.0L707.4 705.3L708.2 693.5L709.1 679.7L709.9 670.5L710.7 671.0L711.6 678.0L712.4 688.4L713.2 698.7L714.1 706.7L714.9 711.7L715.7 714.3L716.6 715.5"/>
<path fill="none" stroke="#40e0d0" stroke-width="0.9" d="M751.7 766.7L752.5 766.6L753.3 766.3L754.2 765.9L755.0 765.5L755.8 764.8L756.7 764.0L757.5 762.9L758.3 761.5L759.2 759.9L760.0 757.9L760.8 755.5L761.7 752.8L762.5 749.8L763.4 746.5L764.2 742.9L765.0 739.3L765.9 735.6L766.7 732.0L767.5 728.7L768.4 725.9L769.2 723.5L770.0 721.8L770.9 720.9L771.7 720.8L772.5 721.7L773.4 723.6L774.2 726.5L775.0 730.2L775.9 734.3L776.7 738.7L777.6 743.1L778.4 747.3L779.2 751.2L780.1 754.6L780.9 757.5L781.7 759.9L782.6 761.9L783.4 763.4L784.2 764.5L785.1 765.4L785.9 766.0L786.7 766.4L787.6 766.6"/>
<path fill="none" stroke="#ffa500" stroke-width="0.9" d="M751.7 766.7L752.5 766.6L753.3 766.3L754.2 765.9L755.0 765.5L755.8 764.8L756.7 764.0L757.5 762.9L758.3 761.5L759.2 759.9L760.0 757.9L760.8 755.5L761.7 752.8L762.5 749.8L763.4 746.5L764.2 742.9L765.0 739.3L765.9 735.6L766.7 732.0L767.5 728.7L768.4 725.9L769.2 723.5L770.0 721.8L770.9 720.9L771.7 720.8L772.5 721.7L773.4 723.6L774.2 726.5L775.0 730.2L775.9 734.3L776.7 738.7L777.6 743.1L778.4 747.3L779.2 751.2L780.1 754.6L780.9 757.5L781.7 759.9L782.6 761.9L783.4 763.4L784.2 764.5L785.1 765.4L785.9 766.0L786.7 766.4L787.6 766.6"/>
<path fill="none" stroke="#4169e1" stroke-width="0.7" stroke-dasharray="1 1" d="M760.8 766.8L761.7 766.4L762.5 765.8L763.4 764.6L764.2 762.6L765.0 759.7L765.9 755.5L766.7 750.1L767.5 743.7L768.4 736.7L769.2 730.1L770.0 724.7L770.9 721.4L771.7 720.8L772.5 723.1L773.4 727.7L774.2 734.0L775.0 740.9L775.9 747.6L776.7 753.5L777.6 758.2L778.4 761.6L779.2 763.9L780.1 765.4L780.9 766.2L781.7 766.7"/>
<path fill="none" stroke="#8b0000" stroke-width="1.0" stroke-dasharray="1.6 1.2" d="M765.0 766.6L765.9 765.5L766.7 763.1L767.5 758.3L768.4 750.5L769.2 740.3L770.0 729.8L770.9 722.4L771.7 721.0L772.5 725.4L773.4 733.8L774.2 743.7L775.0 752.6L775.9 759.2L776.7 763.3L777.6 765.5L778.4 766.5"/>
<path d="M60.39 1.50v51.04M60.39 52.54v51.04M40.10 79.97h50.11M113.39 52.54v51.04M60.39 103.58v51.04M40.10 130.40h50.11M113.39 103.58v51.04M90.21 130.40h50.11M164.10 103.58v51.04M60.39 154.62v51.04M40.10 179.99h50.11M113.39 154.62v51.04M90.21 179.99h50.11M164.10 154.62v51.04M140.32 179.99h50.11M215.64 154.62v51.04M60.39 205.66v51.04M40.10 231.28h50.11M113.39 205.66v51.04M90.21 231.28h50.11M164.10 205.66v51.04M140.32 231.28h50.11M215.64 205.66v51.04M190.43 231.28h50.11M265.49 205.66v51.04M60.39 256.70v51.04M40.10 282.37h50.11M113.39 256.70v51.04M90.21 282.37h50.11M164.10 256.70v51.04M140.32 282.37h50.11M215.64 256.70v51.04M190.43 282.37h50.11M265.49 256.70v51.04M240.54 282.37h50.11M315.55 256.70v51.04M60.39 307.74v51.04M40.10 330.38h50.11M113.39 307.74v51.04M90.21 330.38h50.11M164.10 307.74v51.04M140.32 330.38h50.11M215.64 307.74v51.04M190.43 330.38h50.11M265.49 307.74v51.04M240.54 330.38h50.11M315.55 307.74v51.04M290.65 330.38h50.11M368.65 307.74v51.04M60.39 358.78v51.04M40.10 383.94h50.11M113.39 358.78v51.04M90.21 383.94h50.11M164.10 358.78v51.04M140.32 383.94h50.11M215.64 358.78v51.04M190.43 383.94h50.11M265.49 358.78v51.04M240.54 383.94h50.11M315.55 358.78v51.04M290.65 383.94h50.11M368.65 358.78v51.04M340.76 383.94h50.11M416.28 358.78v51.04M60.39 409.82v51.04M40.10 435.08h50.11M113.39 409.82v51.04M90.21 435.08h50.11M164.10 409.82v51.04M140.32 435.08h50.11M215.64 409.82v51.04M190.43 435.08h50.11M265.49 409.82v51.04M240.54 435.08h50.11M315.55 409.82v51.04M290.65 435.08h50.11M368.65 409.82v51.04M340.76 435.08h50.11M416.28 409.82v51.04M390.87 435.08h50.11M466.29 409.82v51.04M60.39 460.86v51.04M40.10 486.38h50.11M113.39 460.86v51.04M90.21 486.38h50.11M164.10 460.86v51.04M140.32 486.38h50.11M215.64 460.86v51.04M190.43 486.38h50.11M265.49 460.86v51.04M240.54 486.38h50.11M315.55 460.86v51.04M290.65 486.38h50.11M368.65 460.86v51.04M340.76 486.38h50.11M416.28 460.86v51.04M390.87 486.38h50.11M466.29 460.86v51.04M440.98 486.38h50.11M516.14 460.86v51.04M60.39 511.90v51.04M40.10 534.33h50.11M113.39 511.90v51.04M90.21 534.33h50.11M164.10 511.90v51.04M140.32 534.33h50.11M215.64 511.90v51.04M190.43 534.33h50.11M265.49 511.90v51.04M240.54 534.33h50.11M315.55 511.90v51.04M290.65 534.33h50.11M368.65 511.90v51.04M340.76 534.33h50.11M416.28 511.90v51.04M390.87 534.33h50.11M466.29 511.90v51.04M440.98 534.33h50.11M516.14 511.90v51.04M491.09 534.33h50.11M569.29 511.90v51.04M60.39 562.94v51.04M40.10 588.36h50.11M113.39 562.94v51.04M90.21 588.36h50.11M164.10 562.94v51.04M140.32 588.36h50.11M215.64 562.94v51.04M190.43 588.36h50.11M265.49 562.94v51.04M240.54 588.36h50.11M315.55 562.94v51.04M290.65 588.36h50.11M368.65 562.94v51.04M340.76 588.36h50.11M416.28 562.94v51.04M390.87 588.36h50.11M466.29 562.94v51.04M440.98 588.36h50.11M516.14 562.94v51.04M491.09 588.36h50.11M569.29 562.94v51.04M541.20 588.36h50.11M616.47 562.94v51.04M60.39 613.98v51.04M40.10 646.70h50.11M113.39 613.98v51.04M90.21 646.70h50.11M164.10 613.98v51.04M140.32 646.70h50.11M215.64 613.98v51.04M190.43 646.70h50.11M265.49 613.98v51.04M240.54 646.70h50.11M315.55 613.98v51.04M290.65 646.70h50.11M368.65 613.98v51.04M340.76 646.70h50.11M416.28 613.98v51.04M390.87 646.70h50.11M466.29 613.98v51.04M440.98 646.70h50.11M516.14 613.98v51.04M491.09 646.70h50.11M569.29 613.98v51.04M541.20 646.70h50.11M616.47 613.98v51.04M591.31 646.70h50.11M659.41 613.98v51.04M60.39 665.02v51.04M40.10 696.38h50.11M113.39 665.02v51.04M90.21 696.38h50.11M164.10 665.02v51.04M140.32 696.38h50.11M215.64 665.02v51.04M190.43 696.38h50.11M265.49 665.02v51.04M240.54 696.38h50.11M315.55 665.02v51.04M290.65 696.38h50.11M368.65 665.02v51.04M340.76 696.38h50.11M416.28 665.02v51.04M390.87 696.38h50.11M466.29 665.02v51.04M440.98 696.38h50.11M516.14 665.02v51.04M491.09 696.38h50.11M569.29 665.02v51.04M541.20 696.38h50.11M616.47 665.02v51.04M591.31 696.38h50.11M659.41 665.02v51.04M641.42 696.38h50.11M710.85 665.02v51.04M60.39 716.06v51.04M40.10 736.32h50.11M113.39 716.06v51.04M90.21 736.32h50.11M164.10 716.06v51.04M140.32 736.32h50.11M215.64 716.06v51.04M190.43 736.32h50.11M265.49 716.06v51.04M240.54 736.32h50.11M315.55 716.06v51.04M290.65 736.32h50.11M368.65 716.06v51.04M340.76 736.32h50.11M416.28 716.06v51.04M390.87 736.32h50.11M466.29 716.06v51.04M440.98 736.32h50.11M516.14 716.06v51.04M491.09 736.32h50.11M569.29 716.06v51.04M541.20 736.32h50.11M616.47 716.06v51.04M591.31 736.32h50.11M659.41 716.06v51.04M641.42 736.32h50.11M710.85 716.06v51.04M691.53 736.32h50.11M771.86 716.06v51.04" stroke="#000" stroke-opacity=".7" stroke-width=".5" fill="none"/>
<path d="M40.10 52.54v-51.04M40.10 1.50h50.11M40.10 103.58v-51.04M40.10 52.54h50.11M90.21 103.58v-51.04M90.21 52.54h50.11M40.10 154.62v-51.04M40.10 103.58h50.11M90.21 154.62v-51.04M90.21 103.58h50.11M140.32 154.62v-51.04M140.32 103.58h50.11M40.10 205.66v-51.04M40.10 154.62h50.11M90.21 205.66v-51.04M90.21 154.62h50.11M140.32 205.66v-51.04M140.32 154.62h50.11M190.43 205.66v-51.04M190.43 154.62h50.11M40.10 256.70v-51.04M40.10 205.66h50.11M90.21 256.70v-51.04M90.21 205.66h50.11M140.32 256.70v-51.04M140.32 205.66h50.11M190.43 256.70v-51.04M190.43 205.66h50.11M240.54 256.70v-51.04M240.54 205.66h50.11M40.10 307.74v-51.04M40.10 256.70h50.11M90.21 307.74v-51.04M90.21 256.70h50.11M140.32 307.74v-51.04M140.32 256.70h50.11M190.43 307.74v-51.04M190.43 256.70h50.11M240.54 307.74v-51.04M240.54 256.70h50.11M290.65 307.74v-51.04M290.65 256.70h50.11M40.10 358.78v-51.04M40.10 307.74h50.11M90.21 358.78v-51.04M90.21 307.74h50.11M140.32 358.78v-51.04M140.32 307.74h50.11M190.43 358.78v-51.04M190.43 307.74h50.11M240.54 358.78v-51.04M240.54 307.74h50.11M290.65 358.78v-51.04M290.65 307.74h50.11M340.76 358.78v-51.04M340.76 307.74h50.11M40.10 409.82v-51.04M40.10 358.78h50.11M90.21 409.82v-51.04M90.21 358.78h50.11M140.32 409.82v-51.04M140.32 358.78h50.11M190.43 409.82v-51.04M190.43 358.78h50.11M240.54 409.82v-51.04M240.54 358.78h50.11M290.65 409.82v-51.04M290.65 358.78h50.11M340.76 409.82v-51.04M340.76 358.78h50.11M390.87 409.82v-51.04M390.87 358.78h50.11M40.10 460.86v-51.04M40.10 409.82h50.11M90.21 460.86v-51.04M90.21 409.82h50.11M140.32 460.86v-51.04M140.32 409.82h50.11M190.43 460.86v-51.04M190.43 409.82h50.11M240.54 460.86v-51.04M240.54 409.82h50.11M290.65 460.86v-51.04M290.65 409.82h50.11M340.76 460.86v-51.04M340.76 409.82h50.11M390.87 460.86v-51.04M390.87 409.82h50.11M440.98 460.86v-51.04M440.98 409.82h50.11M40.10 511.90v-51.04M40.10 460.86h50.11M90.21 511.90v-51.04M90.21 460.86h50.11M140.32 511.90v-51.04M140.32 460.86h50.11M190.43 511.90v-51.04M190.43 460.86h50.11M240.54 511.90v-51.04M240.54 460.86h50.11M290.65 511.90v-51.04M290.65 460.86h50.11M340.76 511.90v-51.04M340.76 460.86h50.11M390.87 511.90v-51.04M390.87 460.86h50.11M440.98 511.90v-51.04M440.98 460.86h50.11M491.09 511.90v-51.04M491.09 460.86h50.11M40.10 562.94v-51.04M40.10 511.90h50.11M90.21 562.94v-51.04M90.21 511.90h50.11M140.32 562.94v-51.04M140.32 511.90h50.11M190.43 562.94v-51.04M190.43 511.90h50.11M240.54 562.94v-51.04M240.54 511.90h50.11M290.65 562.94v-51.04M290.65 511.90h50.11M340.76 562.94v-51.04M340.76 511.90h50.11M390.87 562.94v-51.04M390.87 511.90h50.11M440.98 562.94v-51.04M440.98 511.90h50.11M491.09 562.94v-51.04M491.09 511.90h50.11M541.20 562.94v-51.04M541.20 511.90h50.11M40.10 613.98v-51.04M40.10 562.94h50.11M90.21 613.98v-51.04M90.21 562.94h50.11M140.32 613.98v-51.04M140.32 562.94h50.11M190.43 613.98v-51.04M190.43 562.94h50.11M240.54 613.98v-51.04M240.54 562.94h50.11M290.65 613.98v-51.04M290.65 562.94h50.11M340.76 613.98v-51.04M340.76 562.94h50.11M390.87 613.98v-51.04M390.87 562.94h50.11M440.98 613.98v-51.04M440.98 562.94h50.11M491.09 613.98v-51.04M491.09 562.94h50.11M541.20 613.98v-51.04M541.20 562.94h50.11M591.31 613.98v-51.04M591.31 562.94h50.11M40.10 665.02v-51.04M40.10 613.98h50.11M90.21 665.02v-51.04M90.21 613.98h50.11M140.32 665.02v-51.04M140.32 613.98h50.11M190.43 665.02v-51.04M190.43 613.98h50.11M240.54 665.02v-51.04M240.54 613.98h50.11M290.65 665.02v-51.04M290.65 613.98h50.11M340.76 665.02v-51.04M340.76 613.98h50.11M390.87 665.02v-51.04M390.87 613.98h50.11M440.98 665.02v-51.04M440.98 613.98h50.11M491.09 665.02v-51.04M491.09 613.98h50.11M541.20 665.02v-51.04M541.20 613.98h50.11M591.31 665.02v-51.04M591.31 613.98h50.11M641.42 665.02v-51.04M641.42 613.98h50.11M40.10 716.06v-51.04M40.10 665.02h50.11M90.21 716.06v-51.04M90.21 665.02h50.11M140.32 716.06v-51.04M140.32 665.02h50.11M190.43 716.06v-51.04M190.43 665.02h50.11M240.54 716.06v-51.04M240.54 665.02h50.11M290.65 716.06v-51.04M290.65 665.02h50.11M340.76 716.06v-51.04M340.76 665.02h50.11M390.87 716.06v-51.04M390.87 665.02h50.11M440.98 716.06v-51.04M440.98 665.02h50.11M491.09 716.06v-51.04M491.09 665.02h50.11M541.20 716.06v-51.04M541.20 665.02h50.11M591.31 716.06v-51.04M591.31 665.02h50.11M641.42 716.06v-51.04M641.42 665.02h50.11M691.53 716.06v-51.04M691.53 665.02h50.11M40.10 767.10v-51.04M40.10 716.06h50.11M90.21 767.10v-51.04M90.21 716.06h50.11M140.32 767.10v-51.04M140.32 716.06h50.11M190.43 767.10v-51.04M190.43 716.06h50.11M240.54 767.10v-51.04M240.54 716.06h50.11M290.65 767.10v-51.04M290.65 716.06h50.11M340.76 767.10v-51.04M340.76 716.06h50.11M390.87 767.10v-51.04M390.87 716.06h50.11M440.98 767.10v-51.04M440.98 716.06h50.11M491.09 767.10v-51.04M491.09 716.06h50.11M541.20 767.10v-51.04M541.20 716.06h50.11M591.31 767.10v-51.04M591.31 716.06h50.11M641.42 767.10v-51.04M641.42 716.06h50.11M691.53 767.10v-51.04M691.53 716.06h50.11M741.64 767.10v-51.04M741.64 716.06h50.11" stroke="#000" stroke-opacity=".9" stroke-width=".5" fill="none"/>
<path d="M90.21 1.50v51.04M90.21 52.54h-50.11M90.21 52.54v51.04M90.21 103.58h-50.11M140.32 52.54v51.04M140.32 103.58h-50.11M90.21 103.58v51.04M90.21 154.62h-50.11M140.32 103.58v51.04M140.32 154.62h-50.11M190.43 103.58v51.04M190.43 154.62h-50.11M90.21 154.62v51.04M90.21 205.66h-50.11M140.32 154.62v51.04M140.32 205.66h-50.11M190.43 154.62v51.04M190.43 205.66h-50.11M240.54 154.62v51.04M240.54 205.66h-50.11M90.21 205.66v51.04M90.21 256.70h-50.11M140.32 205.66v51.04M140.32 256.70h-50.11M190.43 205.66v51.04M190.43 256.70h-50.11M240.54 205.66v51.04M240.54 256.70h-50.11M290.65 205.66v51.04M290.65 256.70h-50.11M90.21 256.70v51.04M90.21 307.74h-50.11M140.32 256.70v51.04M140.32 307.74h-50.11M190.43 256.70v51.04M190.43 307.74h-50.11M240.54 256.70v51.04M240.54 307.74h-50.11M290.65 256.70v51.04M290.65 307.74h-50.11M340.76 256.70v51.04M340.76 307.74h-50.11M90.21 307.74v51.04M90.21 358.78h-50.11M140.32 307.74v51.04M140.32 358.78h-50.11M190.43 307.74v51.04M190.43 358.78h-50.11M240.54 307.74v51.04M240.54 358.78h-50.11M290.65 307.74v51.04M290.65 358.78h-50.11M340.76 307.74v51.04M340.76 358.78h-50.11M390.87 307.74v51.04M390.87 358.78h-50.11M90.21 358.78v51.04M90.21 409.82h-50.11M140.32 358.78v51.04M140.32 409.82h-50.11M190.43 358.78v51.04M190.43 409.82h-50.11M240.54 358.78v51.04M240.54 409.82h-50.11M290.65 358.78v51.04M290.65 409.82h-50.11M340.76 358.78v51.04M340.76 409.82h-50.11M390.87 358.78v51.04M390.87 409.82h-50.11M440.98 358.78v51.04M440.98 409.82h-50.11M90.21 409.82v51.04M90.21 460.86h-50.11M140.32 409.82v51.04M140.32 460.86h-50.11M190.43 409.82v51.04M190.43 460.86h-50.11M240.54 409.82v51.04M240.54 460.86h-50.11M290.65 409.82v51.04M290.65 460.86h-50.11M340.76 409.82v51.04M340.76 460.86h-50.11M390.87 409.82v51.04M390.87 460.86h-50.11M440.98 409.82v51.04M440.98 460.86h-50.11M491.09 409.82v51.04M491.09 460.86h-50.11M90.21 460.86v51.04M90.21 511.90h-50.11M140.32 460.86v51.04M140.32 511.90h-50.11M190.43 460.86v51.04M190.43 511.90h-50.11M240.54 460.86v51.04M240.54 511.90h-50.11M290.65 460.86v51.04M290.65 511.90h-50.11M340.76 460.86v51.04M340.76 511.90h-50.11M390.87 460.86v51.04M390.87 511.90h-50.11M440.98 460.86v51.04M440.98 511.90h-50.11M491.09 460.86v51.04M491.09 511.90h-50.11M541.20 460.86v51.04M541.20 511.90h-50.11M90.21 511.90v51.04M90.21 562.94h-50.11M140.32 511.90v51.04M140.32 562.94h-50.11M190.43 511.90v51.04M190.43 562.94h-50.11M240.54 511.90v51.04M240.54 562.94h-50.11M290.65 511.90v51.04M290.65 562.94h-50.11M340.76 511.90v51.04M340.76 562.94h-50.11M390.87 511.90v51.04M390.87 562.94h-50.11M440.98 511.90v51.04M440.98 562.94h-50.11M491.09 511.90v51.04M491.09 562.94h-50.11M541.20 511.90v51.04M541.20 562.94h-50.11M591.31 511.90v51.04M591.31 562.94h-50.11M90.21 562.94v51.04M90.21 613.98h-50.11M140.32 562.94v51.04M140.32 613.98h-50.11M190.43 562.94v51.04M190.43 613.98h-50.11M240.54 562.94v51.04M240.54 613.98h-50.11M290.65 562.94v51.04M290.65 613.98h-50.11M340.76 562.94v51.04M340.76 613.98h-50.11M390.87 562.94v51.04M390.87 613.98h-50.11M440.98 562.94v51.04M440.98 613.98h-50.11M491.09 562.94v51.04M491.09 613.98h-50.11M541.20 562.94v51.04M541.20 613.98h-50.11M591.31 562.94v51.04M591.31 613.98h-50.11M641.42 562.94v51.04M641.42 613.98h-50.11M90.21 613.98v51.04M90.21 665.02h-50.11M140.32 613.98v51.04M140.32 665.02h-50.11M190.43 613.98v51.04M190.43 665.02h-50.11M240.54 613.98v51.04M240.54 665.02h-50.11M290.65 613.98v51.04M290.65 665.02h-50.11M340.76 613.98v51.04M340.76 665.02h-50.11M390.87 613.98v51.04M390.87 665.02h-50.11M440.98 613.98v51.04M440.98 665.02h-50.11M491.09 613.98v51.04M491.09 665.02h-50.11M541.20 613.98v51.04M541.20 665.02h-50.11M591.31 613.98v51.04M591.31 665.02h-50.11M641.42 613.98v51.04M641.42 665.02h-50.11M691.53 613.98v51.04M691.53 665.02h-50.11M90.21 665.02v51.04M90.21 716.06h-50.11M140.32 665.02v51.04M140.32 716.06h-50.11M190.43 665.02v51.04M190.43 716.06h-50.11M240.54 665.02v51.04M240.54 716.06h-50.11M290.65 665.02v51.04M290.65 716.06h-50.11M340.76 665.02v51.04M340.76 716.06h-50.11M390.87 665.02v51.04M390.87 716.06h-50.11M440.98 665.02v51.04M440.98 716.06h-50.11M491.09 665.02v51.04M491.09 716.06h-50.11M541.20 665.02v51.04M541.20 716.06h-50.11M591.31 665.02v51.04M591.31 716.06h-50.11M641.42 665.02v51.04M641.42 716.06h-50.11M691.53 665.02v51.04M691.53 716.06h-50.11M741.64 665.02v51.04M741.64 716.06h-50.11M90.21 716.06v51.04M90.21 767.10h-50.11M140.32 716.06v51.04M140.32 767.10h-50.11M190.43 716.06v51.04M190.43 767.10h-50.11M240.54 716.06v51.04M240.54 767.10h-50.11M290.65 716.06v51.04M290.65 767.10h-50.11M340.76 716.06v51.04M340.76 767.10h-50.11M390.87 716.06v51.04M390.87 767.10h-50.11M440.98 716.06v51.04M440.98 767.10h-50.11M491.09 716.06v51.04M491.09 767.10h-50.11M541.20 716.06v51.04M541.20 767.10h-50.11M591.31 716.06v51.04M591.31 767.10h-50.11M641.42 716.06v51.04M641.42 767.10h-50.11M691.53 716.06v51.04M691.53 767.10h-50.11M741.64 716.06v51.04M741.64 767.10h-50.11M791.75 716.06v51.04M791.75 767.10h-50.11" stroke="#000" stroke-opacity=".9" stroke-width=".5" fill="none"/>
<path d="M53.2 52.5v-1.6M53.2 1.5v1.6M73.8 52.5v-1.6M73.8 1.5v1.6M53.2 103.6v-1.6M53.2 52.5v1.6M73.8 103.6v-1.6M73.8 52.5v1.6M40.1 60.1h1.6M90.2 60.1h-1.6M40.1 79.9h1.6M90.2 79.9h-1.6M113.7 103.6v-1.6M113.7 52.5v1.6M53.2 154.6v-1.6M53.2 103.6v1.6M73.8 154.6v-1.6M73.8 103.6v1.6M40.1 115.0h1.6M90.2 115.0h-1.6M40.1 133.8h1.6M90.2 133.8h-1.6M113.7 154.6v-1.6M113.7 103.6v1.6M90.2 115.0h1.6M140.3 115.0h-1.6M90.2 133.8h1.6M140.3 133.8h-1.6M169.7 154.6v-1.6M169.7 103.6v1.6M53.2 205.7v-1.6M53.2 154.6v1.6M73.8 205.7v-1.6M73.8 154.6v1.6M40.1 160.8h1.6M90.2 160.8h-1.6M40.1 181.5h1.6M90.2 181.5h-1.6M113.7 205.7v-1.6M113.7 154.6v1.6M90.2 160.8h1.6M140.3 160.8h-1.6M90.2 181.5h1.6M140.3 181.5h-1.6M169.7 205.7v-1.6M169.7 154.6v1.6M140.3 160.8h1.6M190.4 160.8h-1.6M140.3 181.5h1.6M190.4 181.5h-1.6M200.4 205.7v-1.6M200.4 154.6v1.6M227.7 205.7v-1.6M227.7 154.6v1.6M53.2 256.7v-1.6M53.2 205.7v1.6M73.8 256.7v-1.6M73.8 205.7v1.6M40.1 218.0h1.6M90.2 218.0h-1.6M40.1 231.5h1.6M90.2 231.5h-1.6M40.1 244.7h1.6M90.2 244.7h-1.6M113.7 256.7v-1.6M113.7 205.7v1.6M90.2 218.0h1.6M140.3 218.0h-1.6M90.2 231.5h1.6M140.3 231.5h-1.6M90.2 244.7h1.6M140.3 244.7h-1.6M169.7 256.7v-1.6M169.7 205.7v1.6M140.3 218.0h1.6M190.4 218.0h-1.6M140.3 231.5h1.6M190.4 231.5h-1.6M140.3 244.7h1.6M190.4 244.7h-1.6M200.4 256.7v-1.6M200.4 205.7v1.6M227.7 256.7v-1.6M227.7 205.7v1.6M190.4 218.0h1.6M240.5 218.0h-1.6M190.4 231.5h1.6M240.5 231.5h-1.6M190.4 244.7h1.6M240.5 244.7h-1.6M252.2 256.7v-1.6M252.2 205.7v1.6M278.7 256.7v-1.6M278.7 205.7v1.6M53.2 307.7v-1.6M53.2 256.7v1.6M73.8 307.7v-1.6M73.8 256.7v1.6M40.1 268.0h1.6M90.2 268.0h-1.6M40.1 281.7h1.6M90.2 281.7h-1.6M40.1 295.8h1.6M90.2 295.8h-1.6M113.7 307.7v-1.6M113.7 256.7v1.6M90.2 268.0h1.6M140.3 268.0h-1.6M90.2 281.7h1.6M140.3 281.7h-1.6M90.2 295.8h1.6M140.3 295.8h-1.6M169.7 307.7v-1.6M169.7 256.7v1.6M140.3 268.0h1.6M190.4 268.0h-1.6M140.3 281.7h1.6M190.4 281.7h-1.6M140.3 295.8h1.6M190.4 295.8h-1.6M200.4 307.7v-1.6M200.4 256.7v1.6M227.7 307.7v-1.6M227.7 256.7v1.6M190.4 268.0h1.6M240.5 268.0h-1.6M190.4 281.7h1.6M240.5 281.7h-1.6M190.4 295.8h1.6M240.5 295.8h-1.6M252.2 307.7v-1.6M252.2 256.7v1.6M278.7 307.7v-1.6M278.7 256.7v1.6M240.5 268.0h1.6M290.6 268.0h-1.6M240.5 281.7h1.6M290.6 281.7h-1.6M240.5 295.8h1.6M290.6 295.8h-1.6M301.9 307.7v-1.6M301.9 256.7v1.6M328.9 307.7v-1.6M328.9 256.7v1.6M53.2 358.8v-1.6M53.2 307.7v1.6M73.8 358.8v-1.6M73.8 307.7v1.6M40.1 324.0h1.6M90.2 324.0h-1.6M40.1 346.3h1.6M90.2 346.3h-1.6M113.7 358.8v-1.6M113.7 307.7v1.6M90.2 324.0h1.6M140.3 324.0h-1.6M90.2 346.3h1.6M140.3 346.3h-1.6M169.7 358.8v-1.6M169.7 307.7v1.6M140.3 324.0h1.6M190.4 324.0h-1.6M140.3 346.3h1.6M190.4 346.3h-1.6M200.4 358.8v-1.6M200.4 307.7v1.6M227.7 358.8v-1.6M227.7 307.7v1.6M190.4 324.0h1.6M240.5 324.0h-1.6M190.4 346.3h1.6M240.5 346.3h-1.6M252.2 358.8v-1.6M252.2 307.7v1.6M278.7 358.8v-1.6M278.7 307.7v1.6M240.5 324.0h1.6M290.6 324.0h-1.6M240.5 346.3h1.6M290.6 346.3h-1.6M301.9 358.8v-1.6M301.9 307.7v1.6M328.9 358.8v-1.6M328.9 307.7v1.6M290.7 324.0h1.6M340.8 324.0h-1.6M290.7 346.3h1.6M340.8 346.3h-1.6M352.3 358.8v-1.6M352.3 307.7v1.6M374.5 358.8v-1.6M374.5 307.7v1.6M53.2 409.8v-1.6M53.2 358.8v1.6M73.8 409.8v-1.6M73.8 358.8v1.6M40.1 373.5h1.6M90.2 373.5h-1.6M40.1 403.4h1.6M90.2 403.4h-1.6M113.7 409.8v-1.6M113.7 358.8v1.6M90.2 373.5h1.6M140.3 373.5h-1.6M90.2 403.4h1.6M140.3 403.4h-1.6M169.7 409.8v-1.6M169.7 358.8v1.6M140.3 373.5h1.6M190.4 373.5h-1.6M140.3 403.4h1.6M190.4 403.4h-1.6M200.4 409.8v-1.6M200.4 358.8v1.6M227.7 409.8v-1.6M227.7 358.8v1.6M190.4 373.5h1.6M240.5 373.5h-1.6M190.4 403.4h1.6M240.5 403.4h-1.6M252.2 409.8v-1.6M252.2 358.8v1.6M278.7 409.8v-1.6M278.7 358.8v1.6M240.5 373.5h1.6M290.6 373.5h-1.6M240.5 403.4h1.6M290.6 403.4h-1.6M301.9 409.8v-1.6M301.9 358.8v1.6M328.9 409.8v-1.6M328.9 358.8v1.6M290.7 373.5h1.6M340.8 373.5h-1.6M290.7 403.4h1.6M340.8 403.4h-1.6M352.3 409.8v-1.6M352.3 358.8v1.6M374.5 409.8v-1.6M374.5 358.8v1.6M340.8 373.5h1.6M390.9 373.5h-1.6M340.8 403.4h1.6M390.9 403.4h-1.6M402.8 409.8v-1.6M402.8 358.8v1.6M425.5 409.8v-1.6M425.5 358.8v1.6M53.2 460.9v-1.6M53.2 409.8v1.6M73.8 460.9v-1.6M73.8 409.8v1.6M40.1 419.0h1.6M90.2 419.0h-1.6M40.1 435.7h1.6M90.2 435.7h-1.6M40.1 452.9h1.6M90.2 452.9h-1.6M113.7 460.9v-1.6M113.7 409.8v1.6M90.2 419.0h1.6M140.3 419.0h-1.6M90.2 435.7h1.6M140.3 435.7h-1.6M90.2 452.9h1.6M140.3 452.9h-1.6M169.7 460.9v-1.6M169.7 409.8v1.6M140.3 419.0h1.6M190.4 419.0h-1.6M140.3 435.7h1.6M190.4 435.7h-1.6M140.3 452.9h1.6M190.4 452.9h-1.6M200.4 460.9v-1.6M200.4 409.8v1.6M227.7 460.9v-1.6M227.7 409.8v1.6M190.4 419.0h1.6M240.5 419.0h-1.6M190.4 435.7h1.6M240.5 435.7h-1.6M190.4 452.9h1.6M240.5 452.9h-1.6M252.2 460.9v-1.6M252.2 409.8v1.6M278.7 460.9v-1.6M278.7 409.8v1.6M240.5 419.0h1.6M290.6 419.0h-1.6M240.5 435.7h1.6M290.6 435.7h-1.6M240.5 452.9h1.6M290.6 452.9h-1.6M301.9 460.9v-1.6M301.9 409.8v1.6M328.9 460.9v-1.6M328.9 409.8v1.6M290.7 419.0h1.6M340.8 419.0h-1.6M290.7 435.7h1.6M340.8 435.7h-1.6M290.7 452.9h1.6M340.8 452.9h-1.6M352.3 460.9v-1.6M352.3 409.8v1.6M374.5 460.9v-1.6M374.5 409.8v1.6M340.8 419.0h1.6M390.9 419.0h-1.6M340.8 435.7h1.6M390.9 435.7h-1.6M340.8 452.9h1.6M390.9 452.9h-1.6M402.8 460.9v-1.6M402.8 409.8v1.6M425.5 460.9v-1.6M425.5 409.8v1.6M390.9 419.0h1.6M441.0 419.0h-1.6M390.9 435.7h1.6M441.0 435.7h-1.6M390.9 452.9h1.6M441.0 452.9h-1.6M448.5 460.9v-1.6M448.5 409.8v1.6M464.9 460.9v-1.6M464.9 409.8v1.6M481.3 460.9v-1.6M481.3 409.8v1.6M53.2 511.9v-1.6M53.2 460.9v1.6M73.8 511.9v-1.6M73.8 460.9v1.6M40.1 467.4h1.6M90.2 467.4h-1.6M40.1 486.5h1.6M90.2 486.5h-1.6M40.1 505.3h1.6M90.2 505.3h-1.6M113.7 511.9v-1.6M113.7 460.9v1.6M90.2 467.4h1.6M140.3 467.4h-1.6M90.2 486.5h1.6M140.3 486.5h-1.6M90.2 505.3h1.6M140.3 505.3h-1.6M169.7 511.9v-1.6M169.7 460.9v1.6M140.3 467.4h1.6M190.4 467.4h-1.6M140.3 486.5h1.6M190.4 486.5h-1.6M140.3 505.3h1.6M190.4 505.3h-1.6M200.4 511.9v-1.6M200.4 460.9v1.6M227.7 511.9v-1.6M227.7 460.9v1.6M190.4 467.4h1.6M240.5 467.4h-1.6M190.4 486.5h1.6M240.5 486.5h-1.6M190.4 505.3h1.6M240.5 505.3h-1.6M252.2 511.9v-1.6M252.2 460.9v1.6M278.7 511.9v-1.6M278.7 460.9v1.6M240.5 467.4h1.6M290.6 467.4h-1.6M240.5 486.5h1.6M290.6 486.5h-1.6M240.5 505.3h1.6M290.6 505.3h-1.6M301.9 511.9v-1.6M301.9 460.9v1.6M328.9 511.9v-1.6M328.9 460.9v1.6M290.7 467.4h1.6M340.8 467.4h-1.6M290.7 486.5h1.6M340.8 486.5h-1.6M290.7 505.3h1.6M340.8 505.3h-1.6M352.3 511.9v-1.6M352.3 460.9v1.6M374.5 511.9v-1.6M374.5 460.9v1.6M340.8 467.4h1.6M390.9 467.4h-1.6M340.8 486.5h1.6M390.9 486.5h-1.6M340.8 505.3h1.6M390.9 505.3h-1.6M402.8 511.9v-1.6M402.8 460.9v1.6M425.5 511.9v-1.6M425.5 460.9v1.6M390.9 467.4h1.6M441.0 467.4h-1.6M390.9 486.5h1.6M441.0 486.5h-1.6M390.9 505.3h1.6M441.0 505.3h-1.6M448.5 511.9v-1.6M448.5 460.9v1.6M464.9 511.9v-1.6M464.9 460.9v1.6M481.3 511.9v-1.6M481.3 460.9v1.6M441.0 467.4h1.6M491.1 467.4h-1.6M441.0 486.5h1.6M491.1 486.5h-1.6M441.0 505.3h1.6M491.1 505.3h-1.6M515.3 511.9v-1.6M515.3 460.9v1.6M53.2 562.9v-1.6M53.2 511.9v1.6M73.8 562.9v-1.6M73.8 511.9v1.6M40.1 528.3h1.6M90.2 528.3h-1.6M40.1 553.4h1.6M90.2 553.4h-1.6M113.7 562.9v-1.6M113.7 511.9v1.6M90.2 528.3h1.6M140.3 528.3h-1.6M90.2 553.4h1.6M140.3 553.4h-1.6M169.7 562.9v-1.6M169.7 511.9v1.6M140.3 528.3h1.6M190.4 528.3h-1.6M140.3 553.4h1.6M190.4 553.4h-1.6M200.4 562.9v-1.6M200.4 511.9v1.6M227.7 562.9v-1.6M227.7 511.9v1.6M190.4 528.3h1.6M240.5 528.3h-1.6M190.4 553.4h1.6M240.5 553.4h-1.6M252.2 562.9v-1.6M252.2 511.9v1.6M278.7 562.9v-1.6M278.7 511.9v1.6M240.5 528.3h1.6M290.6 528.3h-1.6M240.5 553.4h1.6M290.6 553.4h-1.6M301.9 562.9v-1.6M301.9 511.9v1.6M328.9 562.9v-1.6M328.9 511.9v1.6M290.7 528.3h1.6M340.8 528.3h-1.6M290.7 553.4h1.6M340.8 553.4h-1.6M352.3 562.9v-1.6M352.3 511.9v1.6M374.5 562.9v-1.6M374.5 511.9v1.6M340.8 528.3h1.6M390.9 528.3h-1.6M340.8 553.4h1.6M390.9 553.4h-1.6M402.8 562.9v-1.6M402.8 511.9v1.6M425.5 562.9v-1.6M425.5 511.9v1.6M390.9 528.3h1.6M441.0 528.3h-1.6M390.9 553.4h1.6M441.0 553.4h-1.6M448.5 562.9v-1.6M448.5 511.9v1.6M464.9 562.9v-1.6M464.9 511.9v1.6M481.3 562.9v-1.6M481.3 511.9v1.6M441.0 528.3h1.6M491.1 528.3h-1.6M441.0 553.4h1.6M491.1 553.4h-1.6M515.3 562.9v-1.6M515.3 511.9v1.6M491.1 528.3h1.6M541.2 528.3h-1.6M491.1 553.4h1.6M541.2 553.4h-1.6M549.4 562.9v-1.6M549.4 511.9v1.6M574.4 562.9v-1.6M574.4 511.9v1.6M53.2 614.0v-1.6M53.2 562.9v1.6M73.8 614.0v-1.6M73.8 562.9v1.6M40.1 570.0h1.6M90.2 570.0h-1.6M40.1 588.3h1.6M90.2 588.3h-1.6M40.1 606.8h1.6M90.2 606.8h-1.6M113.7 614.0v-1.6M113.7 562.9v1.6M90.2 570.0h1.6M140.3 570.0h-1.6M90.2 588.3h1.6M140.3 588.3h-1.6M90.2 606.8h1.6M140.3 606.8h-1.6M169.7 614.0v-1.6M169.7 562.9v1.6M140.3 570.0h1.6M190.4 570.0h-1.6M140.3 588.3h1.6M190.4 588.3h-1.6M140.3 606.8h1.6M190.4 606.8h-1.6M200.4 614.0v-1.6M200.4 562.9v1.6M227.7 614.0v-1.6M227.7 562.9v1.6M190.4 570.0h1.6M240.5 570.0h-1.6M190.4 588.3h1.6M240.5 588.3h-1.6M190.4 606.8h1.6M240.5 606.8h-1.6M252.2 614.0v-1.6M252.2 562.9v1.6M278.7 614.0v-1.6M278.7 562.9v1.6M240.5 570.0h1.6M290.6 570.0h-1.6M240.5 588.3h1.6M290.6 588.3h-1.6M240.5 606.8h1.6M290.6 606.8h-1.6M301.9 614.0v-1.6M301.9 562.9v1.6M328.9 614.0v-1.6M328.9 562.9v1.6M290.7 570.0h1.6M340.8 570.0h-1.6M290.7 588.3h1.6M340.8 588.3h-1.6M290.7 606.8h1.6M340.8 606.8h-1.6M352.3 614.0v-1.6M352.3 562.9v1.6M374.5 614.0v-1.6M374.5 562.9v1.6M340.8 570.0h1.6M390.9 570.0h-1.6M340.8 588.3h1.6M390.9 588.3h-1.6M340.8 606.8h1.6M390.9 606.8h-1.6M402.8 614.0v-1.6M402.8 562.9v1.6M425.5 614.0v-1.6M425.5 562.9v1.6M390.9 570.0h1.6M441.0 570.0h-1.6M390.9 588.3h1.6M441.0 588.3h-1.6M390.9 606.8h1.6M441.0 606.8h-1.6M448.5 614.0v-1.6M448.5 562.9v1.6M464.9 614.0v-1.6M464.9 562.9v1.6M481.3 614.0v-1.6M481.3 562.9v1.6M441.0 570.0h1.6M491.1 570.0h-1.6M441.0 588.3h1.6M491.1 588.3h-1.6M441.0 606.8h1.6M491.1 606.8h-1.6M515.3 614.0v-1.6M515.3 562.9v1.6M491.1 570.0h1.6M541.2 570.0h-1.6M491.1 588.3h1.6M541.2 588.3h-1.6M491.1 606.8h1.6M541.2 606.8h-1.6M549.4 614.0v-1.6M549.4 562.9v1.6M574.4 614.0v-1.6M574.4 562.9v1.6M541.2 570.0h1.6M591.3 570.0h-1.6M541.2 588.3h1.6M591.3 588.3h-1.6M541.2 606.8h1.6M591.3 606.8h-1.6M605.1 614.0v-1.6M605.1 562.9v1.6M626.5 614.0v-1.6M626.5 562.9v1.6M53.2 665.0v-1.6M53.2 614.0v1.6M73.8 665.0v-1.6M73.8 614.0v1.6M40.1 620.8h1.6M90.2 620.8h-1.6M40.1 638.3h1.6M90.2 638.3h-1.6M40.1 654.7h1.6M90.2 654.7h-1.6M113.7 665.0v-1.6M113.7 614.0v1.6M90.2 620.8h1.6M140.3 620.8h-1.6M90.2 638.3h1.6M140.3 638.3h-1.6M90.2 654.7h1.6M140.3 654.7h-1.6M169.7 665.0v-1.6M169.7 614.0v1.6M140.3 620.8h1.6M190.4 620.8h-1.6M140.3 638.3h1.6M190.4 638.3h-1.6M140.3 654.7h1.6M190.4 654.7h-1.6M200.4 665.0v-1.6M200.4 614.0v1.6M227.7 665.0v-1.6M227.7 614.0v1.6M190.4 620.8h1.6M240.5 620.8h-1.6M190.4 638.3h1.6M240.5 638.3h-1.6M190.4 654.7h1.6M240.5 654.7h-1.6M252.2 665.0v-1.6M252.2 614.0v1.6M278.7 665.0v-1.6M278.7 614.0v1.6M240.5 620.8h1.6M290.6 620.8h-1.6M240.5 638.3h1.6M290.6 638.3h-1.6M240.5 654.7h1.6M290.6 654.7h-1.6M301.9 665.0v-1.6M301.9 614.0v1.6M328.9 665.0v-1.6M328.9 614.0v1.6M290.7 620.8h1.6M340.8 620.8h-1.6M290.7 638.3h1.6M340.8 638.3h-1.6M290.7 654.7h1.6M340.8 654.7h-1.6M352.3 665.0v-1.6M352.3 614.0v1.6M374.5 665.0v-1.6M374.5 614.0v1.6M340.8 620.8h1.6M390.9 620.8h-1.6M340.8 638.3h1.6M390.9 638.3h-1.6M340.8 654.7h1.6M390.9 654.7h-1.6M402.8 665.0v-1.6M402.8 614.0v1.6M425.5 665.0v-1.6M425.5 614.0v1.6M390.9 620.8h1.6M441.0 620.8h-1.6M390.9 638.3h1.6M441.0 638.3h-1.6M390.9 654.7h1.6M441.0 654.7h-1.6M448.5 665.0v-1.6M448.5 614.0v1.6M464.9 665.0v-1.6M464.9 614.0v1.6M481.3 665.0v-1.6M481.3 614.0v1.6M441.0 620.8h1.6M491.1 620.8h-1.6M441.0 638.3h1.6M491.1 638.3h-1.6M441.0 654.7h1.6M491.1 654.7h-1.6M515.3 665.0v-1.6M515.3 614.0v1.6M491.1 620.8h1.6M541.2 620.8h-1.6M491.1 638.3h1.6M541.2 638.3h-1.6M491.1 654.7h1.6M541.2 654.7h-1.6M549.4 665.0v-1.6M549.4 614.0v1.6M574.4 665.0v-1.6M574.4 614.0v1.6M541.2 620.8h1.6M591.3 620.8h-1.6M541.2 638.3h1.6M591.3 638.3h-1.6M541.2 654.7h1.6M591.3 654.7h-1.6M605.1 665.0v-1.6M605.1 614.0v1.6M626.5 665.0v-1.6M626.5 614.0v1.6M591.3 620.8h1.6M641.4 620.8h-1.6M591.3 638.3h1.6M641.4 638.3h-1.6M591.3 654.7h1.6M641.4 654.7h-1.6M656.0 665.0v-1.6M656.0 614.0v1.6M678.7 665.0v-1.6M678.7 614.0v1.6M53.2 716.1v-1.6M53.2 665.0v1.6M73.8 716.1v-1.6M73.8 665.0v1.6M40.1 671.9h1.6M90.2 671.9h-1.6M40.1 701.8h1.6M90.2 701.8h-1.6M113.7 716.1v-1.6M113.7 665.0v1.6M90.2 671.9h1.6M140.3 671.9h-1.6M90.2 701.8h1.6M140.3 701.8h-1.6M169.7 716.1v-1.6M169.7 665.0v1.6M140.3 671.9h1.6M190.4 671.9h-1.6M140.3 701.8h1.6M190.4 701.8h-1.6M200.4 716.1v-1.6M200.4 665.0v1.6M227.7 716.1v-1.6M227.7 665.0v1.6M190.4 671.9h1.6M240.5 671.9h-1.6M190.4 701.8h1.6M240.5 701.8h-1.6M252.2 716.1v-1.6M252.2 665.0v1.6M278.7 716.1v-1.6M278.7 665.0v1.6M240.5 671.9h1.6M290.6 671.9h-1.6M240.5 701.8h1.6M290.6 701.8h-1.6M301.9 716.1v-1.6M301.9 665.0v1.6M328.9 716.1v-1.6M328.9 665.0v1.6M290.7 671.9h1.6M340.8 671.9h-1.6M290.7 701.8h1.6M340.8 701.8h-1.6M352.3 716.1v-1.6M352.3 665.0v1.6M374.5 716.1v-1.6M374.5 665.0v1.6M340.8 671.9h1.6M390.9 671.9h-1.6M340.8 701.8h1.6M390.9 701.8h-1.6M402.8 716.1v-1.6M402.8 665.0v1.6M425.5 716.1v-1.6M425.5 665.0v1.6M390.9 671.9h1.6M441.0 671.9h-1.6M390.9 701.8h1.6M441.0 701.8h-1.6M448.5 716.1v-1.6M448.5 665.0v1.6M464.9 716.1v-1.6M464.9 665.0v1.6M481.3 716.1v-1.6M481.3 665.0v1.6M441.0 671.9h1.6M491.1 671.9h-1.6M441.0 701.8h1.6M491.1 701.8h-1.6M515.3 716.1v-1.6M515.3 665.0v1.6M491.1 671.9h1.6M541.2 671.9h-1.6M491.1 701.8h1.6M541.2 701.8h-1.6M549.4 716.1v-1.6M549.4 665.0v1.6M574.4 716.1v-1.6M574.4 665.0v1.6M541.2 671.9h1.6M591.3 671.9h-1.6M541.2 701.8h1.6M591.3 701.8h-1.6M605.1 716.1v-1.6M605.1 665.0v1.6M626.5 716.1v-1.6M626.5 665.0v1.6M591.3 671.9h1.6M641.4 671.9h-1.6M591.3 701.8h1.6M641.4 701.8h-1.6M656.0 716.1v-1.6M656.0 665.0v1.6M678.7 716.1v-1.6M678.7 665.0v1.6M641.4 671.9h1.6M691.5 671.9h-1.6M641.4 701.8h1.6M691.5 701.8h-1.6M704.0 716.1v-1.6M704.0 665.0v1.6M729.2 716.1v-1.6M729.2 665.0v1.6M53.2 767.1v-1.6M53.2 716.1v1.6M73.8 767.1v-1.6M73.8 716.1v1.6M40.1 724.5h1.6M90.2 724.5h-1.6M40.1 741.2h1.6M90.2 741.2h-1.6M40.1 758.4h1.6M90.2 758.4h-1.6M113.7 767.1v-1.6M113.7 716.1v1.6M90.2 724.5h1.6M140.3 724.5h-1.6M90.2 741.2h1.6M140.3 741.2h-1.6M90.2 758.4h1.6M140.3 758.4h-1.6M169.7 767.1v-1.6M169.7 716.1v1.6M140.3 724.5h1.6M190.4 724.5h-1.6M140.3 741.2h1.6M190.4 741.2h-1.6M140.3 758.4h1.6M190.4 758.4h-1.6M200.4 767.1v-1.6M200.4 716.1v1.6M227.7 767.1v-1.6M227.7 716.1v1.6M190.4 724.5h1.6M240.5 724.5h-1.6M190.4 741.2h1.6M240.5 741.2h-1.6M190.4 758.4h1.6M240.5 758.4h-1.6M252.2 767.1v-1.6M252.2 716.1v1.6M278.7 767.1v-1.6M278.7 716.1v1.6M240.5 724.5h1.6M290.6 724.5h-1.6M240.5 741.2h1.6M290.6 741.2h-1.6M240.5 758.4h1.6M290.6 758.4h-1.6M301.9 767.1v-1.6M301.9 716.1v1.6M328.9 767.1v-1.6M328.9 716.1v1.6M290.7 724.5h1.6M340.8 724.5h-1.6M290.7 741.2h1.6M340.8 741.2h-1.6M290.7 758.4h1.6M340.8 758.4h-1.6M352.3 767.1v-1.6M352.3 716.1v1.6M374.5 767.1v-1.6M374.5 716.1v1.6M340.8 724.5h1.6M390.9 724.5h-1.6M340.8 741.2h1.6M390.9 741.2h-1.6M340.8 758.4h1.6M390.9 758.4h-1.6M402.8 767.1v-1.6M402.8 716.1v1.6M425.5 767.1v-1.6M425.5 716.1v1.6M390.9 724.5h1.6M441.0 724.5h-1.6M390.9 741.2h1.6M441.0 741.2h-1.6M390.9 758.4h1.6M441.0 758.4h-1.6M448.5 767.1v-1.6M448.5 716.1v1.6M464.9 767.1v-1.6M464.9 716.1v1.6M481.3 767.1v-1.6M481.3 716.1v1.6M441.0 724.5h1.6M491.1 724.5h-1.6M441.0 741.2h1.6M491.1 741.2h-1.6M441.0 758.4h1.6M491.1 758.4h-1.6M515.3 767.1v-1.6M515.3 716.1v1.6M491.1 724.5h1.6M541.2 724.5h-1.6M491.1 741.2h1.6M541.2 741.2h-1.6M491.1 758.4h1.6M541.2 758.4h-1.6M549.4 767.1v-1.6M549.4 716.1v1.6M574.4 767.1v-1.6M574.4 716.1v1.6M541.2 724.5h1.6M591.3 724.5h-1.6M541.2 741.2h1.6M591.3 741.2h-1.6M541.2 758.4h1.6M591.3 758.4h-1.6M605.1 767.1v-1.6M605.1 716.1v1.6M626.5 767.1v-1.6M626.5 716.1v1.6M591.3 724.5h1.6M641.4 724.5h-1.6M591.3 741.2h1.6M641.4 741.2h-1.6M591.3 758.4h1.6M641.4 758.4h-1.6M656.0 767.1v-1.6M656.0 716.1v1.6M678.7 767.1v-1.6M678.7 716.1v1.6M641.4 724.5h1.6M691.5 724.5h-1.6M641.4 741.2h1.6M691.5 741.2h-1.6M641.4 758.4h1.6M691.5 758.4h-1.6M704.0 767.1v-1.6M704.0 716.1v1.6M729.2 767.1v-1.6M729.2 716.1v1.6M691.5 724.5h1.6M741.6 724.5h-1.6M691.5 741.2h1.6M741.6 741.2h-1.6M691.5 758.4h1.6M741.6 758.4h-1.6M754.4 767.1v-1.6M754.4 716.1v1.6M777.1 767.1v-1.6M777.1 716.1v1.6" stroke="#000" stroke-opacity=".8" stroke-width=".6" fill="none"/>
<rect x="376.5" y="1.5" width="78.5" height="97" rx="2.5" fill="#fff" stroke="#ccc" stroke-opacity=".8" stroke-width=".8"/>
<rect x="382.4" y="9.1" width="31.8" height="10.8" fill="#40e0d0" fill-opacity="1"/>
<rect x="382.4" y="32.1" width="31.8" height="10.8" fill="#ffa500" fill-opacity="0.9"/>
<rect x="382.4" y="55.2" width="31.8" height="10.8" fill="#4169e1" fill-opacity="0.8"/>
<rect x="382.4" y="78.2" width="31.8" height="10.8" fill="#8b0000" fill-opacity="0.6"/>
<g opacity=".99">
<text x="427.2" y="19.6" font-size="16.2" textLength="18.4" lengthAdjust="spacingAndGlyphs">vg</text>
<text x="427.2" y="42.7" font-size="16.2" textLength="17.8" lengthAdjust="spacingAndGlyphs">vv</text>
<text x="427.2" y="65.8" font-size="16.2" textLength="19.0" lengthAdjust="spacingAndGlyphs">gg</text>
<text x="427.2" y="88.7" font-size="16.2" textLength="21.2" lengthAdjust="spacingAndGlyphs">tot</text>
<text x="38.4" y="63.1" font-size="8.6" text-anchor="end" textLength="17.7" lengthAdjust="spacingAndGlyphs">0.14</text>
<text x="38.4" y="82.9" font-size="8.6" text-anchor="end" textLength="17.7" lengthAdjust="spacingAndGlyphs">0.12</text>
<text x="38.4" y="118.0" font-size="8.6" text-anchor="end" textLength="22.8" lengthAdjust="spacingAndGlyphs">0.024</text>
<text x="38.4" y="136.8" font-size="8.6" text-anchor="end" textLength="22.8" lengthAdjust="spacingAndGlyphs">0.022</text>
<text x="38.4" y="163.8" font-size="8.6" text-anchor="end" textLength="12.6" lengthAdjust="spacingAndGlyphs">0.9</text>
<text x="38.4" y="184.5" font-size="8.6" text-anchor="end" textLength="12.6" lengthAdjust="spacingAndGlyphs">0.8</text>
<text x="38.4" y="221.0" font-size="8.6" text-anchor="end" textLength="19.3" lengthAdjust="spacingAndGlyphs">−0.8</text>
<text x="38.4" y="234.5" font-size="8.6" text-anchor="end" textLength="19.3" lengthAdjust="spacingAndGlyphs">−1.0</text>
<text x="38.4" y="247.7" font-size="8.6" text-anchor="end" textLength="19.3" lengthAdjust="spacingAndGlyphs">−1.2</text>
<text x="38.4" y="271.0" font-size="8.6" text-anchor="end" textLength="12.6" lengthAdjust="spacingAndGlyphs">0.5</text>
<text x="38.4" y="284.7" font-size="8.6" text-anchor="end" textLength="12.6" lengthAdjust="spacingAndGlyphs">0.0</text>
<text x="38.4" y="298.8" font-size="8.6" text-anchor="end" textLength="19.3" lengthAdjust="spacingAndGlyphs">−0.5</text>
<text x="38.4" y="327.0" font-size="8.6" text-anchor="end" textLength="12.6" lengthAdjust="spacingAndGlyphs">0.7</text>
<text x="38.4" y="349.3" font-size="8.6" text-anchor="end" textLength="12.6" lengthAdjust="spacingAndGlyphs">0.6</text>
<text x="38.4" y="376.5" font-size="8.6" text-anchor="end" textLength="12.6" lengthAdjust="spacingAndGlyphs">1.0</text>
<text x="38.4" y="406.4" font-size="8.6" text-anchor="end" textLength="12.6" lengthAdjust="spacingAndGlyphs">0.9</text>
<text x="38.4" y="422.0" font-size="8.6" text-anchor="end" textLength="5.1" lengthAdjust="spacingAndGlyphs">3</text>
<text x="38.4" y="438.7" font-size="8.6" text-anchor="end" textLength="5.1" lengthAdjust="spacingAndGlyphs">2</text>
<text x="38.4" y="455.9" font-size="8.6" text-anchor="end" textLength="5.1" lengthAdjust="spacingAndGlyphs">1</text>
<text x="38.4" y="470.4" font-size="8.6" text-anchor="end" textLength="17.7" lengthAdjust="spacingAndGlyphs">0.04</text>
<text x="38.4" y="489.5" font-size="8.6" text-anchor="end" textLength="17.7" lengthAdjust="spacingAndGlyphs">0.00</text>
<text x="38.4" y="508.3" font-size="8.6" text-anchor="end" textLength="24.4" lengthAdjust="spacingAndGlyphs">−0.04</text>
<text x="38.4" y="531.3" font-size="8.6" text-anchor="end" textLength="12.6" lengthAdjust="spacingAndGlyphs">1.0</text>
<text x="38.4" y="556.4" font-size="8.6" text-anchor="end" textLength="12.6" lengthAdjust="spacingAndGlyphs">0.5</text>
<text x="38.4" y="573.0" font-size="8.6" text-anchor="end" textLength="12.6" lengthAdjust="spacingAndGlyphs">1.0</text>
<text x="38.4" y="591.3" font-size="8.6" text-anchor="end" textLength="12.6" lengthAdjust="spacingAndGlyphs">0.5</text>
<text x="38.4" y="609.8" font-size="8.6" text-anchor="end" textLength="12.6" lengthAdjust="spacingAndGlyphs">0.0</text>
<text x="38.4" y="623.8" font-size="8.6" text-anchor="end" textLength="17.7" lengthAdjust="spacingAndGlyphs">14.8</text>
<text x="38.4" y="641.3" font-size="8.6" text-anchor="end" textLength="17.7" lengthAdjust="spacingAndGlyphs">14.5</text>
<text x="38.4" y="657.7" font-size="8.6" text-anchor="end" textLength="17.7" lengthAdjust="spacingAndGlyphs">14.2</text>
<text x="38.4" y="674.9" font-size="8.6" text-anchor="end" textLength="17.7" lengthAdjust="spacingAndGlyphs">13.5</text>
<text x="38.4" y="704.8" font-size="8.6" text-anchor="end" textLength="17.7" lengthAdjust="spacingAndGlyphs">13.0</text>
<text x="38.4" y="727.5" font-size="8.6" text-anchor="end" textLength="19.3" lengthAdjust="spacingAndGlyphs">−0.3</text>
<text x="38.4" y="744.2" font-size="8.6" text-anchor="end" textLength="19.3" lengthAdjust="spacingAndGlyphs">−0.6</text>
<text x="38.4" y="761.4" font-size="8.6" text-anchor="end" textLength="19.3" lengthAdjust="spacingAndGlyphs">−0.9</text>
<text x="53.2" y="775.0" font-size="8.6" text-anchor="middle" textLength="12.6" lengthAdjust="spacingAndGlyphs">0.6</text>
<text x="73.8" y="775.0" font-size="8.6" text-anchor="middle" textLength="12.6" lengthAdjust="spacingAndGlyphs">0.7</text>
<text x="113.7" y="775.0" font-size="8.6" text-anchor="middle" textLength="17.7" lengthAdjust="spacingAndGlyphs">0.12</text>
<text x="169.7" y="775.0" font-size="8.6" text-anchor="middle" textLength="22.8" lengthAdjust="spacingAndGlyphs">0.023</text>
<text x="200.4" y="775.0" font-size="8.6" text-anchor="middle" textLength="17.7" lengthAdjust="spacingAndGlyphs">0.75</text>
<text x="227.7" y="775.0" font-size="8.6" text-anchor="middle" textLength="17.7" lengthAdjust="spacingAndGlyphs">0.87</text>
<text x="252.2" y="775.0" font-size="8.6" text-anchor="middle" textLength="19.3" lengthAdjust="spacingAndGlyphs">−1.2</text>
<text x="278.7" y="775.0" font-size="8.6" text-anchor="middle" textLength="19.3" lengthAdjust="spacingAndGlyphs">−0.8</text>
<text x="301.9" y="775.0" font-size="8.6" text-anchor="middle" textLength="19.3" lengthAdjust="spacingAndGlyphs">−0.5</text>
<text x="328.9" y="775.0" font-size="8.6" text-anchor="middle" textLength="12.6" lengthAdjust="spacingAndGlyphs">0.5</text>
<text x="352.3" y="775.0" font-size="8.6" text-anchor="middle" textLength="12.6" lengthAdjust="spacingAndGlyphs">0.6</text>
<text x="374.5" y="775.0" font-size="8.6" text-anchor="middle" textLength="12.6" lengthAdjust="spacingAndGlyphs">0.7</text>
<text x="402.8" y="775.0" font-size="8.6" text-anchor="middle" textLength="17.7" lengthAdjust="spacingAndGlyphs">0.92</text>
<text x="425.5" y="775.0" font-size="8.6" text-anchor="middle" textLength="17.7" lengthAdjust="spacingAndGlyphs">1.00</text>
<text x="448.5" y="775.0" font-size="8.6" text-anchor="middle" textLength="5.1" lengthAdjust="spacingAndGlyphs">1</text>
<text x="464.9" y="775.0" font-size="8.6" text-anchor="middle" textLength="5.1" lengthAdjust="spacingAndGlyphs">2</text>
<text x="481.3" y="775.0" font-size="8.6" text-anchor="middle" textLength="5.1" lengthAdjust="spacingAndGlyphs">3</text>
<text x="515.3" y="775.0" font-size="8.6" text-anchor="middle" textLength="5.1" lengthAdjust="spacingAndGlyphs">0</text>
<text x="549.4" y="775.0" font-size="8.6" text-anchor="middle" textLength="12.6" lengthAdjust="spacingAndGlyphs">0.5</text>
<text x="574.4" y="775.0" font-size="8.6" text-anchor="middle" textLength="12.6" lengthAdjust="spacingAndGlyphs">1.0</text>
<text x="605.1" y="775.0" font-size="8.6" text-anchor="middle" textLength="12.6" lengthAdjust="spacingAndGlyphs">0.2</text>
<text x="626.5" y="775.0" font-size="8.6" text-anchor="middle" textLength="12.6" lengthAdjust="spacingAndGlyphs">0.8</text>
<text x="656.0" y="775.0" font-size="8.6" text-anchor="middle" textLength="17.7" lengthAdjust="spacingAndGlyphs">14.3</text>
<text x="678.7" y="775.0" font-size="8.6" text-anchor="middle" textLength="17.7" lengthAdjust="spacingAndGlyphs">14.7</text>
<text x="704.0" y="775.0" font-size="8.6" text-anchor="middle" textLength="17.7" lengthAdjust="spacingAndGlyphs">13.0</text>
<text x="729.2" y="775.0" font-size="8.6" text-anchor="middle" textLength="17.7" lengthAdjust="spacingAndGlyphs">13.4</text>
<text x="754.4" y="775.0" font-size="8.6" text-anchor="middle" textLength="19.3" lengthAdjust="spacingAndGlyphs">−0.8</text>
<text x="777.1" y="775.0" font-size="8.6" text-anchor="middle" textLength="19.3" lengthAdjust="spacingAndGlyphs">−0.4</text>
<text x="65.2" y="788.5" font-size="11.5" font-style="italic" text-anchor="middle">f</text>
<text x="115.3" y="788.5" font-size="11.5" font-style="italic" text-anchor="middle">ω<tspan font-size="8.0" dy="2.2">cdm</tspan></text>
<text x="10.6" y="78.1" font-size="11.5" font-style="italic" text-anchor="middle" transform="rotate(-90 10.6 78.1)">ω<tspan font-size="8.0" dy="2.2">cdm</tspan></text>
<text x="165.4" y="788.5" font-size="11.5" font-style="italic" text-anchor="middle">ω<tspan font-size="8.0" dy="2.2">b</tspan></text>
<text x="10.6" y="129.1" font-size="11.5" font-style="italic" text-anchor="middle" transform="rotate(-90 10.6 129.1)">ω<tspan font-size="8.0" dy="2.2">b</tspan></text>
<text x="215.5" y="788.5" font-size="11.5" font-style="italic" text-anchor="middle">σ<tspan font-size="8.0" dy="2.2">8</tspan></text>
<text x="10.6" y="180.1" font-size="11.5" font-style="italic" text-anchor="middle" transform="rotate(-90 10.6 180.1)">σ<tspan font-size="8.0" dy="2.2">8</tspan></text>
<text x="265.6" y="788.5" font-size="11.5" font-style="italic" text-anchor="middle">w<tspan font-size="8.0" dy="2.2">0</tspan></text>
<text x="10.6" y="231.2" font-size="11.5" font-style="italic" text-anchor="middle" transform="rotate(-90 10.6 231.2)">w<tspan font-size="8.0" dy="2.2">0</tspan></text>
<text x="315.7" y="788.5" font-size="11.5" font-style="italic" text-anchor="middle">w<tspan font-size="8.0" dy="2.2">a</tspan></text>
<text x="10.6" y="282.2" font-size="11.5" font-style="italic" text-anchor="middle" transform="rotate(-90 10.6 282.2)">w<tspan font-size="8.0" dy="2.2">a</tspan></text>
<text x="365.8" y="788.5" font-size="11.5" font-style="italic" text-anchor="middle">h</text>
<text x="10.6" y="333.3" font-size="11.5" font-style="italic" text-anchor="middle" transform="rotate(-90 10.6 333.3)">h</text>
<text x="415.9" y="788.5" font-size="11.5" font-style="italic" text-anchor="middle">n<tspan font-size="8.0" dy="2.2">s</tspan></text>
<text x="10.6" y="384.3" font-size="11.5" font-style="italic" text-anchor="middle" transform="rotate(-90 10.6 384.3)">n<tspan font-size="8.0" dy="2.2">s</tspan></text>
<text x="466.0" y="788.5" font-size="11.5" font-style="italic" text-anchor="middle">N<tspan font-size="8.0" dy="2.2">ur</tspan></text>
<text x="10.6" y="435.3" font-size="11.5" font-style="italic" text-anchor="middle" transform="rotate(-90 10.6 435.3)">N<tspan font-size="8.0" dy="2.2">ur</tspan></text>
<text x="516.1" y="788.5" font-size="11.5" font-style="italic" text-anchor="middle">α<tspan font-size="8.0" dy="2.2">s</tspan></text>
<text x="10.6" y="486.4" font-size="11.5" font-style="italic" text-anchor="middle" transform="rotate(-90 10.6 486.4)">α<tspan font-size="8.0" dy="2.2">s</tspan></text>
<text x="566.3" y="788.5" font-size="11.5" font-style="italic" text-anchor="middle">α</text>
<text x="10.6" y="537.4" font-size="11.5" font-style="italic" text-anchor="middle" transform="rotate(-90 10.6 537.4)">α</text>
<text x="616.4" y="788.5" font-size="11.5" font-style="italic" text-anchor="middle">κ</text>
<text x="10.6" y="588.5" font-size="11.5" font-style="italic" text-anchor="middle" transform="rotate(-90 10.6 588.5)">κ</text>
<text x="666.5" y="788.5" font-size="11.5" font-style="italic" text-anchor="middle">logM<tspan font-style="normal">1</tspan></text>
<text x="10.6" y="639.5" font-size="11.5" font-style="italic" text-anchor="middle" transform="rotate(-90 10.6 639.5)">logM<tspan font-style="normal">1</tspan></text>
<text x="716.6" y="788.5" font-size="11.5" font-style="italic" text-anchor="middle">logM<tspan font-size="8.0" dy="2.2">cut</tspan></text>
<text x="10.6" y="690.5" font-size="11.5" font-style="italic" text-anchor="middle" transform="rotate(-90 10.6 690.5)">logM<tspan font-size="8.0" dy="2.2">cut</tspan></text>
<text x="766.7" y="788.5" font-size="11.5" font-style="italic" text-anchor="middle">logσ</text>
<text x="10.6" y="741.6" font-size="11.5" font-style="italic" text-anchor="middle" transform="rotate(-90 10.6 741.6)">logσ</text>
</g>
</svg></body></html>
